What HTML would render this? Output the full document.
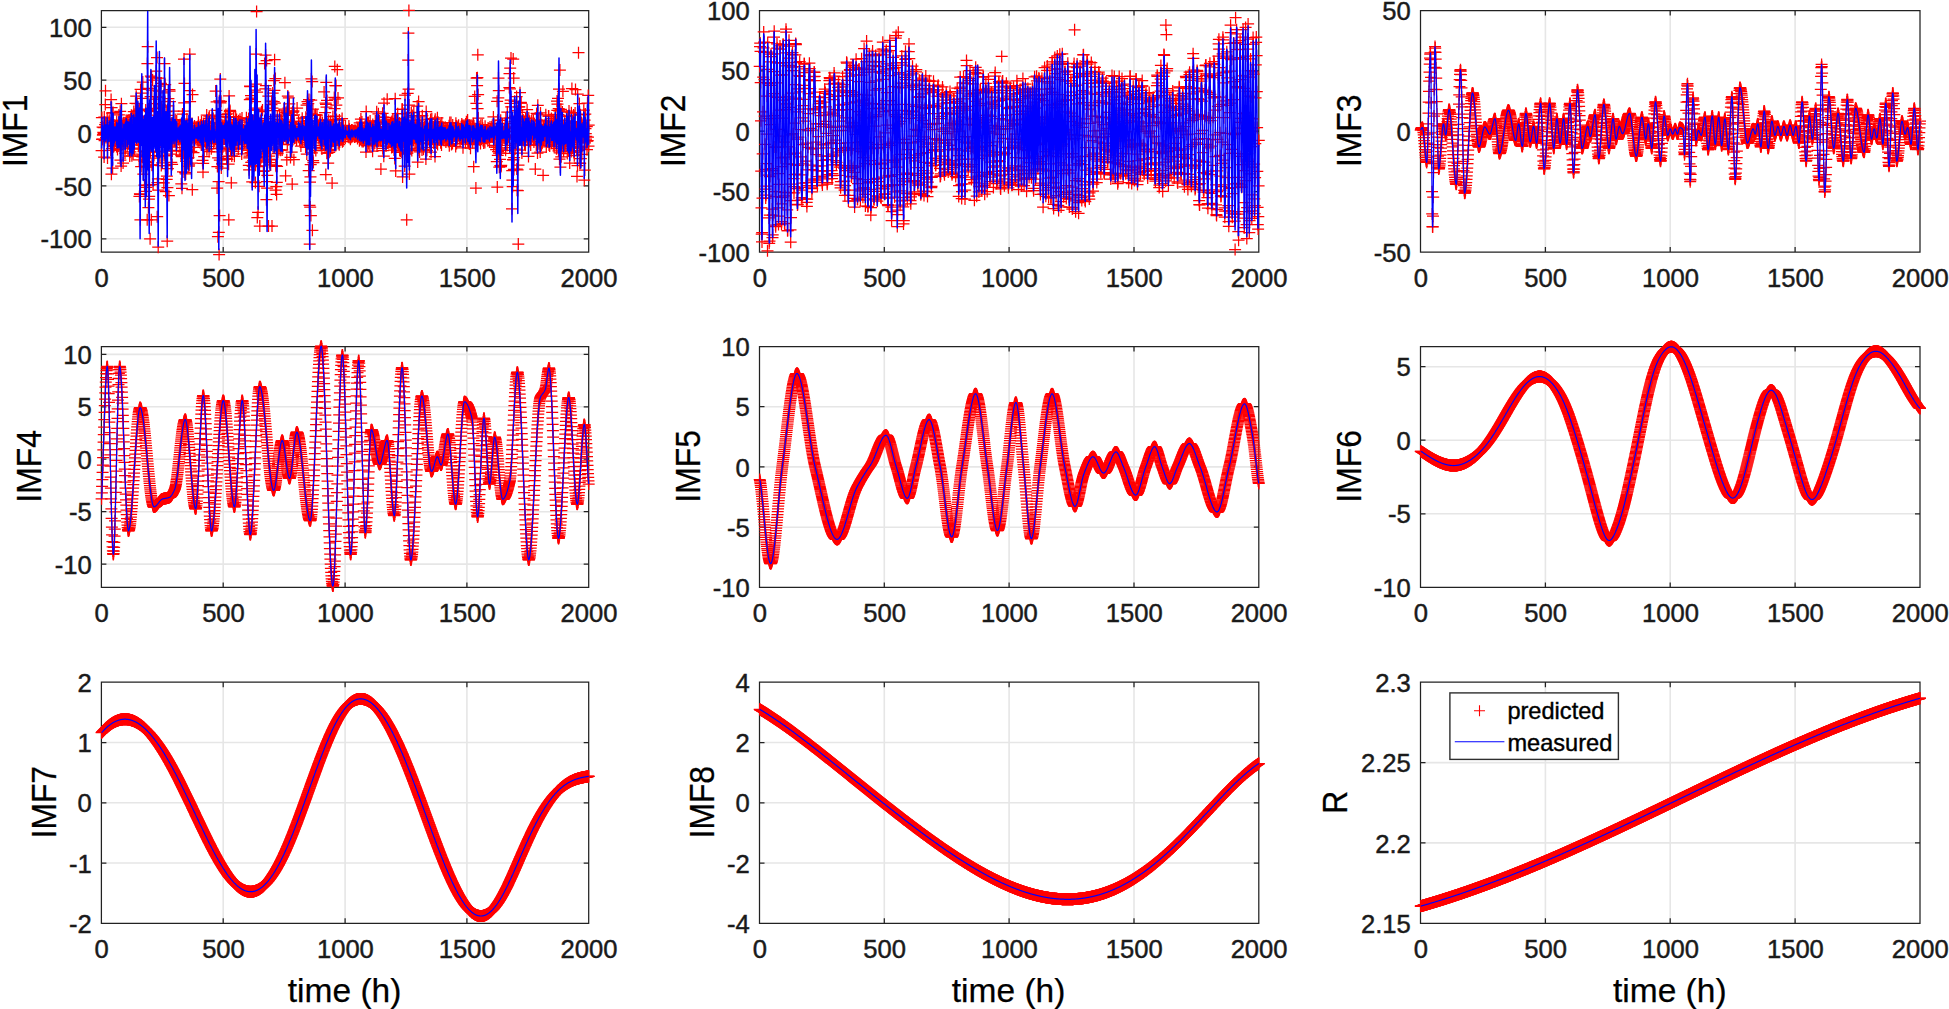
<!DOCTYPE html>
<html lang="en"><head><meta charset="utf-8"><title>IMF predicted vs measured</title>
<style>html,body{margin:0;padding:0;background:#fff}svg{display:block}text{font-family:"Liberation Sans",Arial,Helvetica,sans-serif;fill:#1a1a1a;stroke:#1a1a1a;stroke-width:.45px}.t{font-size:25.6px}.l{font-size:33.5px;fill:#000;stroke:#000;stroke-width:.25px}.g{font-size:23.6px;fill:#000;stroke:#000;stroke-width:.4px}.r{stroke:none;fill:none;marker-start:url(#m);marker-mid:url(#m);marker-end:url(#m)}.b{stroke:#00f;stroke-width:1.2;fill:none;stroke-linejoin:round}</style></head><body>
<svg width="1949" height="1009" viewBox="0 0 1949 1009">
<defs><marker id="m" markerUnits="userSpaceOnUse" markerWidth="12" markerHeight="12" refX="6" refY="6" overflow="visible"><path d="M0 6H12M6 0V12" stroke="#f00" stroke-width="1.25" fill="none"/></marker></defs>
<rect width="1949" height="1009" fill="#fff"/>
<g>
<path d="M223.2 10.5V252.0M345.1 10.5V252.0M466.9 10.5V252.0M101.4 238.8H588.7M101.4 185.9H588.7M101.4 133.0H588.7M101.4 80.2H588.7M101.4 27.3H588.7" stroke="#e6e6e6" stroke-width="1.6" fill="none"/>
<path d="M101.4 10.5H588.7V252.0H101.4ZM223.2 252.0v-5 M223.2 10.5v5M345.1 252.0v-5 M345.1 10.5v5M466.9 252.0v-5 M466.9 10.5v5M101.4 238.8h5 M588.7 238.8h-5M101.4 185.9h5 M588.7 185.9h-5M101.4 133.0h5 M588.7 133.0h-5M101.4 80.2h5 M588.7 80.2h-5M101.4 27.3h5 M588.7 27.3h-5" stroke="#222222" stroke-width="1.25" fill="none"/>
<text class="t" x="101.7" y="286.7" text-anchor="middle">0</text>
<text class="t" x="223.5" y="286.7" text-anchor="middle">500</text>
<text class="t" x="345.4" y="286.7" text-anchor="middle">1000</text>
<text class="t" x="467.2" y="286.7" text-anchor="middle">1500</text>
<text class="t" x="589.0" y="286.7" text-anchor="middle">2000</text>
<text class="t" x="91.7" y="248.3" text-anchor="end">-100</text>
<text class="t" x="91.7" y="195.5" text-anchor="end">-50</text>
<text class="t" x="91.7" y="142.6" text-anchor="end">0</text>
<text class="t" x="91.7" y="89.7" text-anchor="end">50</text>
<text class="t" x="91.7" y="36.9" text-anchor="end">100</text>
<text class="l" transform="translate(26.6 130.8) rotate(-90) scale(.95 1.04)" text-anchor="middle">IMF1</text>
<polyline class="r" points="101.6,150.7 101.9,117.6 102.1,139.3 102.4,139.2 102.6,127.1 102.9,135.2 103.1,134.3 103.3,132.4 103.6,127.5 103.8,133.6 104.1,157.1 104.3,117.1 104.6,140.6 104.8,132.6 105.1,124.6 105.3,104.5 105.5,90.8 105.8,122.7 106,137.6 106.3,126.2 106.5,131 106.8,134.1 107,136 107.2,118 107.5,157.9 107.7,125.3 108,135.7 108.2,141.5 108.5,135.6 108.7,133.4 109,140.1 109.2,120.2 109.4,124.2 109.7,128.9 109.9,128.2 110.2,133.3 110.4,124.8 110.7,150.4 110.9,134.3 111.1,99.6 111.4,174.2 111.6,107.6 111.9,148.7 112.1,113.2 112.4,136.4 112.6,168.1 112.9,125.5 113.1,112.6 113.3,132.9 113.6,146.7 113.8,125.1 114.1,129.9 114.3,145.6 114.6,133.6 114.8,129.5 115,128.6 115.3,136.3 115.5,125.7 115.8,140.8 116,135.1 116.3,132 116.5,146.4 116.7,121.5 117,130.1 117.2,146.5 117.5,149.5 117.7,126.9 118,125.5 118.2,137.5 118.5,136.2 118.7,146.1 118.9,114.9 119.2,134.5 119.4,136.7 119.7,143.9 119.9,145.8 120.2,111.3 120.4,160 120.6,120.3 120.9,122.3 121.1,166 121.4,103.7 121.6,145.3 121.9,123.6 122.1,141.7 122.4,136.1 122.6,130.9 122.8,132.6 123.1,163 123.3,124.3 123.6,135.1 123.8,122.7 124.1,122.9 124.3,141.2 124.5,135 124.8,137.3 125,153 125.3,148.2 125.5,123.5 125.8,122.8 126,138.8 126.3,121.5 126.5,124.6 126.7,140.6 127,128.6 127.2,146.1 127.5,126.8 127.7,121.1 128,143.8 128.2,125.9 128.4,125.9 128.7,135.4 128.9,120.2 129.2,129.9 129.4,125.6 129.7,156.1 129.9,134.7 130.2,120.2 130.4,151.8 130.6,120.7 130.9,119.5 131.1,142 131.4,115.2 131.6,142.5 131.9,155.8 132.1,117.1 132.3,148.2 132.6,138.7 132.8,126 133.1,154.2 133.3,135.4 133.6,131.1 133.8,111.6 134,134.3 134.3,149 134.5,125.6 134.8,130 135,116.4 135.3,121.8 135.5,103.3 135.8,137 136,113 136.2,96.2 136.5,117.1 136.7,140.1 137,124.7 137.2,103.5 137.5,133.4 137.7,119.6 137.9,116.5 138.2,110.4 138.4,145 138.7,118 138.9,144.1 139.2,159.9 139.4,196.4 139.7,109.1 139.9,193.9 140.1,194.4 140.4,219.8 140.6,89.4 140.9,156.3 141.1,166.5 141.4,136.1 141.6,98.4 141.8,93.2 142.1,116 142.3,156.9 142.6,145 142.8,82.1 143.1,155 143.3,174 143.6,151.5 143.8,151.6 144,145.1 144.3,161.1 144.5,185.1 144.8,121.6 145,151 145.3,185.3 145.5,161.5 145.7,109.9 146,191.4 146.2,167 146.5,187.3 146.7,166.2 147,117.7 147.2,219.8 147.4,63.5 147.7,46.7 147.9,88.3 148.2,162.7 148.4,207.5 148.7,109.8 148.9,199.2 149.2,196.3 149.4,185.1 149.6,111.7 149.9,110.4 150.1,238.8 150.4,151.8 150.6,96.6 150.9,76.2 151.1,108.3 151.3,219.8 151.6,77 151.8,90.2 152.1,165.2 152.3,164.9 152.6,80.1 152.8,158 153.1,184.6 153.3,152.1 153.5,103.6 153.8,121.1 154,155.6 154.3,108.6 154.5,99.2 154.8,118.7 155,138 155.2,115.1 155.5,119.9 155.7,144.2 156,77.8 156.2,71 156.5,96.9 156.7,151.5 157,57.6 157.2,216.7 157.4,182.7 157.7,122.1 157.9,178.9 158.2,247.2 158.4,190.2 158.7,91.2 158.9,156 159.1,86 159.4,78 159.6,97.2 159.9,155.8 160.1,123.7 160.4,104.8 160.6,112.5 160.9,83.3 161.1,113.2 161.3,165.5 161.6,107.2 161.8,147.3 162.1,162.9 162.3,114.9 162.6,121.2 162.8,114.8 163,113.9 163.3,125.5 163.5,120.8 163.8,182.9 164,155.6 164.3,92.8 164.5,63.6 164.7,101.3 165,155.6 165.2,84.6 165.5,165.6 165.7,191.7 166,146.8 166.2,111.6 166.5,145 166.7,179.3 166.9,176.2 167.2,241.2 167.4,187.6 167.7,115.4 167.9,168.7 168.2,105.8 168.4,98.7 168.6,119.7 168.9,195.6 169.1,124.5 169.4,89.6 169.6,91 169.9,101.7 170.1,146.1 170.4,140.1 170.6,140.1 170.8,123.8 171.1,154 171.3,162.4 171.6,147.1 171.8,122.9 172.1,164.4 172.3,151.1 172.5,141.6 172.8,138.7 173,134.6 173.3,123.3 173.5,111.2 173.8,128.8 174,139.9 174.3,137.9 174.5,138.4 174.7,140.4 175,131.4 175.2,119.5 175.5,128.3 175.7,140.4 176,127.4 176.2,129.2 176.4,150.3 176.7,121 176.9,142.4 177.2,133.9 177.4,129.2 177.7,134.5 177.9,133.6 178.1,130.9 178.4,137.2 178.6,139.4 178.9,127.5 179.1,127 179.4,137.8 179.6,128.1 179.9,144.1 180.1,124.7 180.3,134.1 180.6,137.8 180.8,130.3 181.1,155.2 181.3,183.8 181.6,133.1 181.8,156.5 182,188.3 182.3,147.6 182.5,114 182.8,155.1 183,171.9 183.3,120.6 183.5,151.6 183.8,111.1 184,59.1 184.2,102.8 184.5,83.4 184.7,153.1 185,172.6 185.2,154.3 185.5,142.8 185.7,173.9 185.9,151.5 186.2,161.4 186.4,158.5 186.7,143.3 186.9,119.1 187.2,163.2 187.4,149.9 187.7,158 187.9,124.9 188.1,146.4 188.4,157.6 188.6,150.1 188.9,166.2 189.1,164.9 189.4,147.8 189.6,90.7 189.8,54.2 190.1,101.5 190.3,151.5 190.6,151.8 190.8,142.3 191.1,125.8 191.3,151.4 191.6,163.1 191.8,139.2 192,123.4 192.3,189.7 192.5,94.5 192.8,131.5 193,130.4 193.3,132.4 193.5,152.7 193.7,135.4 194,139.6 194.2,147.3 194.5,125.9 194.7,136.3 195,129.6 195.2,131.6 195.4,130.8 195.7,138.3 195.9,135.8 196.2,128.6 196.4,132.8 196.7,136.7 196.9,127.8 197.2,138.2 197.4,138.4 197.6,128.9 197.9,126.6 198.1,141.3 198.4,122.2 198.6,130 198.9,137.3 199.1,138.4 199.3,130.4 199.6,137.6 199.8,127.7 200.1,142.5 200.3,125.2 200.6,133.6 200.8,133.8 201.1,127.6 201.3,144.9 201.5,122.1 201.8,137.7 202,127.9 202.3,139.1 202.5,160.4 202.8,125.7 203,172.2 203.2,163.3 203.5,145.4 203.7,123.8 204,139.6 204.2,156.7 204.5,134.9 204.7,126.9 205,137 205.2,125.7 205.4,142.1 205.7,128.2 205.9,121 206.2,138.9 206.4,142.3 206.7,115.1 206.9,149.8 207.1,121.5 207.4,141.1 207.6,146.3 207.9,130.3 208.1,131.8 208.4,125.7 208.6,137.7 208.8,118.3 209.1,151.5 209.3,116.2 209.6,141.8 209.8,131.7 210.1,131.7 210.3,133.6 210.6,131.3 210.8,134.5 211,133.6 211.3,148.7 211.5,129.2 211.8,123.6 212,126.6 212.3,115.2 212.5,117.8 212.7,138.4 213,131.6 213.2,118.5 213.5,137 213.7,143.5 214,122.6 214.2,141.2 214.5,129.7 214.7,136.2 214.9,137.2 215.2,133.4 215.4,132.8 215.7,91 215.9,124.9 216.2,142.3 216.4,110.3 216.6,101.9 216.9,116.6 217.1,188.1 217.4,166.5 217.6,151.8 217.9,236.7 218.1,157.9 218.4,116 218.6,181.5 218.8,232.3 219.1,254.6 219.3,100.8 219.6,215.6 219.8,160.1 220.1,101.9 220.3,79 220.5,102.9 220.8,144.3 221,101.3 221.3,168.1 221.5,148.4 221.8,124.8 222,163.9 222.3,149 222.5,147 222.7,126.6 223,125.4 223.2,136.9 223.5,138.1 223.7,128.3 224,138.4 224.2,125.8 224.4,133.7 224.7,138.2 224.9,122.7 225.2,129.2 225.4,116.8 225.7,130.7 225.9,114.4 226.1,148.5 226.4,127.5 226.6,158.5 226.9,150.8 227.1,127.2 227.4,159.4 227.6,156.6 227.9,156.1 228.1,113.8 228.3,117 228.6,164.2 228.8,219.8 229.1,95.9 229.3,116.9 229.6,142.9 229.8,111.7 230,110.4 230.3,116.9 230.5,149.4 230.8,124 231,129.6 231.3,182.8 231.5,129 231.8,155.9 232,126.2 232.2,130.6 232.5,133.6 232.7,148.1 233,126 233.2,134.2 233.5,151.3 233.7,116.9 233.9,130.2 234.2,123.6 234.4,156.3 234.7,140.1 234.9,122.3 235.2,142.3 235.4,126.4 235.7,116.7 235.9,130.2 236.1,144.7 236.4,131.6 236.6,119.6 236.9,138.9 237.1,137.2 237.4,129.7 237.6,140.5 237.8,131.9 238.1,125.9 238.3,148.9 238.6,120.7 238.8,131.1 239.1,132.2 239.3,133.3 239.5,129.5 239.8,144 240,119.2 240.3,133.1 240.5,129.9 240.8,133.3 241,134.7 241.3,133.8 241.5,126.3 241.7,153.9 242,118.1 242.2,134 242.5,148.1 242.7,128.9 243,131.8 243.2,132.8 243.4,130 243.7,134.3 243.9,140.3 244.2,131.4 244.4,136.5 244.7,142.8 244.9,125.6 245.2,130.4 245.4,135.7 245.6,133 245.9,131.4 246.1,141.5 246.4,117.8 246.6,141.1 246.9,135.2 247.1,132.1 247.3,150 247.6,122 247.8,129.6 248.1,146.5 248.3,150.1 248.6,118.5 248.8,165.3 249.1,169.8 249.3,157.8 249.5,156.2 249.8,99.5 250,86.2 250.3,86.6 250.5,152.6 250.8,99 251,95.6 251.2,162.3 251.5,146.6 251.7,98.1 252,162.4 252.2,181.8 252.5,155.7 252.7,166.1 253,142.4 253.2,160.6 253.4,120.6 253.7,153.1 253.9,165.9 254.2,160.8 254.4,146.9 254.7,109.9 254.9,90.2 255.1,101.6 255.4,182.6 255.6,165.3 255.9,84.2 256.1,54.1 256.4,110.2 256.6,11.5 256.8,108.1 257.1,92.1 257.3,217.6 257.6,149.7 257.8,166.6 258.1,212.3 258.3,156.5 258.6,121.8 258.8,146.1 259,186.3 259.3,165.8 259.5,162.1 259.8,226.1 260,148.2 260.3,160.2 260.5,126.6 260.7,120.4 261,157.7 261.2,125.9 261.5,111.7 261.7,143.9 262,131 262.2,134.8 262.5,110.1 262.7,126.6 262.9,153.9 263.2,153.1 263.4,171.4 263.7,144.9 263.9,151.4 264.2,170.8 264.4,156.5 264.6,63.6 264.9,143.8 265.1,147.1 265.4,88.8 265.6,55.1 265.9,85.6 266.1,161 266.4,199.7 266.6,60.5 266.8,181.7 267.1,188 267.3,175.4 267.6,118.5 267.8,149.9 268.1,122.5 268.3,96.2 268.5,226.1 268.8,148.1 269,156.1 269.3,162.6 269.5,126.9 269.8,138.2 270,159.4 270.2,142 270.5,121.7 270.7,164.9 271,159.8 271.2,135.1 271.5,104.7 271.7,101.2 272,226.1 272.2,137.4 272.4,108 272.7,93.1 272.9,116.6 273.2,142.1 273.4,110.5 273.7,101.7 273.9,80.5 274.1,143.3 274.4,90.4 274.6,59.7 274.9,103.1 275.1,140.3 275.4,78.5 275.6,190 275.9,165.5 276.1,166.3 276.3,186.5 276.6,194.4 276.8,182.3 277.1,166.3 277.3,116.4 277.6,153.7 277.8,151.9 278,124.7 278.3,136.5 278.5,128.2 278.8,133.5 279,149.7 279.3,131.8 279.5,115.1 279.8,135.8 280,131.8 280.2,141.1 280.5,129.2 280.7,150.3 281,119.4 281.2,120.8 281.5,144.1 281.7,127.1 281.9,123.2 282.2,149.9 282.4,123.6 282.7,130.8 282.9,134 283.2,125.1 283.4,138.8 283.7,128.3 283.9,133.9 284.1,109.2 284.4,110.9 284.6,125 284.9,82.7 285.1,136.5 285.4,135.3 285.6,175.8 285.8,135.4 286.1,112.5 286.3,138 286.6,138 286.8,159.8 287.1,111.2 287.3,144.6 287.5,113.4 287.8,96.1 288,113.9 288.3,139.5 288.5,108.2 288.8,97.8 289,134.2 289.3,103.9 289.5,135.5 289.7,129.9 290,132.8 290.2,124.9 290.5,157.4 290.7,122 291,138.8 291.2,131.6 291.4,122.7 291.7,152.1 291.9,115.4 292.2,184.1 292.4,126.9 292.7,112 292.9,139.4 293.2,111.9 293.4,110.9 293.6,121.3 293.9,159.7 294.1,114.9 294.4,124.3 294.6,138.3 294.9,134.8 295.1,126.9 295.3,130.5 295.6,133.2 295.8,137.7 296.1,128.9 296.3,134.8 296.6,140 296.8,132.4 297.1,108 297.3,135.2 297.5,134.6 297.8,133.2 298,130.4 298.3,137.3 298.5,121.3 298.8,135.9 299,130.5 299.2,132.2 299.5,131.7 299.7,140.1 300,123.3 300.2,137.6 300.5,131.3 300.7,128 300.9,146 301.2,126.9 301.4,129.3 301.7,139.2 301.9,137.6 302.2,118.2 302.4,140.5 302.7,135 302.9,133.7 303.1,123.8 303.4,134.6 303.6,131.5 303.9,132.3 304.1,132.1 304.4,140.1 304.6,135.3 304.8,126.2 305.1,132 305.3,140.4 305.6,147.3 305.8,117.2 306.1,139.6 306.3,126.1 306.6,105 306.8,154 307,142.3 307.3,116.7 307.5,101.5 307.8,120.5 308,144 308.3,103.6 308.5,123.1 308.7,170.5 309,99.6 309.2,118.2 309.5,205.3 309.7,244 310,182.2 310.2,207.1 310.5,176.8 310.7,164.7 310.9,215.5 311.2,100.2 311.4,78.9 311.7,113.9 311.9,152.8 312.2,81.5 312.4,230.3 312.6,137.9 312.9,109 313.1,160.5 313.4,162.5 313.6,130.9 313.9,138.3 314.1,130.9 314.4,147.7 314.6,121.4 314.8,115.3 315.1,145.7 315.3,133.3 315.6,114.6 315.8,150.6 316.1,130.3 316.3,136.3 316.5,132.6 316.8,133.9 317,115 317.3,134.8 317.5,134.8 317.8,131 318,135.6 318.2,131.8 318.5,130.3 318.7,125.5 319,138 319.2,137.3 319.5,123.7 319.7,124.5 320,122.1 320.2,142.8 320.4,131 320.7,120 320.9,145.3 321.2,131.6 321.4,137 321.7,134 321.9,148.9 322.1,130.6 322.4,122.6 322.6,140 322.9,125.4 323.1,135.4 323.4,129.5 323.6,139.9 323.9,130.9 324.1,91.9 324.3,145.2 324.6,124.7 324.8,141.1 325.1,112.6 325.3,119.8 325.6,103 325.8,174.6 326,104.3 326.3,82.4 326.5,107.1 326.8,153.2 327,100.4 327.3,142 327.5,153.2 327.8,129.2 328,150.3 328.2,163 328.5,146.5 328.7,120.3 329,149.4 329.2,152.3 329.5,134.4 329.7,133.5 329.9,127.7 330.2,129.4 330.4,150.8 330.7,121.5 330.9,125.5 331.2,143.2 331.4,132.7 331.6,145.4 331.9,126.4 332.1,183.1 332.4,140.6 332.6,126.2 332.9,116.6 333.1,136 333.4,124.3 333.6,141.1 333.8,128.7 334.1,133.4 334.3,97.4 334.6,108.5 334.8,66.4 335.1,99.1 335.3,85.7 335.5,116.1 335.8,145 336,85.6 336.3,105.2 336.5,119.5 336.8,139.2 337,135 337.3,69.7 337.5,130.9 337.7,135.2 338,97.9 338.2,143.5 338.5,127.8 338.7,131.5 339,130.8 339.2,144.7 339.4,120 339.7,142 339.9,135.4 340.2,127.8 340.4,138.4 340.7,133 340.9,133.3 341.2,130.8 341.4,128.1 341.6,138.8 341.9,136.1 342.1,118.5 342.4,141.7 342.6,129.5 342.9,135.8 343.1,141.1 343.3,125.3 343.6,137.8 343.8,132.8 344.1,132.2 344.3,131.5 344.6,133.5 344.8,130.7 345.1,134.5 345.3,138 345.5,126 345.8,132.2 346,131.7 346.3,132.5 346.5,133.3 346.8,133.5 347,131 347.2,131.2 347.5,134.1 347.7,132 348,136.6 348.2,131.6 348.5,134.4 348.7,136.8 348.9,125.9 349.2,137.5 349.4,129.2 349.7,130.7 349.9,133.1 350.2,131.3 350.4,139.3 350.7,131 350.9,137.6 351.1,134 351.4,136.8 351.6,130.1 351.9,133.1 352.1,129.9 352.4,133.9 352.6,136.4 352.8,136 353.1,131.4 353.3,130.8 353.6,131.3 353.8,132.9 354.1,134.4 354.3,131.7 354.6,137.1 354.8,130.5 355,131.6 355.3,130.5 355.5,136.5 355.8,131.2 356,132.4 356.3,135.4 356.5,132.2 356.7,134.5 357,131.6 357.2,128.9 357.5,138.5 357.7,128.8 358,129.9 358.2,128.5 358.5,135.1 358.7,136.7 358.9,132.2 359.2,134.2 359.4,140.8 359.7,122.9 359.9,133.8 360.2,134.5 360.4,128 360.6,139.3 360.9,119.1 361.1,139.7 361.4,132 361.6,137.8 361.9,122 362.1,141.5 362.3,138.4 362.6,129.5 362.8,129.1 363.1,137.6 363.3,141.6 363.6,132.7 363.8,135 364.1,139.5 364.3,131.6 364.5,130.6 364.8,128.6 365,139.9 365.3,133.4 365.5,132.7 365.8,125.9 366,152 366.2,111.5 366.5,136.6 366.7,138.4 367,123.6 367.2,145.6 367.5,122.8 367.7,137.5 368,140.9 368.2,131.1 368.4,122.6 368.7,143.8 368.9,127.9 369.2,129.7 369.4,131.1 369.7,125.9 369.9,145.7 370.1,121 370.4,130.4 370.6,135.6 370.9,130.2 371.1,134.2 371.4,131.2 371.6,132 371.9,128.9 372.1,143.2 372.3,135.9 372.6,151.2 372.8,124.5 373.1,126.3 373.3,137.5 373.6,126.2 373.8,144.7 374,134.8 374.3,131.5 374.5,135.4 374.8,143.1 375,130.6 375.3,121 375.5,138.1 375.7,140.1 376,137.6 376.2,126.7 376.5,127.8 376.7,111.8 377,145.9 377.2,124 377.5,138 377.7,127.2 377.9,140 378.2,140.4 378.4,113.8 378.7,140.9 378.9,136.1 379.2,122.2 379.4,137.3 379.6,121 379.9,129.4 380.1,129.9 380.4,140.6 380.6,136.7 380.9,169 381.1,134 381.4,132.7 381.6,134.1 381.8,141.1 382.1,136.5 382.3,135.8 382.6,113.3 382.8,148.4 383.1,117.2 383.3,150.5 383.5,137.6 383.8,156.2 384,103.2 384.3,132.3 384.5,137.9 384.8,117.4 385,138.1 385.3,131.4 385.5,122.9 385.7,139.3 386,146.1 386.2,119.8 386.5,130.8 386.7,136.1 387,122.8 387.2,99.2 387.4,131.2 387.7,137.9 387.9,131.3 388.2,137.5 388.4,134.4 388.7,141.6 388.9,124.3 389.2,139.4 389.4,128.9 389.6,132.3 389.9,129.2 390.1,142.5 390.4,122.9 390.6,136.5 390.9,135.4 391.1,141.2 391.3,122.7 391.6,147.4 391.8,121.6 392.1,133.4 392.3,138.6 392.6,147.1 392.8,120 393,146.2 393.3,136.1 393.5,135.5 393.8,123.9 394,150.1 394.3,120.4 394.5,136.6 394.8,158.4 395,137.6 395.2,98.7 395.5,135.1 395.7,170.9 396,118.4 396.2,137 396.5,119.2 396.7,140.2 396.9,135 397.2,143.5 397.4,138.4 397.7,113.7 397.9,143.1 398.2,130.1 398.4,123.9 398.7,145.3 398.9,132 399.1,132.8 399.4,122.9 399.6,150.4 399.9,131.4 400.1,138.2 400.4,127.2 400.6,151 400.8,130.5 401.1,143.3 401.3,126 401.6,132.3 401.8,152.3 402.1,109.3 402.3,109.3 402.6,176.9 402.8,118.6 403,132.6 403.3,142.1 403.5,132.1 403.8,133.5 404,113.5 404.3,141.3 404.5,130.4 404.7,166 405,95.2 405.2,135.5 405.5,127.7 405.7,150.6 406,154.2 406.2,120.1 406.4,153.4 406.7,219.8 406.9,151.9 407.2,117.1 407.4,153.2 407.7,93.4 407.9,149.2 408.2,60.1 408.4,33 408.6,89.2 408.9,10.4 409.1,105 409.4,174 409.6,148.8 409.9,136.3 410.1,138.8 410.3,139.6 410.6,137.3 410.8,131.6 411.1,142.4 411.3,112.7 411.6,120.7 411.8,150.6 412.1,139.9 412.3,115.5 412.5,127.7 412.8,132.4 413,135.4 413.3,130.1 413.5,140.5 413.8,112.3 414,138 414.2,131.8 414.5,127.5 414.7,129.6 415,143.3 415.2,123.4 415.5,135.1 415.7,137.8 416,142.5 416.2,125.3 416.4,139.1 416.7,127.7 416.9,142.4 417.2,106.1 417.4,135.1 417.7,162 417.9,120.2 418.1,126.7 418.4,148.1 418.6,101.5 418.9,149.9 419.1,140 419.4,116.9 419.6,151.9 419.9,122.9 420.1,131.9 420.3,139.2 420.6,127.7 420.8,130.6 421.1,142.8 421.3,135.4 421.6,126.2 421.8,136.7 422,150.1 422.3,115.7 422.5,129.2 422.8,138.3 423,135.1 423.3,132.2 423.5,149.3 423.7,132.5 424,127.2 424.2,132.8 424.5,134.1 424.7,127 425,125.1 425.2,127.9 425.5,140.4 425.7,124.9 425.9,159 426.2,111.6 426.4,129 426.7,143.7 426.9,150.5 427.2,119 427.4,130.5 427.6,129.3 427.9,140.1 428.1,138.5 428.4,133.6 428.6,134.6 428.9,133.4 429.1,127.9 429.4,135.9 429.6,123.6 429.8,147.3 430.1,125.8 430.3,133.8 430.6,119.6 430.8,140.2 431.1,152.1 431.3,125.2 431.5,144.4 431.8,118.7 432,136.4 432.3,130.7 432.5,137.3 432.8,137 433,130.7 433.3,129.4 433.5,128.6 433.7,143.1 434,136.4 434.2,130.2 434.5,126.2 434.7,121.5 435,156.6 435.2,119.2 435.4,130.8 435.7,135.1 435.9,134.8 436.2,134 436.4,126.8 436.7,143 436.9,135.8 437.1,122 437.4,117.8 437.6,144.6 437.9,122 438.1,134.6 438.4,131.3 438.6,133.6 438.9,139.5 439.1,137.9 439.3,129 439.6,130.5 439.8,139.9 440.1,129.7 440.3,126.1 440.6,142.8 440.8,128.7 441,138.4 441.3,133.9 441.5,144.9 441.8,123.1 442,135.6 442.3,139 442.5,132.6 442.8,135.6 443,129.4 443.2,140 443.5,127.7 443.7,137.7 444,128.4 444.2,132.8 444.5,133.3 444.7,131.1 444.9,138.2 445.2,127.2 445.4,132.3 445.7,133.7 445.9,142 446.2,129.4 446.4,131.7 446.7,139.6 446.9,130.9 447.1,128.6 447.4,136 447.6,129.4 447.9,136.8 448.1,134.4 448.4,141.4 448.6,132.6 448.8,131.9 449.1,125.7 449.3,145.7 449.6,129.9 449.8,122.5 450.1,140 450.3,130.7 450.6,135.6 450.8,138.8 451,122.5 451.3,129 451.5,144.4 451.8,135.9 452,135.9 452.3,128.4 452.5,143.6 452.7,125.1 453,138.4 453.2,127.9 453.5,132.7 453.7,135.6 454,136 454.2,136 454.4,132.4 454.7,130.7 454.9,132.6 455.2,130.2 455.4,130.4 455.7,146.4 455.9,123.3 456.2,125.9 456.4,130.2 456.6,143.6 456.9,138.2 457.1,126.6 457.4,138.3 457.6,128 457.9,134.2 458.1,135.7 458.3,130.7 458.6,125.2 458.8,135 459.1,129.6 459.3,138.6 459.6,136.1 459.8,131.2 460.1,140.6 460.3,133.5 460.5,135.1 460.8,131.2 461,129.9 461.3,138.9 461.5,126.1 461.8,124.1 462,139 462.2,134.8 462.5,126.2 462.7,135.2 463,147.8 463.2,126.4 463.5,128.1 463.7,129.3 464,134.3 464.2,136.2 464.4,126.8 464.7,132 464.9,127.6 465.2,137.2 465.4,142.6 465.7,124.1 465.9,137.5 466.1,135.9 466.4,121.8 466.6,132.5 466.9,139 467.1,132.4 467.4,135.5 467.6,120.1 467.8,141 468.1,130.1 468.3,134.1 468.6,141.7 468.8,132.3 469.1,125.1 469.3,144 469.6,135.3 469.8,130.6 470,126.1 470.3,127.7 470.5,148.2 470.8,130.7 471,132.9 471.3,136.7 471.5,132.5 471.7,134.6 472,133.1 472.2,126.5 472.5,127.2 472.7,142.7 473,127.4 473.2,138.1 473.5,123.8 473.7,166.7 473.9,125.9 474.2,130.1 474.4,136.9 474.7,96.4 474.9,128.4 475.2,136.5 475.4,141.9 475.6,143.7 475.9,188 476.1,144.7 476.4,103.3 476.6,78.1 476.9,136.5 477.1,85.7 477.4,77.7 477.6,108.7 477.8,54.8 478.1,94.6 478.3,118.1 478.6,135.5 478.8,135.1 479.1,126.7 479.3,139.8 479.5,133.7 479.8,129.1 480,131.3 480.3,135.3 480.5,143.4 480.8,125.3 481,134.2 481.3,135.8 481.5,130.5 481.7,132.5 482,135.4 482.2,124.7 482.5,136.8 482.7,128.2 483,140.4 483.2,129.9 483.4,130.3 483.7,142.9 483.9,141 484.2,132.4 484.4,131 484.7,134.1 484.9,142.4 485.1,126.2 485.4,133 485.6,130.8 485.9,137.8 486.1,134.6 486.4,131.2 486.6,131.7 486.9,138.4 487.1,130.3 487.3,133.9 487.6,130.3 487.8,140.8 488.1,128 488.3,135.4 488.6,130.8 488.8,131.2 489,134.3 489.3,131.4 489.5,141.9 489.8,132.6 490,127 490.3,135.9 490.5,129.6 490.8,131.8 491,134.9 491.2,136.7 491.5,133.4 491.7,126.9 492,129.9 492.2,133.9 492.5,137 492.7,131.4 492.9,127.6 493.2,133.7 493.4,116.9 493.7,145.4 493.9,123.5 494.2,138.7 494.4,137 494.7,134.1 494.9,127 495.1,133.4 495.4,134.7 495.6,133.2 495.9,147.2 496.1,149.5 496.4,131.1 496.6,147 496.8,161.5 497.1,101.3 497.3,187 497.6,120.2 497.8,155.3 498.1,151.7 498.3,97.9 498.5,78.1 498.8,90.6 499,153.2 499.3,167.2 499.5,147.9 499.8,126.9 500,159.3 500.3,165.6 500.5,153.2 500.7,120.3 501,166.6 501.2,165.4 501.5,149.2 501.7,137 502,132.1 502.2,139.9 502.4,123.9 502.7,135 502.9,135 503.2,137.7 503.4,131.6 503.7,134.2 503.9,133.8 504.2,138.2 504.4,131.2 504.6,130.1 504.9,137.8 505.1,123.3 505.4,135.9 505.6,150.3 505.9,118 506.1,135.9 506.3,127.5 506.6,136.2 506.8,137.7 507.1,145.4 507.3,112.1 507.6,139.1 507.8,134.9 508.1,137.4 508.3,136.8 508.5,128.6 508.8,135.7 509,131.5 509.3,87.6 509.5,73.5 509.8,147.7 510,88.8 510.2,68.1 510.5,103.3 510.7,100.1 511,58 511.2,106.9 511.5,117.7 511.7,153.4 512,208.8 512.2,170.6 512.4,180.1 512.7,186.5 512.9,159.6 513.2,59 513.4,159.9 513.7,78.1 513.9,169.4 514.1,157.6 514.4,121.4 514.6,101.3 514.9,116.1 515.1,149.1 515.4,117.8 515.6,116.9 515.8,126.9 516.1,143.5 516.3,118.9 516.6,96.5 516.8,169.1 517.1,190.3 517.3,110.7 517.6,169.8 517.8,190.6 518,150 518.3,244.1 518.5,165.1 518.8,106.8 519,117.1 519.3,106.9 519.5,136.7 519.7,112.3 520,92.7 520.2,119.2 520.5,102.8 520.7,102.4 521,103.1 521.2,134.7 521.5,129.6 521.7,131.4 521.9,153.1 522.2,116.1 522.4,136.9 522.7,138.9 522.9,138.6 523.2,120 523.4,135.4 523.6,139.3 523.9,121.6 524.1,140.7 524.4,123.1 524.6,144.8 524.9,122 525.1,133 525.4,145.2 525.6,118.4 525.8,132.5 526.1,136.8 526.3,133.4 526.6,133.9 526.8,135.5 527.1,109.7 527.3,139.1 527.5,139.6 527.8,120 528,136.3 528.3,129.2 528.5,156.4 528.8,118.1 529,135.2 529.2,141.5 529.5,128.5 529.7,121.2 530,136.7 530.2,139.7 530.5,125.9 530.7,145 531,125.7 531.2,138.4 531.4,134.4 531.7,120.7 531.9,136.3 532.2,135 532.4,129.6 532.7,132 532.9,128.7 533.1,136.8 533.4,120.4 533.6,138.6 533.9,141.9 534.1,130.8 534.4,124 534.6,137.4 534.9,125.3 535.1,128.4 535.3,169 535.6,131.2 535.8,130.1 536.1,133 536.3,145 536.6,113.4 536.8,144.2 537,136 537.3,114.2 537.5,153 537.8,105.3 538,137.5 538.3,137 538.5,120.2 538.8,131.6 539,143.8 539.2,141.6 539.5,131.2 539.7,125 540,120.8 540.2,152 540.5,112.9 540.7,138.9 540.9,124.6 541.2,141.4 541.4,145.3 541.7,130.4 541.9,125.2 542.2,143.2 542.4,130.8 542.7,139.4 542.9,131.4 543.1,175.3 543.4,126.5 543.6,139.9 543.9,130.5 544.1,128.9 544.4,132 544.6,136.8 544.8,125.8 545.1,124.5 545.3,133.8 545.6,135.1 545.8,114.8 546.1,129.4 546.3,146.9 546.5,125.1 546.8,137.1 547,127.6 547.3,141.7 547.5,126.1 547.8,136.8 548,134.8 548.3,127.7 548.5,116 548.7,116 549,144.9 549.2,130 549.5,132.3 549.7,145.9 550,128.2 550.2,125.9 550.4,137.7 550.7,136.5 550.9,122.5 551.2,136.6 551.4,118.6 551.7,141.9 551.9,132.9 552.2,131.3 552.4,128.8 552.6,141.1 552.9,121.1 553.1,134.7 553.4,132.7 553.6,121.4 553.9,144.3 554.1,146.4 554.3,122 554.6,132.8 554.8,128.6 555.1,133.8 555.3,114.4 555.6,138.3 555.8,141.5 556.1,121.4 556.3,136.6 556.5,148.7 556.8,120.8 557,101 557.3,110.4 557.5,104 557.8,124.4 558,98.4 558.2,114.6 558.5,150.9 558.7,108.7 559,89 559.2,110.8 559.5,159.2 559.7,152.8 559.9,70.1 560.2,146.9 560.4,167.2 560.7,148.5 560.9,109.3 561.2,156.8 561.4,139.9 561.7,143.5 561.9,125.5 562.1,144.7 562.4,112 562.6,142.3 562.9,91.3 563.1,130.3 563.4,131.6 563.6,151.3 563.8,125.2 564.1,129.4 564.3,130.6 564.6,145 564.8,120.5 565.1,131.8 565.3,134.9 565.6,133.9 565.8,146.5 566,137.3 566.3,123.6 566.5,131.5 566.8,116.1 567,125 567.3,153.5 567.5,134.5 567.7,133.9 568,116.1 568.2,142.6 568.5,128 568.7,151.1 569,111 569.2,143.2 569.5,122.7 569.7,163.1 569.9,129.6 570.2,132.1 570.4,132.8 570.7,136.7 570.9,144.9 571.2,151.5 571.4,112.7 571.6,128.7 571.9,88.6 572.1,130.6 572.4,144.5 572.6,121.6 572.9,132.7 573.1,147.4 573.4,122.5 573.6,115.1 573.8,152.4 574.1,122.8 574.3,155.7 574.6,128.7 574.8,132.8 575.1,113 575.3,132.5 575.5,89.5 575.8,137.4 576,129.3 576.3,137.7 576.5,129.2 576.8,148 577,176.4 577.2,131 577.5,165.7 577.7,94.1 578,150.6 578.2,130.9 578.5,52.7 578.7,129.2 579,130.3 579.2,140.6 579.4,103.5 579.7,146.6 579.9,163.2 580.2,163.3 580.4,114.7 580.7,148.1 580.9,158.5 581.1,142.6 581.4,122.5 581.6,147.5 581.9,154.3 582.1,136.6 582.4,129 582.6,132.4 582.9,126.9 583.1,123.5 583.3,126.6 583.6,137.2 583.8,110.2 584.1,114.6 584.3,180.2 584.6,120 584.8,170.1 585,142.8 585.3,114.1 585.5,128.6 585.8,133.6 586,139 586.3,136.3 586.5,140.7 586.8,126.6 587,149.7 587.2,141.1 587.5,103.1 587.7,140.5 588,137.1 588.2,95.4 588.5,146.1 588.7,125"/>
<polyline class="b" style="stroke-width:1.5" points="101.6,148.4 101.9,117.5 102.1,138 102.4,139.5 102.6,125.6 102.9,134.8 103.1,132.4 103.3,132 103.6,126.9 103.8,134.3 104.1,158.8 104.3,116.8 104.6,139.4 104.8,135.1 105.1,125 105.3,134.4 105.5,141.1 105.8,124.7 106,139 106.3,127.1 106.5,132 106.8,132.9 107,135.1 107.2,117.8 107.5,157.9 107.7,125.3 108,136.1 108.2,141.5 108.5,135 108.7,131.1 109,141.2 109.2,120.9 109.4,123 109.7,129.5 109.9,128.7 110.2,133.4 110.4,122.2 110.7,148.7 110.9,133.5 111.1,101.8 111.4,173 111.6,107.1 111.9,147.1 112.1,112.5 112.4,136.9 112.6,165.2 112.9,121.5 113.1,113.4 113.3,132.9 113.6,145.8 113.8,126.4 114.1,131.2 114.3,142.7 114.6,133.3 114.8,131 115,127.6 115.3,135.8 115.5,126.9 115.8,140.4 116,133.4 116.3,131 116.5,144.5 116.7,122.2 117,127.6 117.2,147.9 117.5,147.2 117.7,126.9 118,123.5 118.2,137 118.5,137.6 118.7,147.7 118.9,116.7 119.2,134.3 119.4,136.8 119.7,144.2 119.9,146.6 120.2,110.8 120.4,161.5 120.6,120.7 120.9,123.9 121.1,166.6 121.4,104.6 121.6,144.2 121.9,123 122.1,139.9 122.4,135.7 122.6,130.6 122.8,133.7 123.1,161.2 123.3,128.8 123.6,134.9 123.8,124.4 124.1,124.3 124.3,137.7 124.5,134.6 124.8,139.3 125,149.6 125.3,149.3 125.5,122.2 125.8,122.1 126,139.1 126.3,118.8 126.5,124.8 126.7,139.6 127,127.5 127.2,147 127.5,131.7 127.7,121.5 128,144.5 128.2,125.8 128.4,124.9 128.7,135.7 128.9,122.3 129.2,130.1 129.4,126.8 129.7,155.8 129.9,138.2 130.2,117.9 130.4,152.6 130.6,121.4 130.9,119.8 131.1,140.4 131.4,113.5 131.6,142.1 131.9,155.9 132.1,115.4 132.3,146.6 132.6,139.4 132.8,127.4 133.1,153.4 133.3,134.4 133.6,130.1 133.8,114.8 134,134.9 134.3,148.9 134.5,126.8 134.8,132.8 135,117.7 135.3,129.2 135.5,141.5 135.8,141.8 136,114.9 136.2,92.9 136.5,116.7 136.7,143.2 137,136.4 137.2,134.8 137.5,141.3 137.7,113.9 137.9,101.3 138.2,111.1 138.4,142.2 138.7,117.9 138.9,140.4 139.2,132.4 139.4,133.8 139.7,107.9 139.9,193.6 140.1,238.8 140.4,177.6 140.6,94 140.9,128.5 141.1,136.7 141.4,145.2 141.6,97.7 141.8,73.8 142.1,105.3 142.3,156.8 142.6,115.7 142.8,122.3 143.1,162 143.3,180.6 143.6,151.1 143.8,119.2 144,140.4 144.3,128 144.5,138.4 144.8,115.2 145,164.8 145.3,207.1 145.5,164.9 145.7,108.2 146,119.7 146.2,163.7 146.5,196.5 146.7,171.4 147,110.8 147.2,166.2 147.4,61.9 147.7,11.5 147.9,86 148.2,170 148.4,122.3 148.7,107.7 148.9,193.3 149.2,233.5 149.4,181.9 149.6,100.3 149.9,111.9 150.1,142.4 150.4,148.7 150.6,94.6 150.9,69.6 151.1,107.6 151.3,151.3 151.6,123.7 151.8,144.8 152.1,132.4 152.3,145.1 152.6,117.4 152.8,158.2 153.1,185.9 153.3,156.4 153.5,116.3 153.8,138.7 154,146.7 154.3,103.6 154.5,85.5 154.8,113.4 155,148.6 155.2,136.6 155.5,122.7 155.7,151.2 156,70.1 156.2,41.1 156.5,81.6 156.7,156.4 157,122.7 157.2,142.8 157.4,120.8 157.7,111.7 157.9,185.6 158.2,246.2 158.4,188.8 158.7,97.8 158.9,157.7 159.1,79.1 159.4,51.6 159.6,90.2 159.9,157.7 160.1,138.8 160.4,143.6 160.6,106.7 160.9,80.2 161.1,111 161.3,145.2 161.6,123.5 161.8,156.3 162.1,167.9 162.3,152.2 162.6,120.6 162.8,106.6 163,90.8 163.3,115.7 163.5,147.2 163.8,132.1 164,152.5 164.3,94.8 164.5,58 164.7,101.1 165,158.7 165.2,119.5 165.5,169.7 165.7,191.2 166,156.2 166.2,111.7 166.5,125.4 166.7,112 166.9,193.2 167.2,237.7 167.4,178.8 167.7,104.1 167.9,146.9 168.2,107.2 168.4,85.5 168.6,109 168.9,150.5 169.1,150.7 169.4,88.3 169.6,67.5 169.9,97.4 170.1,148.7 170.4,128.2 170.6,135.3 170.8,121.7 171.1,151.4 171.3,175.3 171.6,159.2 171.8,122.5 172.1,144 172.3,118.1 172.5,141.3 172.8,137.6 173,140 173.3,118.9 173.5,101.3 173.8,115.4 174,143.7 174.3,134.8 174.5,137 174.7,140.6 175,131.5 175.2,119.6 175.5,128.6 175.7,141.1 176,128.2 176.2,130.8 176.4,150.3 176.7,121.8 176.9,140.9 177.2,133.8 177.4,128.1 177.7,135.7 177.9,135.6 178.1,131.3 178.4,136.1 178.6,139.3 178.9,127.5 179.1,127.1 179.4,138.7 179.6,128.9 179.9,141.8 180.1,125.8 180.3,133.6 180.6,137.3 180.8,131.5 181.1,139 181.3,130 181.6,118 181.8,167.8 182,190.1 182.3,158 182.5,113.9 182.8,134.8 183,130.4 183.3,138.5 183.5,149.7 183.8,101.7 184,58 184.2,101.4 184.5,154.5 184.7,159.6 185,180.6 185.2,160.6 185.5,121.3 185.7,132.9 185.9,121.2 186.2,157 186.4,173.2 186.7,157.3 186.9,120.6 187.2,136.7 187.4,125.3 187.7,143.9 187.9,123.4 188.1,151.6 188.4,170.1 188.6,148.6 188.9,115.6 189.1,133.2 189.4,156.5 189.6,91.8 189.8,54.8 190.1,95.1 190.3,154.3 190.6,164.8 190.8,151.7 191.1,119.8 191.3,155.6 191.6,178.5 191.8,156.2 192,118.5 192.3,124.8 192.5,140.4 192.8,132.2 193,131.7 193.3,132 193.5,129.4 193.7,135.6 194,139 194.2,145.9 194.5,125.3 194.7,135.1 195,129.4 195.2,131.5 195.4,130.7 195.7,138.1 195.9,136.2 196.2,127.8 196.4,133.5 196.7,135.3 196.9,127.9 197.2,138.5 197.4,137.8 197.6,127.6 197.9,127 198.1,140.7 198.4,122.8 198.6,130.6 198.9,137.2 199.1,138.4 199.3,131.2 199.6,137.9 199.8,126.9 200.1,142.6 200.3,125.6 200.6,133.8 200.8,134 201.1,127.5 201.3,144.8 201.5,121.4 201.8,136.6 202,128.8 202.3,150.5 202.5,139.8 202.8,124.6 203,153.7 203.2,169 203.5,148.1 203.7,120.5 204,132.4 204.2,127.2 204.5,135.8 204.7,125.3 205,137.1 205.2,126.3 205.4,141.2 205.7,128.7 205.9,120.5 206.2,138.1 206.4,142 206.7,114.7 206.9,148.7 207.1,123.2 207.4,140.7 207.6,145.7 207.9,130.9 208.1,131.7 208.4,126.7 208.6,137.4 208.8,118.6 209.1,151.6 209.3,116.3 209.6,141.6 209.8,131.6 210.1,133 210.3,133 210.6,130.9 210.8,134.2 211,134.1 211.3,149 211.5,130 211.8,122.5 212,120.8 212.3,108.7 212.5,120.1 212.7,139.8 213,130 213.2,118.7 213.5,137.1 213.7,142.3 214,122.5 214.2,142.5 214.5,129.3 214.7,136.7 214.9,137 215.2,132.7 215.4,132 215.7,132.5 215.9,138.7 216.2,142.5 216.4,105.8 216.6,85.5 216.9,107.5 217.1,147.6 217.4,154.7 217.6,164.8 217.9,149.9 218.1,123.9 218.4,108.4 218.6,184.6 218.8,249.4 219.1,195.5 219.3,97.1 219.6,128.1 219.8,148.8 220.1,95.3 220.3,74.9 220.5,98.8 220.8,148.2 221,151.3 221.3,170.1 221.5,154.1 221.8,123 222,131.4 222.3,130.6 222.5,149.2 222.7,127.4 223,125.7 223.2,138.1 223.5,137.2 223.7,129.2 224,137.9 224.2,125.2 224.4,134.6 224.7,138.4 224.9,123.8 225.2,127.9 225.4,144.5 225.7,130.2 225.9,114.2 226.1,146.8 226.4,128.3 226.6,127.9 226.9,144.5 227.1,120.7 227.4,154.8 227.6,176.4 227.9,150.1 228.1,122.4 228.3,131.5 228.6,140.9 228.8,113.6 229.1,96 229.3,114.1 229.6,146 229.8,119 230,147.7 230.3,116.5 230.5,149.5 230.8,124 231,129 231.3,133.4 231.5,129.8 231.8,155.4 232,125.1 232.2,131.1 232.5,134.5 232.7,147.8 233,126.2 233.2,133.4 233.5,151.1 233.7,117.9 233.9,131 234.2,123.7 234.4,156 234.7,138.6 234.9,122.6 235.2,142.8 235.4,127.4 235.7,118.6 235.9,130.5 236.1,145.6 236.4,130.6 236.6,120.7 236.9,139.7 237.1,138.4 237.4,130.4 237.6,140.9 237.8,133.3 238.1,125.2 238.3,149.5 238.6,121.7 238.8,130.3 239.1,131.1 239.3,133.7 239.5,129.6 239.8,144.6 240,119.8 240.3,132.4 240.5,130.3 240.8,134.3 241,134.4 241.3,133.5 241.5,125.2 241.7,154.7 242,120 242.2,132.6 242.5,148.9 242.7,129.8 243,131.2 243.2,132.5 243.4,129 243.7,133.5 243.9,140.5 244.2,132 244.4,136.7 244.7,143.6 244.9,125.8 245.2,129.3 245.4,137.1 245.6,134.2 245.9,130.8 246.1,143.3 246.4,118.3 246.6,141.3 246.9,137.1 247.1,129.7 247.3,148.4 247.6,122.7 247.8,129.4 248.1,133.9 248.3,132.5 248.6,118.9 248.8,159.3 249.1,178.5 249.3,156.9 249.5,151.6 249.8,86.6 250,46.3 250.3,81.7 250.5,164.8 250.8,99.7 251,80.2 251.2,110.2 251.5,151.8 251.7,119.1 252,166.7 252.2,190.1 252.5,157.4 252.7,114.8 253,129.6 253.2,141.1 253.4,120.8 253.7,156.4 253.9,180.6 254.2,153.5 254.4,152.1 254.7,102.9 254.9,69.6 255.1,93.9 255.4,151.4 255.6,164.2 255.9,82.7 256.1,29.4 256.4,83.6 256.6,163.4 256.8,93.8 257.1,74.9 257.3,109.4 257.6,149.6 257.8,169.3 258.1,209.2 258.3,165.2 258.6,109.3 258.8,149.7 259,153.4 259.3,175.3 259.5,162.1 259.8,117.9 260,134.6 260.3,137 260.5,127.4 260.7,120.4 261,158 261.2,123.6 261.5,113.4 261.7,142.2 262,130.2 262.2,135.5 262.5,148.4 262.7,126.3 262.9,151.8 263.2,126.1 263.4,123.3 263.7,145.6 263.9,160.6 264.2,185.9 264.4,157 264.6,117.2 264.9,114.7 265.1,155.9 265.4,90.3 265.6,43.2 265.9,78.2 266.1,165.7 266.4,130.7 266.6,113.8 266.8,199.6 267.1,231.4 267.3,176.4 267.6,105.5 267.8,146.2 268.1,111.4 268.3,85.5 268.5,104.2 268.8,146.4 269,135.5 269.3,137.6 269.5,122.6 269.8,152.2 270,170.1 270.2,148.5 270.5,121.1 270.7,114.2 271,141 271.2,133.8 271.5,124.9 271.7,150.4 272,137.6 272.2,145.7 272.4,107.7 272.7,90.8 272.9,115.6 273.2,143.5 273.4,142.1 273.7,122.4 273.9,145 274.1,152.7 274.4,92.3 274.6,67.5 274.9,103.2 275.1,150.4 275.4,137.6 275.6,145.4 275.9,131.1 276.1,129.8 276.3,122.7 276.6,164.9 276.8,183.8 277.1,161.7 277.3,114.2 277.6,133.3 277.8,130 278,123.5 278.3,137.3 278.5,127.5 278.8,133.9 279,148.8 279.3,133.6 279.5,114.1 279.8,136 280,134.3 280.2,141.4 280.5,128.4 280.7,150.9 281,120.3 281.2,121.7 281.5,142.3 281.7,127.4 281.9,121.3 282.2,151.7 282.4,123.8 282.7,130.5 282.9,134.7 283.2,125.6 283.4,137.8 283.7,129.8 283.9,140.9 284.1,115.1 284.4,102.4 284.6,119.2 284.9,141 285.1,137.1 285.4,134.5 285.6,125.9 285.8,137.2 286.1,113.3 286.3,139.5 286.6,137.3 286.8,127.1 287.1,132.5 287.3,143.2 287.5,108.7 287.8,91.8 288,108.4 288.3,142.9 288.5,129.3 288.8,131.7 289,134.1 289.3,136.8 289.5,136 289.7,130.4 290,132.8 290.2,125.2 290.5,157 290.7,122.8 291,138.4 291.2,133.1 291.4,122.7 291.7,152.4 291.9,114.8 292.2,146.8 292.4,128.5 292.7,142.9 292.9,142.6 293.2,110.9 293.4,98.2 293.6,118 293.9,142 294.1,136.4 294.4,131.9 294.6,136.5 294.9,134.7 295.1,125.3 295.3,129.4 295.6,134.2 295.8,138.3 296.1,128.4 296.3,134.3 296.6,140 296.8,130.8 297.1,128.4 297.3,134.9 297.5,136.3 297.8,132.3 298,131.4 298.3,136.7 298.5,122.3 298.8,135.1 299,131.2 299.2,131.8 299.5,131 299.7,140 300,123.8 300.2,138.1 300.5,132.8 300.7,128.8 300.9,143.7 301.2,126.6 301.4,127.5 301.7,138.9 301.9,138.3 302.2,117 302.4,139.4 302.7,135.2 302.9,133.4 303.1,125.3 303.4,135 303.6,132 303.9,133.9 304.1,131.7 304.4,140.2 304.6,134.4 304.8,126.5 305.1,133 305.3,141.7 305.6,147.3 305.8,116.6 306.1,138.9 306.3,124.9 306.6,126.5 306.8,155.3 307,141.3 307.3,114.3 307.5,90.8 307.8,114.5 308,148.8 308.3,135.1 308.5,135.5 308.7,135.2 309,142.1 309.2,101.1 309.5,210 309.7,249.4 310,182.1 310.2,105.7 310.5,196.5 310.7,170.9 310.9,112.9 311.2,89.9 311.4,60.1 311.7,104.7 311.9,158.6 312.2,155.8 312.4,170.1 312.6,147.1 312.9,119.9 313.1,135.4 313.4,127.2 313.6,131.3 313.9,138.7 314.1,131.5 314.4,148.8 314.6,122.1 314.8,115.6 315.1,145.6 315.3,131.9 315.6,114.9 315.8,150.4 316.1,130 316.3,138.6 316.5,131 316.8,134 317,116.2 317.3,135.7 317.5,136 317.8,129.9 318,134.8 318.2,132.5 318.5,130.1 318.7,127.1 319,138.3 319.2,137.6 319.5,124.2 319.7,124.3 320,122.3 320.2,142.2 320.4,131.1 320.7,119.6 320.9,145.6 321.2,130.4 321.4,135.8 321.7,134.5 321.9,149.1 322.1,129.8 322.4,122.5 322.6,139.1 322.9,127.2 323.1,134.1 323.4,131 323.6,139.3 323.9,131.3 324.1,120.5 324.3,145 324.6,125.5 324.8,141.8 325.1,112.5 325.3,144.5 325.6,130.3 325.8,150.4 326,99.9 326.3,74.9 326.5,102.5 326.8,148.5 327,118 327.3,143.1 327.5,133 327.8,125.9 328,153 328.2,169 328.5,147.3 328.7,120.9 329,121.9 329.2,138.2 329.5,133.8 329.7,134.4 329.9,128.2 330.2,129.3 330.4,152 330.7,121.8 330.9,124.2 331.2,143.6 331.4,132.8 331.6,146.8 331.9,126.4 332.1,129.1 332.4,141 332.6,126.4 332.9,135.9 333.1,136.2 333.4,124.1 333.6,142.2 333.8,130.5 334.1,132.6 334.3,127 334.6,131.5 334.8,150.5 335.1,102.7 335.3,78.1 335.5,110.2 335.8,149.7 336,118.9 336.3,139.5 336.5,120.3 336.8,140.1 337,134.1 337.3,138.4 337.5,131.1 337.7,136 338,124.1 338.2,143.7 338.5,128.3 338.7,131.8 339,130.5 339.2,146 339.4,120.1 339.7,141.4 339.9,135.2 340.2,126.9 340.4,138.5 340.7,133.8 340.9,132.6 341.2,131.5 341.4,129.5 341.6,139.1 341.9,135.5 342.1,118 342.4,141.6 342.6,128.8 342.9,135.1 343.1,141 343.3,125.2 343.6,138.2 343.8,132.2 344.1,133.3 344.3,132.2 344.6,134.1 344.8,130.3 345.1,135.5 345.3,137.8 345.5,127 345.8,132.8 346,131.3 346.3,132.3 346.5,134.3 346.8,134.1 347,131 347.2,131.4 347.5,134.3 347.7,131.7 348,136.5 348.2,131.3 348.5,134.3 348.7,137.1 348.9,125.4 349.2,137.9 349.4,129.3 349.7,131.1 349.9,133.6 350.2,132.1 350.4,139.7 350.7,131.4 350.9,137.6 351.1,134.4 351.4,136.3 351.6,130 351.9,133.6 352.1,129.9 352.4,134.2 352.6,135.8 352.8,136.9 353.1,131.1 353.3,131.1 353.6,131.3 353.8,133.5 354.1,134.2 354.3,131.2 354.6,136.1 354.8,130.3 355,131 355.3,130.9 355.5,137.4 355.8,129.9 356,131.7 356.3,135.6 356.5,133 356.7,134.7 357,131.9 357.2,129.2 357.5,138.9 357.7,129.8 358,130.4 358.2,127.8 358.5,134.9 358.7,136.9 358.9,131.8 359.2,134.1 359.4,140.5 359.7,122.5 359.9,134.3 360.2,134.3 360.4,127.3 360.6,138.9 360.9,119.2 361.1,141.2 361.4,132.2 361.6,138.9 361.9,122.4 362.1,140 362.3,138.7 362.6,128.9 362.8,128.2 363.1,136.9 363.3,143.1 363.6,131.5 363.8,134.6 364.1,140.5 364.3,132.2 364.5,129.3 364.8,128.6 365,139.5 365.3,133.3 365.5,133.4 365.8,125.5 366,151.8 366.2,112.9 366.5,135.1 366.7,138.1 367,124.1 367.2,144.5 367.5,122.3 367.7,136.3 368,141.1 368.2,130.6 368.4,123.5 368.7,144.9 368.9,128.1 369.2,129.4 369.4,131.5 369.7,126.1 369.9,144.5 370.1,122.2 370.4,130.7 370.6,136.6 370.9,128.8 371.1,135.3 371.4,133.6 371.6,132.8 371.9,127.4 372.1,143.3 372.3,136 372.6,151.5 372.8,124.3 373.1,127 373.3,137.1 373.6,126.5 373.8,144 374,135 374.3,132.8 374.5,134.9 374.8,144 375,129.6 375.3,120.6 375.5,137.9 375.7,141.7 376,136.8 376.2,128.3 376.5,126.1 376.7,111.7 377,147.1 377.2,124.9 377.5,136.8 377.7,125.8 377.9,141.3 378.2,138.9 378.4,114.7 378.7,140.3 378.9,136.2 379.2,125.4 379.4,139.5 379.6,122.3 379.9,127.7 380.1,130.5 380.4,140.8 380.6,136.7 380.9,129.2 381.1,131.7 381.4,133.2 381.6,134.4 381.8,140.2 382.1,139.1 382.3,134.2 382.6,113.5 382.8,148.7 383.1,114.2 383.3,148.6 383.5,136.4 383.8,157.4 384,104.7 384.3,133.2 384.5,138.3 384.8,114.4 385,138.5 385.3,130.7 385.5,124.7 385.7,141.4 386,149.5 386.2,121 386.5,132.1 386.7,134.7 387,123.1 387.2,144.7 387.4,132.6 387.7,136.3 387.9,131.1 388.2,136.4 388.4,133.9 388.7,142.3 388.9,123.6 389.2,139.9 389.4,127.6 389.6,134.5 389.9,128.4 390.1,144.1 390.4,126.1 390.6,133 390.9,134.1 391.1,141.1 391.3,124.6 391.6,146.8 391.8,122.2 392.1,132.4 392.3,139.6 392.6,145.4 392.8,121.4 393,141.9 393.3,133.5 393.5,138.3 393.8,124.3 394,148.8 394.3,123.8 394.5,138.3 394.8,160.2 395,137.1 395.2,99.7 395.5,136 395.7,168.5 396,119.4 396.2,136.9 396.5,121.2 396.7,142.3 396.9,134.2 397.2,142.7 397.4,138.8 397.7,114.8 397.9,142.6 398.2,130.1 398.4,124.9 398.7,146 398.9,133.9 399.1,133.2 399.4,121.6 399.6,147.8 399.9,132.7 400.1,137.8 400.4,126.8 400.6,150.7 400.8,128.2 401.1,142.8 401.3,122.1 401.6,131.8 401.8,151 402.1,112.2 402.3,110.1 402.6,176.7 402.8,118.9 403,133.8 403.3,141 403.5,131.9 403.8,133 404,117.4 404.3,141.6 404.5,127.4 404.7,167.4 405,99.3 405.2,134.1 405.5,133.2 405.7,125.6 406,151.6 406.2,119.3 406.4,160.4 406.7,188 406.9,156.8 407.2,113.9 407.4,155 407.7,90.8 407.9,162.2 408.2,68.8 408.4,31.5 408.6,72 408.9,166.2 409.1,150.2 409.4,170.1 409.6,155.2 409.9,123.4 410.1,134.1 410.3,121.5 410.6,137.6 410.8,133.7 411.1,144.6 411.3,113.3 411.6,122.2 411.8,150.8 412.1,141.6 412.3,115.8 412.5,128.3 412.8,132 413,135.5 413.3,132.9 413.5,138.9 413.8,112.3 414,137.3 414.2,133.2 414.5,130 414.7,129.3 415,139.6 415.2,124.3 415.5,136 415.7,135.6 416,142.2 416.2,125.3 416.4,136.1 416.7,128.7 416.9,143.1 417.2,106.5 417.4,133.8 417.7,161.1 417.9,119.5 418.1,127.4 418.4,146.9 418.6,103.5 418.9,150.4 419.1,137.3 419.4,119.1 419.6,152.2 419.9,122.2 420.1,132.1 420.3,137 420.6,128 420.8,127.6 421.1,141.6 421.3,137.2 421.6,127.8 421.8,136.3 422,149 422.3,116.9 422.5,129.2 422.8,138.7 423,135.9 423.3,131 423.5,150.3 423.7,130.1 424,129 424.2,131.1 424.5,133.5 424.7,126.2 425,126 425.2,128.8 425.5,140.9 425.7,125.6 425.9,159.6 426.2,111.6 426.4,126.8 426.7,141.1 426.9,147.9 427.2,119 427.4,130.2 427.6,129.2 427.9,140.4 428.1,138.3 428.4,132.5 428.6,133 428.9,131.4 429.1,129.3 429.4,137 429.6,122.1 429.8,147.1 430.1,126.4 430.3,135.6 430.6,119 430.8,140.5 431.1,153.4 431.3,123.4 431.5,143.7 431.8,118.7 432,135.7 432.3,133 432.5,138.3 432.8,137.3 433,129.7 433.3,130.4 433.5,129.3 433.7,142.6 434,136 434.2,128.7 434.5,126.2 434.7,122.5 435,157.6 435.2,119.9 435.4,131.7 435.7,134.6 435.9,134.3 436.2,135.3 436.4,127.2 436.7,142.2 436.9,136.4 437.1,122.9 437.4,118.5 437.6,144.7 437.9,121.5 438.1,135 438.4,133 438.6,133.7 438.9,138.8 439.1,138.3 439.3,127.8 439.6,130.7 439.8,139.7 440.1,130.7 440.3,126.3 440.6,143.9 440.8,130.9 441,138.2 441.3,133.1 441.5,145.3 441.8,123 442,135.8 442.3,138.4 442.5,133.2 442.8,135.7 443,127.4 443.2,139.8 443.5,128 443.7,138.8 444,127.9 444.2,132.1 444.5,134.4 444.7,130.6 444.9,138.3 445.2,127.7 445.4,133 445.7,133.7 445.9,141.1 446.2,130.3 446.4,131.3 446.7,139.2 446.9,132.7 447.1,129.4 447.4,135.1 447.6,129 447.9,136.6 448.1,133.8 448.4,139.7 448.6,133.4 448.8,132.6 449.1,125.9 449.3,145.4 449.6,130.1 449.8,123.1 450.1,139.1 450.3,130.4 450.6,135.2 450.8,139.4 451,122.7 451.3,127.9 451.5,143.9 451.8,137.4 452,135.1 452.3,128.5 452.5,143 452.7,126.2 453,138.3 453.2,127.5 453.5,131.7 453.7,135.4 454,136.7 454.2,136.6 454.4,131.4 454.7,132 454.9,132.4 455.2,129.4 455.4,130.5 455.7,145.9 455.9,122.8 456.2,125.4 456.4,130.1 456.6,143.2 456.9,136.8 457.1,127 457.4,137.9 457.6,129 457.9,134.7 458.1,136.2 458.3,130.9 458.6,126.2 458.8,134.7 459.1,128.8 459.3,138.8 459.6,134 459.8,131 460.1,140.8 460.3,133.2 460.5,136.1 460.8,131.7 461,130 461.3,138.6 461.5,127 461.8,123.6 462,138.7 462.2,135.4 462.5,126.6 462.7,136.8 463,147.7 463.2,125 463.5,128.6 463.7,130.3 464,134.2 464.2,137.4 464.4,128.1 464.7,131.5 464.9,127.3 465.2,136.2 465.4,143 465.7,124.7 465.9,138 466.1,135 466.4,121.2 466.6,131.5 466.9,137.8 467.1,131.5 467.4,134.4 467.6,120 467.8,141.3 468.1,130.6 468.3,134.1 468.6,141.2 468.8,132.3 469.1,125.5 469.3,143.8 469.6,135.4 469.8,130.4 470,125.8 470.3,127.8 470.5,147.4 470.8,131.4 471,131.8 471.3,137.1 471.5,131.5 471.7,135.7 472,133.7 472.2,125.9 472.5,126.9 472.7,141.8 473,127.4 473.2,138.4 473.5,125.7 473.7,139.1 473.9,126.8 474.2,129.6 474.4,137.1 474.7,138.4 474.9,128.8 475.2,136.8 475.4,141.8 475.6,150.1 475.9,162.7 476.1,147.6 476.4,123.6 476.6,140.9 476.9,146.8 477.1,94.5 477.4,74.9 477.6,101.8 477.8,151.7 478.1,136.8 478.3,123.9 478.6,135.5 478.8,134.3 479.1,127 479.3,140.7 479.5,134.2 479.8,129.7 480,131.2 480.3,133.8 480.5,141.9 480.8,125.2 481,134.6 481.3,136.7 481.5,130.3 481.7,132.5 482,135.6 482.2,125.5 482.5,136.8 482.7,127.3 483,141.3 483.2,130.3 483.4,130.6 483.7,142 483.9,141 484.2,131.1 484.4,129.5 484.7,133.9 484.9,142.1 485.1,126.6 485.4,134.1 485.6,130.8 485.9,139.1 486.1,134.2 486.4,131.8 486.6,130.8 486.9,138.5 487.1,130 487.3,133.7 487.6,130.8 487.8,139.3 488.1,128.1 488.3,134.7 488.6,130.9 488.8,131.5 489,134 489.3,131.1 489.5,141 489.8,133 490,126.5 490.3,136.2 490.5,128.5 490.8,132.8 491,134.1 491.2,137.6 491.5,133.1 491.7,127.3 492,129.8 492.2,134.4 492.5,137 492.7,132.4 492.9,128.1 493.2,134.3 493.4,118.2 493.7,144.8 493.9,124.5 494.2,138.8 494.4,135.9 494.7,134.4 494.9,126.9 495.1,134.8 495.4,134.3 495.6,133.3 495.9,135 496.1,130.9 496.4,123.4 496.6,150.6 496.8,173.2 497.1,154.5 497.3,122.1 497.6,128.5 497.8,142.3 498.1,152.4 498.3,93 498.5,61.1 498.8,95 499,153.9 499.3,135.2 499.5,144.9 499.8,120.2 500,154.8 500.3,178.5 500.5,154.8 500.7,117.7 501,137.1 501.2,128.6 501.5,133.8 501.7,138 502,132.5 502.2,138.8 502.4,123.6 502.7,135.6 502.9,134.5 503.2,137.7 503.4,131.6 503.7,134.6 503.9,133.7 504.2,138.1 504.4,130.5 504.6,130.4 504.9,137 505.1,124.7 505.4,135.9 505.6,150.1 505.9,118.7 506.1,135.8 506.3,127.6 506.6,136.2 506.8,137.1 507.1,144.6 507.3,111.5 507.6,140.1 507.8,134.4 508.1,137 508.3,136.5 508.5,129.2 508.8,137.3 509,130.8 509.3,129.2 509.5,129 509.8,151.9 510,84 510.2,60.1 510.5,103.7 510.7,104.5 511,90.8 511.2,109 511.5,106.9 511.7,176.6 512,221.9 512.2,184.5 512.4,112.6 512.7,120 512.9,162 513.2,185.9 513.4,163.5 513.7,116.8 513.9,134.1 514.1,141.3 514.4,118 514.6,97.1 514.9,115.2 515.1,148.4 515.4,117.2 515.6,142.7 515.8,128.1 516.1,141.5 516.3,116.2 516.6,96 516.8,113.3 517.1,146.5 517.3,113.4 517.6,171.5 517.8,213.4 518,167 518.3,108 518.5,114.8 518.8,101.3 519,117.8 519.3,144.9 519.5,145.3 519.7,110.8 520,89.7 520.2,107.9 520.5,145 520.7,138.6 521,127.3 521.2,133.2 521.5,130.1 521.7,128.9 521.9,154.8 522.2,115.7 522.4,137.5 522.7,140.6 522.9,137.2 523.2,119 523.4,137.5 523.6,139 523.9,121.4 524.1,140.9 524.4,124 524.6,146 524.9,122.1 525.1,132.7 525.4,145.2 525.6,118.7 525.8,133.8 526.1,136.9 526.3,135.2 526.6,133 526.8,136 527.1,111.3 527.3,140.3 527.5,139.9 527.8,119.1 528,135.6 528.3,129 528.5,156.7 528.8,117.9 529,133.7 529.2,140.8 529.5,129.1 529.7,122 530,135.3 530.2,139.3 530.5,124.2 530.7,144.4 531,129.3 531.2,138.5 531.4,134 531.7,120 531.9,135 532.2,133 532.4,129.5 532.7,131.7 532.9,130.3 533.1,135.1 533.4,120.9 533.6,140.1 533.9,139.8 534.1,131.5 534.4,122.3 534.6,138 534.9,126.9 535.1,128.4 535.3,136.9 535.6,130.5 535.8,130.5 536.1,134.3 536.3,144.8 536.6,113.3 536.8,144.7 537,136.9 537.3,112.4 537.5,153 537.8,104.6 538,138.1 538.3,138.2 538.5,120.5 538.8,133 539,142.7 539.2,141.1 539.5,130 539.7,125.1 540,120.9 540.2,151.8 540.5,111.4 540.7,138.8 540.9,124.1 541.2,142.2 541.4,145 541.7,131.7 541.9,125.5 542.2,141 542.4,130.6 542.7,137.7 542.9,132.6 543.1,136.4 543.4,126.5 543.6,140.4 543.9,128.7 544.1,126.2 544.4,131.3 544.6,136.4 544.8,123.9 545.1,124.6 545.3,134.2 545.6,135.9 545.8,116.7 546.1,130.4 546.3,146.4 546.5,125.3 546.8,137.8 547,126.3 547.3,143.4 547.5,127.3 547.8,136.5 548,134 548.3,132.5 548.5,117 548.7,117.2 549,147.2 549.2,131.3 549.5,132.5 549.7,146.8 550,127.1 550.2,126.8 550.4,135.7 550.7,137.1 550.9,123.2 551.2,134.6 551.4,121.1 551.7,140.4 551.9,134.2 552.2,130.6 552.4,129.2 552.6,140.2 552.9,124.4 553.1,136.1 553.4,135.1 553.6,122.4 553.9,145.3 554.1,146.6 554.3,121.7 554.6,133.7 554.8,128.9 555.1,133.6 555.3,112.6 555.6,138 555.8,142.3 556.1,120.8 556.3,137 556.5,148.6 556.8,119.4 557,129.8 557.3,134.8 557.5,143.3 557.8,109.2 558,96 558.2,115.6 558.5,153.1 558.7,86.5 559,58 559.2,101.3 559.5,159.8 559.7,130.6 559.9,150.2 560.2,154.7 560.4,175.3 560.7,149.9 560.9,108.5 561.2,150.8 561.4,124.7 561.7,145.7 561.9,127.7 562.1,143.9 562.4,112.4 562.6,142.1 562.9,129 563.1,129.9 563.4,133 563.6,151.2 563.8,124.9 564.1,129.4 564.3,130.9 564.6,144.2 564.8,118.6 565.1,134.3 565.3,134.4 565.6,131.3 565.8,143.3 566,133.3 566.3,122.8 566.5,133.5 566.8,113.8 567,124.5 567.3,150.8 567.5,136.1 567.7,134.5 568,116.7 568.2,144.7 568.5,130.5 568.7,152.7 569,110.2 569.2,141.2 569.5,121.1 569.7,160.5 569.9,132.4 570.2,131.9 570.4,133.1 570.7,137.1 570.9,148.1 571.2,150.7 571.4,114.6 571.6,129.3 571.9,145.2 572.1,127.6 572.4,146 572.6,120.5 572.9,132 573.1,147.9 573.4,122.7 573.6,116.9 573.8,151.3 574.1,123.1 574.3,156.2 574.6,128.8 574.8,133.9 575.1,114.1 575.3,134.5 575.5,136.6 575.8,135.1 576,129.3 576.3,139.7 576.5,128.4 576.8,133.1 577,138.6 577.2,131.3 577.5,165.5 577.7,94.6 578,147.8 578.2,133.5 578.5,129.3 578.7,127.8 579,132.7 579.2,141.4 579.4,106.1 579.7,144.7 579.9,139.9 580.2,163.5 580.4,111.2 580.7,149.5 580.9,167.9 581.1,148 581.4,124.1 581.6,137.1 581.9,151.2 582.1,136.3 582.4,128.6 582.6,134.9 582.9,127.1 583.1,122.5 583.3,125 583.6,137.2 583.8,112.1 584.1,113.7 584.3,178.5 584.6,121.6 584.8,133.5 585,142.9 585.3,117.8 585.5,126.6 585.8,134 586,136 586.3,135.9 586.5,141.8 586.8,128.6 587,147.7 587.2,142.6 587.5,104.5 587.7,140.3 588,141.4 588.2,95.5 588.5,144.7 588.7,125.8"/>
</g>
<g>
<path d="M884.3 10.5V252.0M1009.1 10.5V252.0M1134.0 10.5V252.0M759.5 191.6H1258.8M759.5 131.2H1258.8M759.5 70.9H1258.8" stroke="#e6e6e6" stroke-width="1.6" fill="none"/>
<path d="M759.5 10.5H1258.8V252.0H759.5ZM884.3 252.0v-5 M884.3 10.5v5M1009.1 252.0v-5 M1009.1 10.5v5M1134.0 252.0v-5 M1134.0 10.5v5M759.5 191.6h5 M1258.8 191.6h-5M759.5 131.2h5 M1258.8 131.2h-5M759.5 70.9h5 M1258.8 70.9h-5" stroke="#222222" stroke-width="1.25" fill="none"/>
<text class="t" x="759.8" y="286.7" text-anchor="middle">0</text>
<text class="t" x="884.6" y="286.7" text-anchor="middle">500</text>
<text class="t" x="1009.4" y="286.7" text-anchor="middle">1000</text>
<text class="t" x="1134.3" y="286.7" text-anchor="middle">1500</text>
<text class="t" x="1259.1" y="286.7" text-anchor="middle">2000</text>
<text class="t" x="749.8" y="261.6" text-anchor="end">-100</text>
<text class="t" x="749.8" y="201.2" text-anchor="end">-50</text>
<text class="t" x="749.8" y="140.8" text-anchor="end">0</text>
<text class="t" x="749.8" y="80.4" text-anchor="end">50</text>
<text class="t" x="749.8" y="20.1" text-anchor="end">100</text>
<text class="l" transform="translate(684.6 130.8) rotate(-90) scale(.95 1.04)" text-anchor="middle">IMF2</text>
<polyline class="r" points="759.7,66.4 760,46.5 760.2,43 760.5,51.4 760.7,82.5 761,120.8 761.2,171 761.5,207.9 761.7,234.2 762,241.9 762.2,232.6 762.5,198.2 762.7,153.8 763,111.8 763.2,77 763.5,47.8 763.7,31.9 764,42 764.2,52.3 764.5,79.7 764.7,116.2 765,144.3 765.2,169.4 765.5,189.1 765.7,198 766,195.2 766.2,186.1 766.5,163.6 766.7,134.1 767,96.2 767.2,69.4 767.5,250.8 767.7,42.5 768,52.1 768.2,83.5 768.5,118.5 768.7,175.2 769,217.9 769.2,243.3 769.5,241 769.7,215.1 770,176.5 770.2,124.6 770.5,85.4 770.7,61.9 771,54.2 771.2,56.5 771.5,82.7 771.7,118.3 772,168.7 772.2,209 772.5,237.5 772.7,234.9 773,215.2 773.2,170.7 773.5,115.7 773.7,71.5 774,37.1 774.2,31.2 774.5,53.9 774.7,93.5 775,147.1 775.2,191.7 775.5,225 775.7,226.7 776,196.5 776.2,147.1 776.5,97.4 776.7,62.8 777,43.9 777.2,48.2 777.5,82.9 777.7,129.4 778,173.7 778.2,207.8 778.5,224.5 778.7,216 779,184.4 779.2,136 779.5,97.2 779.7,62.8 780,45.9 780.2,49.1 780.5,75 780.7,110.1 781,157.9 781.2,197.3 781.5,223.9 781.7,221.5 782,203.8 782.2,166.5 782.5,118.1 782.7,74.8 783,44.4 783.2,44.6 783.5,62.6 783.7,100.1 784,142.2 784.2,192.4 784.5,223.4 784.7,223.7 785,195.9 785.2,157 785.5,103.8 785.7,52.9 786,29.2 786.2,32 786.5,65.8 786.7,109.6 787,163.9 787.2,209.8 787.5,230.5 787.7,230.6 788,192.6 788.2,146.8 788.5,96.9 788.7,58 789,40.3 789.2,46.1 789.5,65.3 789.7,107.4 790,154.1 790.2,200.6 790.5,229.9 790.7,242.2 791,217.7 791.2,184.2 791.5,134.8 791.7,93.2 792,67.2 792.2,54.6 792.5,52.6 792.7,70.6 793,99.2 793.2,133.7 793.5,164.4 793.7,178.5 794,192.9 794.2,186.7 794.5,174.5 794.7,153 795,123.2 795.2,84.6 795.4,54.9 795.7,43.6 795.9,44.6 796.2,62.7 796.4,98 796.7,139.1 796.9,174 797.2,200.4 797.4,204.9 797.7,204.4 797.9,188.7 798.2,165.4 798.4,137.1 798.7,111.9 798.9,88.8 799.2,75.7 799.4,66.7 799.7,61.6 799.9,76.3 800.2,91.9 800.4,109.2 800.7,129.5 800.9,156.9 801.2,174.9 801.4,187.3 801.7,197.5 801.9,199.2 802.2,190 802.4,183.1 802.7,163.8 802.9,144.5 803.2,117.9 803.4,105.7 803.7,85.3 803.9,72.7 804.2,63.5 804.4,64 804.7,68.8 804.9,88.3 805.2,99.3 805.4,121.1 805.7,143.1 805.9,161.2 806.2,182.7 806.4,198.9 806.7,202.4 806.9,206.4 807.2,199.1 807.4,185.6 807.7,169.8 807.9,147.3 808.2,130.6 808.4,113.7 808.7,93.7 808.9,79.6 809.2,70.8 809.4,63.2 809.7,68.5 809.9,80.6 810.2,88.5 810.4,108.8 810.7,128.3 810.9,148.6 811.2,165.2 811.4,180.8 811.7,187 811.9,191.9 812.2,188.6 812.4,179.2 812.7,169.5 812.9,148.8 813.2,130 813.4,109.8 813.7,96.8 813.9,76.6 814.2,72.1 814.4,72.4 814.7,76.3 814.9,80.5 815.2,92.1 815.4,108.8 815.7,123.9 815.9,142.2 816.2,154.5 816.4,170.6 816.7,178.9 816.9,182.4 817.2,180 817.4,185.5 817.7,176.7 817.9,166.2 818.2,148 818.4,136.7 818.7,123.5 818.9,112.5 819.2,106.5 819.4,100.8 819.7,96.9 819.9,101.5 820.2,103.7 820.4,107.9 820.7,115.5 820.9,126.6 821.2,144 821.4,156 821.7,165.9 821.9,176 822.2,182.7 822.4,185 822.7,177 822.9,171.2 823.2,160.3 823.4,144.8 823.7,124.4 823.9,115 824.2,102 824.4,97.7 824.7,89.2 824.9,91.7 825.2,93.3 825.4,93.3 825.7,106.8 825.9,121.4 826.2,133.4 826.4,147.9 826.7,159.6 826.9,174.5 827.2,184.2 827.4,182.6 827.7,178.8 827.9,170.7 828.2,156 828.4,143.7 828.7,126.2 828.9,114.1 829.2,94.7 829.4,80.7 829.7,77.7 829.9,78.5 830.2,84.1 830.4,90.8 830.7,112.1 830.9,127.4 831.1,142.4 831.4,156.3 831.6,170.5 831.9,175.6 832.1,178.5 832.4,173.5 832.6,164.9 832.9,154 833.1,135.6 833.4,113.9 833.6,99.7 833.9,83.4 834.1,72.9 834.4,76.1 834.6,79.7 834.9,96.3 835.1,109.7 835.4,127.1 835.6,140.1 835.9,155.9 836.1,160.6 836.4,164.6 836.6,162.3 836.9,152.1 837.1,148.7 837.4,130.7 837.6,115.8 837.9,96 838.1,87.4 838.4,84 838.6,83.1 838.9,90 839.1,105.2 839.4,121.1 839.6,143.4 839.9,167.2 840.1,175.4 840.4,185 840.6,187.8 840.9,181.5 841.1,165.7 841.4,150.6 841.6,130.3 841.9,110.2 842.1,91.1 842.4,86.8 842.6,76.7 842.9,84.5 843.1,95.5 843.4,104.3 843.6,126 843.9,150.1 844.1,168.2 844.4,181.1 844.6,190.2 844.9,195.4 845.1,185.5 845.4,167.9 845.6,147.4 845.9,117.9 846.1,92.7 846.4,73.2 846.6,62.2 846.9,63.2 847.1,80.3 847.4,109.7 847.6,142.8 847.9,170.7 848.1,195.3 848.4,201 848.6,190.1 848.9,165.8 849.1,126.5 849.4,102.9 849.6,76.1 849.9,69.5 850.1,70.4 850.4,90.5 850.6,127.5 850.9,150.2 851.1,165.5 851.4,176.3 851.6,176.9 851.9,168.6 852.1,148.6 852.4,122.8 852.6,92 852.9,65.7 853.1,65.1 853.4,67.1 853.6,96 853.9,126.2 854.1,167.3 854.4,198.3 854.6,207.1 854.9,200.9 855.1,172.4 855.4,134.3 855.6,94.6 855.9,67.9 856.1,59.2 856.4,74.9 856.6,101.8 856.9,142.4 857.1,178.5 857.4,199 857.6,199.4 857.9,183.5 858.1,148.7 858.4,111.5 858.6,81.7 858.9,69.4 859.1,68.9 859.4,94.4 859.6,125.7 859.9,166 860.1,190.9 860.4,200 860.6,189.2 860.9,151.7 861.1,114.9 861.4,75.2 861.6,58.7 861.9,69.6 862.1,100.2 862.4,141.6 862.6,179.6 862.9,197.2 863.1,187.9 863.4,157.7 863.6,105.4 863.9,68 864.1,48.6 864.4,72.3 864.6,117.9 864.9,163.5 865.1,194.4 865.4,206.1 865.6,187.9 865.9,148.6 866.1,103 866.4,61.6 866.6,41 866.8,61.6 867.1,95.1 867.3,146.8 867.6,181.9 867.8,206.6 868.1,206.3 868.3,182.8 868.6,142.4 868.8,103.9 869.1,69.4 869.3,54.8 869.6,55.6 869.8,82.4 870.1,117.8 870.3,160.7 870.6,189.4 870.8,215.2 871.1,207.6 871.3,181.8 871.6,148.5 871.8,108.5 872.1,72.2 872.3,54.7 872.6,51.1 872.8,65.5 873.1,103.6 873.3,148 873.6,179.4 873.8,198.9 874.1,199.8 874.3,191.3 874.6,164.3 874.8,126.2 875.1,90 875.3,65.9 875.6,55.6 875.8,61.9 876.1,80.9 876.3,116.5 876.6,144.4 876.8,178.4 877.1,196.8 877.3,201.1 877.6,195.8 877.8,181.7 878.1,148.2 878.3,114.9 878.6,88.6 878.8,66.5 879.1,54.2 879.3,61.7 879.6,71.5 879.8,108 880.1,136.8 880.3,163 880.6,185.3 880.8,197.1 881.1,197.9 881.3,188 881.6,163.8 881.8,144.5 882.1,104.3 882.3,73.2 882.6,49.2 882.8,42.2 883.1,54.9 883.3,79.3 883.6,111.6 883.8,147.3 884.1,177.2 884.3,188.9 884.6,193.9 884.8,194.3 885.1,168.3 885.3,132.9 885.6,100.5 885.8,69.9 886.1,51.9 886.3,50.3 886.6,63.9 886.8,92.7 887.1,125.1 887.3,160 887.6,186.5 887.8,204.7 888.1,205.6 888.3,198.1 888.6,175.4 888.8,143.6 889.1,110.4 889.3,75.5 889.6,50.7 889.8,40.4 890.1,46.4 890.3,68.7 890.6,100.6 890.8,145.3 891.1,176.4 891.3,207.2 891.6,220.5 891.8,211.5 892.1,184.7 892.3,142 892.6,104.5 892.8,68.6 893.1,57.3 893.3,65.6 893.6,86.7 893.8,128.3 894.1,160.4 894.3,185.3 894.6,197 894.8,191.8 895.1,162.2 895.3,114.6 895.6,67.5 895.8,38 896.1,35.5 896.3,62.8 896.6,116.7 896.8,174.6 897.1,214.6 897.3,226.5 897.6,210.2 897.8,167.1 898.1,117.9 898.3,32.2 898.6,72.5 898.8,74 899.1,87.2 899.3,123.9 899.6,159.2 899.8,190.8 900.1,205.2 900.3,200.8 900.6,184.7 900.8,154.4 901.1,121.3 901.3,87.9 901.6,62.7 901.8,55.9 902.1,65.2 902.3,83.1 902.5,110.3 902.8,142.9 903,181 903.3,206.8 903.5,223.9 903.8,220.5 904,197.5 904.3,178.7 904.5,139.3 904.8,104.4 905,77.4 905.3,59.4 905.5,51.3 905.8,58.9 906,79.7 906.3,114.2 906.5,142.9 906.8,173.1 907,193.1 907.3,200 907.5,193.7 907.8,174.4 908,149.7 908.3,111 908.5,75.1 908.8,51.5 909,43.9 909.3,58.6 909.5,85.3 909.8,118.3 910,157.9 910.3,181.9 910.5,200.7 910.8,203.8 911,196.9 911.3,173.4 911.5,142.9 911.8,111 912,85.5 912.3,71.4 912.5,66.2 912.8,73.8 913,87.1 913.3,111.8 913.5,136 913.8,157.5 914,180.6 914.3,194.2 914.5,191.8 914.8,181.7 915,160.8 915.3,129.3 915.5,106.3 915.8,89.5 916,71.9 916.3,69.5 916.5,84 916.8,104.9 917,130.3 917.3,155.1 917.5,175.4 917.8,185.2 918,183 918.3,167.5 918.5,141.5 918.8,115.2 919,97.3 919.3,80.7 919.5,80.3 919.8,96.5 920,117.8 920.3,153.5 920.5,184.9 920.8,194.7 921,193.4 921.3,173.7 921.5,139.6 921.8,107.7 922,85.3 922.3,79.9 922.5,78.2 922.8,93.8 923,120.4 923.3,146.9 923.5,170.7 923.8,191 924,195.6 924.3,177.5 924.5,162.3 924.8,136.8 925,108.6 925.3,88.6 925.5,80.2 925.8,75.9 926,88.5 926.3,107.3 926.5,127 926.8,152.5 927,179.1 927.3,191.6 927.5,196.5 927.8,182 928,173.2 928.3,144.1 928.5,123.6 928.8,105.2 929,89.2 929.3,81.4 929.5,80.8 929.8,90.9 930,107 930.3,124.5 930.5,142.9 930.8,163.3 931,176.9 931.3,187.6 931.5,186.3 931.8,177.3 932,165.9 932.3,150.6 932.5,129.6 932.8,113.6 933,92.6 933.3,89.5 933.5,81.2 933.8,85.5 934,91.1 934.3,105.6 934.5,123.9 934.8,138.5 935,149.4 935.3,158.2 935.5,165.2 935.8,165.3 936,158.6 936.3,160.4 936.5,146.9 936.8,139.4 937,123.4 937.3,106.4 937.5,96.4 937.8,86.7 938,89.9 938.2,85.2 938.5,96 938.7,103.9 939,118.6 939.2,140.3 939.5,151.1 939.7,162 940,168.4 940.2,176.4 940.5,175.9 940.7,173.9 941,156.1 941.2,140.7 941.5,129 941.7,116.3 942,108.2 942.2,94.4 942.5,86.9 942.7,93.9 943,100 943.2,113.4 943.5,131.4 943.7,142.9 944,164.4 944.2,172.4 944.5,174.8 944.7,169.2 945,159.3 945.2,143.2 945.5,127.9 945.7,112.8 946,97.1 946.2,92.6 946.5,94.8 946.7,102.5 947,113.9 947.2,133.6 947.5,149.5 947.7,164.6 948,169.6 948.2,171.9 948.5,163.8 948.7,162 949,145.3 949.2,125.2 949.5,113.8 949.7,102.8 950,91.5 950.2,95.8 950.5,102.9 950.7,113.5 951,123.1 951.2,139.7 951.5,160.6 951.7,172.2 952,174.7 952.2,173.3 952.5,167.6 952.7,149.9 953,131.9 953.2,123.3 953.5,108.1 953.7,99 954,99.6 954.2,107.8 954.5,113.1 954.7,124.1 955,139.6 955.2,165.6 955.5,165 955.7,176.5 956,164.5 956.2,148.6 956.5,129.1 956.7,113.8 957,101.4 957.2,88.2 957.5,93.1 957.7,110.9 958,121 958.2,155.7 958.5,177.7 958.7,196.4 959,185.7 959.2,163.9 959.5,131.1 959.7,106.6 960,88.5 960.2,77 960.5,87 960.7,103.4 961,124.7 961.2,159.3 961.5,184.4 961.7,198.5 962,191.6 962.2,175.6 962.5,150 962.7,117.1 963,98.8 963.2,82.8 963.5,76.5 963.7,90.9 964,108.2 964.2,136.5 964.5,164.2 964.7,183.8 965,199.1 965.2,190.2 965.5,171.9 965.7,142.2 966,110.1 966.2,77.1 966.5,60.4 966.7,65.5 967,83.7 967.2,106.3 967.5,136.6 967.7,151 968,164.7 968.2,170.1 968.5,166.5 968.7,159.1 969,143 969.2,124.4 969.5,96.1 969.7,80.6 970,70.7 970.2,78.6 970.5,93.8 970.7,118.9 971,148.5 971.2,166.9 971.5,179.5 971.7,177 972,164.7 972.2,147.1 972.5,124.5 972.7,93.9 973,83.9 973.2,74 973.5,93.1 973.7,125.2 973.9,148.3 974.2,182.4 974.4,200.3 974.7,182.8 974.9,147 975.2,101.3 975.4,72.7 975.7,67.3 975.9,93.2 976.2,140.8 976.4,178.8 976.7,196.2 976.9,172.3 977.2,138 977.4,90.5 977.7,70.2 977.9,73.6 978.2,99.2 978.4,146.6 978.7,176 978.9,191.9 979.2,186.3 979.4,158.3 979.7,126.8 979.9,105.7 980.2,90.1 980.4,89.7 980.7,103.4 980.9,122.9 981.2,147.4 981.4,176.7 981.7,190.4 981.9,186.8 982.2,175.2 982.4,149.1 982.7,117.5 982.9,92.2 983.2,76.5 983.4,77 983.7,92.7 983.9,122.4 984.2,155 984.4,185.5 984.7,194.2 984.9,183.8 985.2,146.1 985.4,115.4 985.7,89.1 985.9,83.4 986.2,91.9 986.4,119.9 986.7,150.9 986.9,173.9 987.2,191.5 987.4,172.3 987.7,142.6 987.9,115 988.2,90.9 988.4,79.3 988.7,88.9 988.9,103.9 989.2,131.6 989.4,156.1 989.7,174.6 989.9,181.5 990.2,177 990.4,162 990.7,145.5 990.9,116.4 991.2,102.2 991.4,92.7 991.7,92.5 991.9,97.2 992.2,108.1 992.4,125.4 992.7,152.9 992.9,167 993.2,173.9 993.4,187.4 993.7,171.3 993.9,154.8 994.2,133.1 994.4,104.4 994.7,90.7 994.9,76.1 995.2,72.5 995.4,86.9 995.7,106.1 995.9,128.2 996.2,152.1 996.4,165.8 996.7,183.5 996.9,181.7 997.2,180.2 997.4,160.5 997.7,141.9 997.9,126.4 998.2,101 998.4,90.1 998.7,83 998.9,81.7 999.2,100.4 999.4,118.6 999.7,134.6 999.9,161.6 1000.2,175.9 1000.4,187.7 1000.7,188.9 1000.9,175 1001.2,152 1001.4,129 1001.7,56.4 1001.9,92.8 1002.2,82.6 1002.4,81.4 1002.7,81.1 1002.9,99 1003.2,119.8 1003.4,138.3 1003.7,154.9 1003.9,170.7 1004.2,182.2 1004.4,185.8 1004.7,178.8 1004.9,171.1 1005.2,153.4 1005.4,128.9 1005.7,115 1005.9,98.2 1006.2,86 1006.4,83.2 1006.7,87.1 1006.9,90.7 1007.2,108.5 1007.4,128.5 1007.7,147.3 1007.9,167.8 1008.2,184.8 1008.4,187.8 1008.7,183.9 1008.9,174.4 1009.1,148.9 1009.4,126 1009.6,107.4 1009.9,96.2 1010.1,86.5 1010.4,88.5 1010.6,99.7 1010.9,120.9 1011.1,139.2 1011.4,167.8 1011.6,182.4 1011.9,185.2 1012.1,185.1 1012.4,169 1012.6,142.1 1012.9,123.4 1013.1,106.4 1013.4,93.5 1013.6,87.2 1013.9,99.3 1014.1,107.5 1014.4,124.8 1014.6,145.9 1014.9,165.9 1015.1,179.6 1015.4,180.8 1015.6,176.8 1015.9,157.7 1016.1,134.2 1016.4,114.3 1016.6,94 1016.9,80.8 1017.1,85.7 1017.4,100.6 1017.6,119.8 1017.9,148.2 1018.1,170.5 1018.4,184.2 1018.6,189.6 1018.9,174.9 1019.1,147.4 1019.4,124.6 1019.6,102.7 1019.9,92.7 1020.1,90.1 1020.4,98.9 1020.6,111.2 1020.9,142.9 1021.1,169.9 1021.4,186 1021.6,185.2 1021.9,166.7 1022.1,139.4 1022.4,105.9 1022.6,89 1022.9,78.6 1023.1,91.1 1023.4,113.9 1023.6,149.7 1023.9,173.7 1024.1,185.7 1024.4,178.4 1024.6,158.3 1024.9,119.2 1025.1,96.5 1025.4,84.1 1025.6,89.4 1025.9,111.4 1026.1,141.9 1026.4,177.6 1026.6,191.2 1026.9,179.3 1027.1,150.5 1027.4,118.4 1027.6,95.6 1027.9,88.6 1028.1,98.1 1028.4,120.8 1028.6,157.6 1028.9,173.4 1029.1,177.5 1029.4,162.5 1029.6,128.3 1029.9,106.7 1030.1,92.4 1030.4,95.1 1030.6,114.2 1030.9,144.2 1031.1,170.6 1031.4,177.8 1031.6,170.2 1031.9,134.6 1032.1,108.4 1032.4,88.3 1032.6,91.2 1032.9,117.2 1033.1,156.1 1033.4,188.3 1033.6,190.7 1033.9,162.9 1034.1,120.1 1034.4,89.1 1034.6,76.8 1034.9,94.8 1035.1,129.6 1035.4,170.1 1035.6,179.2 1035.9,173.7 1036.1,143.1 1036.4,102.1 1036.6,76.2 1036.9,80.9 1037.1,108.2 1037.4,144.7 1037.6,163.9 1037.9,168.8 1038.1,158.7 1038.4,130 1038.6,99.4 1038.9,77.9 1039.1,78.9 1039.4,95.6 1039.6,123.7 1039.9,164 1040.1,185.3 1040.4,194.4 1040.6,183.1 1040.9,161.7 1041.1,123.3 1041.4,94.6 1041.6,81.5 1041.9,78.2 1042.1,98.7 1042.4,117.7 1042.6,156.7 1042.9,185.4 1043.1,207.2 1043.4,194.1 1043.6,169 1043.9,127.6 1044.1,100.5 1044.4,78.7 1044.6,67.6 1044.8,89.1 1045.1,116.8 1045.3,151.5 1045.6,185.4 1045.8,196.3 1046.1,190 1046.3,170.9 1046.6,136.1 1046.8,94.3 1047.1,70.4 1047.3,66.1 1047.6,81.7 1047.8,119.5 1048.1,155.4 1048.3,187.5 1048.6,197.5 1048.8,178 1049.1,149 1049.3,104.9 1049.6,83.1 1049.8,77 1050.1,88.7 1050.3,118.6 1050.6,163.8 1050.8,197.8 1051.1,197.4 1051.3,170.7 1051.6,133.4 1051.8,92 1052.1,61.9 1052.3,64.2 1052.6,92.5 1052.8,131.3 1053.1,177.4 1053.3,204.4 1053.6,208.5 1053.8,182.8 1054.1,141.9 1054.3,104.8 1054.6,68.9 1054.8,57.6 1055.1,73.6 1055.3,107.5 1055.6,153.1 1055.8,187.1 1056.1,195.7 1056.3,188 1056.6,156.5 1056.8,103.3 1057.1,69.2 1057.3,55.9 1057.6,77.6 1057.8,120.3 1058.1,170.7 1058.3,205.4 1058.6,210.4 1058.8,191.5 1059.1,137.2 1059.3,94.7 1059.6,63.1 1059.8,54.3 1060.1,79.7 1060.3,125.7 1060.6,162.9 1060.8,201.7 1061.1,206.9 1061.3,188 1061.6,146 1061.8,104.6 1062.1,64.3 1062.3,53.8 1062.6,61.7 1062.8,101.4 1063.1,144.2 1063.3,173.7 1063.6,196.8 1063.8,194.3 1064.1,165.1 1064.3,132.5 1064.6,100 1064.8,72 1065.1,71.4 1065.3,81.2 1065.6,111.9 1065.8,153.8 1066.1,185.7 1066.3,198.6 1066.6,192.6 1066.8,169.6 1067.1,129.8 1067.3,100.2 1067.6,71 1067.8,63.3 1068.1,74.4 1068.3,99.9 1068.6,138.8 1068.8,170 1069.1,197.1 1069.3,207 1069.6,199.1 1069.8,173.2 1070.1,134.6 1070.3,113.1 1070.6,92.2 1070.8,80.7 1071.1,83.3 1071.3,95.7 1071.6,121.7 1071.8,157.2 1072.1,187 1072.3,209.1 1072.6,207.7 1072.8,191 1073.1,153.7 1073.3,116.3 1073.6,86 1073.8,66.9 1074.1,63.6 1074.3,77.6 1074.6,29.8 1074.8,138.7 1075.1,180.5 1075.3,200.8 1075.6,211.7 1075.8,194.4 1076.1,165.1 1076.3,125.3 1076.6,85.2 1076.8,67.5 1077.1,64.1 1077.3,76.1 1077.6,103.8 1077.8,135.1 1078.1,178.6 1078.3,202.6 1078.6,213.3 1078.8,195.4 1079.1,163.6 1079.3,122.8 1079.6,98.2 1079.8,73.3 1080.1,66.1 1080.3,76.5 1080.5,94.4 1080.8,123.5 1081,160.9 1081.3,181.4 1081.5,197.4 1081.8,200.6 1082,188.7 1082.3,156.3 1082.5,127.4 1082.8,90.6 1083,63.1 1083.3,54.9 1083.5,54.7 1083.8,74.8 1084,102.5 1084.3,135.3 1084.5,164.5 1084.8,184.8 1085,199.9 1085.3,201.5 1085.5,191.3 1085.8,170.1 1086,147.6 1086.3,118.9 1086.5,92 1086.8,73.5 1087,61.3 1087.3,61.5 1087.5,64.2 1087.8,83.4 1088,109.2 1088.3,136.9 1088.5,156.6 1088.8,181.9 1089,196.2 1089.3,199.1 1089.5,192.8 1089.8,174.4 1090,154.9 1090.3,123.3 1090.5,105.1 1090.8,80.4 1091,71.8 1091.3,62.6 1091.5,76.4 1091.8,93.8 1092,116.1 1092.3,140.7 1092.5,168.2 1092.8,182 1093,191.1 1093.3,184 1093.5,172 1093.8,153.1 1094,130.8 1094.3,105.6 1094.5,86.8 1094.8,71.9 1095,67.3 1095.3,83.1 1095.5,94.4 1095.8,116.3 1096,136.5 1096.3,159 1096.5,171.9 1096.8,182.5 1097,179.2 1097.3,173.9 1097.5,161.2 1097.8,142.2 1098,122.2 1098.3,102.6 1098.5,80.1 1098.8,72 1099,74.1 1099.3,82.3 1099.5,100.9 1099.8,130.4 1100,147.9 1100.3,156.6 1100.5,165.7 1100.8,172.5 1101,167.7 1101.3,154.1 1101.5,137.6 1101.8,117.7 1102,92.4 1102.3,81.7 1102.5,78.2 1102.8,81 1103,102.4 1103.3,124.6 1103.5,143.7 1103.8,159.6 1104,172.6 1104.3,173.8 1104.5,169.3 1104.8,149.4 1105,133.9 1105.3,117.1 1105.5,96.2 1105.8,83.3 1106,81.9 1106.3,86.2 1106.5,103 1106.8,128.3 1107,143 1107.3,157.9 1107.5,161.5 1107.8,162.7 1108,150.8 1108.3,145.8 1108.5,136.5 1108.8,112.3 1109,93.9 1109.3,89.4 1109.5,91.5 1109.8,104.2 1110,124.2 1110.3,151.2 1110.5,174.2 1110.8,179.1 1111,174.8 1111.3,152 1111.5,122.5 1111.8,91.7 1112,75.5 1112.3,91.8 1112.5,118.9 1112.8,150.4 1113,174.5 1113.3,173.3 1113.5,155.1 1113.8,114.5 1114,82.9 1114.3,76.4 1114.5,99.9 1114.8,134.1 1115,162.4 1115.3,177.8 1115.5,175.5 1115.8,148.3 1116,121.7 1116.2,97 1116.5,86.6 1116.7,92.3 1117,117.2 1117.2,138.5 1117.5,163.7 1117.7,183.7 1118,181.8 1118.2,160.1 1118.5,135.6 1118.7,110 1119,81 1119.2,76.6 1119.5,89.3 1119.7,108.1 1120,141.1 1120.2,164.5 1120.5,173.5 1120.7,173.3 1121,156.5 1121.2,129.4 1121.5,103.7 1121.7,85.4 1122,78.6 1122.2,96.1 1122.5,123.7 1122.7,153.4 1123,174 1123.2,176.2 1123.5,166.7 1123.7,136.1 1124,112.8 1124.2,88.5 1124.5,84.1 1124.7,92.5 1125,115.1 1125.2,140.2 1125.5,165.9 1125.7,173.7 1126,169.9 1126.2,153.8 1126.5,131.8 1126.7,109.9 1127,102.1 1127.2,95.7 1127.5,104.5 1127.7,122.6 1128,146.5 1128.2,170.5 1128.5,175.6 1128.7,182.5 1129,161.3 1129.2,140.2 1129.5,115.3 1129.7,94.1 1130,76.4 1130.2,76.3 1130.5,97.8 1130.7,120.8 1131,144.8 1131.2,169.5 1131.5,178.2 1131.7,183.6 1132,166.8 1132.2,147.2 1132.5,113.6 1132.7,99.7 1133,91.3 1133.2,86.2 1133.5,98.1 1133.7,113.7 1134,144.6 1134.2,167.6 1134.5,180.4 1134.7,178.9 1135,169.9 1135.2,143.8 1135.5,117.1 1135.7,94.2 1136,78.9 1136.2,79.2 1136.5,96.8 1136.7,117.8 1137,154.2 1137.2,172.8 1137.5,184.6 1137.7,181 1138,160.6 1138.2,129 1138.5,103.5 1138.7,87.6 1139,87 1139.2,97.2 1139.5,121.9 1139.7,143.4 1140,167.2 1140.2,172.5 1140.5,174.3 1140.7,166.2 1141,145.8 1141.2,126.7 1141.5,113.4 1141.7,90.4 1142,85.9 1142.2,80.6 1142.5,86.2 1142.7,108.8 1143,126 1143.2,144.9 1143.5,158.8 1143.7,168.6 1144,171.3 1144.2,174.3 1144.5,159.1 1144.7,151.1 1145,131.4 1145.2,112.6 1145.5,99.8 1145.7,95.2 1146,93 1146.2,98.2 1146.5,109.4 1146.7,123 1147,149.4 1147.2,163.9 1147.5,175.4 1147.7,178 1148,170.5 1148.2,151.8 1148.5,133.1 1148.7,115.2 1149,102.8 1149.2,92.6 1149.5,101.4 1149.7,100.5 1150,116.3 1150.2,131.1 1150.5,149.1 1150.7,164.6 1151,168.9 1151.2,171 1151.5,163.2 1151.7,157.6 1151.9,136.9 1152.2,125.5 1152.4,114.6 1152.7,106.5 1152.9,99.3 1153.2,97.3 1153.4,98.3 1153.7,104.8 1153.9,117.6 1154.2,136.3 1154.4,151.3 1154.7,168.7 1154.9,177.9 1155.2,179.4 1155.4,181.1 1155.7,174.7 1155.9,162.9 1156.2,142.8 1156.4,122.4 1156.7,97.2 1156.9,85.7 1157.2,75.2 1157.4,76.4 1157.7,82.9 1157.9,95.5 1158.2,121.8 1158.4,143.6 1158.7,164.8 1158.9,175.7 1159.2,187.5 1159.4,185.2 1159.7,173.6 1159.9,153.5 1160.2,123.7 1160.4,91.1 1160.7,79 1160.9,65.4 1161.2,72.8 1161.4,95.7 1161.7,123 1161.9,152.5 1162.2,177.3 1162.4,183.7 1162.7,191.4 1162.9,170.3 1163.2,144.8 1163.4,112.4 1163.7,76.4 1163.9,54.6 1164.2,55.3 1164.4,72.9 1164.7,105 1164.9,146.1 1165.2,162.2 1165.4,175.7 1165.7,180.9 1165.9,25 1166.2,151.2 1166.4,34.7 1166.7,88.6 1166.9,70.8 1167.2,68.5 1167.4,92.5 1167.7,123.2 1167.9,159.1 1168.2,178 1168.4,185.4 1168.7,177.1 1168.9,151.7 1169.2,117.7 1169.4,107.1 1169.7,98.4 1169.9,100.8 1170.2,107.9 1170.4,122.5 1170.7,148.5 1170.9,168.4 1171.2,174.6 1171.4,166.1 1171.7,156.5 1171.9,130.1 1172.2,110.3 1172.4,98.5 1172.7,90.9 1172.9,94.9 1173.2,106.3 1173.4,131.3 1173.7,147.7 1173.9,168.6 1174.2,177.9 1174.4,173.2 1174.7,161.2 1174.9,143.4 1175.2,128.3 1175.4,115.9 1175.7,103.4 1175.9,100.7 1176.2,108 1176.4,115.3 1176.7,130.7 1176.9,150.1 1177.2,167.5 1177.4,181.8 1177.7,183.1 1177.9,172.3 1178.2,157 1178.4,137.5 1178.7,114.4 1178.9,99.8 1179.2,86.8 1179.4,87.8 1179.7,95.6 1179.9,109.1 1180.2,128.9 1180.4,150.2 1180.7,166.4 1180.9,173.4 1181.2,174.3 1181.4,164 1181.7,154.6 1181.9,130.8 1182.2,113.1 1182.4,98.1 1182.7,93.3 1182.9,96.1 1183.2,104.2 1183.4,122.8 1183.7,148.8 1183.9,164.8 1184.2,180.2 1184.4,186.8 1184.7,173.6 1184.9,157.1 1185.2,126.5 1185.4,106.3 1185.7,88.4 1185.9,76.4 1186.2,77.5 1186.4,86.7 1186.7,108.6 1186.9,134.5 1187.2,158.6 1187.4,183.9 1187.6,184.6 1187.9,189.4 1188.1,174.4 1188.4,154.6 1188.6,134.2 1188.9,110.9 1189.1,88.6 1189.4,74.6 1189.6,72.2 1189.9,80.3 1190.1,99.2 1190.4,118.8 1190.6,146.5 1190.9,165.2 1191.1,182.3 1191.4,186.3 1191.6,181.6 1191.9,166 1192.1,144.7 1192.4,120.7 1192.6,93.8 1192.9,71.8 1193.1,53.7 1193.4,58.3 1193.6,70.2 1193.9,87.9 1194.1,117.1 1194.4,144.4 1194.6,168 1194.9,177 1195.1,189.5 1195.4,187.9 1195.6,179.5 1195.9,165.1 1196.1,142.9 1196.4,114.4 1196.6,91.9 1196.9,76.7 1197.1,70.4 1197.4,71.7 1197.6,78.7 1197.9,98.7 1198.1,115.1 1198.4,139.4 1198.6,160.1 1198.9,184.6 1199.1,200.5 1199.4,204.6 1199.6,204.9 1199.9,183.5 1200.1,161.4 1200.4,133.7 1200.6,115.4 1200.9,99.7 1201.1,88.7 1201.4,81.1 1201.6,78.9 1201.9,91 1202.1,101.2 1202.4,119.2 1202.6,130.3 1202.9,152.7 1203.1,172.5 1203.4,190.1 1203.6,192.2 1203.9,190.4 1204.1,178.8 1204.4,162 1204.6,138.5 1204.9,116.3 1205.1,90.1 1205.4,73.8 1205.6,65.5 1205.9,65.1 1206.1,75.7 1206.4,91 1206.6,117.8 1206.9,144.4 1207.1,173.6 1207.4,197.6 1207.6,203.5 1207.9,208.2 1208.1,192.3 1208.4,171.2 1208.6,147.8 1208.9,118 1209.1,92.6 1209.4,75.2 1209.6,66.9 1209.9,63.3 1210.1,76.7 1210.4,94.3 1210.6,120.6 1210.9,146.1 1211.1,174.7 1211.4,193.4 1211.6,204.4 1211.9,208.6 1212.1,203.3 1212.4,189.9 1212.6,165.4 1212.9,139.6 1213.1,117.3 1213.4,97.9 1213.6,77.7 1213.9,61.6 1214.1,63.6 1214.4,64.6 1214.6,73.9 1214.9,96.6 1215.1,110.1 1215.4,134.9 1215.6,156.7 1215.9,184.9 1216.1,204.8 1216.4,214.6 1216.6,215.6 1216.9,209.7 1217.1,191.7 1217.4,170.8 1217.6,139.3 1217.9,106.4 1218.1,75.3 1218.4,56 1218.6,43.8 1218.9,39.3 1219.1,49 1219.4,67.5 1219.6,97.2 1219.9,132.7 1220.1,155.4 1220.4,176 1220.6,190.1 1220.9,196.5 1221.1,195.7 1221.4,186.6 1221.6,163.3 1221.9,142.2 1222.1,104.3 1222.4,72.9 1222.6,53.9 1222.9,37.2 1223.1,39.8 1223.3,58.4 1223.6,82.8 1223.8,117.7 1224.1,160 1224.3,184.9 1224.6,207.9 1224.8,217.2 1225.1,211.1 1225.3,196.8 1225.6,167.6 1225.8,133.3 1226.1,100.9 1226.3,72.1 1226.6,57.9 1226.8,51.8 1227.1,56.1 1227.3,77.8 1227.6,105.4 1227.8,144.6 1228.1,177.5 1228.3,205.6 1228.6,221.6 1228.8,226.3 1229.1,210.9 1229.3,188.3 1229.6,153.3 1229.8,112.7 1230.1,71 1230.3,43.4 1230.6,25.2 1230.8,32.6 1231.1,59.7 1231.3,103 1231.6,149.3 1231.8,187.6 1232.1,213 1232.3,217.2 1232.6,193.7 1232.8,153.3 1233.1,99.5 1233.3,58.9 1233.6,43 1233.8,43.4 1234.1,81.7 1234.3,134.7 1234.6,183.8 1234.8,221.1 1235.1,249.6 1235.3,214 1235.6,17.7 1235.8,133.1 1236.1,86.6 1236.3,42.7 1236.6,29.7 1236.8,33.8 1237.1,49.7 1237.3,87.8 1237.6,133.5 1237.8,183.4 1238.1,214 1238.3,231.5 1238.6,240.2 1238.8,211.6 1239.1,177.3 1239.3,122.4 1239.6,86.9 1239.8,57.5 1240.1,40.5 1240.3,49.3 1240.6,79.7 1240.8,118.4 1241.1,156.4 1241.3,184.9 1241.6,187.3 1241.8,186.8 1242.1,164.5 1242.3,128.2 1242.6,75.8 1242.8,37.2 1243.1,29.5 1243.3,59.2 1243.6,113.5 1243.8,170.7 1244.1,218.1 1244.3,227.7 1244.6,202.6 1244.8,153.9 1245.1,88.4 1245.3,44.4 1245.6,27.4 1245.8,56 1246.1,112.8 1246.3,180.6 1246.6,224.5 1246.8,238.6 1247.1,207.5 1247.3,153.5 1247.6,91.4 1247.8,39.1 1248.1,23.9 1248.3,49 1248.6,96.1 1248.8,161.3 1249.1,211.6 1249.3,232.6 1249.6,220.5 1249.8,173.8 1250.1,118.1 1250.3,77 1250.6,58.9 1250.8,70.7 1251.1,96.9 1251.3,146.6 1251.6,194.9 1251.8,218.3 1252.1,210.8 1252.3,167.2 1252.6,118.8 1252.8,71.8 1253.1,37.6 1253.3,44 1253.6,74.1 1253.8,127.8 1254.1,164.2 1254.3,198.8 1254.6,213.5 1254.8,205.7 1255.1,177.5 1255.3,143.6 1255.6,97.8 1255.8,64.8 1256.1,42.4 1256.3,37 1256.6,55.6 1256.8,91.7 1257.1,127.6 1257.3,171.4 1257.6,207.4 1257.8,224.6 1258.1,229.1 1258.3,216.7 1258.6,185.9 1258.8,140.4"/>
<polyline class="b" style="stroke-width:1.45" points="759.7,67.3 760,44.1 760.2,39 760.5,52.8 760.7,82.4 761,121.5 761.2,166.9 761.5,207 761.7,232.8 762,239.8 762.2,227.1 762.5,197.4 762.7,156 763,112.8 763.2,75.6 763.5,47.8 763.7,33.7 764,35.3 764.2,52 764.5,81.1 764.7,117.8 765,148.4 765.2,172.2 765.5,189.9 765.7,198.7 766,197.1 766.2,184.8 766.5,163.5 766.7,136.3 767,100.9 767.2,69 767.5,48.1 767.7,42.9 768,55.3 768.2,83.4 768.5,122.1 768.7,172.8 769,217.5 769.2,242.8 769.5,242.9 769.7,217.6 770,172.8 770.2,122.4 770.5,86.2 770.7,60.3 771,50.5 771.2,59 771.5,83.9 771.7,119.5 772,167.5 772.2,211.5 772.5,236.9 772.7,237.6 773,213 773.2,168.7 773.5,116.2 773.7,69.8 774,38.8 774.2,31.8 774.5,51.7 774.7,93.7 775,146.3 775.2,193.9 775.5,223.4 775.7,225.7 776,199.5 776.2,152.5 776.5,102.2 776.7,63 777,44.4 777.2,51.9 777.5,82.6 777.7,127 778,174 778.2,208.9 778.5,222.5 778.7,212 779,180.9 779.2,137.6 779.5,95.4 779.7,62.5 780,46.4 780.2,50.6 780.5,74.1 780.7,111.3 781,155.7 781.2,196.5 781.5,221.4 781.7,224.2 782,203.7 782.2,164.7 782.5,117.3 782.7,74.2 783,46.1 783.2,40.8 783.5,60.1 783.7,99.2 784,148.4 784.2,194.7 784.5,223.1 784.7,225.5 785,200.9 785.2,156.4 785.5,102.9 785.7,55.8 786,30.4 786.2,33.7 786.5,64.6 786.7,114.2 787,168 787.2,211.1 787.5,232.1 787.7,225.7 788,194.1 788.2,146.4 788.5,98 788.7,59.6 789,39.5 789.2,42.1 789.5,66.2 789.7,105.6 790,153.4 790.2,199.1 790.5,229.1 790.7,236.7 791,220.6 791.2,184.8 791.5,137.5 791.7,98 792,67.2 792.2,50.2 792.5,50.5 792.7,67.6 793,97.9 793.2,133.9 793.5,159.5 793.7,179.3 794,189.3 794.2,187.5 794.5,174.2 794.7,152.3 795,123 795.2,83.3 795.4,53.4 795.7,39.5 795.9,44.5 796.2,67.2 796.4,102.7 796.7,142.3 796.9,175.7 797.2,198.7 797.4,208.4 797.7,204.3 797.9,188.5 798.2,164.7 798.4,137.3 798.7,110.8 798.9,88.6 799.2,73.1 799.4,65.8 799.7,67.1 799.9,76.1 800.2,91.3 800.4,110.5 800.7,131.2 800.9,154.2 801.2,174.4 801.4,189.5 801.7,198.1 801.9,199.5 802.2,193.8 802.4,181.5 802.7,164 802.9,143.3 803.2,121.5 803.4,101 803.7,83.7 803.9,71.4 804.2,65.1 804.4,65.5 804.7,72.2 804.9,84.5 805.2,101.1 805.4,120.4 805.7,141.4 805.9,162.5 806.2,180.5 806.4,193.9 806.7,201.5 806.9,202.7 807.2,197.6 807.4,186.5 807.7,170.5 807.9,151.1 808.2,130.1 808.4,110 808.7,91.9 808.9,77.4 809.2,67.9 809.4,64.2 809.7,67 809.9,75.9 810.2,90.2 810.4,108.5 810.7,129.1 810.9,148.9 811.2,166.7 811.4,180.9 811.7,189.9 811.9,192.9 812.2,189.5 812.4,180.2 812.7,166 812.9,148.4 813.2,129.3 813.4,110.3 813.7,93.5 813.9,80.5 814.2,72.3 814.4,69.5 814.7,72.2 814.9,79.9 815.2,91.9 815.4,107 815.7,124.1 815.9,140.7 816.2,155.8 816.4,168.9 816.7,178.8 816.9,184.8 817.2,186.2 817.4,183.1 817.7,175.5 817.9,164.2 818.2,149.9 818.4,133.9 818.7,122.3 818.9,112.4 819.2,104.2 819.4,98.5 819.7,95.8 819.9,96.4 820.2,100.2 820.4,107 820.7,115.9 820.9,126.2 821.2,139.7 821.4,154.9 821.7,167.8 821.9,177.3 822.2,182.5 822.4,182.9 822.7,178.5 822.9,169.8 823.2,157.5 823.4,142.8 823.7,127.9 823.9,115.6 824.2,104.8 824.4,96.5 824.7,91.5 824.9,90.3 825.2,93 825.4,99.3 825.7,108.7 825.9,120.2 826.2,133.2 826.4,148.7 826.7,162.5 826.9,173.3 827.2,180 827.4,181.9 827.7,178.8 827.9,171 828.2,159.1 828.4,144.4 828.7,128.2 828.9,111.5 829.2,96.8 829.4,85.8 829.7,79.6 829.9,79.1 830.2,84.5 830.4,95.1 830.7,109.9 830.9,127.2 831.1,143.5 831.4,158.1 831.6,169.5 831.9,176.4 832.1,177.9 832.4,173.8 832.6,164.6 832.9,151.3 833.1,135.5 833.4,116 833.6,97.3 833.9,82.8 834.1,74.5 834.4,73.5 834.6,80.2 834.9,93.7 835.1,112.4 835.4,132.7 835.6,145 835.9,155.4 836.1,162.3 836.4,164.9 836.6,162.6 836.9,155.8 837.1,145.5 837.4,133.2 837.6,115.6 837.9,99.4 838.1,87.8 838.4,82.4 838.6,83.8 838.9,91.8 839.1,105.3 839.4,122.3 839.6,142.1 839.9,162 840.1,177.6 840.4,186.7 840.6,188.2 840.9,181.7 841.1,168.2 841.4,149.5 841.6,128.6 841.9,109.8 842.1,94 842.4,83.5 842.6,79.6 842.9,82.9 843.1,92.8 843.4,107.3 843.6,125.8 843.9,147 844.1,167.3 844.4,183.4 844.6,193.1 844.9,194.4 845.1,186.4 845.4,169.6 845.6,145.9 845.9,118.7 846.1,92.6 846.4,71.9 846.6,61 846.9,63.3 847.1,80.4 847.4,108.4 847.6,141.8 847.9,173.4 848.1,195.8 848.4,203.2 848.6,193 848.9,167.2 849.1,131.9 849.4,100.9 849.6,78 849.9,68.8 850.1,74.9 850.4,94.6 850.6,122.7 850.9,147.8 851.1,167.1 851.4,178.2 851.6,178.7 851.9,168.5 852.1,149.7 852.4,124.3 852.6,91.8 852.9,68.2 853.1,59.6 853.4,68.6 853.6,93.6 853.9,128.5 854.1,166.8 854.4,196.1 854.6,208 854.9,198.7 855.1,170.2 855.4,130.5 855.6,94.6 855.9,69.1 856.1,61.6 856.4,74.6 856.6,104.3 856.9,142.5 857.1,178.3 857.4,200.3 857.6,202 857.9,182.7 858.1,148.1 858.4,111.1 858.6,81.9 858.9,67.2 859.1,71.4 859.4,93.4 859.6,126.9 859.9,164 860.1,191.7 860.4,201 860.6,188.2 860.9,156.6 861.1,115.8 861.4,79.5 861.6,61 861.9,68 862.1,99.3 862.4,142.7 862.6,179.8 862.9,197.3 863.1,187.2 863.4,153.3 863.6,104.9 863.9,62.7 864.1,49.5 864.4,70.5 864.6,116.2 864.9,163 865.1,195.1 865.4,202.6 865.6,183.7 865.9,146 866.1,98.1 866.4,59.2 866.6,44.9 866.8,59.1 867.1,96.6 867.3,143.5 867.6,182.7 867.8,205.8 868.1,206.2 868.3,184.2 868.6,146.6 868.8,104.3 869.1,69.7 869.3,52.4 869.6,57 869.8,81.8 870.1,119.8 870.3,160.6 870.6,193.6 870.8,210.4 871.1,206.8 871.3,183.9 871.6,147.6 871.8,106.6 872.1,71.5 872.3,51.4 872.6,51.4 872.8,71.4 873.1,106.4 873.3,145.3 873.6,177.3 873.8,197.9 874.1,202.2 874.3,189.4 874.6,162.6 874.8,128.4 875.1,92.1 875.3,65 875.6,52.9 875.8,58.2 876.1,79.2 876.3,111.1 876.6,146.2 876.8,176.9 877.1,198 877.3,205.6 877.6,198.7 877.8,178.9 878.1,150.3 878.3,117.7 878.6,86.8 878.8,64.2 879.1,54 879.3,57.9 879.6,75 879.8,102.2 880.1,134.1 880.3,162.3 880.6,184.7 880.8,197.5 881.1,198.5 881.3,187.5 881.6,166.6 881.8,139.4 882.1,104.3 882.3,71.5 882.6,49.5 882.8,42.7 883.1,52.7 883.3,77.8 883.6,113.5 883.8,148.2 884.1,175.5 884.3,193.8 884.6,199.5 884.8,190.7 885.1,169 885.3,139 885.6,102.4 885.8,70.5 886.1,51.4 886.3,49 886.6,63.4 886.8,91.4 887.1,126.9 887.3,159.1 887.6,185.4 887.8,201.8 888.1,205.5 888.3,196 888.6,175 888.8,146.1 889.1,111.2 889.3,76.7 889.6,51.6 889.8,40.6 890.1,46.1 890.3,67.9 890.6,102.4 890.8,142.6 891.1,179.7 891.3,207.2 891.6,218.7 891.8,210.3 892.1,183.1 892.3,142.4 892.6,102.8 892.8,71.3 893.1,55.4 893.3,60.1 893.6,84.9 893.8,123.5 894.1,160.3 894.3,187.9 894.6,198.6 894.8,188.6 895.1,160.4 895.3,118.9 895.6,68.2 895.8,38 896.1,38.1 896.3,68.7 896.6,119.8 896.8,175 897.1,215.5 897.3,228 897.6,208.7 897.8,164.6 898.1,118 898.3,88.4 898.6,72.3 898.8,74.3 899.1,92.8 899.3,121.8 899.6,158.9 899.8,190.4 900.1,206.2 900.3,203.3 900.6,183.6 900.8,152.4 901.1,117.3 901.3,85.7 901.6,64 901.8,56 902.1,62.7 902.3,82.2 902.5,110.4 902.8,144.1 903,179.6 903.3,206.2 903.5,219.5 903.8,217.7 904,201.4 904.3,173.4 904.5,138.5 904.8,104.9 905,76.5 905.3,57.5 905.5,51.1 905.8,58.9 906,79.5 906.3,109.7 906.5,142.6 906.8,171 907,191.8 907.3,200.5 907.5,195.2 907.8,176.6 908,148.5 908.3,113.2 908.5,77.9 908.8,54.3 909,47.3 909.3,58.3 909.5,84.9 909.8,120.3 910,154.6 910.3,182.4 910.5,199.4 910.8,202.9 911,192.6 911.3,171.2 911.5,142.9 911.8,113.2 912,87.9 912.3,71.2 912.5,65.7 912.8,71.8 913,88.1 913.3,111.2 913.5,137.5 913.8,161.7 914,180.5 914.3,190.5 914.5,189.8 914.8,178.2 915,157.9 915.3,132.5 915.5,106.8 915.8,85.8 916,73.5 916.3,72.5 916.5,83.1 916.8,103.3 917,129.5 917.3,155.8 917.5,177 917.8,188.1 918,185.9 918.3,170.3 918.5,144.8 918.8,116.8 919,93.6 919.3,80.4 919.5,81 919.8,95.5 920,120 920.3,152.6 920.5,182.6 920.8,198.2 921,195 921.3,174.2 921.5,141.9 921.8,110.3 922,86.1 922.3,73.9 922.5,76.5 922.8,92.7 923,118.1 923.3,147.4 923.5,173.6 923.8,189.9 924,192.9 924.3,182.4 924.5,161.2 924.8,133.8 925,109.2 925.3,89.6 925.5,78.5 925.8,77.8 926,87.3 926.3,105 926.5,127.5 926.8,154.3 927,177.6 927.3,192.4 927.5,196.3 927.8,188.8 928,171.5 928.3,147.5 928.5,123.4 928.8,104.9 929,90.9 929.3,83.5 929.5,83.9 929.8,91.7 930,105.5 930.3,123.2 930.5,144.1 930.8,164.7 931,180.3 931.3,188.6 931.5,188.8 931.8,181 932,166.3 932.3,147 932.5,126.7 932.8,110.1 933,96.5 933.3,87.5 933.5,84.2 933.8,86.9 934,95.3 934.3,108 934.5,123.7 934.8,138.1 935,149.6 935.3,158.6 935.5,163.9 935.8,165.2 936,162.5 936.3,156.3 936.5,147.5 936.8,137.2 937,123.8 937.3,108.4 937.5,96.2 937.8,88.6 938,86 938.2,87.8 938.5,94.6 938.7,105.4 939,119 939.2,134.1 939.5,149.3 939.7,162.5 940,172.2 940.2,177.1 940.5,176.5 940.7,170.5 941,159.6 941.2,145.1 941.5,129.1 941.7,115.7 942,104.3 942.2,96.5 942.5,93.4 942.7,95.7 943,103.1 943.2,114.7 943.5,129 943.7,146.1 944,161.5 944.2,171.9 944.5,175.4 944.7,171.3 945,160.3 945.2,144.1 945.5,126 945.7,109.7 946,97.2 946.2,90.8 946.5,91.6 946.7,99.4 947,112.7 947.2,129.1 947.5,146.2 947.7,160.7 948,170 948.2,172.8 948.5,168.7 948.7,158.4 949,143.7 949.2,127.4 949.5,113.2 949.7,102.1 950,95.6 950.2,95 950.5,100.2 950.7,110.4 951,123.9 951.2,140.4 951.5,157.3 951.7,169.8 952,176 952.2,174.7 952.5,166 952.7,151.4 953,133.3 953.2,119 953.5,107.3 953.7,100 954,98.2 954.2,102.6 954.5,112.4 954.7,125.9 955,143.4 955.2,160.3 955.5,171.3 955.7,173.8 956,166.8 956.2,151.6 956.5,131.4 956.7,114.2 957,98.6 957.2,89.7 957.5,91.3 957.7,104.8 958,127.9 958.2,157.4 958.5,182.1 958.7,194.2 959,189.2 959.2,167.8 959.5,134.8 959.7,106.6 960,85.6 960.2,76.6 960.5,81.7 960.7,99.3 961,124.9 961.2,156.9 961.5,184 961.7,198.2 962,196.2 962.2,178.7 962.5,149.9 962.7,120 963,97 963.2,82 963.5,78.7 963.7,87.9 964,107.5 964.2,133.3 964.5,164.5 964.7,187.7 965,197.3 965.2,190.7 965.5,169.7 965.7,139.4 966,107.1 966.2,80.6 966.5,66.1 966.7,66.7 967,81.9 967.2,108 967.5,135.8 967.7,152.9 968,165.4 968.2,170.8 968.5,168 968.7,157.7 969,142 969.2,120.3 969.5,95.1 969.7,77.2 970,70.4 970.2,76.3 970.5,94 970.7,120 971,145 971.2,164.9 971.5,177.2 971.7,178.8 972,168.8 972.2,149.1 972.5,123.6 972.7,97.5 973,80.3 973.2,77.7 973.5,91.5 973.7,118.5 973.9,154.7 974.2,186.2 974.4,197.9 974.7,183.2 974.9,146.4 975.2,101.6 975.4,69.1 975.7,65.7 975.9,94.4 976.2,141.3 976.4,181.7 976.7,196.4 976.9,178 977.2,136.2 977.4,91.2 977.7,65.6 977.9,70.6 978.2,102.4 978.4,144.3 978.7,177.3 978.9,191.8 979.2,183.8 979.4,157.5 979.7,125.6 979.9,104.5 980.2,92 980.4,91.2 980.7,102 980.9,120.7 981.2,148.1 981.4,176.5 981.7,192.9 981.9,193.2 982.2,177.2 982.4,149.1 982.7,117.1 982.9,90.1 983.2,74.3 983.4,74.6 983.7,91.7 983.9,121.4 984.2,156.8 984.4,184.5 984.7,193.7 984.9,180.8 985.2,150.1 985.4,116.7 985.7,93.4 985.9,85.3 986.2,95.5 986.4,119.3 986.7,152.6 986.9,180.4 987.2,188.6 987.4,175.2 987.7,146.7 987.9,116 988.2,92.8 988.4,82.4 988.7,87.3 988.9,104.9 989.2,129.4 989.4,154.5 989.7,173.1 989.9,181.2 990.2,177.3 990.4,163.1 990.7,142 990.9,121.3 991.2,105.1 991.4,94.5 991.7,91.6 991.9,97 992.2,109.4 992.4,126.5 992.7,148.7 992.9,168.9 993.2,181.1 993.4,182.8 993.7,173.7 993.9,155.8 994.2,132.8 994.4,107.8 994.7,87.7 994.9,76.5 995.2,76.1 995.4,86.4 995.7,105 995.9,128.4 996.2,151 996.4,169.6 996.7,181.3 996.9,183.9 997.2,177.1 997.4,162.2 997.7,141.7 997.9,120 998.2,101 998.4,87.4 998.7,81.9 998.9,85.5 999.2,97.6 999.4,115.9 999.7,138.2 999.9,161.9 1000.2,179.8 1000.4,188.6 1000.7,186.7 1000.9,174.8 1001.2,155.1 1001.4,131.3 1001.7,110.2 1001.9,92.9 1002.2,82.3 1002.4,79.9 1002.7,85.9 1002.9,99 1003.2,117 1003.4,137.2 1003.7,156.7 1003.9,172.3 1004.2,181.9 1004.4,184.1 1004.7,178.9 1004.9,167 1005.2,150.2 1005.4,130.9 1005.7,113.8 1005.9,99.2 1006.2,89 1006.4,84.8 1006.7,87.2 1006.9,96 1007.2,110.1 1007.4,127.6 1007.7,149.1 1007.9,168.8 1008.2,182.7 1008.4,188 1008.7,183.5 1008.9,169.6 1009.1,148.5 1009.4,125.3 1009.6,106.3 1009.9,92.1 1010.1,85.7 1010.4,88.4 1010.6,100 1010.9,118.1 1011.1,140.8 1011.4,164.8 1011.6,181.9 1011.9,188.5 1012.1,183.4 1012.4,167.7 1012.6,144.7 1012.9,122.4 1013.1,105.7 1013.4,94 1013.6,89.8 1013.9,93.9 1014.1,105.4 1014.4,122.3 1014.6,143.2 1014.9,163.8 1015.1,177.6 1015.4,181.6 1015.6,174.6 1015.9,158 1016.1,135.2 1016.4,112.5 1016.6,94.4 1016.9,84.8 1017.1,86.5 1017.4,99.1 1017.6,119.7 1017.9,145.9 1018.1,171.2 1018.4,186.4 1018.6,187.6 1018.9,174.4 1019.1,150.1 1019.4,123.4 1019.6,103.1 1019.9,90.2 1020.1,88.1 1020.4,97.6 1020.6,116.5 1020.9,141.9 1021.1,168.6 1021.4,184.7 1021.6,184.8 1021.9,168.3 1022.1,139.8 1022.4,110.9 1022.6,89.5 1022.9,82.1 1023.1,91.8 1023.4,115.4 1023.6,146.2 1023.9,173.4 1024.1,185.5 1024.4,177.8 1024.6,153.1 1024.9,121.3 1025.1,95.6 1025.4,83.1 1025.6,88.8 1025.9,110.9 1026.1,142.9 1026.4,174.5 1026.6,189 1026.9,180 1027.1,150.9 1027.4,117.5 1027.6,94.2 1027.9,86.6 1028.1,98 1028.4,123.6 1028.6,155 1028.9,177.1 1029.1,179.5 1029.4,161.4 1029.6,130.1 1029.9,103.2 1030.1,88.2 1030.4,91.9 1030.6,113.2 1030.9,143.4 1031.1,169.3 1031.4,178 1031.6,165 1031.9,135.8 1032.1,105 1032.4,86.7 1032.6,90.2 1032.9,114.4 1033.1,152.8 1033.4,185.9 1033.6,190.7 1033.9,164.4 1034.1,121.5 1034.4,86.7 1034.6,74.9 1034.9,92.6 1035.1,130.7 1035.4,165.2 1035.6,182.2 1035.9,172.6 1036.1,141.2 1036.4,103 1036.6,78.7 1036.9,81.7 1037.1,110.7 1037.4,145 1037.6,166.9 1037.9,171.8 1038.1,158.4 1038.4,133.5 1038.6,99.8 1038.9,78.1 1039.1,76.7 1039.4,94.9 1039.6,125.6 1039.9,160.8 1040.1,186.9 1040.4,195.2 1040.6,183.8 1040.9,156.4 1041.1,123 1041.4,96.2 1041.6,79.6 1041.9,78.4 1042.1,93 1042.4,119.3 1042.6,155.1 1042.9,187.5 1043.1,202.7 1043.4,195.8 1043.6,168.4 1043.9,129.6 1044.1,98.2 1044.4,77.2 1044.6,73 1044.8,87.1 1045.1,115.1 1045.3,150.8 1045.6,182.9 1045.8,199.1 1046.1,194.2 1046.3,169.2 1046.6,131.9 1046.8,97.1 1047.1,73.1 1047.3,68.1 1047.6,84.5 1047.8,117.5 1048.1,155 1048.3,184.1 1048.6,194.1 1048.8,180.4 1049.1,147.4 1049.3,110.4 1049.6,83.3 1049.8,75.4 1050.1,90.7 1050.3,123 1050.6,165 1050.8,194.9 1051.1,198.3 1051.3,174 1051.6,132.2 1051.8,90.1 1052.1,64.4 1052.3,64.5 1052.6,89.9 1052.8,130.4 1053.1,175.6 1053.3,205.1 1053.6,208.7 1053.8,185.6 1054.1,143.6 1054.3,101 1054.6,69.9 1054.8,59.8 1055.1,74.7 1055.3,110 1055.6,151.8 1055.8,184.8 1056.1,197.9 1056.3,185.4 1056.6,151.3 1056.8,105.8 1057.1,67.5 1057.3,55.1 1057.6,74.2 1057.8,117.1 1058.1,167.9 1058.3,204.6 1058.6,211.3 1058.8,185.9 1059.1,139 1059.3,91.9 1059.6,60.5 1059.8,56 1060.1,79.5 1060.3,122 1060.6,167.4 1060.8,199.6 1061.1,207.5 1061.3,188.5 1061.6,149.4 1061.8,103.5 1062.1,66.7 1062.3,52 1062.6,64.4 1062.8,99.6 1063.1,143.3 1063.3,178.3 1063.6,197.5 1063.8,194.6 1064.1,170.5 1064.3,133.3 1064.6,98 1064.8,73.8 1065.1,68.5 1065.3,83.9 1065.6,114.8 1065.8,152.4 1066.1,184.2 1066.3,199.1 1066.6,192.6 1066.8,167.2 1067.1,131.2 1067.3,95.2 1067.6,70 1067.8,62.3 1068.1,73.7 1068.3,100.7 1068.6,135.8 1068.8,171.4 1069.1,196.7 1069.3,205.4 1069.6,195.8 1069.8,170.4 1070.1,135.5 1070.3,110.7 1070.6,92.3 1070.8,83.3 1071.1,85.8 1071.3,99.5 1071.6,121 1071.8,154.6 1072.1,189.5 1072.3,209.8 1072.6,210.4 1072.8,191.1 1073.1,156.6 1073.3,118.4 1073.6,87.7 1073.8,68.1 1074.1,64.6 1074.3,78.2 1074.6,105.5 1074.8,141.1 1075.1,179.3 1075.3,205 1075.6,211.4 1075.8,196.8 1076.1,164.8 1076.3,124.7 1076.6,90.1 1076.8,66.8 1077.1,61 1077.3,74.4 1077.6,103.1 1077.8,140.3 1078.1,179.1 1078.3,204.8 1078.6,210.9 1078.8,196.2 1079.1,165.3 1079.3,127.1 1079.6,96.5 1079.8,74.8 1080.1,66.8 1080.3,74 1080.5,94.4 1080.8,122.9 1081,155.2 1081.3,182.8 1081.5,198.7 1081.8,199.5 1082,185.5 1082.3,159.9 1082.5,128 1082.8,93 1083,66.5 1083.3,53.7 1083.5,56.6 1083.8,74.2 1084,102.3 1084.3,135.1 1084.5,164.5 1084.8,187.5 1085,200.2 1085.3,201.2 1085.5,190.6 1085.8,170.9 1086,145.4 1086.3,117.7 1086.5,91.8 1086.8,72.1 1087,61 1087.3,60.1 1087.5,69 1087.8,86.6 1088,110.3 1088.3,136.7 1088.5,161.9 1088.8,182.7 1089,196 1089.3,199.9 1089.5,193.5 1089.8,177.8 1090,154.9 1090.3,128.4 1090.5,102.9 1090.8,82.1 1091,69.4 1091.3,67 1091.5,75.6 1091.8,93.7 1092,118.3 1092.3,143.7 1092.5,165.5 1092.8,181.1 1093,187.7 1093.3,184.4 1093.5,171.7 1093.8,152.2 1094,129.2 1094.3,104.7 1094.5,85 1094.8,73.2 1095,71 1095.3,78.4 1095.5,94.1 1095.8,115.3 1096,137.7 1096.3,156.7 1096.5,171.5 1096.8,180 1097,180.9 1097.3,174.2 1097.5,160.9 1097.8,143 1098,121.6 1098.3,98.9 1098.5,81.6 1098.8,72.7 1099,73.7 1099.3,84.7 1099.5,103.8 1099.8,127.8 1100,146 1100.3,160.4 1100.5,169.2 1100.8,170.8 1101,164.8 1101.3,152.6 1101.5,136.4 1101.8,113.9 1102,92.4 1102.3,78.6 1102.5,75.3 1102.8,83.2 1103,100.7 1103.3,124.4 1103.5,145.2 1103.8,161.6 1104,171.8 1104.3,173.9 1104.5,167.4 1104.8,153.6 1105,135.5 1105.3,114.4 1105.5,96.2 1105.8,85 1106,83 1106.3,90.6 1106.5,106.3 1106.8,127 1107,142.8 1107.3,154.8 1107.5,162.1 1107.8,163.1 1108,157.4 1108.3,146.1 1108.5,131.4 1108.8,110.6 1109,94.2 1109.3,86.3 1109.5,89.4 1109.8,103.3 1110,125 1110.3,150.8 1110.5,172.1 1110.8,181 1111,173.5 1111.3,150.8 1111.5,119.2 1111.8,89.8 1112,77 1112.3,87.9 1112.5,118.8 1112.8,152.1 1113,173.5 1113.3,173.9 1113.5,152.4 1113.8,117.7 1114,85.6 1114.3,76.9 1114.5,95.6 1114.8,131.5 1115,164.7 1115.3,181.9 1115.5,176.2 1115.8,151.4 1116,120.2 1116.2,96.6 1116.5,86.6 1116.7,93.3 1117,113.5 1117.2,140.8 1117.5,166.9 1117.7,180.9 1118,178.5 1118.2,161 1118.5,134 1118.7,104.3 1119,83 1119.2,77 1119.5,88.2 1119.7,113.2 1120,141.4 1120.2,162.7 1120.5,173.8 1120.7,170.8 1121,154.6 1121.2,130.3 1121.5,102.4 1121.7,84.3 1122,82.6 1122.2,98.2 1122.5,125.7 1122.7,154.7 1123,175.2 1123.2,179.7 1123.5,166.6 1123.7,140.6 1124,110.6 1124.2,87.8 1124.5,80.8 1124.7,91.6 1125,116.3 1125.2,143.7 1125.5,164.3 1125.7,173.7 1126,169 1126.2,152.1 1126.5,129 1126.7,110.1 1127,97.9 1127.2,95.9 1127.5,104.6 1127.7,121.1 1128,144 1128.2,167.2 1128.5,180.1 1128.7,179.2 1129,165.1 1129.2,141.6 1129.5,114.4 1129.7,91.3 1130,78.9 1130.2,80.5 1130.5,95.6 1130.7,120.1 1131,147.3 1131.2,170.3 1131.5,183.1 1131.7,182.3 1132,168.1 1132.2,144.2 1132.5,118.6 1132.7,98 1133,86 1133.2,85.9 1133.5,97.7 1133.7,118.4 1134,143.8 1134.2,167.6 1134.5,181.9 1134.7,182.7 1135,169.7 1135.2,146.3 1135.5,118.4 1135.7,93.5 1136,79.1 1136.2,79.3 1136.5,94.6 1136.7,120.7 1137,150.9 1137.2,175.6 1137.5,186.9 1137.7,180.7 1138,158.7 1138.2,128.5 1138.5,104.6 1138.7,89.4 1139,87.7 1139.2,99.6 1139.5,120.6 1139.7,144 1140,163.4 1140.2,174.3 1140.5,174.7 1140.7,165.2 1141,148.6 1141.2,128.4 1141.5,106.6 1141.7,90.5 1142,82.3 1142.2,83.2 1142.5,92.2 1142.7,107.5 1143,126.1 1143.2,144.3 1143.5,159.7 1143.7,170.2 1144,174.4 1144.2,171.9 1144.5,162.9 1144.7,148.9 1145,132.1 1145.2,115.4 1145.5,101.5 1145.7,92.9 1146,91.3 1146.2,97.1 1146.5,109.3 1146.7,125.8 1147,146.3 1147.2,165 1147.5,176.9 1147.7,179.3 1148,171.6 1148.2,155.5 1148.5,134.3 1148.7,117.3 1149,104.2 1149.2,96.9 1149.5,96.8 1149.7,103.6 1150,115.6 1150.2,130.4 1150.5,146.8 1150.7,160.1 1151,168 1151.2,169.4 1151.5,164.3 1151.7,154 1151.9,140.3 1152.2,126.1 1152.4,114 1152.7,104.7 1152.9,97.4 1153.2,94.6 1153.4,97 1153.7,104.8 1153.9,117.2 1154.2,132.9 1154.4,150.7 1154.7,166.5 1154.9,178.2 1155.2,183.9 1155.4,182.6 1155.7,174 1155.9,159 1156.2,139.4 1156.4,118.4 1156.7,99 1156.9,83.8 1157.2,75.3 1157.4,74.9 1157.7,83.1 1157.9,98.9 1158.2,120.2 1158.4,142.7 1158.7,162.8 1158.9,177.8 1159.2,185 1159.4,182.5 1159.7,170.2 1159.9,150.1 1160.2,124.8 1160.4,97.3 1160.7,76.6 1160.9,67.7 1161.2,73.4 1161.4,93.1 1161.7,122.4 1161.9,152 1162.2,175.7 1162.4,188.4 1162.7,186.8 1162.9,171.2 1163.2,145.6 1163.4,111 1163.7,76.8 1163.9,56.7 1164.2,55.7 1164.4,73.9 1164.7,106.6 1164.9,141.2 1165.2,165.8 1165.4,181.2 1165.7,183.3 1165.9,171.1 1166.2,147.8 1166.4,117 1166.7,86.6 1166.9,69.4 1167.2,70.8 1167.4,90.6 1167.7,122.9 1167.9,154.4 1168.2,177.6 1168.4,185.6 1168.7,175.4 1168.9,150 1169.2,122.3 1169.4,104.2 1169.7,95.9 1169.9,98.8 1170.2,110.8 1170.4,127.5 1170.7,149.4 1170.9,166.7 1171.2,173.6 1171.4,168.7 1171.7,154.3 1171.9,133.6 1172.2,113.7 1172.4,98.7 1172.7,92.5 1172.9,96.7 1173.2,110 1173.4,128.8 1173.7,150.6 1173.9,167.7 1174.2,176 1174.4,173.4 1174.7,160.7 1174.9,141 1175.2,124.4 1175.4,113.6 1175.7,106.9 1175.9,105.5 1176.2,109.6 1176.4,118.2 1176.7,129.5 1176.9,149.9 1177.2,168.2 1177.4,179.2 1177.7,180.7 1177.9,172.6 1178.2,156.3 1178.4,135 1178.7,115.3 1178.9,99.2 1179.2,89.3 1179.4,87.8 1179.7,94.9 1179.9,109.4 1180.2,128.5 1180.4,148.6 1180.7,165.4 1180.9,175.2 1181.2,175.9 1181.4,167.1 1181.7,150.5 1181.9,129.8 1182.2,112.1 1182.4,98.5 1182.7,92.3 1182.9,94.9 1183.2,106 1183.4,123.2 1183.7,146 1183.9,168.1 1184.2,182.6 1184.4,185.4 1184.7,175.6 1184.9,155.3 1185.2,129.2 1185.4,105.8 1185.7,86.5 1185.9,75.5 1186.2,75.6 1186.4,87.2 1186.7,109 1186.9,134.6 1187.2,157.3 1187.4,175.1 1187.6,184.8 1187.9,184.8 1188.1,175 1188.4,157.3 1188.6,134.9 1188.9,109.9 1189.1,88.2 1189.4,74.3 1189.6,70.9 1189.9,78.9 1190.1,97 1190.4,121.6 1190.6,146.5 1190.9,167.5 1191.1,181.7 1191.4,186.5 1191.6,181.2 1191.9,167.1 1192.1,146.7 1192.4,121.2 1192.6,92.2 1192.9,69.9 1193.1,57.7 1193.4,57.6 1193.6,69.5 1193.9,91.5 1194.1,119.7 1194.4,145.7 1194.6,167 1194.9,182.7 1195.1,190.5 1195.4,189.2 1195.6,179.1 1195.9,161.7 1196.1,139.7 1196.4,115.4 1196.6,92.9 1196.9,76.2 1197.1,67.6 1197.4,68.3 1197.6,78 1197.9,95.1 1198.1,117.3 1198.4,142.2 1198.6,166.9 1198.9,186.7 1199.1,199.1 1199.4,202.5 1199.6,196.6 1199.9,182.1 1200.1,161 1200.4,136 1200.6,116.9 1200.9,101.1 1201.1,89.2 1201.4,82.7 1201.6,82.4 1201.9,88.5 1202.1,100.1 1202.4,115.8 1202.6,134.2 1202.9,155.8 1203.1,174.3 1203.4,187.2 1203.6,192.6 1203.9,189.8 1204.1,179 1204.4,161.6 1204.6,139.8 1204.9,115.3 1205.1,92.1 1205.4,74.4 1205.6,64.8 1205.9,64.8 1206.1,74.6 1206.4,92.9 1206.6,117.2 1206.9,145.1 1207.1,172.7 1207.4,194 1207.6,205.7 1207.9,205.7 1208.1,193.9 1208.4,172.2 1208.6,143.8 1208.9,115.7 1209.1,91.4 1209.4,73.2 1209.6,64 1209.9,65 1210.1,76.1 1210.4,95.2 1210.6,119.6 1210.9,146.8 1211.1,172.9 1211.4,193.4 1211.6,205.8 1211.9,208.7 1212.1,202.2 1212.4,187.2 1212.6,165.8 1212.9,140.4 1213.1,116.7 1213.4,96 1213.6,79 1213.9,67.6 1214.1,62.9 1214.4,65.4 1214.6,74.9 1214.9,90.4 1215.1,110.4 1215.4,133.2 1215.6,160.1 1215.9,184.2 1216.1,203 1216.4,214 1216.6,216 1216.9,208.3 1217.1,191.6 1217.4,167.5 1217.6,138.7 1217.9,108.2 1218.1,80 1218.4,57.7 1218.6,44.4 1218.9,42.1 1219.1,51.4 1219.4,71.5 1219.6,99.8 1219.9,132.4 1220.1,156 1220.4,176.5 1220.6,190.9 1220.9,197 1221.1,193.8 1221.4,181.5 1221.6,161.7 1221.9,137.3 1222.1,104.4 1222.4,72.9 1222.6,49.9 1222.9,38.9 1223.1,41.9 1223.3,58.6 1223.6,86.8 1223.8,122.2 1224.1,157.1 1224.3,187.4 1224.6,209 1224.8,218.2 1225.1,213.3 1225.3,195 1225.6,166.1 1225.8,131.3 1226.1,99 1226.3,71.9 1226.6,54.4 1226.8,49.3 1227.1,57.5 1227.3,77.6 1227.6,106.3 1227.8,140 1228.1,175.6 1228.3,204.3 1228.6,221.7 1228.8,224.9 1229.1,213.2 1229.3,188.1 1229.6,153.3 1229.8,112.7 1230.1,72.7 1230.3,42.3 1230.6,27.9 1230.8,33.7 1231.1,60.1 1231.3,103.1 1231.6,150.5 1231.8,190 1232.1,215.3 1232.3,218.1 1232.6,195.8 1232.8,153.6 1233.1,102.5 1233.3,58.9 1233.6,38 1233.8,46.6 1234.1,82 1234.3,131.9 1234.6,183.3 1234.8,218.9 1235.1,230 1235.3,215.2 1235.6,180.1 1235.8,134.4 1236.1,85.6 1236.3,47.3 1236.6,27.2 1236.8,28.4 1237.1,49.9 1237.3,87 1237.6,132.5 1237.8,178.2 1238.1,215 1238.3,235.5 1238.6,235.6 1238.8,214.5 1239.1,175.9 1239.3,128 1239.6,87.9 1239.8,57.1 1240.1,43.2 1240.3,50.5 1240.6,78.2 1240.8,120.1 1241.1,155.1 1241.3,180.6 1241.6,192.2 1241.8,185.9 1242.1,163 1242.3,129.1 1242.6,72.1 1242.8,34 1243.1,28.3 1243.3,58 1243.6,113.7 1243.8,173.4 1244.1,217 1244.3,228.9 1244.6,204 1244.8,151.3 1245.1,88.9 1245.3,42.1 1245.6,29.9 1245.8,57.1 1246.1,112.8 1246.3,177.4 1246.6,224.8 1246.8,236.7 1247.1,209.2 1247.3,153.2 1247.6,89.5 1247.8,41.3 1248.1,25.7 1248.3,47.6 1248.6,98.9 1248.8,160.6 1249.1,210.9 1249.3,232.9 1249.6,218.6 1249.8,172.7 1250.1,117.7 1250.3,80.7 1250.6,62.5 1250.8,70.1 1251.1,100.7 1251.3,146.5 1251.6,195.8 1251.8,220.5 1252.1,211.5 1252.3,173 1252.6,119.3 1252.8,68.9 1253.1,40.7 1253.3,43 1253.6,73.3 1253.8,120.6 1254.1,166.6 1254.3,200.7 1254.6,215.4 1254.8,208 1255.1,181.6 1255.3,143.5 1255.6,100 1255.8,63 1256.1,41.5 1256.3,39.5 1256.6,56.6 1256.8,88.5 1257.1,128.5 1257.3,170.9 1257.6,205.5 1257.8,225.7 1258.1,228.2 1258.3,212.9 1258.6,183.2 1258.8,144.7"/>
</g>
<g>
<path d="M1545.4 10.5V252.0M1670.2 10.5V252.0M1795.1 10.5V252.0M1420.5 131.2H1920.0" stroke="#e6e6e6" stroke-width="1.6" fill="none"/>
<path d="M1420.5 10.5H1920.0V252.0H1420.5ZM1545.4 252.0v-5 M1545.4 10.5v5M1670.2 252.0v-5 M1670.2 10.5v5M1795.1 252.0v-5 M1795.1 10.5v5M1420.5 131.2h5 M1920.0 131.2h-5" stroke="#222222" stroke-width="1.25" fill="none"/>
<text class="t" x="1420.8" y="286.7" text-anchor="middle">0</text>
<text class="t" x="1545.7" y="286.7" text-anchor="middle">500</text>
<text class="t" x="1670.5" y="286.7" text-anchor="middle">1000</text>
<text class="t" x="1795.4" y="286.7" text-anchor="middle">1500</text>
<text class="t" x="1920.3" y="286.7" text-anchor="middle">2000</text>
<text class="t" x="1410.8" y="261.6" text-anchor="end">-50</text>
<text class="t" x="1410.8" y="140.8" text-anchor="end">0</text>
<text class="t" x="1410.8" y="20.1" text-anchor="end">50</text>
<text class="l" transform="translate(1360.6 130.8) rotate(-90) scale(.95 1.04)" text-anchor="middle">IMF3</text>
<defs><polyline id="dIMF3" points="1420.7,130.1 1421,129.3 1421.2,128.6 1421.5,128.2 1421.7,127.9 1422,127.7 1422.2,127.6 1422.5,127.6 1422.7,128 1423,129 1423.2,130.5 1423.5,132.5 1423.7,134.9 1424,137.6 1424.2,140.5 1424.5,143.5 1424.7,146.5 1425,149.6 1425.2,152.5 1425.5,155.1 1425.7,157.5 1426,159.5 1426.2,161.1 1426.5,162.1 1426.7,162.4 1427,161 1427.2,157.1 1427.5,151 1427.7,143.2 1428,134 1428.2,123.8 1428.5,113.1 1428.7,102.1 1429,91.4 1429.2,81.2 1429.5,72 1429.7,64.2 1430,58.1 1430.2,54.2 1430.5,52.8 1430.7,59.5 1431,77.3 1431.2,102.9 1431.5,132.8 1431.7,163.5 1432,191.7 1432.2,213.9 1432.5,226.6 1432.7,226.9 1433,216.2 1433.2,197.2 1433.5,172.5 1433.7,144.6 1434,116.1 1434.2,89.4 1434.5,67.3 1434.7,52.1 1435,46.5 1435.2,48 1435.5,52.4 1435.7,59.2 1436,68 1436.2,78.2 1436.5,89.6 1436.7,101.6 1437,113.8 1437.2,125.8 1437.5,137.2 1437.7,147.4 1438,156.2 1438.2,163 1438.5,167.4 1438.7,168.9 1439,168.6 1439.2,167.5 1439.5,165.9 1439.7,163.8 1440,161.2 1440.2,158.3 1440.5,155.1 1440.7,151.6 1441,148.1 1441.2,144.6 1441.5,141 1441.7,137.6 1442,134.4 1442.2,131.5 1442.5,128.9 1442.7,126.8 1443,125.2 1443.2,124.1 1443.5,123.8 1443.7,124.1 1444,125.2 1444.2,126.6 1444.5,128.4 1444.7,130.2 1445,132 1445.2,133.5 1445.5,134.5 1445.7,134.9 1446,134.5 1446.2,133.4 1446.5,131.7 1446.7,129.5 1447,127 1447.2,124.3 1447.5,121.5 1447.7,118.7 1448,116.1 1448.2,113.7 1448.5,111.8 1448.7,110.4 1449,109.6 1449.2,109.6 1449.5,110.1 1449.7,111.1 1450,112.5 1450.2,114.4 1450.5,116.6 1450.7,119.1 1451,121.9 1451.2,125 1451.5,128.4 1451.7,131.9 1452,135.5 1452.2,139.3 1452.5,143.1 1452.7,146.9 1453,150.8 1453.2,154.6 1453.5,158.4 1453.7,162 1454,165.5 1454.2,168.9 1454.5,171.9 1454.7,174.8 1455,177.3 1455.2,179.5 1455.5,181.4 1455.7,182.8 1456,183.8 1456.2,184.3 1456.5,184.1 1456.7,181.7 1457,177.3 1457.2,171.1 1457.5,163.4 1457.7,154.6 1458,145 1458.2,134.8 1458.5,124.4 1458.7,114.1 1459,104.1 1459.2,94.9 1459.5,86.6 1459.7,79.7 1460,74.3 1460.2,70.9 1460.5,69.7 1460.7,71 1461,74.7 1461.2,80.4 1461.5,87.9 1461.7,96.8 1462,106.8 1462.2,117.5 1462.5,128.7 1462.7,139.9 1463,150.9 1463.2,161.3 1463.5,170.7 1463.7,179 1464,185.7 1464.2,190.4 1464.5,193 1464.7,193.2 1465,192.7 1465.2,191.6 1465.5,190 1465.7,187.9 1466,185.4 1466.2,182.6 1466.5,179.3 1466.7,175.8 1467,172 1467.2,168 1467.5,163.7 1467.7,159.3 1468,154.8 1468.2,150.1 1468.5,145.4 1468.7,140.7 1469,136 1469.2,131.4 1469.5,126.9 1469.7,122.5 1470,118.2 1470.2,114.2 1470.5,110.4 1470.7,106.8 1470.9,103.6 1471.2,100.7 1471.4,98.3 1471.7,96.2 1471.9,94.6 1472.2,93.5 1472.4,92.9 1472.7,92.9 1472.9,93.4 1473.2,94.3 1473.4,95.6 1473.7,97.3 1473.9,99.3 1474.2,101.6 1474.4,104.1 1474.7,106.9 1474.9,109.8 1475.2,112.8 1475.4,115.9 1475.7,119.1 1475.9,122.3 1476.2,125.4 1476.4,128.5 1476.7,131.5 1476.9,134.3 1477.2,137 1477.4,139.4 1477.7,141.5 1477.9,143.4 1478.2,144.9 1478.4,146 1478.7,146.7 1478.9,146.9 1479.2,146.8 1479.4,146.5 1479.7,146 1479.9,145.3 1480.2,144.5 1480.4,143.6 1480.7,142.5 1480.9,141.4 1481.2,140.1 1481.4,138.9 1481.7,137.6 1481.9,136.3 1482.2,135 1482.4,133.7 1482.7,132.5 1482.9,131.3 1483.2,130.3 1483.4,129.3 1483.7,128.5 1483.9,127.8 1484.2,127.3 1484.4,127 1484.7,126.9 1484.9,127 1485.2,127.1 1485.4,127.3 1485.7,127.6 1485.9,128 1486.2,128.4 1486.4,128.9 1486.7,129.4 1486.9,129.9 1487.2,130.4 1487.4,130.9 1487.7,131.4 1487.9,131.9 1488.2,132.4 1488.4,132.9 1488.7,133.3 1488.9,133.6 1489.2,133.9 1489.4,134 1489.7,134.1 1489.9,134.1 1490.2,133.9 1490.4,133.5 1490.7,133 1490.9,132.2 1491.2,131.4 1491.4,130.5 1491.7,129.5 1491.9,128.4 1492.2,127.3 1492.4,126.1 1492.7,125 1492.9,123.9 1493.2,122.9 1493.4,121.9 1493.7,121 1493.9,120.2 1494.2,119.6 1494.4,119.1 1494.7,118.8 1494.9,118.7 1495.2,119 1495.4,119.9 1495.7,121.3 1495.9,123.1 1496.2,125.3 1496.4,127.7 1496.7,130.4 1496.9,133.2 1497.2,136.1 1497.4,139 1497.7,141.8 1497.9,144.5 1498.2,146.9 1498.4,149.1 1498.7,150.9 1498.9,152.3 1499.2,153.2 1499.4,153.5 1499.7,153.4 1499.9,153.1 1500.2,152.6 1500.4,152 1500.7,151.2 1500.9,150.3 1501.2,149.2 1501.4,148 1501.7,146.7 1501.9,145.3 1502.2,143.8 1502.4,142.3 1502.7,140.6 1502.9,138.9 1503.2,137.2 1503.4,135.4 1503.7,133.7 1503.9,131.9 1504.2,130.1 1504.4,128.3 1504.7,126.5 1504.9,124.8 1505.2,123.1 1505.4,121.4 1505.7,119.9 1505.9,118.4 1506.2,117 1506.4,115.7 1506.7,114.5 1506.9,113.4 1507.2,112.5 1507.4,111.7 1507.7,111.1 1507.9,110.6 1508.2,110.3 1508.4,110.2 1508.7,110.3 1508.9,110.7 1509.2,111.1 1509.4,111.8 1509.7,112.6 1509.9,113.6 1510.2,114.7 1510.4,115.9 1510.7,117.2 1510.9,118.5 1511.2,120 1511.4,121.5 1511.7,123 1511.9,124.6 1512.2,126.1 1512.4,127.7 1512.7,129.2 1512.9,130.7 1513.2,132.1 1513.4,133.5 1513.7,134.8 1513.9,136 1514.2,137.1 1514.4,138 1514.7,138.9 1514.9,139.5 1515.2,140 1515.4,140.3 1515.7,140.4 1515.9,140.1 1516.2,139.2 1516.4,137.8 1516.7,136.1 1516.9,134.2 1517.2,132.1 1517.4,130 1517.7,128.1 1517.9,126.4 1518.2,125 1518.4,124.1 1518.7,123.8 1518.9,124.1 1519.2,124.9 1519.4,126.3 1519.7,128 1519.9,130 1520.2,132.2 1520.4,134.5 1520.6,136.9 1520.9,139.1 1521.1,141.3 1521.4,143.1 1521.6,144.7 1521.9,145.8 1522.1,146.4 1522.4,146.3 1522.6,145.5 1522.9,143.9 1523.1,141.6 1523.4,138.9 1523.6,135.8 1523.9,132.5 1524.1,129.1 1524.4,125.7 1524.6,122.5 1524.9,119.5 1525.1,117 1525.4,115.1 1525.6,113.8 1525.9,113.4 1526.1,113.6 1526.4,114.4 1526.6,115.6 1526.9,117.2 1527.1,119 1527.4,121.1 1527.6,123.4 1527.9,125.8 1528.1,128.2 1528.4,130.7 1528.6,133 1528.9,135.2 1529.1,137.2 1529.4,138.9 1529.6,140.3 1529.9,141.3 1530.1,141.8 1530.4,141.8 1530.6,141.3 1530.9,140.5 1531.1,139.3 1531.4,137.9 1531.6,136.3 1531.9,134.6 1532.1,132.9 1532.4,131.2 1532.6,129.7 1532.9,128.4 1533.1,127.3 1533.4,126.7 1533.6,126.4 1533.9,126.7 1534.1,127.7 1534.4,129 1534.6,130.7 1534.9,132.7 1535.1,134.8 1535.4,136.8 1535.6,138.8 1535.9,140.5 1536.1,141.8 1536.4,142.8 1536.6,143.1 1536.9,142.6 1537.1,141.4 1537.4,139.4 1537.6,136.9 1537.9,133.8 1538.1,130.5 1538.4,126.9 1538.6,123.2 1538.9,119.4 1539.1,115.8 1539.4,112.5 1539.6,109.5 1539.9,106.9 1540.1,104.9 1540.4,103.7 1540.6,103.2 1540.9,104.2 1541.1,106.9 1541.4,111 1541.6,116.3 1541.9,122.4 1542.1,129.1 1542.4,136.1 1542.6,143.1 1542.9,149.8 1543.1,155.9 1543.4,161.2 1543.6,165.3 1543.9,168 1544.1,168.9 1544.4,168.5 1544.6,167.4 1544.9,165.6 1545.1,163.2 1545.4,160.3 1545.6,156.9 1545.9,153.2 1546.1,149.2 1546.4,144.9 1546.6,140.5 1546.9,136.1 1547.1,131.6 1547.4,127.2 1547.6,123 1547.9,119 1548.1,115.2 1548.4,111.9 1548.6,109 1548.9,106.6 1549.1,104.8 1549.4,103.6 1549.6,103.2 1549.9,103.7 1550.1,105.1 1550.4,107.2 1550.6,109.9 1550.9,113.2 1551.1,116.8 1551.4,120.7 1551.6,124.8 1551.9,128.9 1552.1,132.9 1552.4,136.7 1552.6,140.2 1552.9,143.2 1553.1,145.6 1553.4,147.3 1553.6,148.3 1553.9,148.3 1554.1,147.2 1554.4,145.3 1554.6,142.7 1554.9,139.6 1555.1,136.2 1555.4,132.7 1555.6,129.1 1555.9,125.9 1556.1,123 1556.4,120.7 1556.6,119.2 1556.9,118.7 1557.1,119.1 1557.4,120.2 1557.6,122 1557.9,124.2 1558.1,126.7 1558.4,129.5 1558.6,132.3 1558.9,135 1559.1,137.6 1559.4,139.8 1559.6,141.5 1559.9,142.7 1560.1,143.1 1560.4,142.7 1560.6,141.7 1560.9,140.2 1561.1,138.2 1561.4,136 1561.6,133.5 1561.9,130.9 1562.1,128.3 1562.4,125.8 1562.6,123.5 1562.9,121.6 1563.1,120 1563.4,119 1563.6,118.7 1563.9,119.2 1564.1,120.6 1564.4,122.7 1564.6,125.3 1564.9,128.3 1565.1,131.5 1565.4,134.7 1565.6,137.7 1565.9,140.3 1566.1,142.4 1566.4,143.8 1566.6,144.3 1566.9,143.6 1567.1,141.9 1567.4,139.1 1567.6,135.6 1567.9,131.6 1568.1,127.2 1568.4,122.6 1568.6,118.1 1568.9,113.9 1569.1,110.1 1569.4,106.9 1569.6,104.6 1569.9,103.4 1570.1,103.5 1570.3,105.3 1570.6,108.7 1570.8,113.4 1571.1,119.2 1571.3,125.7 1571.6,132.6 1571.8,139.8 1572.1,146.9 1572.3,153.7 1572.6,159.8 1572.8,165.1 1573.1,169.2 1573.3,171.8 1573.6,172.8 1573.8,171.8 1574.1,169 1574.3,164.7 1574.6,159 1574.8,152.4 1575.1,145.1 1575.3,137.3 1575.6,129.2 1575.8,121.3 1576.1,113.7 1576.3,106.7 1576.6,100.5 1576.8,95.5 1577.1,91.9 1577.3,90 1577.6,89.8 1577.8,90.8 1578.1,92.6 1578.3,95.2 1578.6,98.4 1578.8,102.2 1579.1,106.4 1579.3,110.8 1579.6,115.5 1579.8,120.2 1580.1,125 1580.3,129.5 1580.6,133.9 1580.8,137.9 1581.1,141.4 1581.3,144.3 1581.6,146.5 1581.8,147.9 1582.1,148.4 1582.3,148.3 1582.6,147.9 1582.8,147.4 1583.1,146.6 1583.3,145.7 1583.6,144.7 1583.8,143.5 1584.1,142.3 1584.3,140.9 1584.6,139.5 1584.8,138.1 1585.1,136.7 1585.3,135.3 1585.6,133.9 1585.8,132.5 1586.1,131.3 1586.3,130.1 1586.6,129.1 1586.8,128.2 1587.1,127.4 1587.3,126.9 1587.6,126.5 1587.8,126.4 1588.1,126.7 1588.3,127.5 1588.6,128.6 1588.8,130 1589.1,131.5 1589.3,133 1589.6,134.4 1589.8,135.5 1590.1,136.3 1590.3,136.6 1590.6,136.4 1590.8,135.9 1591.1,135.1 1591.3,134.1 1591.6,132.8 1591.8,131.4 1592.1,129.9 1592.3,128.2 1592.6,126.6 1592.8,124.8 1593.1,123.1 1593.3,121.5 1593.6,120 1593.8,118.6 1594.1,117.3 1594.3,116.3 1594.6,115.5 1594.8,115 1595.1,114.8 1595.3,115.4 1595.6,117 1595.8,119.4 1596.1,122.5 1596.3,126.2 1596.6,130.2 1596.8,134.5 1597.1,138.9 1597.3,143.2 1597.6,147.2 1597.8,150.9 1598.1,154 1598.3,156.4 1598.6,158 1598.8,158.5 1599.1,158.1 1599.3,157 1599.6,155.3 1599.8,152.9 1600.1,150.1 1600.3,146.9 1600.6,143.3 1600.8,139.5 1601.1,135.5 1601.3,131.5 1601.6,127.4 1601.8,123.5 1602.1,119.7 1602.3,116.1 1602.6,112.9 1602.8,110.1 1603.1,107.7 1603.3,106 1603.6,104.8 1603.8,104.4 1604.1,104.7 1604.3,105.6 1604.6,107 1604.8,108.8 1605.1,111 1605.3,113.5 1605.6,116.3 1605.8,119.3 1606.1,122.4 1606.3,125.6 1606.6,128.8 1606.8,132 1607.1,135.1 1607.3,137.9 1607.6,140.6 1607.8,143 1608.1,145 1608.3,146.6 1608.6,147.7 1608.8,148.3 1609.1,148.3 1609.3,147.7 1609.6,146.6 1609.8,145 1610.1,143 1610.3,140.7 1610.6,138.2 1610.8,135.6 1611.1,132.9 1611.3,130.2 1611.6,127.6 1611.8,125.2 1612.1,123.1 1612.3,121.3 1612.6,119.9 1612.8,119 1613.1,118.7 1613.3,119.1 1613.6,120.2 1613.8,121.9 1614.1,124 1614.3,126.4 1614.6,129 1614.8,131.5 1615.1,133.9 1615.3,136 1615.6,137.7 1615.8,138.8 1616.1,139.2 1616.3,139 1616.6,138.4 1616.8,137.5 1617.1,136.3 1617.3,135 1617.6,133.6 1617.8,132.1 1618.1,130.6 1618.3,129.3 1618.6,128.2 1618.8,127.2 1619.1,126.6 1619.3,126.4 1619.6,126.5 1619.8,126.9 1620.1,127.4 1620.3,128.1 1620.5,128.8 1620.8,129.6 1621,130.5 1621.3,131.3 1621.5,132 1621.8,132.7 1622,133.2 1622.3,133.5 1622.5,133.7 1622.8,133.6 1623,133.4 1623.3,133 1623.5,132.5 1623.8,132 1624,131.3 1624.3,130.5 1624.5,129.6 1624.8,128.7 1625,127.8 1625.3,126.7 1625.5,125.7 1625.8,124.6 1626,123.5 1626.3,122.4 1626.5,121.4 1626.8,120.3 1627,119.3 1627.3,118.3 1627.5,117.4 1627.8,116.5 1628,115.8 1628.3,115.1 1628.5,114.5 1628.8,114 1629,113.7 1629.3,113.5 1629.5,113.4 1629.8,113.6 1630,114 1630.3,114.8 1630.5,115.9 1630.8,117.2 1631,118.8 1631.3,120.5 1631.5,122.4 1631.8,124.5 1632,126.6 1632.3,128.9 1632.5,131.2 1632.8,133.6 1633,135.9 1633.3,138.3 1633.5,140.6 1633.8,142.9 1634,145 1634.3,147.1 1634.5,149 1634.8,150.7 1635,152.3 1635.3,153.6 1635.5,154.7 1635.8,155.5 1636,156 1636.3,156.1 1636.5,155.9 1636.8,155.3 1637,154.2 1637.3,152.9 1637.5,151.2 1637.8,149.3 1638,147.2 1638.3,144.9 1638.5,142.4 1638.8,139.9 1639,137.3 1639.3,134.7 1639.5,132.2 1639.8,129.7 1640,127.3 1640.3,125.1 1640.5,123.1 1640.8,121.3 1641,119.8 1641.3,118.6 1641.5,117.7 1641.8,117.3 1642,117.3 1642.3,117.8 1642.5,118.8 1642.8,120.1 1643,121.7 1643.3,123.6 1643.5,125.6 1643.8,127.7 1644,129.8 1644.3,131.9 1644.5,133.8 1644.8,135.6 1645,137.1 1645.3,138.2 1645.5,139 1645.8,139.2 1646,138.8 1646.3,137.6 1646.5,135.9 1646.8,133.8 1647,131.5 1647.3,129.2 1647.5,127.1 1647.8,125.4 1648,124.2 1648.3,123.8 1648.5,124.1 1648.8,125.1 1649,126.7 1649.3,128.6 1649.5,130.9 1649.8,133.5 1650,136.1 1650.3,138.7 1650.5,141.2 1650.8,143.5 1651,145.5 1651.3,147 1651.5,148 1651.8,148.4 1652,147.8 1652.3,146.1 1652.5,143.5 1652.8,140.2 1653,136.3 1653.3,132 1653.5,127.4 1653.8,122.8 1654,118.2 1654.3,113.9 1654.5,110 1654.8,106.6 1655,104.1 1655.3,102.4 1655.5,101.8 1655.8,102.2 1656,103.5 1656.3,105.4 1656.5,108 1656.8,111.1 1657,114.6 1657.3,118.5 1657.5,122.7 1657.8,127.1 1658,131.5 1658.3,135.9 1658.5,140.3 1658.8,144.5 1659,148.4 1659.3,151.9 1659.5,155 1659.8,157.6 1660,159.5 1660.3,160.8 1660.5,161.2 1660.8,160.5 1661,158.7 1661.3,155.9 1661.5,152.2 1661.8,148 1662,143.4 1662.3,138.6 1662.5,133.8 1662.8,129.2 1663,125 1663.3,121.4 1663.5,118.5 1663.8,116.7 1664,116 1664.3,116.3 1664.5,117 1664.8,118 1665,119.4 1665.3,121 1665.5,122.8 1665.8,124.7 1666,126.7 1666.3,128.6 1666.5,130.3 1666.8,132 1667,133.3 1667.3,134.4 1667.5,135.1 1667.8,135.4 1668,135.2 1668.3,134.7 1668.5,133.9 1668.8,133.1 1669,132.1 1669.3,131.1 1669.5,130.2 1669.8,129.5 1670,129 1670.2,128.8 1670.5,129 1670.7,129.4 1671,130 1671.2,130.7 1671.5,131.5 1671.7,132.3 1672,133 1672.2,133.6 1672.5,134 1672.7,134.1 1673,134 1673.2,133.6 1673.5,133 1673.7,132.3 1674,131.5 1674.2,130.7 1674.5,130 1674.7,129.4 1675,129 1675.2,128.8 1675.5,129 1675.7,129.5 1676,130.2 1676.2,131.1 1676.5,131.9 1676.7,132.8 1677,133.5 1677.2,134 1677.5,134.1 1677.7,133.9 1678,133.3 1678.2,132.5 1678.5,131.4 1678.7,130.3 1679,129.3 1679.2,128.5 1679.5,127.9 1679.7,127.6 1680,127.6 1680.2,127.7 1680.5,127.7 1680.7,127.8 1681,127.9 1681.2,128 1681.5,128.2 1681.7,128.3 1682,128.5 1682.2,128.8 1682.5,129 1682.7,129.3 1683,129.7 1683.2,130 1683.5,132.9 1683.7,139 1684,146.2 1684.2,152.2 1684.5,154.7 1684.7,153.3 1685,149.4 1685.2,143.6 1685.5,136.3 1685.7,128 1686,119.2 1686.2,110.4 1686.5,102.1 1686.7,94.8 1687,88.9 1687.2,85.1 1687.5,83.7 1687.7,86 1688,92.2 1688.2,101.6 1688.5,113.1 1688.7,126 1689,139.4 1689.2,152.3 1689.5,163.8 1689.7,173.2 1690,179.4 1690.2,181.7 1690.5,179.8 1690.7,174.4 1691,166.4 1691.2,156.5 1691.5,145.5 1691.7,134.1 1692,123.1 1692.2,113.2 1692.5,105.2 1692.7,99.9 1693,97.9 1693.2,98.8 1693.5,101.1 1693.7,104.6 1694,108.9 1694.2,113.9 1694.5,119.2 1694.7,124.4 1695,129.4 1695.2,133.8 1695.5,137.3 1695.7,139.6 1696,140.4 1696.2,140.1 1696.5,139.4 1696.7,138.2 1697,136.9 1697.2,135.4 1697.5,133.9 1697.7,132.5 1698,131.3 1698.2,130.6 1698.5,130.3 1698.7,130.4 1699,130.7 1699.2,131.2 1699.5,131.8 1699.7,132.5 1700,133.2 1700.2,133.8 1700.5,134.4 1700.7,134.9 1701,135.2 1701.2,135.4 1701.5,135.1 1701.7,134.5 1702,133.5 1702.2,132.2 1702.5,130.7 1702.7,129 1703,127.2 1703.2,125.4 1703.5,123.6 1703.7,121.9 1704,120.4 1704.2,119.1 1704.5,118.1 1704.7,117.5 1705,117.2 1705.2,117.8 1705.5,119.5 1705.7,121.9 1706,125.1 1706.2,128.6 1706.5,132.5 1706.7,136.3 1707,140 1707.2,143.4 1707.5,146.2 1707.7,148.3 1708,149.5 1708.2,149.5 1708.5,148.8 1708.7,147.5 1709,145.7 1709.2,143.5 1709.5,140.9 1709.7,138.1 1710,135.1 1710.2,132.1 1710.5,129 1710.7,126.1 1711,123.4 1711.2,121 1711.5,119 1711.7,117.4 1712,116.4 1712.2,116 1712.5,116.6 1712.7,118.1 1713,120.5 1713.2,123.4 1713.5,126.7 1713.7,130.2 1714,133.7 1714.2,137 1714.5,139.9 1714.7,142.2 1715,143.7 1715.2,144.3 1715.5,143.9 1715.7,142.8 1716,141.1 1716.2,138.9 1716.5,136.4 1716.7,133.6 1717,130.8 1717.2,127.9 1717.5,125.1 1717.7,122.6 1718,120.4 1718.2,118.7 1718.5,117.6 1718.7,117.2 1719,117.8 1719.2,119.4 1719.5,121.7 1719.7,124.6 1720,128 1720.2,131.5 1720.4,135 1720.7,138.4 1720.9,141.3 1721.2,143.6 1721.4,145.2 1721.7,145.7 1721.9,145.2 1722.2,143.9 1722.4,141.8 1722.7,139.2 1722.9,136.2 1723.2,133 1723.4,129.8 1723.7,126.7 1723.9,123.9 1724.2,121.5 1724.4,119.8 1724.7,118.8 1724.9,118.8 1725.2,119.6 1725.4,121.1 1725.7,123.2 1725.9,125.8 1726.2,128.7 1726.4,131.8 1726.7,134.9 1726.9,138.1 1727.2,141.1 1727.4,143.8 1727.7,146.2 1727.9,148 1728.2,149.2 1728.4,149.6 1728.7,148.8 1728.9,146.7 1729.2,143.4 1729.4,139.1 1729.7,134.2 1729.9,128.8 1730.2,123.2 1730.4,117.5 1730.7,112.1 1730.9,107.2 1731.2,103 1731.4,99.6 1731.7,97.5 1731.9,96.7 1732.2,98.1 1732.4,102 1732.7,107.9 1732.9,115.4 1733.2,124 1733.4,133.3 1733.7,142.8 1733.9,152.1 1734.2,160.7 1734.4,168.1 1734.7,174 1734.9,177.9 1735.2,179.3 1735.4,178.6 1735.7,176.5 1735.9,173.2 1736.2,168.8 1736.4,163.6 1736.7,157.6 1736.9,151.1 1737.2,144.2 1737.4,137 1737.7,129.8 1737.9,122.6 1738.2,115.7 1738.4,109.2 1738.7,103.3 1738.9,98 1739.2,93.7 1739.4,90.4 1739.7,88.3 1739.9,87.5 1740.2,87.7 1740.4,88.2 1740.7,89.1 1740.9,90.2 1741.2,91.7 1741.4,93.3 1741.7,95.2 1741.9,97.3 1742.2,99.5 1742.4,101.9 1742.7,104.5 1742.9,107.1 1743.2,109.8 1743.4,112.5 1743.7,115.3 1743.9,118.1 1744.2,120.8 1744.4,123.5 1744.7,126.2 1744.9,128.7 1745.2,131.1 1745.4,133.3 1745.7,135.4 1745.9,137.3 1746.2,139 1746.4,140.4 1746.7,141.5 1746.9,142.4 1747.2,142.9 1747.4,143.1 1747.7,143 1747.9,142.8 1748.2,142.4 1748.4,141.9 1748.7,141.4 1748.9,140.7 1749.2,139.9 1749.4,139.1 1749.7,138.2 1749.9,137.3 1750.2,136.4 1750.4,135.5 1750.7,134.6 1750.9,133.7 1751.2,132.8 1751.4,132 1751.7,131.2 1751.9,130.6 1752.2,130 1752.4,129.5 1752.7,129.1 1752.9,128.9 1753.2,128.8 1753.4,129.1 1753.7,129.7 1753.9,130.5 1754.2,131.5 1754.4,132.5 1754.7,133.3 1754.9,133.9 1755.2,134.1 1755.4,133.9 1755.7,133.2 1755.9,132.1 1756.2,130.8 1756.4,129.3 1756.7,127.9 1756.9,126.5 1757.2,125.2 1757.4,124.3 1757.7,123.8 1757.9,123.9 1758.2,124.7 1758.4,126.2 1758.7,128.2 1758.9,130.6 1759.2,133.3 1759.4,136.1 1759.7,138.8 1759.9,141.3 1760.2,143.6 1760.4,145.4 1760.7,146.5 1760.9,146.9 1761.2,146.3 1761.4,144.7 1761.7,142.1 1761.9,138.8 1762.2,135.1 1762.4,131 1762.7,126.9 1762.9,122.8 1763.2,119.1 1763.4,115.8 1763.7,113.3 1763.9,111.6 1764.2,111 1764.4,111.4 1764.7,112.6 1764.9,114.4 1765.2,116.8 1765.4,119.6 1765.7,122.8 1765.9,126.2 1766.2,129.7 1766.4,133.2 1766.7,136.6 1766.9,139.7 1767.2,142.5 1767.4,144.9 1767.7,146.8 1767.9,148 1768.2,148.4 1768.4,148 1768.7,147.1 1768.9,145.6 1769.2,143.6 1769.4,141.3 1769.7,138.8 1769.9,136.1 1770.2,133.4 1770.4,130.7 1770.6,128.2 1770.9,125.9 1771.1,123.9 1771.4,122.4 1771.6,121.5 1771.9,121.1 1772.1,121.4 1772.4,122.2 1772.6,123.3 1772.9,124.8 1773.1,126.5 1773.4,128.2 1773.6,130 1773.9,131.7 1774.1,133.1 1774.4,134.3 1774.6,135.1 1774.9,135.4 1775.1,135.2 1775.4,134.7 1775.6,134 1775.9,133 1776.1,132 1776.4,130.9 1776.6,129.8 1776.9,128.7 1777.1,127.8 1777.4,127.1 1777.6,126.6 1777.9,126.4 1778.1,126.6 1778.4,127.1 1778.6,127.8 1778.9,128.7 1779.1,129.8 1779.4,130.9 1779.6,132 1779.9,133 1780.1,134 1780.4,134.7 1780.6,135.2 1780.9,135.4 1781.1,135.2 1781.4,134.7 1781.6,134 1781.9,133 1782.1,132 1782.4,130.9 1782.6,129.8 1782.9,128.7 1783.1,127.8 1783.4,127.1 1783.6,126.6 1783.9,126.4 1784.1,126.6 1784.4,127 1784.6,127.6 1784.9,128.4 1785.1,129.4 1785.4,130.4 1785.6,131.4 1785.9,132.4 1786.1,133.3 1786.4,134.1 1786.6,134.8 1786.9,135.2 1787.1,135.4 1787.4,135.2 1787.6,134.6 1787.9,133.8 1788.1,132.7 1788.4,131.5 1788.6,130.3 1788.9,129 1789.1,127.8 1789.4,126.8 1789.6,126 1789.9,125.4 1790.1,125.2 1790.4,125.4 1790.6,126 1790.9,126.8 1791.1,127.8 1791.4,129 1791.6,130.3 1791.9,131.5 1792.1,132.7 1792.4,133.8 1792.6,134.6 1792.9,135.2 1793.1,135.4 1793.4,135.1 1793.6,134.6 1793.9,133.7 1794.1,132.7 1794.4,131.5 1794.6,130.3 1794.9,129.1 1795.1,128.1 1795.4,127.2 1795.6,126.6 1795.9,126.4 1796.1,126.7 1796.4,127.6 1796.6,128.8 1796.9,130.4 1797.1,132.3 1797.4,134.3 1797.6,136.2 1797.9,138.2 1798.1,139.9 1798.4,141.4 1798.6,142.4 1798.9,143 1799.1,142.9 1799.4,141.4 1799.6,138.8 1799.9,135.2 1800.1,130.9 1800.4,126.1 1800.6,121.2 1800.9,116.3 1801.1,111.8 1801.4,107.8 1801.6,104.6 1801.9,102.5 1802.1,101.8 1802.4,102.5 1802.6,104.3 1802.9,107.3 1803.1,111.1 1803.4,115.6 1803.6,120.6 1803.9,126 1804.1,131.5 1804.4,137 1804.6,142.4 1804.9,147.4 1805.1,151.9 1805.4,155.7 1805.6,158.6 1805.9,160.5 1806.1,161.2 1806.4,160.4 1806.6,158.3 1806.9,155.1 1807.1,151 1807.4,146.3 1807.6,141.2 1807.9,136 1808.1,130.9 1808.4,126.2 1808.6,122.1 1808.9,118.9 1809.1,116.8 1809.4,116 1809.6,116.5 1809.9,117.8 1810.1,119.7 1810.4,122 1810.6,124.8 1810.9,127.6 1811.1,130.5 1811.4,133.2 1811.6,135.6 1811.9,137.5 1812.1,138.8 1812.4,139.2 1812.6,138.7 1812.9,137.4 1813.1,135.3 1813.4,132.7 1813.6,129.6 1813.9,126.3 1814.1,122.9 1814.4,119.5 1814.6,116.3 1814.9,113.5 1815.1,111.1 1815.4,109.4 1815.6,108.4 1815.9,108.6 1816.1,110.8 1816.4,114.8 1816.6,120.4 1816.9,127 1817.1,134.5 1817.4,142.4 1817.6,150.4 1817.9,158.1 1818.1,165.3 1818.4,171.4 1818.6,176.2 1818.9,179.4 1819.1,180.5 1819.4,177.3 1819.6,168.4 1819.9,155.4 1820.1,139.6 1820.3,122.4 1820.6,105.2 1820.8,89.4 1821.1,76.4 1821.3,67.6 1821.6,64.4 1821.8,66.7 1822.1,73.1 1822.3,82.9 1822.6,95.2 1822.8,109.3 1823.1,124.4 1823.3,139.7 1823.6,154.4 1823.8,167.7 1824.1,178.8 1824.3,187 1824.6,191.5 1824.8,191.9 1825.1,189.9 1825.3,186.2 1825.6,181.1 1825.8,174.7 1826.1,167.4 1826.3,159.4 1826.6,150.9 1826.8,142.2 1827.1,133.7 1827.3,125.4 1827.6,117.7 1827.8,110.8 1828.1,105 1828.3,100.6 1828.6,97.7 1828.8,96.7 1829.1,97.1 1829.3,98.2 1829.6,100 1829.8,102.3 1830.1,105.1 1830.3,108.3 1830.6,111.8 1830.8,115.5 1831.1,119.4 1831.3,123.3 1831.6,127.3 1831.8,131.1 1832.1,134.8 1832.3,138.2 1832.6,141.2 1832.8,143.8 1833.1,145.9 1833.3,147.4 1833.6,148.3 1833.8,148.3 1834.1,147.8 1834.3,146.6 1834.6,144.9 1834.8,142.8 1835.1,140.4 1835.3,137.7 1835.6,134.8 1835.8,131.8 1836.1,128.8 1836.3,125.8 1836.6,123 1836.8,120.4 1837.1,118.1 1837.3,116.1 1837.6,114.7 1837.8,113.7 1838.1,113.4 1838.3,113.7 1838.6,114.6 1838.8,116 1839.1,117.9 1839.3,120.2 1839.6,122.9 1839.8,125.8 1840.1,128.9 1840.3,132.2 1840.6,135.6 1840.8,139 1841.1,142.4 1841.3,145.7 1841.6,148.8 1841.8,151.7 1842.1,154.4 1842.3,156.7 1842.6,158.5 1842.8,160 1843.1,160.9 1843.3,161.2 1843.6,160.5 1843.8,158.5 1844.1,155.5 1844.3,151.5 1844.6,146.9 1844.8,141.6 1845.1,136 1845.3,130.3 1845.6,124.5 1845.8,118.9 1846.1,113.7 1846.3,109 1846.6,105.1 1846.8,102 1847.1,100.1 1847.3,99.4 1847.6,100.1 1847.8,102.2 1848.1,105.5 1848.3,109.8 1848.6,114.7 1848.8,120.2 1849.1,126 1849.3,131.9 1849.6,137.7 1849.8,143.2 1850.1,148.2 1850.3,152.4 1850.6,155.7 1850.8,157.8 1851.1,158.5 1851.3,158.1 1851.6,156.8 1851.8,154.8 1852.1,152.2 1852.3,149.1 1852.6,145.5 1852.8,141.7 1853.1,137.6 1853.3,133.4 1853.6,129.3 1853.8,125.2 1854.1,121.3 1854.3,117.8 1854.6,114.6 1854.8,112 1855.1,110 1855.3,108.8 1855.6,108.3 1855.8,108.4 1856.1,108.7 1856.3,109.3 1856.6,110 1856.8,110.9 1857.1,111.9 1857.3,113.1 1857.6,114.5 1857.8,115.9 1858.1,117.5 1858.3,119.1 1858.6,120.9 1858.8,122.7 1859.1,124.5 1859.3,126.4 1859.6,128.3 1859.8,130.3 1860.1,132.2 1860.3,134.1 1860.6,136 1860.8,137.9 1861.1,139.7 1861.3,141.4 1861.6,143.1 1861.8,144.7 1862.1,146.1 1862.3,147.4 1862.6,148.6 1862.8,149.7 1863.1,150.6 1863.3,151.3 1863.6,151.8 1863.8,152.1 1864.1,152.3 1864.3,151.8 1864.6,150.7 1864.8,148.8 1865.1,146.4 1865.3,143.6 1865.6,140.4 1865.8,137 1866.1,133.5 1866.3,130.1 1866.6,126.7 1866.8,123.5 1867.1,120.7 1867.3,118.3 1867.6,116.4 1867.8,115.2 1868.1,114.8 1868.3,115.2 1868.6,116.2 1868.8,117.7 1869.1,119.7 1869.3,121.9 1869.6,124.4 1869.8,127 1870,129.6 1870.3,132.1 1870.5,134.4 1870.8,136.3 1871,137.9 1871.3,138.9 1871.5,139.2 1871.8,139 1872,138.2 1872.3,137.2 1872.5,135.8 1872.8,134.4 1873,132.9 1873.3,131.5 1873.5,130.3 1873.8,129.4 1874,128.9 1874.3,128.9 1874.5,129.3 1874.8,130.1 1875,131.2 1875.3,132.4 1875.5,133.8 1875.8,135 1876,136.2 1876.3,137.1 1876.5,137.8 1876.8,138 1877,137.7 1877.3,136.8 1877.5,135.4 1877.8,133.7 1878,131.6 1878.3,129.5 1878.5,127.2 1878.8,125.1 1879,123.1 1879.3,121.3 1879.5,119.9 1879.8,119 1880,118.7 1880.3,119.2 1880.5,120.7 1880.8,123 1881,125.8 1881.3,129 1881.5,132.3 1881.8,135.6 1882,138.6 1882.3,141.2 1882.5,143.1 1882.8,144.2 1883,144.1 1883.3,142.4 1883.5,139.3 1883.8,135.2 1884,130.4 1884.3,125.1 1884.5,119.8 1884.8,114.7 1885,110.2 1885.3,106.5 1885.5,104.1 1885.8,103.2 1886,104.3 1886.3,107.3 1886.5,111.8 1886.8,117.5 1887,124 1887.3,131.1 1887.5,138.4 1887.8,145.5 1888,152 1888.3,157.7 1888.5,162.3 1888.8,165.2 1889,166.3 1889.3,165.3 1889.5,162.7 1889.8,158.6 1890,153.4 1890.3,147.2 1890.5,140.4 1890.8,133.2 1891,125.9 1891.3,118.7 1891.5,111.9 1891.8,105.7 1892,100.5 1892.3,96.4 1892.5,93.8 1892.8,92.9 1893,93.6 1893.3,95.8 1893.5,99.2 1893.8,103.5 1894,108.7 1894.3,114.5 1894.5,120.6 1894.8,127 1895,133.4 1895.3,139.6 1895.5,145.3 1895.8,150.5 1896,154.9 1896.3,158.3 1896.5,160.4 1896.8,161.2 1897,160.9 1897.3,160.2 1897.5,159 1897.8,157.4 1898,155.5 1898.3,153.2 1898.5,150.8 1898.8,148.2 1899,145.4 1899.3,142.6 1899.5,139.7 1899.8,136.9 1900,134.1 1900.3,131.5 1900.5,129.1 1900.8,126.8 1901,124.9 1901.3,123.3 1901.5,122.1 1901.8,121.4 1902,121.1 1902.3,121.4 1902.5,122.1 1902.8,123.1 1903,124.5 1903.3,126 1903.5,127.6 1903.8,129.2 1904,130.8 1904.3,132.1 1904.5,133.2 1904.8,133.9 1905,134.1 1905.3,134 1905.5,133.5 1905.8,132.7 1906,131.9 1906.3,130.9 1906.5,129.9 1906.8,129 1907,128.3 1907.3,127.8 1907.5,127.6 1907.8,127.9 1908,128.6 1908.3,129.6 1908.5,130.9 1908.8,132.5 1909,134.2 1909.3,136 1909.5,137.7 1909.8,139.4 1910,141 1910.3,142.3 1910.5,143.4 1910.8,144 1911,144.3 1911.3,143.7 1911.5,142 1911.8,139.4 1912,136.2 1912.3,132.4 1912.5,128.4 1912.8,124.2 1913,120.2 1913.3,116.4 1913.5,113.2 1913.8,110.6 1914,108.9 1914.3,108.3 1914.5,108.8 1914.8,110.3 1915,112.6 1915.3,115.6 1915.5,119 1915.8,122.8 1916,126.9 1916.3,131 1916.5,135.1 1916.8,138.9 1917,142.4 1917.3,145.3 1917.5,147.6 1917.8,149.1 1918,149.6 1918.3,148.6 1918.5,145.9 1918.8,142.1 1919,137.5 1919.3,132.6 1919.5,127.9 1919.8,123.9 1920,121.1"/></defs>
<use href="#dIMF3" class="r"/><use href="#dIMF3" class="b"/>
</g>
<g>
<path d="M223.2 346.5V587.4M345.1 346.5V587.4M466.9 346.5V587.4M101.4 564.1H588.7M101.4 511.7H588.7M101.4 459.2H588.7M101.4 406.8H588.7M101.4 354.4H588.7" stroke="#e6e6e6" stroke-width="1.6" fill="none"/>
<path d="M101.4 346.5H588.7V587.4H101.4ZM223.2 587.4v-5 M223.2 346.5v5M345.1 587.4v-5 M345.1 346.5v5M466.9 587.4v-5 M466.9 346.5v5M101.4 564.1h5 M588.7 564.1h-5M101.4 511.7h5 M588.7 511.7h-5M101.4 459.2h5 M588.7 459.2h-5M101.4 406.8h5 M588.7 406.8h-5M101.4 354.4h5 M588.7 354.4h-5" stroke="#222222" stroke-width="1.25" fill="none"/>
<text class="t" x="101.7" y="622.1" text-anchor="middle">0</text>
<text class="t" x="223.5" y="622.1" text-anchor="middle">500</text>
<text class="t" x="345.4" y="622.1" text-anchor="middle">1000</text>
<text class="t" x="467.2" y="622.1" text-anchor="middle">1500</text>
<text class="t" x="589.0" y="622.1" text-anchor="middle">2000</text>
<text class="t" x="91.7" y="573.7" text-anchor="end">-10</text>
<text class="t" x="91.7" y="521.2" text-anchor="end">-5</text>
<text class="t" x="91.7" y="468.8" text-anchor="end">0</text>
<text class="t" x="91.7" y="416.4" text-anchor="end">5</text>
<text class="t" x="91.7" y="363.9" text-anchor="end">10</text>
<text class="l" transform="translate(41.3 466.4) rotate(-90) scale(.95 1.04)" text-anchor="middle">IMF4</text>
<defs><polyline id="dIMF4" points="101.6,498.8 101.9,492.8 102.1,486.4 102.4,479.5 102.6,472.4 102.9,465.1 103.1,457.5 103.3,449.9 103.6,442.2 103.8,434.6 104.1,427 104.3,419.6 104.6,412.4 104.8,405.5 105.1,399 105.3,392.8 105.5,387.2 105.8,382.1 106,377.6 106.3,373.7 106.5,370.6 106.8,368.3 107,366.9 107.2,366.4 107.5,367.3 107.7,369.8 108,373.9 108.2,379.3 108.5,386 108.7,393.7 109,402.4 109.2,411.8 109.4,422 109.7,432.6 109.9,443.6 110.2,454.8 110.4,466 110.7,477.2 110.9,488.2 111.1,498.8 111.4,508.9 111.6,518.4 111.9,527.1 112.1,534.8 112.4,541.5 112.6,546.9 112.9,550.9 113.1,553.5 113.3,554.4 113.6,553.6 113.8,551.2 114.1,547.4 114.3,542.4 114.6,536.2 114.8,529 115,520.8 115.3,511.9 115.5,502.4 115.8,492.3 116,481.9 116.3,471.2 116.5,460.4 116.7,449.6 117,438.9 117.2,428.4 117.5,418.4 117.7,408.9 118,400 118.2,391.8 118.5,384.6 118.7,378.4 118.9,373.4 119.2,369.6 119.4,367.2 119.7,366.4 119.9,366.8 120.2,367.9 120.4,369.7 120.6,372.1 120.9,375.1 121.1,378.6 121.4,382.7 121.6,387.2 121.9,392.1 122.1,397.4 122.4,403.1 122.6,409.1 122.8,415.3 123.1,421.7 123.3,428.3 123.6,435 123.8,441.8 124.1,448.6 124.3,455.5 124.5,462.3 124.8,469 125,475.6 125.3,482 125.5,488.2 125.8,494.2 126,499.9 126.3,505.2 126.5,510.1 126.7,514.6 127,518.7 127.2,522.2 127.5,525.2 127.7,527.6 128,529.4 128.2,530.5 128.4,530.9 128.7,530.7 128.9,530.2 129.2,529.5 129.4,528.4 129.7,527.1 129.9,525.6 130.2,523.8 130.4,521.7 130.6,519.5 130.9,517.1 131.1,514.4 131.4,511.6 131.6,508.7 131.9,505.5 132.1,502.3 132.3,498.9 132.6,495.4 132.8,491.9 133.1,488.2 133.3,484.5 133.6,480.7 133.8,476.9 134,473.1 134.3,469.3 134.5,465.4 134.8,461.6 135,457.8 135.3,454 135.5,450.3 135.8,446.6 136,443.1 136.2,439.6 136.5,436.2 136.7,433 137,429.9 137.2,426.9 137.5,424.1 137.7,421.5 137.9,419 138.2,416.8 138.4,414.7 138.7,412.9 138.9,411.4 139.2,410.1 139.4,409 139.7,408.3 139.9,407.8 140.1,407.6 140.4,407.7 140.6,408 140.9,408.4 141.1,409 141.4,409.8 141.6,410.7 141.8,411.8 142.1,413 142.3,414.3 142.6,415.7 142.8,417.3 143.1,419 143.3,420.8 143.6,422.7 143.8,424.6 144,426.7 144.3,428.9 144.5,431.1 144.8,433.4 145,435.7 145.3,438.1 145.5,440.6 145.7,443.1 146,445.6 146.2,448.2 146.5,450.7 146.7,453.3 147,455.9 147.2,458.6 147.4,461.2 147.7,463.8 147.9,466.3 148.2,468.9 148.4,471.4 148.7,473.9 148.9,476.4 149.2,478.8 149.4,481.1 149.6,483.4 149.9,485.6 150.1,487.8 150.4,489.9 150.6,491.8 150.9,493.7 151.1,495.5 151.3,497.2 151.6,498.8 151.8,500.2 152.1,501.5 152.3,502.7 152.6,503.8 152.8,504.7 153.1,505.5 153.3,506.1 153.5,506.5 153.8,506.8 154,506.9 154.3,506.8 154.5,506.8 154.8,506.7 155,506.6 155.2,506.4 155.5,506.3 155.7,506.1 156,505.9 156.2,505.6 156.5,505.4 156.7,505.1 157,504.8 157.2,504.5 157.4,504.2 157.7,503.9 157.9,503.6 158.2,503.3 158.4,503 158.7,502.6 158.9,502.3 159.1,502 159.4,501.7 159.6,501.4 159.9,501.1 160.1,500.8 160.4,500.5 160.6,500.3 160.9,500 161.1,499.8 161.3,499.6 161.6,499.5 161.8,499.3 162.1,499.2 162.3,499.1 162.6,499 162.8,498.9 163,498.9 163.3,498.8 163.5,498.7 163.8,498.7 164,498.6 164.3,498.6 164.5,498.5 164.7,498.5 165,498.4 165.2,498.4 165.5,498.3 165.7,498.3 166,498.2 166.2,498.2 166.5,498.2 166.7,498.1 166.9,498.1 167.2,498 167.4,498 167.7,497.9 167.9,497.8 168.2,497.8 168.4,497.7 168.6,497.6 168.9,497.5 169.1,497.4 169.4,497.3 169.6,497.2 169.9,497.1 170.1,496.9 170.4,496.7 170.6,496.5 170.8,496.2 171.1,496 171.3,495.7 171.6,495.3 171.8,495 172.1,494.6 172.3,494.2 172.5,493.8 172.8,493.3 173,492.9 173.3,492.4 173.5,491.9 173.8,491.3 174,490.8 174.3,490.3 174.5,489.7 174.7,489.1 175,488.5 175.2,487.6 175.5,486.7 175.7,485.5 176,484.3 176.2,482.9 176.4,481.3 176.7,479.7 176.9,478 177.2,476.2 177.4,474.3 177.7,472.3 177.9,470.2 178.1,468.1 178.4,465.9 178.6,463.7 178.9,461.5 179.1,459.2 179.4,456.9 179.6,454.6 179.9,452.3 180.1,450.1 180.3,447.8 180.6,445.5 180.8,443.3 181.1,441.2 181.3,439.1 181.6,437 181.8,435 182,433.1 182.3,431.3 182.5,429.6 182.8,428 183,426.5 183.3,425.1 183.5,423.9 183.8,422.8 184,421.8 184.2,421 184.5,420.4 184.7,419.9 185,419.6 185.2,419.5 185.5,419.6 185.7,420.1 185.9,420.7 186.2,421.7 186.4,422.8 186.7,424.2 186.9,425.8 187.2,427.6 187.4,429.6 187.7,431.7 187.9,434 188.1,436.5 188.4,439.1 188.6,441.7 188.9,444.5 189.1,447.4 189.4,450.3 189.6,453.4 189.8,456.4 190.1,459.5 190.3,462.6 190.6,465.7 190.8,468.8 191.1,471.9 191.3,475 191.6,478 191.8,480.9 192,483.8 192.3,486.6 192.5,489.3 192.8,491.9 193,494.3 193.3,496.6 193.5,498.7 193.7,500.7 194,502.5 194.2,504.1 194.5,505.5 194.7,506.7 195,507.6 195.2,508.3 195.4,508.7 195.7,508.8 195.9,508.5 196.2,507.5 196.4,505.9 196.7,503.7 196.9,501 197.2,497.8 197.4,494.1 197.6,490.1 197.9,485.7 198.1,481.1 198.4,476.2 198.6,471 198.9,465.8 199.1,460.4 199.3,454.9 199.6,449.4 199.8,444 200.1,438.6 200.3,433.3 200.6,428.2 200.8,423.3 201.1,418.6 201.3,414.2 201.5,410.2 201.8,406.6 202,403.4 202.3,400.7 202.5,398.5 202.8,396.8 203,395.8 203.2,395.5 203.5,395.8 203.7,396.8 204,398.5 204.2,400.7 204.5,403.4 204.7,406.6 205,410.3 205.2,414.4 205.4,418.9 205.7,423.7 205.9,428.8 206.2,434.2 206.4,439.7 206.7,445.4 206.9,451.3 207.1,457.2 207.4,463.2 207.6,469.1 207.9,475.1 208.1,480.9 208.4,486.6 208.6,492.2 208.8,497.5 209.1,502.6 209.3,507.4 209.6,511.9 209.8,516 210.1,519.7 210.3,522.9 210.6,525.7 210.8,527.9 211,529.5 211.3,530.5 211.5,530.9 211.8,530.7 212,530.2 212.3,529.4 212.5,528.3 212.7,526.9 213,525.3 213.2,523.4 213.5,521.2 213.7,518.8 214,516.3 214.2,513.5 214.5,510.5 214.7,507.4 214.9,504.1 215.2,500.6 215.4,497.1 215.7,493.4 215.9,489.6 216.2,485.8 216.4,481.8 216.6,477.8 216.9,473.8 217.1,469.8 217.4,465.7 217.6,461.6 217.9,457.6 218.1,453.5 218.4,449.5 218.6,445.6 218.8,441.8 219.1,438 219.3,434.3 219.6,430.7 219.8,427.3 220.1,424 220.3,420.9 220.5,417.9 220.8,415.1 221,412.5 221.3,410.2 221.5,408 221.8,406.1 222,404.5 222.3,403.1 222.5,402 222.7,401.2 223,400.7 223.2,400.5 223.5,400.7 223.7,401.1 224,401.8 224.2,402.8 224.4,404 224.7,405.5 224.9,407.1 225.2,409 225.4,411.1 225.7,413.4 225.9,415.8 226.1,418.4 226.4,421.2 226.6,424.1 226.9,427.1 227.1,430.2 227.4,433.3 227.6,436.6 227.9,440 228.1,443.3 228.3,446.8 228.6,450.2 228.8,453.7 229.1,457.1 229.3,460.6 229.6,464 229.8,467.4 230,470.7 230.3,474 230.5,477.2 230.8,480.3 231,483.3 231.3,486.2 231.5,488.9 231.8,491.5 232,494 232.2,496.2 232.5,498.3 232.7,500.2 233,501.9 233.2,503.4 233.5,504.6 233.7,505.6 233.9,506.3 234.2,506.7 234.4,506.9 234.7,506.6 234.9,505.7 235.2,504.2 235.4,502.3 235.7,499.9 235.9,497 236.1,493.8 236.4,490.2 236.6,486.4 236.9,482.2 237.1,477.8 237.4,473.2 237.6,468.5 237.8,463.6 238.1,458.7 238.3,453.7 238.6,448.7 238.8,443.8 239.1,438.9 239.3,434.2 239.5,429.6 239.8,425.2 240,421 240.3,417.1 240.5,413.6 240.8,410.3 241,407.5 241.3,405.1 241.5,403.1 241.7,401.7 242,400.8 242.2,400.5 242.5,400.9 242.7,401.9 243,403.6 243.2,405.9 243.4,408.8 243.7,412.2 243.9,416.1 244.2,420.3 244.4,425 244.7,430 244.9,435.3 245.2,440.8 245.4,446.6 245.6,452.5 245.9,458.5 246.1,464.5 246.4,470.6 246.6,476.7 246.9,482.7 247.1,488.6 247.3,494.3 247.6,499.9 247.8,505.2 248.1,510.2 248.3,514.8 248.6,519.1 248.8,523 249.1,526.3 249.3,529.2 249.5,531.5 249.8,533.2 250,534.3 250.3,534.6 250.5,534.4 250.8,533.5 251,532.2 251.2,530.3 251.5,528 251.7,525.2 252,522.1 252.2,518.5 252.5,514.6 252.7,510.4 253,506 253.2,501.2 253.4,496.3 253.7,491.1 253.9,485.8 254.2,480.4 254.4,474.8 254.7,469.2 254.9,463.5 255.1,457.8 255.4,452.1 255.6,446.5 255.9,441 256.1,435.5 256.4,430.2 256.6,425 256.8,420.1 257.1,415.3 257.3,410.9 257.6,406.7 257.8,402.8 258.1,399.3 258.3,396.1 258.6,393.3 258.8,391 259,389.2 259.3,387.8 259.5,387 259.8,386.7 260,386.8 260.3,387 260.5,387.5 260.7,388.1 261,388.9 261.2,389.9 261.5,391 261.7,392.2 262,393.6 262.2,395.1 262.5,396.8 262.7,398.5 262.9,400.4 263.2,402.4 263.4,404.4 263.7,406.6 263.9,408.8 264.2,411.2 264.4,413.6 264.6,416 264.9,418.5 265.1,421.1 265.4,423.7 265.6,426.3 265.9,429 266.1,431.7 266.4,434.4 266.6,437.2 266.8,439.9 267.1,442.6 267.3,445.3 267.6,448 267.8,450.7 268.1,453.4 268.3,456 268.5,458.5 268.8,461 269,463.5 269.3,465.9 269.5,468.2 269.8,470.5 270,472.6 270.2,474.7 270.5,476.7 270.7,478.5 271,480.3 271.2,481.9 271.5,483.4 271.7,484.8 272,486.1 272.2,487.2 272.4,488.1 272.7,488.9 272.9,489.6 273.2,490 273.4,490.3 273.7,490.4 273.9,490.3 274.1,489.9 274.4,489.4 274.6,488.6 274.9,487.6 275.1,486.5 275.4,485.2 275.6,483.8 275.9,482.2 276.1,480.5 276.3,478.7 276.6,476.8 276.8,474.8 277.1,472.8 277.3,470.7 277.6,468.6 277.8,466.5 278,464.4 278.3,462.2 278.5,460.1 278.8,458 279,456 279.3,454 279.5,452.2 279.8,450.4 280,448.7 280.2,447.1 280.5,445.7 280.7,444.4 281,443.2 281.2,442.3 281.5,441.5 281.7,440.9 281.9,440.6 282.2,440.5 282.4,440.6 282.7,441 282.9,441.5 283.2,442.3 283.4,443.3 283.7,444.4 283.9,445.7 284.1,447.1 284.4,448.7 284.6,450.3 284.9,452 285.1,453.8 285.4,455.7 285.6,457.6 285.8,459.5 286.1,461.3 286.3,463.2 286.6,465.1 286.8,466.9 287.1,468.6 287.3,470.2 287.5,471.8 287.8,473.2 288,474.5 288.3,475.6 288.5,476.6 288.8,477.4 289,478 289.3,478.3 289.5,478.4 289.7,478.3 290,477.8 290.2,477.1 290.5,476.2 290.7,475 291,473.6 291.2,472.1 291.4,470.3 291.7,468.4 291.9,466.4 292.2,464.3 292.4,462.2 292.7,459.9 292.9,457.6 293.2,455.3 293.4,453 293.6,450.7 293.9,448.5 294.1,446.3 294.4,444.2 294.6,442.2 294.9,440.3 295.1,438.6 295.3,437 295.6,435.6 295.8,434.4 296.1,433.5 296.3,432.8 296.6,432.3 296.8,432.2 297.1,432.3 297.3,432.5 297.5,432.9 297.8,433.5 298,434.2 298.3,435.1 298.5,436.1 298.8,437.3 299,438.5 299.2,439.9 299.5,441.4 299.7,443 300,444.7 300.2,446.5 300.5,448.3 300.7,450.3 300.9,452.3 301.2,454.4 301.4,456.6 301.7,458.8 301.9,461 302.2,463.3 302.4,465.7 302.7,468 302.9,470.4 303.1,472.8 303.4,475.2 303.6,477.6 303.9,480.1 304.1,482.5 304.4,484.8 304.6,487.2 304.8,489.5 305.1,491.8 305.3,494.1 305.6,496.3 305.8,498.5 306.1,500.6 306.3,502.6 306.6,504.5 306.8,506.4 307,508.2 307.3,509.9 307.5,511.5 307.8,513 308,514.4 308.3,515.6 308.5,516.8 308.7,517.8 309,518.6 309.2,519.4 309.5,519.9 309.7,520.4 310,520.6 310.2,520.7 310.5,520.4 310.7,519.7 310.9,518.5 311.2,516.8 311.4,514.7 311.7,512.2 311.9,509.3 312.2,506.1 312.4,502.5 312.6,498.7 312.9,494.5 313.1,490.1 313.4,485.4 313.6,480.5 313.9,475.5 314.1,470.2 314.4,464.8 314.6,459.3 314.8,453.6 315.1,447.9 315.3,442.2 315.6,436.4 315.8,430.5 316.1,424.7 316.3,419 316.5,413.2 316.8,407.6 317,402.1 317.3,396.7 317.5,391.4 317.8,386.3 318,381.5 318.2,376.8 318.5,372.4 318.7,368.2 319,364.3 319.2,360.8 319.5,357.5 319.7,354.7 320,352.2 320.2,350.1 320.4,348.4 320.7,347.2 320.9,346.4 321.2,346.2 321.4,346.5 321.7,347.4 321.9,348.9 322.1,350.9 322.4,353.5 322.6,356.5 322.9,360 323.1,364 323.4,368.3 323.6,373.1 323.9,378.2 324.1,383.7 324.3,389.5 324.6,395.5 324.8,401.8 325.1,408.4 325.3,415.2 325.6,422.1 325.8,429.2 326,436.4 326.3,443.8 326.5,451.2 326.8,458.7 327,466.2 327.3,473.7 327.5,481.1 327.8,488.5 328,495.9 328.2,503.1 328.5,510.2 328.7,517.2 329,523.9 329.2,530.5 329.5,536.8 329.7,542.9 329.9,548.6 330.2,554.1 330.4,559.2 330.7,564 330.9,568.4 331.2,572.3 331.4,575.8 331.6,578.9 331.9,581.4 332.1,583.4 332.4,584.9 332.6,585.8 332.9,586.1 333.1,585.7 333.4,584.4 333.6,582.2 333.8,579.3 334.1,575.7 334.3,571.4 334.6,566.5 334.8,561 335.1,554.9 335.3,548.3 335.5,541.3 335.8,534 336,526.2 336.3,518.2 336.5,509.9 336.8,501.3 337,492.7 337.3,483.9 337.5,475 337.7,466.1 338,457.3 338.2,448.5 338.5,439.8 338.7,431.3 339,423 339.2,414.9 339.4,407.2 339.7,399.8 339.9,392.8 340.2,386.2 340.4,380.2 340.7,374.7 340.9,369.7 341.2,365.4 341.4,361.8 341.6,358.9 341.9,356.8 342.1,355.4 342.4,355 342.6,355.5 342.9,357 343.1,359.4 343.3,362.6 343.6,366.7 343.8,371.4 344.1,376.9 344.3,382.9 344.6,389.5 344.8,396.6 345.1,404.1 345.3,412 345.5,420.1 345.8,428.6 346,437.2 346.3,445.9 346.5,454.7 346.8,463.5 347,472.2 347.2,480.8 347.5,489.2 347.7,497.4 348,505.3 348.2,512.8 348.5,519.9 348.7,526.4 348.9,532.5 349.2,537.9 349.4,542.7 349.7,546.7 349.9,550 350.2,552.4 350.4,553.9 350.7,554.4 350.9,553.8 351.1,552.3 351.4,549.9 351.6,546.5 351.9,542.4 352.1,537.5 352.4,531.9 352.6,525.7 352.8,519 353.1,511.8 353.3,504.1 353.6,496.1 353.8,487.8 354.1,479.3 354.3,470.6 354.6,461.9 354.8,453.1 355,444.3 355.3,435.6 355.5,427.1 355.8,418.8 356,410.8 356.3,403.2 356.5,395.9 356.7,389.2 357,383 357.2,377.4 357.5,372.6 357.7,368.4 358,365.1 358.2,362.6 358.5,361.1 358.7,360.6 358.9,361.2 359.2,363.2 359.4,366.5 359.7,370.8 359.9,376.1 360.2,382.3 360.4,389.3 360.6,396.9 360.9,405.2 361.1,413.9 361.4,423 361.6,432.3 361.9,441.8 362.1,451.4 362.3,460.9 362.6,470.2 362.8,479.3 363.1,488 363.3,496.3 363.6,503.9 363.8,510.9 364.1,517.1 364.3,522.4 364.5,526.8 364.8,530 365,532 365.3,532.7 365.5,532.2 365.8,530.8 366,528.6 366.2,525.6 366.5,521.9 366.7,517.7 367,513 367.2,507.8 367.5,502.2 367.7,496.4 368,490.4 368.2,484.2 368.4,478.1 368.7,471.9 368.9,465.9 369.2,460.1 369.4,454.6 369.7,449.4 369.9,444.6 370.1,440.4 370.4,436.7 370.6,433.8 370.9,431.5 371.1,430.1 371.4,429.7 371.6,429.8 371.9,430 372.1,430.4 372.3,431 372.6,431.7 372.8,432.5 373.1,433.5 373.3,434.5 373.6,435.7 373.8,436.9 374,438.2 374.3,439.6 374.5,441 374.8,442.4 375,443.9 375.3,445.4 375.5,447 375.7,448.5 376,450 376.2,451.5 376.5,453 376.7,454.4 377,455.8 377.2,457.1 377.5,458.3 377.7,459.4 377.9,460.5 378.2,461.4 378.4,462.3 378.7,463 378.9,463.5 379.2,463.9 379.4,464.2 379.6,464.3 379.9,464.2 380.1,464 380.4,463.6 380.6,463.2 380.9,462.6 381.1,461.9 381.4,461.2 381.6,460.3 381.8,459.4 382.1,458.4 382.3,457.4 382.6,456.3 382.8,455.2 383.1,454.1 383.3,452.9 383.5,451.8 383.8,450.6 384,449.5 384.3,448.4 384.5,447.3 384.8,446.3 385,445.3 385.3,444.4 385.5,443.6 385.7,442.8 386,442.1 386.2,441.6 386.5,441.1 386.7,440.8 387,440.5 387.2,440.5 387.4,440.7 387.7,441.5 387.9,442.7 388.2,444.4 388.4,446.4 388.7,448.8 388.9,451.5 389.2,454.5 389.4,457.7 389.6,461.1 389.9,464.7 390.1,468.4 390.4,472.3 390.6,476.1 390.9,480 391.1,483.9 391.3,487.7 391.6,491.4 391.8,495 392.1,498.4 392.3,501.7 392.6,504.6 392.8,507.3 393,509.7 393.3,511.8 393.5,513.4 393.8,514.6 394,515.4 394.3,515.7 394.5,515.2 394.8,514 395,512 395.2,509.3 395.5,506 395.7,502 396,497.5 396.2,492.5 396.5,487.1 396.7,481.3 396.9,475.2 397.2,468.8 397.4,462.2 397.7,455.5 397.9,448.6 398.2,441.7 398.4,434.7 398.7,427.9 398.9,421.1 399.1,414.5 399.4,408.1 399.6,402 399.9,396.2 400.1,390.8 400.4,385.8 400.6,381.3 400.8,377.4 401.1,374 401.3,371.3 401.6,369.3 401.8,368.1 402.1,367.7 402.3,368.1 402.6,369.4 402.8,371.5 403,374.3 403.3,377.8 403.5,381.9 403.8,386.7 404,391.9 404.3,397.7 404.5,403.9 404.7,410.6 405,417.5 405.2,424.8 405.5,432.3 405.7,440 406,447.8 406.2,455.8 406.4,463.8 406.7,471.8 406.9,479.8 407.2,487.6 407.4,495.3 407.7,502.8 407.9,510.1 408.2,517 408.4,523.7 408.6,529.9 408.9,535.7 409.1,540.9 409.4,545.7 409.6,549.8 409.9,553.3 410.1,556.1 410.3,558.2 410.6,559.5 410.8,559.9 411.1,559.7 411.3,559 411.6,557.8 411.8,556.3 412.1,554.3 412.3,552 412.5,549.3 412.8,546.2 413,542.9 413.3,539.2 413.5,535.3 413.8,531.2 414,526.8 414.2,522.2 414.5,517.4 414.7,512.5 415,507.4 415.2,502.2 415.5,496.9 415.7,491.6 416,486.1 416.2,480.7 416.4,475.2 416.7,469.8 416.9,464.4 417.2,459 417.4,453.7 417.7,448.5 417.9,443.4 418.1,438.5 418.4,433.7 418.6,429.1 418.9,424.8 419.1,420.6 419.4,416.7 419.6,413 419.9,409.7 420.1,406.7 420.3,404 420.6,401.6 420.8,399.7 421.1,398.1 421.3,396.9 421.6,396.2 421.8,396 422,396.1 422.3,396.5 422.5,397.2 422.8,398.1 423,399.2 423.3,400.6 423.5,402.1 423.7,403.8 424,405.7 424.2,407.8 424.5,410 424.7,412.3 425,414.7 425.2,417.2 425.5,419.9 425.7,422.5 425.9,425.3 426.2,428.1 426.4,430.9 426.7,433.7 426.9,436.5 427.2,439.3 427.4,442.1 427.6,444.9 427.9,447.5 428.1,450.2 428.4,452.7 428.6,455.1 428.9,457.4 429.1,459.6 429.4,461.7 429.6,463.6 429.8,465.3 430.1,466.8 430.3,468.2 430.6,469.3 430.8,470.2 431.1,470.9 431.3,471.3 431.5,471.4 431.8,471.3 432,471.1 432.3,470.8 432.5,470.3 432.8,469.8 433,469.1 433.3,468.4 433.5,467.6 433.7,466.8 434,465.9 434.2,465 434.5,464.1 434.7,463.2 435,462.2 435.2,461.4 435.4,460.5 435.7,459.7 435.9,459 436.2,458.4 436.4,457.8 436.7,457.4 436.9,457 437.1,456.8 437.4,456.7 437.6,456.8 437.9,457.1 438.1,457.6 438.4,458.2 438.6,458.9 438.9,459.6 439.1,460.5 439.3,461.3 439.6,462.1 439.8,462.9 440.1,463.6 440.3,464.1 440.6,464.6 440.8,464.9 441,465 441.3,464.9 441.5,464.6 441.8,464 442,463.3 442.3,462.4 442.5,461.3 442.8,460.2 443,458.9 443.2,457.4 443.5,456 443.7,454.4 444,452.8 444.2,451.1 444.5,449.5 444.7,447.8 444.9,446.2 445.2,444.6 445.4,443 445.7,441.5 445.9,440.1 446.2,438.8 446.4,437.6 446.7,436.6 446.9,435.7 447.1,435 447.4,434.4 447.6,434.1 447.9,434 448.1,434.2 448.4,434.8 448.6,435.7 448.8,437 449.1,438.6 449.3,440.5 449.6,442.6 449.8,444.9 450.1,447.5 450.3,450.3 450.6,453.2 450.8,456.2 451,459.3 451.3,462.5 451.5,465.8 451.8,469.1 452,472.4 452.3,475.7 452.5,478.9 452.7,482 453,485 453.2,487.9 453.5,490.7 453.7,493.3 454,495.6 454.2,497.7 454.4,499.6 454.7,501.2 454.9,502.5 455.2,503.4 455.4,504 455.7,504.2 455.9,504 456.2,503.3 456.4,502.2 456.6,500.7 456.9,498.9 457.1,496.6 457.4,494.1 457.6,491.3 457.9,488.2 458.1,484.9 458.3,481.4 458.6,477.7 458.8,473.8 459.1,469.8 459.3,465.7 459.6,461.5 459.8,457.3 460.1,453 460.3,448.7 460.5,444.5 460.8,440.3 461,436.2 461.3,432.2 461.5,428.3 461.8,424.6 462,421.1 462.2,417.8 462.5,414.7 462.7,411.9 463,409.4 463.2,407.2 463.5,405.3 463.7,403.8 464,402.7 464.2,402 464.4,401.8 464.7,401.8 464.9,401.8 465.2,401.9 465.4,402.1 465.7,402.3 465.9,402.5 466.1,402.7 466.4,403 466.6,403.3 466.9,403.7 467.1,404.1 467.4,404.5 467.6,404.9 467.8,405.4 468.1,406 468.3,406.5 468.6,407.1 468.8,407.7 469.1,408.4 469.3,409 469.6,409.7 469.8,410.5 470,411.2 470.3,412 470.5,412.9 470.8,413.7 471,414.6 471.3,415.5 471.5,416.4 471.7,417.4 472,418.3 472.2,419.8 472.5,422.1 472.7,425.2 473,428.9 473.2,433.3 473.5,438.2 473.7,443.5 473.9,449.2 474.2,455.1 474.4,461.2 474.7,467.4 474.9,473.6 475.2,479.7 475.4,485.6 475.6,491.2 475.9,496.6 476.1,501.4 476.4,505.8 476.6,509.6 476.9,512.7 477.1,515 477.4,516.4 477.6,516.9 477.8,516.5 478.1,515.3 478.3,513.3 478.6,510.6 478.8,507.4 479.1,503.6 479.3,499.3 479.5,494.6 479.8,489.6 480,484.4 480.3,478.9 480.5,473.3 480.8,467.6 481,461.9 481.3,456.3 481.5,450.8 481.7,445.5 482,440.5 482.2,435.8 482.5,431.6 482.7,427.8 483,424.5 483.2,421.9 483.4,419.9 483.7,418.7 483.9,418.2 484.2,418.6 484.4,419.6 484.7,421.3 484.9,423.5 485.1,426.2 485.4,429.3 485.6,432.8 485.9,436.6 486.1,440.6 486.4,444.7 486.6,449 486.9,453.3 487.1,457.5 487.3,461.7 487.6,465.7 487.8,469.4 488.1,472.9 488.3,476 488.6,478.7 488.8,480.9 489,482.6 489.3,483.6 489.5,484 489.8,483.7 490,482.8 490.3,481.4 490.5,479.5 490.8,477.3 491,474.7 491.2,471.9 491.5,468.8 491.7,465.6 492,462.3 492.2,458.9 492.5,455.6 492.7,452.4 492.9,449.3 493.2,446.5 493.4,443.9 493.7,441.7 493.9,439.8 494.2,438.4 494.4,437.5 494.7,437.2 494.9,437.4 495.1,437.9 495.4,438.7 495.6,439.7 495.9,441.1 496.1,442.6 496.4,444.4 496.6,446.4 496.8,448.5 497.1,450.8 497.3,453.3 497.6,455.8 497.8,458.5 498.1,461.2 498.3,464 498.5,466.8 498.8,469.6 499,472.4 499.3,475.2 499.5,477.9 499.8,480.6 500,483.1 500.3,485.6 500.5,487.9 500.7,490 501,492 501.2,493.8 501.5,495.4 501.7,496.7 502,497.8 502.2,498.5 502.4,499 502.7,499.2 502.9,499.2 503.2,499.1 503.4,499 503.7,498.8 503.9,498.5 504.2,498.2 504.4,497.9 504.6,497.5 504.9,497.1 505.1,496.6 505.4,496.1 505.6,495.6 505.9,495 506.1,494.3 506.3,493.7 506.6,493 506.8,492.2 507.1,491.5 507.3,490.7 507.6,489.8 507.8,489 508.1,488.1 508.3,487.2 508.5,486.3 508.8,485.3 509,484.3 509.3,483.3 509.5,482.3 509.8,481.3 510,480 510.2,478.1 510.5,475.8 510.7,473.1 511,470 511.2,466.5 511.5,462.7 511.7,458.6 512,454.3 512.2,449.7 512.4,445 512.7,440.2 512.9,435.2 513.2,430.2 513.4,425.2 513.7,420.2 513.9,415.2 514.1,410.3 514.4,405.6 514.6,401 514.9,396.6 515.1,392.5 515.4,388.6 515.6,385.1 515.8,381.9 516.1,379.1 516.3,376.7 516.6,374.8 516.8,373.4 517.1,372.5 517.3,372.2 517.6,372.4 517.8,373.2 518,374.4 518.3,376 518.5,378.1 518.8,380.6 519,383.4 519.3,386.7 519.5,390.2 519.7,394.1 520,398.2 520.2,402.7 520.5,407.3 520.7,412.2 521,417.4 521.2,422.6 521.5,428.1 521.7,433.7 521.9,439.4 522.2,445.2 522.4,451.1 522.7,457.1 522.9,463.1 523.2,469.1 523.4,475 523.6,481 523.9,486.9 524.1,492.7 524.4,498.4 524.6,504 524.9,509.5 525.1,514.8 525.4,519.9 525.6,524.8 525.8,529.5 526.1,533.9 526.3,538 526.6,541.9 526.8,545.5 527.1,548.7 527.3,551.5 527.5,554 527.8,556.1 528,557.7 528.3,558.9 528.5,559.7 528.8,559.9 529,559.7 529.2,559.1 529.5,558.1 529.7,556.8 530,555.1 530.2,553.1 530.5,550.8 530.7,548.2 531,545.3 531.2,542.2 531.4,538.8 531.7,535.2 531.9,531.4 532.2,527.4 532.4,523.2 532.7,518.8 532.9,514.4 533.1,509.8 533.4,505 533.6,500.2 533.9,495.4 534.1,490.4 534.4,485.5 534.6,480.5 534.9,475.5 535.1,470.5 535.3,465.5 535.6,460.6 535.8,455.7 536.1,450.9 536.3,446.2 536.6,441.7 536.8,437.2 537,432.9 537.3,428.8 537.5,424.8 537.8,421.1 538,417.5 538.3,414.2 538.5,411.1 538.8,408.3 539,405.8 539.2,403.6 539.5,401.7 539.7,400.1 540,398.9 540.2,398 540.5,397.3 540.7,396.8 540.9,396.3 541.2,395.8 541.4,395.4 541.7,395 541.9,394.6 542.2,394.3 542.4,394 542.7,393.7 542.9,393.4 543.1,393.1 543.4,392.8 543.6,392.5 543.9,392.1 544.1,391.8 544.4,391.3 544.6,390.9 544.8,390.4 545.1,389.8 545.3,389.2 545.6,388.3 545.8,387.2 546.1,385.7 546.3,384.1 546.5,382.2 546.8,380.3 547,378.4 547.3,376.4 547.5,374.6 547.8,372.8 548,371.3 548.3,370 548.5,369 548.7,368.3 549,368.1 549.2,368.4 549.5,369.4 549.7,371 550,373.1 550.2,375.8 550.4,379 550.7,382.6 550.9,386.7 551.2,391.1 551.4,396 551.7,401.1 551.9,406.6 552.2,412.3 552.4,418.2 552.6,424.3 552.9,430.6 553.1,437 553.4,443.5 553.6,450 553.9,456.5 554.1,463.1 554.3,469.6 554.6,475.9 554.8,482.2 555.1,488.3 555.3,494.3 555.6,500 555.8,505.4 556.1,510.6 556.3,515.4 556.5,519.9 556.8,523.9 557,527.6 557.3,530.7 557.5,533.4 557.8,535.6 558,537.1 558.2,538.1 558.5,538.4 558.7,538.2 559,537.5 559.2,536.4 559.5,534.8 559.7,532.9 559.9,530.6 560.2,528 560.4,525 560.7,521.8 560.9,518.3 561.2,514.5 561.4,510.5 561.7,506.3 561.9,501.9 562.1,497.3 562.4,492.6 562.6,487.8 562.9,482.9 563.1,478 563.4,473 563.6,467.9 563.8,462.9 564.1,457.9 564.3,452.9 564.6,448.1 564.8,443.3 565.1,438.6 565.3,434 565.6,429.6 565.8,425.4 566,421.4 566.3,417.6 566.5,414.1 566.8,410.9 567,407.9 567.3,405.3 567.5,403 567.7,401.1 568,399.5 568.2,398.4 568.5,397.7 568.7,397.5 569,397.7 569.2,398.5 569.5,399.7 569.7,401.3 569.9,403.4 570.2,405.8 570.4,408.6 570.7,411.7 570.9,415 571.2,418.6 571.4,422.5 571.6,426.5 571.9,430.7 572.1,435.1 572.4,439.5 572.6,444 572.9,448.6 573.1,453.1 573.4,457.7 573.6,462.2 573.8,466.7 574.1,471 574.3,475.2 574.6,479.2 574.8,483.1 575.1,486.7 575.3,490 575.5,493.1 575.8,495.9 576,498.3 576.3,500.4 576.5,502 576.8,503.2 577,504 577.2,504.2 577.5,504 577.7,503.1 578,501.9 578.2,500.1 578.5,497.9 578.7,495.4 579,492.5 579.2,489.4 579.4,486 579.7,482.3 579.9,478.5 580.2,474.6 580.4,470.5 580.7,466.4 580.9,462.3 581.1,458.2 581.4,454.2 581.6,450.2 581.9,446.4 582.1,442.8 582.4,439.4 582.6,436.2 582.9,433.4 583.1,430.8 583.3,428.7 583.6,426.9 583.8,425.6 584.1,424.8 584.3,424.5 584.6,424.9 584.8,426 585,427.7 585.3,430.1 585.5,432.9 585.8,436.1 586,439.7 586.3,443.7 586.5,447.8 586.8,452.1 587,456.5 587.2,460.9 587.5,465.3 587.7,469.6 588,473.6 588.2,477.4 588.5,480.9 588.7,484"/></defs>
<use href="#dIMF4" class="r"/><use href="#dIMF4" class="b"/>
</g>
<g>
<path d="M884.3 346.5V587.4M1009.1 346.5V587.4M1134.0 346.5V587.4M759.5 527.2H1258.8M759.5 466.9H1258.8M759.5 406.7H1258.8" stroke="#e6e6e6" stroke-width="1.6" fill="none"/>
<path d="M759.5 346.5H1258.8V587.4H759.5ZM884.3 587.4v-5 M884.3 346.5v5M1009.1 587.4v-5 M1009.1 346.5v5M1134.0 587.4v-5 M1134.0 346.5v5M759.5 527.2h5 M1258.8 527.2h-5M759.5 466.9h5 M1258.8 466.9h-5M759.5 406.7h5 M1258.8 406.7h-5" stroke="#222222" stroke-width="1.25" fill="none"/>
<text class="t" x="759.8" y="622.1" text-anchor="middle">0</text>
<text class="t" x="884.6" y="622.1" text-anchor="middle">500</text>
<text class="t" x="1009.4" y="622.1" text-anchor="middle">1000</text>
<text class="t" x="1134.3" y="622.1" text-anchor="middle">1500</text>
<text class="t" x="1259.1" y="622.1" text-anchor="middle">2000</text>
<text class="t" x="749.8" y="597.0" text-anchor="end">-10</text>
<text class="t" x="749.8" y="536.7" text-anchor="end">-5</text>
<text class="t" x="749.8" y="476.5" text-anchor="end">0</text>
<text class="t" x="749.8" y="416.3" text-anchor="end">5</text>
<text class="t" x="749.8" y="356.1" text-anchor="end">10</text>
<text class="l" transform="translate(699.6 466.4) rotate(-90) scale(.95 1.04)" text-anchor="middle">IMF5</text>
<defs><polyline id="dIMF5" points="759.7,479.6 760,480.6 760.2,482 760.5,483.6 760.7,485.5 761,487.4 761.2,489.6 761.5,491.8 761.7,494.1 762,496.4 762.2,498.9 762.5,501.3 762.7,503.9 763,506.4 763.2,509 763.5,511.6 763.7,514.3 764,516.9 764.2,519.5 764.5,522.2 764.7,524.8 765,527.4 765.2,529.9 765.5,532.5 765.7,535 766,537.4 766.2,539.7 766.5,542 766.7,544.3 767,546.4 767.2,548.5 767.5,550.4 767.7,552.3 768,554 768.2,555.6 768.5,557.1 768.7,558.5 769,559.7 769.2,560.7 769.5,561.6 769.7,562.4 770,562.9 770.2,563.3 770.5,563.5 770.7,563.6 771,563.4 771.2,563.1 771.5,562.6 771.7,561.9 772,561 772.2,560 772.5,558.9 772.7,557.6 773,556.2 773.2,554.6 773.5,552.9 773.7,551.1 774,549.2 774.2,547.2 774.5,545.1 774.7,542.9 775,540.6 775.2,538.2 775.5,535.8 775.7,533.3 776,530.7 776.2,528.1 776.5,525.4 776.7,522.7 777,520 777.2,517.3 777.5,514.5 777.7,511.7 778,508.9 778.2,506.2 778.5,503.4 778.7,500.6 779,497.9 779.2,495.2 779.5,492.5 779.7,489.9 780,487.3 780.2,484.8 780.5,482.3 780.7,479.9 781,477.6 781.2,475.3 781.5,473.2 781.7,471.1 782,469 782.2,467.1 782.5,465.1 782.7,463.2 783,461.3 783.2,459.3 783.5,457.4 783.7,455.4 784,453.4 784.2,451.3 784.5,449.3 784.7,447.2 785,445.1 785.2,443 785.5,440.9 785.7,438.8 786,436.7 786.2,434.6 786.5,432.4 786.7,430.3 787,428.2 787.2,426.1 787.5,424 787.7,421.9 788,419.8 788.2,417.8 788.5,415.7 788.7,413.7 789,411.7 789.2,409.7 789.5,407.8 789.7,405.8 790,403.9 790.2,402.1 790.5,400.3 790.7,398.5 791,396.8 791.2,395.1 791.5,393.4 791.7,391.8 792,390.3 792.2,388.8 792.5,387.3 792.7,385.9 793,384.6 793.2,383.4 793.5,382.2 793.7,381 794,380 794.2,379 794.5,378.1 794.7,377.2 795,376.5 795.2,375.8 795.4,375.2 795.7,374.7 795.9,374.3 796.2,374 796.4,373.7 796.7,373.6 796.9,373.5 797.2,373.5 797.4,373.6 797.7,373.8 797.9,374.1 798.2,374.4 798.4,374.8 798.7,375.3 798.9,375.8 799.2,376.4 799.4,377 799.7,377.7 799.9,378.5 800.2,379.3 800.4,380.2 800.7,381.2 800.9,382.2 801.2,383.2 801.4,384.3 801.7,385.4 801.9,386.6 802.2,387.8 802.4,389.1 802.7,390.4 802.9,391.7 803.2,393.1 803.4,394.5 803.7,396 803.9,397.4 804.2,398.9 804.4,400.5 804.7,402 804.9,403.6 805.2,405.2 805.4,406.8 805.7,408.4 805.9,410.1 806.2,411.8 806.4,413.4 806.7,415.1 806.9,416.8 807.2,418.5 807.4,420.2 807.7,422 807.9,423.7 808.2,425.4 808.4,427.1 808.7,428.8 808.9,430.6 809.2,432.3 809.4,434 809.7,435.7 809.9,437.3 810.2,439 810.4,440.7 810.7,442.3 810.9,443.9 811.2,445.5 811.4,447.1 811.7,448.6 811.9,450.1 812.2,451.6 812.4,453.1 812.7,454.5 812.9,455.9 813.2,457.3 813.4,458.6 813.7,459.9 813.9,461.2 814.2,462.4 814.4,463.6 814.7,464.7 814.9,465.8 815.2,466.9 815.4,467.9 815.7,469 815.9,470 816.2,471.1 816.4,472.1 816.7,473.2 816.9,474.3 817.2,475.3 817.4,476.4 817.7,477.5 817.9,478.6 818.2,479.7 818.4,480.8 818.7,481.9 818.9,483 819.2,484.1 819.4,485.2 819.7,486.3 819.9,487.4 820.2,488.6 820.4,489.7 820.7,490.8 820.9,491.9 821.2,493 821.4,494.1 821.7,495.2 821.9,496.3 822.2,497.4 822.4,498.5 822.7,499.6 822.9,500.7 823.2,501.8 823.4,502.9 823.7,504 823.9,505 824.2,506.1 824.4,507.2 824.7,508.2 824.9,509.2 825.2,510.3 825.4,511.3 825.7,512.3 825.9,513.3 826.2,514.3 826.4,515.3 826.7,516.2 826.9,517.2 827.2,518.1 827.4,519 827.7,520 827.9,520.8 828.2,521.7 828.4,522.6 828.7,523.4 828.9,524.3 829.2,525.1 829.4,525.9 829.7,526.7 829.9,527.4 830.2,528.2 830.4,528.9 830.7,529.6 830.9,530.3 831.1,531 831.4,531.6 831.6,532.2 831.9,532.8 832.1,533.4 832.4,534 832.6,534.5 832.9,535 833.1,535.5 833.4,535.9 833.6,536.3 833.9,536.8 834.1,537.1 834.4,537.5 834.6,537.8 834.9,538.1 835.1,538.3 835.4,538.6 835.6,538.8 835.9,539 836.1,539.1 836.4,539.2 836.6,539.3 836.9,539.3 837.1,539.4 837.4,539.3 837.6,539.3 837.9,539.2 838.1,539 838.4,538.9 838.6,538.7 838.9,538.5 839.1,538.2 839.4,537.9 839.6,537.6 839.9,537.2 840.1,536.8 840.4,536.4 840.6,535.9 840.9,535.5 841.1,535 841.4,534.5 841.6,533.9 841.9,533.3 842.1,532.7 842.4,532.1 842.6,531.5 842.9,530.8 843.1,530.1 843.4,529.4 843.6,528.7 843.9,528 844.1,527.3 844.4,526.5 844.6,525.7 844.9,524.9 845.1,524.1 845.4,523.3 845.6,522.5 845.9,521.6 846.1,520.8 846.4,519.9 846.6,519.1 846.9,518.2 847.1,517.3 847.4,516.4 847.6,515.6 847.9,514.7 848.1,513.8 848.4,512.9 848.6,512 848.9,511.1 849.1,510.2 849.4,509.3 849.6,508.4 849.9,507.5 850.1,506.7 850.4,505.8 850.6,504.9 850.9,504.1 851.1,503.2 851.4,502.3 851.6,501.5 851.9,500.7 852.1,499.9 852.4,499.1 852.6,498.3 852.9,497.5 853.1,496.7 853.4,496 853.6,495.2 853.9,494.5 854.1,493.8 854.4,493.1 854.6,492.5 854.9,491.8 855.1,491.2 855.4,490.6 855.6,490 855.9,489.5 856.1,488.9 856.4,488.4 856.6,487.9 856.9,487.4 857.1,486.9 857.4,486.4 857.6,485.9 857.9,485.4 858.1,484.9 858.4,484.5 858.6,484 858.9,483.5 859.1,483.1 859.4,482.6 859.6,482.2 859.9,481.7 860.1,481.3 860.4,480.8 860.6,480.4 860.9,480 861.1,479.5 861.4,479.1 861.6,478.7 861.9,478.3 862.1,477.9 862.4,477.4 862.6,477 862.9,476.6 863.1,476.2 863.4,475.8 863.6,475.4 863.9,475 864.1,474.6 864.4,474.2 864.6,473.8 864.9,473.4 865.1,473 865.4,472.6 865.6,472.2 865.9,471.8 866.1,471.4 866.4,471.1 866.6,470.7 866.8,470.3 867.1,470 867.3,469.6 867.6,469.3 867.8,468.9 868.1,468.5 868.3,468.2 868.6,467.8 868.8,467.5 869.1,467.1 869.3,466.8 869.6,466.4 869.8,466 870.1,465.6 870.3,465.3 870.6,464.9 870.8,464.5 871.1,464.1 871.3,463.7 871.6,463.2 871.8,462.8 872.1,462.3 872.3,461.8 872.6,461.3 872.8,460.8 873.1,460.3 873.3,459.8 873.6,459.2 873.8,458.6 874.1,458.1 874.3,457.5 874.6,456.9 874.8,456.3 875.1,455.6 875.3,455 875.6,454.4 875.8,453.7 876.1,453.1 876.3,452.5 876.6,451.8 876.8,451.2 877.1,450.5 877.3,449.9 877.6,449.2 877.8,448.6 878.1,448 878.3,447.3 878.6,446.7 878.8,446.1 879.1,445.5 879.3,444.9 879.6,444.3 879.8,443.7 880.1,443.1 880.3,442.6 880.6,442 880.8,441.5 881.1,441 881.3,440.5 881.6,440 881.8,439.5 882.1,439.1 882.3,438.6 882.6,438.2 882.8,437.8 883.1,437.5 883.3,437.1 883.6,436.8 883.8,436.5 884.1,436.3 884.3,436 884.6,435.8 884.8,435.7 885.1,435.5 885.3,435.4 885.6,435.3 885.8,435.3 886.1,435.3 886.3,435.4 886.6,435.5 886.8,435.7 887.1,435.9 887.3,436.3 887.6,436.6 887.8,437.1 888.1,437.5 888.3,438.1 888.6,438.7 888.8,439.3 889.1,440 889.3,440.7 889.6,441.5 889.8,442.3 890.1,443.2 890.3,444 890.6,444.9 890.8,445.9 891.1,446.8 891.3,447.8 891.6,448.8 891.8,449.8 892.1,450.8 892.3,451.8 892.6,452.8 892.8,453.8 893.1,454.9 893.3,455.9 893.6,456.9 893.8,457.9 894.1,458.9 894.3,459.9 894.6,460.8 894.8,461.8 895.1,462.7 895.3,463.6 895.6,464.5 895.8,465.3 896.1,466.1 896.3,466.9 896.6,467.7 896.8,468.6 897.1,469.4 897.3,470.2 897.6,471.1 897.8,471.9 898.1,472.8 898.3,473.7 898.6,474.7 898.8,475.6 899.1,476.5 899.3,477.5 899.6,478.4 899.8,479.4 900.1,480.3 900.3,481.3 900.6,482.2 900.8,483.1 901.1,484.1 901.3,485 901.6,485.9 901.8,486.8 902.1,487.7 902.3,488.5 902.5,489.3 902.8,490.1 903,490.9 903.3,491.7 903.5,492.4 903.8,493.1 904,493.8 904.3,494.4 904.5,495 904.8,495.5 905,496 905.3,496.5 905.5,496.9 905.8,497.3 906,497.6 906.3,497.8 906.5,498 906.8,498.2 907,498.3 907.3,498.3 907.5,498.2 907.8,498 908,497.7 908.3,497.4 908.5,497 908.8,496.4 909,495.8 909.3,495.2 909.5,494.4 909.8,493.6 910,492.7 910.3,491.8 910.5,490.8 910.8,489.8 911,488.7 911.3,487.6 911.5,486.5 911.8,485.3 912,484.2 912.3,483 912.5,481.7 912.8,480.5 913,479.3 913.3,478.1 913.5,476.9 913.8,475.7 914,474.5 914.3,473.3 914.5,472.2 914.8,471.1 915,470 915.3,469 915.5,468 915.8,467 916,466 916.3,465 916.5,464 916.8,463 917,462 917.3,460.9 917.5,459.9 917.8,458.8 918,457.7 918.3,456.5 918.5,455.4 918.8,454.3 919,453.1 919.3,451.9 919.5,450.8 919.8,449.6 920,448.4 920.3,447.3 920.5,446.1 920.8,444.9 921,443.7 921.3,442.6 921.5,441.4 921.8,440.3 922,439.1 922.3,438 922.5,436.9 922.8,435.8 923,434.8 923.3,433.7 923.5,432.7 923.8,431.7 924,430.7 924.3,429.8 924.5,428.9 924.8,428 925,427.2 925.3,426.4 925.5,425.6 925.8,424.8 926,424.2 926.3,423.5 926.5,422.9 926.8,422.3 927,421.8 927.3,421.4 927.5,421 927.8,420.6 928,420.3 928.3,420.1 928.5,419.9 928.8,419.8 929,419.7 929.3,419.7 929.5,419.8 929.8,420 930,420.3 930.3,420.6 930.5,421 930.8,421.4 931,422 931.3,422.6 931.5,423.2 931.8,424 932,424.8 932.3,425.6 932.5,426.5 932.8,427.5 933,428.5 933.3,429.5 933.5,430.6 933.8,431.8 934,432.9 934.3,434.1 934.5,435.4 934.8,436.6 935,437.9 935.3,439.3 935.5,440.6 935.8,442 936,443.4 936.3,444.7 936.5,446.2 936.8,447.6 937,449 937.3,450.4 937.5,451.8 937.8,453.3 938,454.7 938.2,456.1 938.5,457.5 938.7,458.9 939,460.3 939.2,461.6 939.5,463 939.7,464.3 940,465.7 940.2,467 940.5,468.4 940.7,469.8 941,471.3 941.2,472.9 941.5,474.5 941.7,476.1 942,477.8 942.2,479.6 942.5,481.4 942.7,483.3 943,485.2 943.2,487.2 943.5,489.1 943.7,491.1 944,493.1 944.2,495.2 944.5,497.2 944.7,499.2 945,501.3 945.2,503.3 945.5,505.3 945.7,507.3 946,509.3 946.2,511.3 946.5,513.2 946.7,515.1 947,516.9 947.2,518.7 947.5,520.4 947.7,522.1 948,523.7 948.2,525.3 948.5,526.8 948.7,528.2 949,529.5 949.2,530.7 949.5,531.8 949.7,532.9 950,533.8 950.2,534.6 950.5,535.3 950.7,535.9 951,536.4 951.2,536.7 951.5,536.9 951.7,536.9 952,536.8 952.2,536.6 952.5,536.2 952.7,535.6 953,534.9 953.2,534 953.5,533 953.7,531.9 954,530.7 954.2,529.3 954.5,527.9 954.7,526.3 955,524.6 955.2,522.9 955.5,521.1 955.7,519.1 956,517.2 956.2,515.1 956.5,513 956.7,510.9 957,508.7 957.2,506.5 957.5,504.3 957.7,502 958,499.7 958.2,497.5 958.5,495.2 958.7,492.9 959,490.7 959.2,488.4 959.5,486.2 959.7,484.1 960,481.9 960.2,479.9 960.5,477.8 960.7,475.9 961,474 961.2,472.2 961.5,470.4 961.7,468.7 962,467 962.2,465.4 962.5,463.8 962.7,462.2 963,460.6 963.2,458.9 963.5,457.2 963.7,455.6 964,453.8 964.2,452.1 964.5,450.4 964.7,448.6 965,446.9 965.2,445.1 965.5,443.3 965.7,441.5 966,439.7 966.2,438 966.5,436.2 966.7,434.4 967,432.7 967.2,430.9 967.5,429.2 967.7,427.4 968,425.7 968.2,424 968.5,422.4 968.7,420.7 969,419.1 969.2,417.5 969.5,415.9 969.7,414.4 970,412.9 970.2,411.5 970.5,410.1 970.7,408.7 971,407.4 971.2,406.1 971.5,404.9 971.7,403.7 972,402.6 972.2,401.5 972.5,400.5 972.7,399.5 973,398.7 973.2,397.8 973.5,397.1 973.7,396.4 973.9,395.8 974.2,395.3 974.4,394.8 974.7,394.4 974.9,394.1 975.2,393.9 975.4,393.8 975.7,393.8 975.9,393.9 976.2,394.1 976.4,394.4 976.7,394.8 976.9,395.4 977.2,396 977.4,396.8 977.7,397.7 977.9,398.6 978.2,399.7 978.4,400.8 978.7,402 978.9,403.4 979.2,404.7 979.4,406.2 979.7,407.7 979.9,409.3 980.2,411 980.4,412.7 980.7,414.5 980.9,416.3 981.2,418.2 981.4,420.1 981.7,422 981.9,424 982.2,426 982.4,428 982.7,430 982.9,432.1 983.2,434.1 983.4,436.2 983.7,438.3 983.9,440.3 984.2,442.4 984.4,444.4 984.7,446.5 984.9,448.5 985.2,450.5 985.4,452.5 985.7,454.4 985.9,456.3 986.2,458.2 986.4,460 986.7,461.8 986.9,463.5 987.2,465.3 987.4,467 987.7,468.7 987.9,470.4 988.2,472.2 988.4,474 988.7,475.9 988.9,477.8 989.2,479.8 989.4,481.8 989.7,483.9 989.9,485.9 990.2,488 990.4,490.1 990.7,492.2 990.9,494.4 991.2,496.5 991.4,498.6 991.7,500.7 991.9,502.7 992.2,504.8 992.4,506.8 992.7,508.7 992.9,510.7 993.2,512.5 993.4,514.4 993.7,516.1 993.9,517.8 994.2,519.4 994.4,520.9 994.7,522.3 994.9,523.7 995.2,524.9 995.4,526 995.7,527.1 995.9,528 996.2,528.7 996.4,529.4 996.7,529.9 996.9,530.2 997.2,530.5 997.4,530.5 997.7,530.4 997.9,530.2 998.2,529.8 998.4,529.2 998.7,528.6 998.9,527.7 999.2,526.7 999.4,525.7 999.7,524.4 999.9,523.1 1000.2,521.7 1000.4,520.1 1000.7,518.5 1000.9,516.8 1001.2,515 1001.4,513.1 1001.7,511.2 1001.9,509.2 1002.2,507.1 1002.4,505 1002.7,502.9 1002.9,500.8 1003.2,498.6 1003.4,496.4 1003.7,494.1 1003.9,491.9 1004.2,489.7 1004.4,487.5 1004.7,485.3 1004.9,483.1 1005.2,480.9 1005.4,478.8 1005.7,476.7 1005.9,474.7 1006.2,472.7 1006.4,470.7 1006.7,468.8 1006.9,466.9 1007.2,465 1007.4,463 1007.7,461 1007.9,459 1008.2,456.9 1008.4,454.7 1008.7,452.4 1008.9,450.2 1009.1,447.8 1009.4,445.5 1009.6,443.1 1009.9,440.7 1010.1,438.3 1010.4,436 1010.6,433.6 1010.9,431.2 1011.1,428.9 1011.4,426.7 1011.6,424.4 1011.9,422.3 1012.1,420.2 1012.4,418.1 1012.6,416.2 1012.9,414.3 1013.1,412.6 1013.4,410.9 1013.6,409.4 1013.9,408 1014.1,406.8 1014.4,405.6 1014.6,404.7 1014.9,403.9 1015.1,403.2 1015.4,402.8 1015.6,402.5 1015.9,402.5 1016.1,402.6 1016.4,403 1016.6,403.6 1016.9,404.4 1017.1,405.5 1017.4,406.7 1017.6,408.1 1017.9,409.7 1018.1,411.4 1018.4,413.4 1018.6,415.4 1018.9,417.6 1019.1,419.9 1019.4,422.3 1019.6,424.7 1019.9,427.3 1020.1,429.9 1020.4,432.6 1020.6,435.3 1020.9,438.1 1021.1,440.8 1021.4,443.6 1021.6,446.4 1021.9,449.1 1022.1,451.8 1022.4,454.4 1022.6,457 1022.9,459.6 1023.1,462.1 1023.4,464.6 1023.6,467 1023.9,469.5 1024.1,472 1024.4,474.6 1024.6,477.3 1024.9,480.1 1025.1,482.9 1025.4,485.8 1025.6,488.8 1025.9,491.9 1026.1,494.9 1026.4,498 1026.6,501.1 1026.9,504.1 1027.1,507.1 1027.4,510.1 1027.6,513 1027.9,515.8 1028.1,518.6 1028.4,521.2 1028.6,523.7 1028.9,526 1029.1,528.2 1029.4,530.3 1029.6,532.1 1029.9,533.8 1030.1,535.2 1030.4,536.4 1030.6,537.3 1030.9,538 1031.1,538.5 1031.4,538.6 1031.6,538.6 1031.9,538.2 1032.1,537.7 1032.4,536.9 1032.6,535.9 1032.9,534.7 1033.1,533.4 1033.4,531.8 1033.6,530.1 1033.9,528.3 1034.1,526.3 1034.4,524.2 1034.6,521.9 1034.9,519.6 1035.1,517.2 1035.4,514.7 1035.6,512.1 1035.9,509.5 1036.1,506.8 1036.4,504.1 1036.6,501.4 1036.9,498.6 1037.1,495.9 1037.4,493.2 1037.6,490.5 1037.9,487.8 1038.1,485.2 1038.4,482.7 1038.6,480.2 1038.9,477.8 1039.1,475.5 1039.4,473.2 1039.6,471.1 1039.9,469.1 1040.1,467.1 1040.4,465.2 1040.6,463.3 1040.9,461.4 1041.1,459.5 1041.4,457.5 1041.6,455.6 1041.9,453.6 1042.1,451.6 1042.4,449.6 1042.6,447.6 1042.9,445.5 1043.1,443.5 1043.4,441.4 1043.6,439.4 1043.9,437.3 1044.1,435.3 1044.4,433.3 1044.6,431.3 1044.8,429.3 1045.1,427.3 1045.3,425.4 1045.6,423.4 1045.8,421.5 1046.1,419.7 1046.3,417.9 1046.6,416.1 1046.8,414.3 1047.1,412.6 1047.3,411 1047.6,409.4 1047.8,407.9 1048.1,406.4 1048.3,405 1048.6,403.7 1048.8,402.4 1049.1,401.2 1049.3,400.1 1049.6,399 1049.8,398.1 1050.1,397.2 1050.3,396.5 1050.6,395.8 1050.8,395.2 1051.1,394.7 1051.3,394.3 1051.6,394.1 1051.8,393.9 1052.1,393.8 1052.3,393.9 1052.6,394.1 1052.8,394.4 1053.1,394.8 1053.3,395.3 1053.6,395.9 1053.8,396.6 1054.1,397.4 1054.3,398.3 1054.6,399.3 1054.8,400.4 1055.1,401.5 1055.3,402.8 1055.6,404.1 1055.8,405.4 1056.1,406.9 1056.3,408.4 1056.6,409.9 1056.8,411.5 1057.1,413.2 1057.3,414.9 1057.6,416.6 1057.8,418.4 1058.1,420.2 1058.3,422 1058.6,423.9 1058.8,425.8 1059.1,427.7 1059.3,429.6 1059.6,431.5 1059.8,433.4 1060.1,435.4 1060.3,437.3 1060.6,439.2 1060.8,441.1 1061.1,443 1061.3,444.8 1061.6,446.7 1061.8,448.5 1062.1,450.3 1062.3,452 1062.6,453.7 1062.8,455.4 1063.1,457 1063.3,458.6 1063.6,460.1 1063.8,461.6 1064.1,463 1064.3,464.3 1064.6,465.6 1064.8,466.9 1065.1,468.1 1065.3,469.3 1065.6,470.6 1065.8,471.8 1066.1,473 1066.3,474.3 1066.6,475.6 1066.8,476.9 1067.1,478.2 1067.3,479.4 1067.6,480.7 1067.8,482 1068.1,483.3 1068.3,484.6 1068.6,485.9 1068.8,487.1 1069.1,488.4 1069.3,489.6 1069.6,490.8 1069.8,492 1070.1,493.1 1070.3,494.3 1070.6,495.4 1070.8,496.4 1071.1,497.4 1071.3,498.4 1071.6,499.3 1071.8,500.2 1072.1,501.1 1072.3,501.9 1072.6,502.6 1072.8,503.3 1073.1,503.9 1073.3,504.4 1073.6,504.9 1073.8,505.3 1074.1,505.7 1074.3,506 1074.6,506.2 1074.8,506.3 1075.1,506.3 1075.3,506.2 1075.6,506 1075.8,505.7 1076.1,505.4 1076.3,504.9 1076.6,504.3 1076.8,503.7 1077.1,502.9 1077.3,502.1 1077.6,501.2 1077.8,500.3 1078.1,499.3 1078.3,498.3 1078.6,497.2 1078.8,496 1079.1,494.9 1079.3,493.7 1079.6,492.5 1079.8,491.2 1080.1,490 1080.3,488.8 1080.5,487.5 1080.8,486.3 1081,485.1 1081.3,483.9 1081.5,482.7 1081.8,481.6 1082,480.5 1082.3,479.5 1082.5,478.5 1082.8,477.5 1083,476.6 1083.3,475.8 1083.5,475 1083.8,474.3 1084,473.6 1084.3,472.9 1084.5,472.3 1084.8,471.6 1085,470.9 1085.3,470.3 1085.5,469.6 1085.8,469 1086,468.3 1086.3,467.7 1086.5,467 1086.8,466.4 1087,465.8 1087.3,465.2 1087.5,464.5 1087.8,464 1088,463.4 1088.3,462.8 1088.5,462.3 1088.8,461.7 1089,461.2 1089.3,460.7 1089.5,460.2 1089.8,459.8 1090,459.4 1090.3,459 1090.5,458.6 1090.8,458.3 1091,457.9 1091.3,457.7 1091.5,457.4 1091.8,457.2 1092,457 1092.3,456.9 1092.5,456.8 1092.8,456.7 1093,456.7 1093.3,456.8 1093.5,456.9 1093.8,457 1094,457.2 1094.3,457.4 1094.5,457.6 1094.8,457.9 1095,458.3 1095.3,458.7 1095.5,459.1 1095.8,459.5 1096,460 1096.3,460.5 1096.5,461 1096.8,461.5 1097,462 1097.3,462.6 1097.5,463.2 1097.8,463.7 1098,464.3 1098.3,464.9 1098.5,465.5 1098.8,466.1 1099,466.6 1099.3,467.2 1099.5,467.8 1099.8,468.3 1100,468.8 1100.3,469.4 1100.5,469.8 1100.8,470.3 1101,470.7 1101.3,471.1 1101.5,471.5 1101.8,471.9 1102,472.2 1102.3,472.4 1102.5,472.6 1102.8,472.8 1103,472.9 1103.3,473 1103.5,473.1 1103.8,473 1104,473 1104.3,472.8 1104.5,472.7 1104.8,472.5 1105,472.2 1105.3,472 1105.5,471.6 1105.8,471.3 1106,470.9 1106.3,470.5 1106.5,470 1106.8,469.5 1107,469 1107.3,468.5 1107.5,468 1107.8,467.4 1108,466.8 1108.3,466.2 1108.5,465.6 1108.8,465 1109,464.4 1109.3,463.8 1109.5,463.1 1109.8,462.5 1110,461.9 1110.3,461.2 1110.5,460.6 1110.8,460 1111,459.4 1111.3,458.7 1111.5,458.2 1111.8,457.6 1112,457 1112.3,456.5 1112.5,455.9 1112.8,455.4 1113,455 1113.3,454.5 1113.5,454.1 1113.8,453.7 1114,453.4 1114.3,453 1114.5,452.7 1114.8,452.5 1115,452.3 1115.3,452.1 1115.5,452 1115.8,452 1116,451.9 1116.2,452 1116.5,452.1 1116.7,452.2 1117,452.4 1117.2,452.7 1117.5,453 1117.7,453.3 1118,453.7 1118.2,454.2 1118.5,454.6 1118.7,455.1 1119,455.7 1119.2,456.2 1119.5,456.8 1119.7,457.4 1120,458 1120.2,458.7 1120.5,459.3 1120.7,460 1121,460.6 1121.2,461.3 1121.5,462 1121.7,462.6 1122,463.3 1122.2,463.9 1122.5,464.6 1122.7,465.2 1123,465.8 1123.2,466.4 1123.5,466.9 1123.7,467.5 1124,468.1 1124.2,468.7 1124.5,469.4 1124.7,470 1125,470.7 1125.2,471.3 1125.5,472 1125.7,472.7 1126,473.4 1126.2,474.2 1126.5,474.9 1126.7,475.7 1127,476.4 1127.2,477.2 1127.5,477.9 1127.7,478.7 1128,479.5 1128.2,480.2 1128.5,481 1128.7,481.8 1129,482.5 1129.2,483.3 1129.5,484 1129.7,484.7 1130,485.4 1130.2,486.1 1130.5,486.8 1130.7,487.5 1131,488.1 1131.2,488.8 1131.5,489.4 1131.7,490 1132,490.6 1132.2,491.1 1132.5,491.6 1132.7,492.1 1133,492.5 1133.2,493 1133.5,493.4 1133.7,493.7 1134,494 1134.2,494.3 1134.5,494.5 1134.7,494.7 1135,494.9 1135.2,495 1135.5,495.1 1135.7,495.1 1136,495 1136.2,494.9 1136.5,494.7 1136.7,494.5 1137,494.2 1137.2,493.8 1137.5,493.4 1137.7,493 1138,492.4 1138.2,491.9 1138.5,491.3 1138.7,490.6 1139,489.9 1139.2,489.2 1139.5,488.4 1139.7,487.6 1140,486.8 1140.2,486 1140.5,485.1 1140.7,484.2 1141,483.3 1141.2,482.4 1141.5,481.5 1141.7,480.5 1142,479.6 1142.2,478.7 1142.5,477.7 1142.7,476.8 1143,475.9 1143.2,475 1143.5,474.1 1143.7,473.2 1144,472.3 1144.2,471.5 1144.5,470.7 1144.7,469.9 1145,469.1 1145.2,468.4 1145.5,467.7 1145.7,467 1146,466.3 1146.2,465.6 1146.5,464.9 1146.7,464.2 1147,463.5 1147.2,462.8 1147.5,462 1147.7,461.3 1148,460.6 1148.2,459.8 1148.5,459 1148.7,458.3 1149,457.5 1149.2,456.8 1149.5,456.1 1149.7,455.3 1150,454.6 1150.2,453.9 1150.5,453.3 1150.7,452.6 1151,452 1151.2,451.3 1151.5,450.8 1151.7,450.2 1151.9,449.7 1152.2,449.2 1152.4,448.7 1152.7,448.3 1152.9,447.9 1153.2,447.6 1153.4,447.3 1153.7,447.1 1153.9,446.9 1154.2,446.8 1154.4,446.7 1154.7,446.7 1154.9,446.8 1155.2,446.9 1155.4,447.1 1155.7,447.4 1155.9,447.8 1156.2,448.2 1156.4,448.7 1156.7,449.3 1156.9,449.9 1157.2,450.6 1157.4,451.3 1157.7,452 1157.9,452.8 1158.2,453.6 1158.4,454.5 1158.7,455.3 1158.9,456.2 1159.2,457.1 1159.4,458 1159.7,458.9 1159.9,459.8 1160.2,460.7 1160.4,461.5 1160.7,462.4 1160.9,463.2 1161.2,464 1161.4,464.8 1161.7,465.5 1161.9,466.2 1162.2,466.9 1162.4,467.6 1162.7,468.3 1162.9,469 1163.2,469.7 1163.4,470.4 1163.7,471.1 1163.9,471.8 1164.2,472.6 1164.4,473.3 1164.7,474.1 1164.9,474.8 1165.2,475.5 1165.4,476.2 1165.7,476.9 1165.9,477.6 1166.2,478.3 1166.4,478.9 1166.7,479.6 1166.9,480.1 1167.2,480.7 1167.4,481.2 1167.7,481.7 1167.9,482.1 1168.2,482.5 1168.4,482.8 1168.7,483.1 1168.9,483.3 1169.2,483.5 1169.4,483.6 1169.7,483.6 1169.9,483.6 1170.2,483.5 1170.4,483.3 1170.7,483.1 1170.9,482.8 1171.2,482.5 1171.4,482.1 1171.7,481.7 1171.9,481.2 1172.2,480.7 1172.4,480.2 1172.7,479.6 1172.9,479 1173.2,478.3 1173.4,477.7 1173.7,477 1173.9,476.3 1174.2,475.6 1174.4,474.9 1174.7,474.2 1174.9,473.5 1175.2,472.8 1175.4,472 1175.7,471.4 1175.9,470.7 1176.2,470 1176.4,469.4 1176.7,468.7 1176.9,468.1 1177.2,467.5 1177.4,467 1177.7,466.4 1177.9,465.9 1178.2,465.3 1178.4,464.7 1178.7,464.1 1178.9,463.5 1179.2,462.9 1179.4,462.3 1179.7,461.7 1179.9,461.1 1180.2,460.4 1180.4,459.8 1180.7,459.1 1180.9,458.5 1181.2,457.8 1181.4,457.2 1181.7,456.5 1181.9,455.9 1182.2,455.3 1182.4,454.6 1182.7,454 1182.9,453.4 1183.2,452.7 1183.4,452.1 1183.7,451.5 1183.9,451 1184.2,450.4 1184.4,449.8 1184.7,449.3 1184.9,448.8 1185.2,448.3 1185.4,447.8 1185.7,447.3 1185.9,446.9 1186.2,446.4 1186.4,446 1186.7,445.7 1186.9,445.3 1187.2,445 1187.4,444.7 1187.6,444.5 1187.9,444.2 1188.1,444 1188.4,443.9 1188.6,443.7 1188.9,443.7 1189.1,443.6 1189.4,443.6 1189.6,443.6 1189.9,443.7 1190.1,443.8 1190.4,444 1190.6,444.2 1190.9,444.4 1191.1,444.7 1191.4,445 1191.6,445.3 1191.9,445.7 1192.1,446.1 1192.4,446.6 1192.6,447.1 1192.9,447.6 1193.1,448.1 1193.4,448.6 1193.6,449.2 1193.9,449.8 1194.1,450.4 1194.4,451.1 1194.6,451.7 1194.9,452.4 1195.1,453.1 1195.4,453.8 1195.6,454.5 1195.9,455.2 1196.1,455.9 1196.4,456.6 1196.6,457.3 1196.9,458 1197.1,458.8 1197.4,459.5 1197.6,460.2 1197.9,460.9 1198.1,461.6 1198.4,462.3 1198.6,463 1198.9,463.7 1199.1,464.4 1199.4,465 1199.6,465.7 1199.9,466.3 1200.1,467 1200.4,467.6 1200.6,468.2 1200.9,468.9 1201.1,469.6 1201.4,470.3 1201.6,471 1201.9,471.7 1202.1,472.4 1202.4,473.2 1202.6,474 1202.9,474.8 1203.1,475.6 1203.4,476.4 1203.6,477.2 1203.9,478 1204.1,478.9 1204.4,479.7 1204.6,480.6 1204.9,481.4 1205.1,482.3 1205.4,483.2 1205.6,484.1 1205.9,485 1206.1,485.8 1206.4,486.7 1206.6,487.6 1206.9,488.5 1207.1,489.4 1207.4,490.3 1207.6,491.1 1207.9,492 1208.1,492.9 1208.4,493.7 1208.6,494.6 1208.9,495.4 1209.1,496.2 1209.4,497.1 1209.6,497.9 1209.9,498.7 1210.1,499.4 1210.4,500.2 1210.6,501 1210.9,501.7 1211.1,502.4 1211.4,503.1 1211.6,503.8 1211.9,504.5 1212.1,505.1 1212.4,505.7 1212.6,506.3 1212.9,506.9 1213.1,507.4 1213.4,507.9 1213.6,508.4 1213.9,508.9 1214.1,509.3 1214.4,509.7 1214.6,510.1 1214.9,510.5 1215.1,510.8 1215.4,511.1 1215.6,511.3 1215.9,511.5 1216.1,511.7 1216.4,511.8 1216.6,511.9 1216.9,511.9 1217.1,511.9 1217.4,511.9 1217.6,511.8 1217.9,511.6 1218.1,511.3 1218.4,511 1218.6,510.6 1218.9,510.2 1219.1,509.7 1219.4,509.1 1219.6,508.5 1219.9,507.8 1220.1,507.1 1220.4,506.3 1220.6,505.5 1220.9,504.7 1221.1,503.8 1221.4,502.8 1221.6,501.8 1221.9,500.8 1222.1,499.8 1222.4,498.7 1222.6,497.6 1222.9,496.5 1223.1,495.3 1223.3,494.2 1223.6,493 1223.8,491.8 1224.1,490.6 1224.3,489.3 1224.6,488.1 1224.8,486.9 1225.1,485.6 1225.3,484.4 1225.6,483.1 1225.8,481.9 1226.1,480.6 1226.3,479.4 1226.6,478.2 1226.8,477 1227.1,475.8 1227.3,474.6 1227.6,473.5 1227.8,472.3 1228.1,471.2 1228.3,470.1 1228.6,469 1228.8,468 1229.1,466.9 1229.3,465.9 1229.6,464.8 1229.8,463.8 1230.1,462.7 1230.3,461.6 1230.6,460.4 1230.8,459.2 1231.1,458.1 1231.3,456.8 1231.6,455.6 1231.8,454.3 1232.1,453.1 1232.3,451.8 1232.6,450.5 1232.8,449.2 1233.1,447.8 1233.3,446.5 1233.6,445.1 1233.8,443.8 1234.1,442.4 1234.3,441.1 1234.6,439.7 1234.8,438.4 1235.1,437 1235.3,435.7 1235.6,434.3 1235.8,433 1236.1,431.7 1236.3,430.3 1236.6,429 1236.8,427.7 1237.1,426.5 1237.3,425.2 1237.6,424 1237.8,422.8 1238.1,421.6 1238.3,420.4 1238.6,419.2 1238.8,418.1 1239.1,417 1239.3,416 1239.6,415 1239.8,414 1240.1,413 1240.3,412.1 1240.6,411.2 1240.8,410.4 1241.1,409.6 1241.3,408.8 1241.6,408.1 1241.8,407.5 1242.1,406.8 1242.3,406.3 1242.6,405.8 1242.8,405.3 1243.1,404.9 1243.3,404.6 1243.6,404.3 1243.8,404.1 1244.1,403.9 1244.3,403.9 1244.6,403.8 1244.8,403.9 1245.1,404.1 1245.3,404.3 1245.6,404.7 1245.8,405.1 1246.1,405.6 1246.3,406.1 1246.6,406.8 1246.8,407.5 1247.1,408.3 1247.3,409.2 1247.6,410.1 1247.8,411.1 1248.1,412.1 1248.3,413.2 1248.6,414.4 1248.8,415.5 1249.1,416.7 1249.3,418 1249.6,419.3 1249.8,420.6 1250.1,421.9 1250.3,423.2 1250.6,424.6 1250.8,426 1251.1,427.3 1251.3,428.7 1251.6,430.1 1251.8,431.5 1252.1,432.9 1252.3,434.3 1252.6,435.8 1252.8,437.3 1253.1,438.9 1253.3,440.5 1253.6,442.2 1253.8,444 1254.1,445.9 1254.3,447.9 1254.6,449.9 1254.8,451.9 1255.1,454.1 1255.3,456.2 1255.6,458.4 1255.8,460.6 1256.1,462.8 1256.3,465 1256.6,467.2 1256.8,469.3 1257.1,471.5 1257.3,473.6 1257.6,475.6 1257.8,477.5 1258.1,479.3 1258.3,480.9 1258.6,482.3 1258.8,483.4"/></defs>
<use href="#dIMF5" class="r"/><use href="#dIMF5" class="b"/>
</g>
<g>
<path d="M1545.4 346.5V587.4M1670.2 346.5V587.4M1795.1 346.5V587.4M1420.5 513.8H1920.0M1420.5 440.2H1920.0M1420.5 366.7H1920.0" stroke="#e6e6e6" stroke-width="1.6" fill="none"/>
<path d="M1420.5 346.5H1920.0V587.4H1420.5ZM1545.4 587.4v-5 M1545.4 346.5v5M1670.2 587.4v-5 M1670.2 346.5v5M1795.1 587.4v-5 M1795.1 346.5v5M1420.5 513.8h5 M1920.0 513.8h-5M1420.5 440.2h5 M1920.0 440.2h-5M1420.5 366.7h5 M1920.0 366.7h-5" stroke="#222222" stroke-width="1.25" fill="none"/>
<text class="t" x="1420.8" y="622.1" text-anchor="middle">0</text>
<text class="t" x="1545.7" y="622.1" text-anchor="middle">500</text>
<text class="t" x="1670.5" y="622.1" text-anchor="middle">1000</text>
<text class="t" x="1795.4" y="622.1" text-anchor="middle">1500</text>
<text class="t" x="1920.3" y="622.1" text-anchor="middle">2000</text>
<text class="t" x="1410.8" y="597.0" text-anchor="end">-10</text>
<text class="t" x="1410.8" y="523.4" text-anchor="end">-5</text>
<text class="t" x="1410.8" y="449.8" text-anchor="end">0</text>
<text class="t" x="1410.8" y="376.2" text-anchor="end">5</text>
<text class="l" transform="translate(1360.6 466.4) rotate(-90) scale(.95 1.04)" text-anchor="middle">IMF6</text>
<defs><polyline id="dIMF6" points="1420.7,451.4 1421,451.4 1421.2,451.6 1421.5,451.7 1421.7,451.8 1422,451.9 1422.2,452.1 1422.5,452.3 1422.7,452.4 1423,452.6 1423.2,452.7 1423.5,452.9 1423.7,453.1 1424,453.2 1424.2,453.4 1424.5,453.6 1424.7,453.7 1425,453.9 1425.2,454.1 1425.5,454.2 1425.7,454.4 1426,454.6 1426.2,454.7 1426.5,454.9 1426.7,455.1 1427,455.2 1427.2,455.4 1427.5,455.6 1427.7,455.7 1428,455.9 1428.2,456 1428.5,456.2 1428.7,456.3 1429,456.5 1429.2,456.7 1429.5,456.8 1429.7,457 1430,457.1 1430.2,457.3 1430.5,457.4 1430.7,457.6 1431,457.7 1431.2,457.9 1431.5,458 1431.7,458.2 1432,458.3 1432.2,458.5 1432.5,458.6 1432.7,458.8 1433,458.9 1433.2,459 1433.5,459.2 1433.7,459.3 1434,459.5 1434.2,459.6 1434.5,459.7 1434.7,459.9 1435,460 1435.2,460.1 1435.5,460.3 1435.7,460.4 1436,460.5 1436.2,460.6 1436.5,460.8 1436.7,460.9 1437,461 1437.2,461.1 1437.5,461.3 1437.7,461.4 1438,461.5 1438.2,461.6 1438.5,461.7 1438.7,461.9 1439,462 1439.2,462.1 1439.5,462.2 1439.7,462.3 1440,462.4 1440.2,462.5 1440.5,462.6 1440.7,462.7 1441,462.8 1441.2,462.9 1441.5,463 1441.7,463.1 1442,463.2 1442.2,463.3 1442.5,463.4 1442.7,463.5 1443,463.6 1443.2,463.7 1443.5,463.8 1443.7,463.8 1444,463.9 1444.2,464 1444.5,464.1 1444.7,464.2 1445,464.2 1445.2,464.3 1445.5,464.4 1445.7,464.4 1446,464.5 1446.2,464.6 1446.5,464.6 1446.7,464.7 1447,464.8 1447.2,464.8 1447.5,464.9 1447.7,464.9 1448,465 1448.2,465 1448.5,465.1 1448.7,465.1 1449,465.2 1449.2,465.2 1449.5,465.2 1449.7,465.3 1450,465.3 1450.2,465.4 1450.5,465.4 1450.7,465.4 1451,465.4 1451.2,465.5 1451.5,465.5 1451.7,465.5 1452,465.5 1452.2,465.5 1452.5,465.5 1452.7,465.5 1453,465.6 1453.2,465.6 1453.5,465.6 1453.7,465.6 1454,465.6 1454.2,465.6 1454.5,465.5 1454.7,465.5 1455,465.5 1455.2,465.5 1455.5,465.5 1455.7,465.5 1456,465.4 1456.2,465.4 1456.5,465.4 1456.7,465.4 1457,465.3 1457.2,465.3 1457.5,465.2 1457.7,465.2 1458,465.2 1458.2,465.1 1458.5,465.1 1458.7,465 1459,465 1459.2,464.9 1459.5,464.9 1459.7,464.8 1460,464.7 1460.2,464.7 1460.5,464.6 1460.7,464.5 1461,464.4 1461.2,464.4 1461.5,464.3 1461.7,464.2 1462,464.1 1462.2,464 1462.5,464 1462.7,463.9 1463,463.8 1463.2,463.7 1463.5,463.6 1463.7,463.5 1464,463.4 1464.2,463.3 1464.5,463.2 1464.7,463.1 1465,462.9 1465.2,462.8 1465.5,462.7 1465.7,462.6 1466,462.5 1466.2,462.4 1466.5,462.2 1466.7,462.1 1467,462 1467.2,461.8 1467.5,461.7 1467.7,461.6 1468,461.4 1468.2,461.3 1468.5,461.1 1468.7,461 1469,460.8 1469.2,460.7 1469.5,460.5 1469.7,460.4 1470,460.2 1470.2,460.1 1470.5,459.9 1470.7,459.7 1470.9,459.6 1471.2,459.4 1471.4,459.2 1471.7,459 1471.9,458.9 1472.2,458.7 1472.4,458.5 1472.7,458.3 1472.9,458.1 1473.2,458 1473.4,457.8 1473.7,457.6 1473.9,457.4 1474.2,457.2 1474.4,457 1474.7,456.8 1474.9,456.6 1475.2,456.4 1475.4,456.2 1475.7,456 1475.9,455.7 1476.2,455.5 1476.4,455.3 1476.7,455.1 1476.9,454.9 1477.2,454.7 1477.4,454.4 1477.7,454.2 1477.9,454 1478.2,453.7 1478.4,453.5 1478.7,453.3 1478.9,453 1479.2,452.8 1479.4,452.5 1479.7,452.3 1479.9,452 1480.2,451.8 1480.4,451.5 1480.7,451.3 1480.9,451 1481.2,450.7 1481.4,450.5 1481.7,450.2 1481.9,449.9 1482.2,449.7 1482.4,449.4 1482.7,449.1 1482.9,448.8 1483.2,448.5 1483.4,448.3 1483.7,448 1483.9,447.7 1484.2,447.4 1484.4,447.1 1484.7,446.8 1484.9,446.5 1485.2,446.2 1485.4,445.9 1485.7,445.6 1485.9,445.3 1486.2,445 1486.4,444.6 1486.7,444.3 1486.9,444 1487.2,443.7 1487.4,443.4 1487.7,443 1487.9,442.7 1488.2,442.4 1488.4,442 1488.7,441.7 1488.9,441.3 1489.2,441 1489.4,440.6 1489.7,440.3 1489.9,439.9 1490.2,439.6 1490.4,439.2 1490.7,438.9 1490.9,438.5 1491.2,438.1 1491.4,437.8 1491.7,437.4 1491.9,437 1492.2,436.7 1492.4,436.3 1492.7,435.9 1492.9,435.5 1493.2,435.2 1493.4,434.8 1493.7,434.4 1493.9,434 1494.2,433.6 1494.4,433.2 1494.7,432.8 1494.9,432.4 1495.2,432 1495.4,431.6 1495.7,431.2 1495.9,430.8 1496.2,430.4 1496.4,430 1496.7,429.6 1496.9,429.2 1497.2,428.8 1497.4,428.4 1497.7,428 1497.9,427.6 1498.2,427.1 1498.4,426.7 1498.7,426.3 1498.9,425.9 1499.2,425.5 1499.4,425 1499.7,424.6 1499.9,424.2 1500.2,423.8 1500.4,423.3 1500.7,422.9 1500.9,422.5 1501.2,422 1501.4,421.6 1501.7,421.2 1501.9,420.8 1502.2,420.3 1502.4,419.9 1502.7,419.5 1502.9,419 1503.2,418.6 1503.4,418.2 1503.7,417.7 1503.9,417.3 1504.2,416.8 1504.4,416.4 1504.7,416 1504.9,415.5 1505.2,415.1 1505.4,414.7 1505.7,414.2 1505.9,413.8 1506.2,413.4 1506.4,412.9 1506.7,412.5 1506.9,412 1507.2,411.6 1507.4,411.2 1507.7,410.7 1507.9,410.3 1508.2,409.9 1508.4,409.4 1508.7,409 1508.9,408.6 1509.2,408.2 1509.4,407.7 1509.7,407.3 1509.9,406.9 1510.2,406.4 1510.4,406 1510.7,405.6 1510.9,405.2 1511.2,404.8 1511.4,404.3 1511.7,403.9 1511.9,403.5 1512.2,403.1 1512.4,402.7 1512.7,402.3 1512.9,401.9 1513.2,401.4 1513.4,401 1513.7,400.6 1513.9,400.2 1514.2,399.8 1514.4,399.4 1514.7,399 1514.9,398.6 1515.2,398.2 1515.4,397.9 1515.7,397.5 1515.9,397.1 1516.2,396.7 1516.4,396.3 1516.7,395.9 1516.9,395.6 1517.2,395.2 1517.4,394.8 1517.7,394.4 1517.9,394.1 1518.2,393.7 1518.4,393.3 1518.7,393 1518.9,392.6 1519.2,392.3 1519.4,391.9 1519.7,391.6 1519.9,391.2 1520.2,390.9 1520.4,390.6 1520.6,390.2 1520.9,389.9 1521.1,389.6 1521.4,389.2 1521.6,388.9 1521.9,388.6 1522.1,388.3 1522.4,388 1522.6,387.7 1522.9,387.3 1523.1,387 1523.4,386.7 1523.6,386.4 1523.9,386.2 1524.1,385.9 1524.4,385.6 1524.6,385.3 1524.9,385 1525.1,384.8 1525.4,384.5 1525.6,384.2 1525.9,384 1526.1,383.7 1526.4,383.5 1526.6,383.2 1526.9,383 1527.1,382.7 1527.4,382.5 1527.6,382.3 1527.9,382 1528.1,381.8 1528.4,381.6 1528.6,381.4 1528.9,381.2 1529.1,381 1529.4,380.7 1529.6,380.6 1529.9,380.4 1530.1,380.2 1530.4,380 1530.6,379.8 1530.9,379.6 1531.1,379.5 1531.4,379.3 1531.6,379.1 1531.9,379 1532.1,378.8 1532.4,378.7 1532.6,378.5 1532.9,378.4 1533.1,378.3 1533.4,378.1 1533.6,378 1533.9,377.9 1534.1,377.8 1534.4,377.7 1534.6,377.6 1534.9,377.5 1535.1,377.4 1535.4,377.3 1535.6,377.2 1535.9,377.1 1536.1,377 1536.4,377 1536.6,376.9 1536.9,376.9 1537.1,376.8 1537.4,376.7 1537.6,376.7 1537.9,376.7 1538.1,376.6 1538.4,376.6 1538.6,376.6 1538.9,376.6 1539.1,376.6 1539.4,376.5 1539.6,376.5 1539.9,376.5 1540.1,376.6 1540.4,376.6 1540.6,376.6 1540.9,376.6 1541.1,376.6 1541.4,376.7 1541.6,376.7 1541.9,376.8 1542.1,376.8 1542.4,376.9 1542.6,376.9 1542.9,377 1543.1,377.1 1543.4,377.2 1543.6,377.3 1543.9,377.3 1544.1,377.4 1544.4,377.5 1544.6,377.6 1544.9,377.8 1545.1,377.9 1545.4,378 1545.6,378.1 1545.9,378.3 1546.1,378.4 1546.4,378.5 1546.6,378.7 1546.9,378.9 1547.1,379 1547.4,379.2 1547.6,379.4 1547.9,379.5 1548.1,379.7 1548.4,379.9 1548.6,380.1 1548.9,380.3 1549.1,380.5 1549.4,380.7 1549.6,380.9 1549.9,381.1 1550.1,381.4 1550.4,381.6 1550.6,381.8 1550.9,382.1 1551.1,382.3 1551.4,382.6 1551.6,382.8 1551.9,383.1 1552.1,383.4 1552.4,383.6 1552.6,383.9 1552.9,384.2 1553.1,384.5 1553.4,384.8 1553.6,385.1 1553.9,385.4 1554.1,385.7 1554.4,386 1554.6,386.4 1554.9,386.7 1555.1,387 1555.4,387.4 1555.6,387.7 1555.9,388.1 1556.1,388.4 1556.4,388.8 1556.6,389.1 1556.9,389.5 1557.1,389.9 1557.4,390.3 1557.6,390.7 1557.9,391.1 1558.1,391.5 1558.4,391.9 1558.6,392.3 1558.9,392.7 1559.1,393.2 1559.4,393.6 1559.6,394 1559.9,394.5 1560.1,394.9 1560.4,395.4 1560.6,395.9 1560.9,396.3 1561.1,396.8 1561.4,397.3 1561.6,397.8 1561.9,398.3 1562.1,398.8 1562.4,399.3 1562.6,399.8 1562.9,400.4 1563.1,400.9 1563.4,401.4 1563.6,402 1563.9,402.6 1564.1,403.1 1564.4,403.7 1564.6,404.3 1564.9,404.8 1565.1,405.4 1565.4,406 1565.6,406.6 1565.9,407.3 1566.1,407.9 1566.4,408.5 1566.6,409.1 1566.9,409.8 1567.1,410.4 1567.4,411.1 1567.6,411.7 1567.9,412.4 1568.1,413 1568.4,413.7 1568.6,414.4 1568.9,415.1 1569.1,415.8 1569.4,416.5 1569.6,417.2 1569.9,417.9 1570.1,418.6 1570.3,419.3 1570.6,420 1570.8,420.8 1571.1,421.5 1571.3,422.2 1571.6,423 1571.8,423.7 1572.1,424.5 1572.3,425.2 1572.6,426 1572.8,426.8 1573.1,427.5 1573.3,428.3 1573.6,429.1 1573.8,429.8 1574.1,430.6 1574.3,431.4 1574.6,432.2 1574.8,433 1575.1,433.8 1575.3,434.6 1575.6,435.4 1575.8,436.2 1576.1,437 1576.3,437.8 1576.6,438.6 1576.8,439.5 1577.1,440.3 1577.3,441.1 1577.6,441.9 1577.8,442.7 1578.1,443.6 1578.3,444.4 1578.6,445.2 1578.8,446.1 1579.1,446.9 1579.3,447.8 1579.6,448.6 1579.8,449.5 1580.1,450.3 1580.3,451.2 1580.6,452 1580.8,452.9 1581.1,453.7 1581.3,454.6 1581.6,455.4 1581.8,456.3 1582.1,457.2 1582.3,458 1582.6,458.9 1582.8,459.8 1583.1,460.7 1583.3,461.6 1583.6,462.4 1583.8,463.3 1584.1,464.2 1584.3,465.1 1584.6,466 1584.8,466.9 1585.1,467.8 1585.3,468.7 1585.6,469.6 1585.8,470.5 1586.1,471.4 1586.3,472.3 1586.6,473.2 1586.8,474.1 1587.1,475 1587.3,475.9 1587.6,476.9 1587.8,477.8 1588.1,478.7 1588.3,479.6 1588.6,480.6 1588.8,481.5 1589.1,482.4 1589.3,483.4 1589.6,484.3 1589.8,485.2 1590.1,486.2 1590.3,487.1 1590.6,488.1 1590.8,489 1591.1,490 1591.3,490.9 1591.6,491.9 1591.8,492.8 1592.1,493.8 1592.3,494.7 1592.6,495.7 1592.8,496.6 1593.1,497.6 1593.3,498.5 1593.6,499.4 1593.8,500.4 1594.1,501.3 1594.3,502.3 1594.6,503.2 1594.8,504.2 1595.1,505.1 1595.3,506 1595.6,506.9 1595.8,507.9 1596.1,508.8 1596.3,509.7 1596.6,510.6 1596.8,511.5 1597.1,512.4 1597.3,513.3 1597.6,514.2 1597.8,515.1 1598.1,516 1598.3,516.8 1598.6,517.7 1598.8,518.6 1599.1,519.4 1599.3,520.3 1599.6,521.1 1599.8,521.9 1600.1,522.8 1600.3,523.6 1600.6,524.4 1600.8,525.2 1601.1,525.9 1601.3,526.7 1601.6,527.5 1601.8,528.2 1602.1,528.9 1602.3,529.6 1602.6,530.3 1602.8,531 1603.1,531.7 1603.3,532.3 1603.6,533 1603.8,533.6 1604.1,534.2 1604.3,534.7 1604.6,535.3 1604.8,535.8 1605.1,536.3 1605.3,536.8 1605.6,537.2 1605.8,537.7 1606.1,538 1606.3,538.4 1606.6,538.8 1606.8,539.1 1607.1,539.4 1607.3,539.6 1607.6,539.8 1607.8,540 1608.1,540.2 1608.3,540.3 1608.6,540.4 1608.8,540.5 1609.1,540.5 1609.3,540.5 1609.6,540.5 1609.8,540.4 1610.1,540.3 1610.3,540.2 1610.6,540 1610.8,539.8 1611.1,539.6 1611.3,539.3 1611.6,539.1 1611.8,538.8 1612.1,538.4 1612.3,538.1 1612.6,537.7 1612.8,537.3 1613.1,536.9 1613.3,536.5 1613.6,536 1613.8,535.5 1614.1,535 1614.3,534.5 1614.6,534 1614.8,533.5 1615.1,532.9 1615.3,532.4 1615.6,531.8 1615.8,531.2 1616.1,530.6 1616.3,530 1616.6,529.4 1616.8,528.7 1617.1,528.1 1617.3,527.4 1617.6,526.8 1617.8,526.1 1618.1,525.4 1618.3,524.7 1618.6,524 1618.8,523.3 1619.1,522.5 1619.3,521.8 1619.6,521.1 1619.8,520.3 1620.1,519.5 1620.3,518.7 1620.5,517.9 1620.8,517.1 1621,516.3 1621.3,515.5 1621.5,514.6 1621.8,513.8 1622,512.9 1622.3,512 1622.5,511.1 1622.8,510.2 1623,509.3 1623.3,508.4 1623.5,507.5 1623.8,506.5 1624,505.5 1624.3,504.6 1624.5,503.6 1624.8,502.6 1625,501.6 1625.3,500.6 1625.5,499.5 1625.8,498.5 1626,497.5 1626.3,496.4 1626.5,495.3 1626.8,494.3 1627,493.2 1627.3,492.1 1627.5,491 1627.8,489.9 1628,488.8 1628.3,487.7 1628.5,486.6 1628.8,485.4 1629,484.3 1629.3,483.2 1629.5,482 1629.8,480.9 1630,479.7 1630.3,478.6 1630.5,477.4 1630.8,476.2 1631,475.1 1631.3,473.9 1631.5,472.7 1631.8,471.6 1632,470.4 1632.3,469.2 1632.5,468 1632.8,466.9 1633,465.7 1633.3,464.5 1633.5,463.3 1633.8,462.1 1634,460.9 1634.3,459.7 1634.5,458.5 1634.8,457.3 1635,456.1 1635.3,454.9 1635.5,453.7 1635.8,452.5 1636,451.3 1636.3,450.1 1636.5,448.8 1636.8,447.6 1637,446.4 1637.3,445.2 1637.5,443.9 1637.8,442.7 1638,441.4 1638.3,440.2 1638.5,439 1638.8,437.7 1639,436.5 1639.3,435.2 1639.5,434 1639.8,432.7 1640,431.5 1640.3,430.2 1640.5,429 1640.8,427.7 1641,426.5 1641.3,425.2 1641.5,424 1641.8,422.7 1642,421.5 1642.3,420.2 1642.5,419 1642.8,417.8 1643,416.5 1643.3,415.3 1643.5,414.1 1643.8,412.9 1644,411.7 1644.3,410.4 1644.5,409.2 1644.8,408 1645,406.9 1645.3,405.7 1645.5,404.5 1645.8,403.3 1646,402.2 1646.3,401 1646.5,399.9 1646.8,398.8 1647,397.6 1647.3,396.5 1647.5,395.4 1647.8,394.3 1648,393.2 1648.3,392.2 1648.5,391.1 1648.8,390.1 1649,389 1649.3,388 1649.5,387 1649.8,386 1650,385 1650.3,384 1650.5,383.1 1650.8,382.1 1651,381.2 1651.3,380.2 1651.5,379.3 1651.8,378.4 1652,377.5 1652.3,376.7 1652.5,375.8 1652.8,375 1653,374.1 1653.3,373.3 1653.5,372.5 1653.8,371.8 1654,371 1654.3,370.2 1654.5,369.5 1654.8,368.8 1655,368.1 1655.3,367.4 1655.5,366.7 1655.8,366.1 1656,365.4 1656.3,364.8 1656.5,364.2 1656.8,363.6 1657,363 1657.3,362.4 1657.5,361.8 1657.8,361.3 1658,360.7 1658.3,360.2 1658.5,359.7 1658.8,359.2 1659,358.7 1659.3,358.2 1659.5,357.8 1659.8,357.3 1660,356.9 1660.3,356.5 1660.5,356 1660.8,355.6 1661,355.2 1661.3,354.8 1661.5,354.5 1661.8,354.1 1662,353.7 1662.3,353.4 1662.5,353 1662.8,352.7 1663,352.4 1663.3,352 1663.5,351.7 1663.8,351.4 1664,351.1 1664.3,350.9 1664.5,350.6 1664.8,350.3 1665,350.1 1665.3,349.8 1665.5,349.6 1665.8,349.4 1666,349.1 1666.3,348.9 1666.5,348.7 1666.8,348.5 1667,348.3 1667.3,348.2 1667.5,348 1667.8,347.8 1668,347.7 1668.3,347.6 1668.5,347.4 1668.8,347.3 1669,347.2 1669.3,347.1 1669.5,347 1669.8,347 1670,346.9 1670.2,346.9 1670.5,346.8 1670.7,346.8 1671,346.8 1671.2,346.8 1671.5,346.8 1671.7,346.8 1672,346.8 1672.2,346.8 1672.5,346.9 1672.7,347 1673,347 1673.2,347.1 1673.5,347.2 1673.7,347.3 1674,347.4 1674.2,347.6 1674.5,347.7 1674.7,347.9 1675,348 1675.2,348.2 1675.5,348.4 1675.7,348.6 1676,348.8 1676.2,349 1676.5,349.2 1676.7,349.5 1677,349.7 1677.2,350 1677.5,350.3 1677.7,350.5 1678,350.8 1678.2,351.1 1678.5,351.5 1678.7,351.8 1679,352.1 1679.2,352.5 1679.5,352.8 1679.7,353.2 1680,353.5 1680.2,353.9 1680.5,354.3 1680.7,354.7 1681,355.1 1681.2,355.6 1681.5,356 1681.7,356.4 1682,356.9 1682.2,357.3 1682.5,357.8 1682.7,358.3 1683,358.8 1683.2,359.3 1683.5,359.8 1683.7,360.3 1684,360.8 1684.2,361.4 1684.5,361.9 1684.7,362.4 1685,363 1685.2,363.6 1685.5,364.1 1685.7,364.7 1686,365.3 1686.2,365.9 1686.5,366.5 1686.7,367.1 1687,367.8 1687.2,368.4 1687.5,369 1687.7,369.7 1688,370.3 1688.2,371 1688.5,371.7 1688.7,372.3 1689,373 1689.2,373.7 1689.5,374.4 1689.7,375.1 1690,375.8 1690.2,376.5 1690.5,377.2 1690.7,378 1691,378.7 1691.2,379.4 1691.5,380.2 1691.7,380.9 1692,381.7 1692.2,382.5 1692.5,383.2 1692.7,384 1693,384.8 1693.2,385.6 1693.5,386.3 1693.7,387.1 1694,387.9 1694.2,388.7 1694.5,389.6 1694.7,390.4 1695,391.2 1695.2,392 1695.5,392.8 1695.7,393.7 1696,394.5 1696.2,395.3 1696.5,396.2 1696.7,397 1697,397.8 1697.2,398.7 1697.5,399.5 1697.7,400.4 1698,401.2 1698.2,402.1 1698.5,403 1698.7,403.8 1699,404.7 1699.2,405.6 1699.5,406.4 1699.7,407.3 1700,408.2 1700.2,409 1700.5,409.9 1700.7,410.8 1701,411.6 1701.2,412.5 1701.5,413.4 1701.7,414.3 1702,415.1 1702.2,416 1702.5,416.9 1702.7,417.7 1703,418.6 1703.2,419.5 1703.5,420.4 1703.7,421.2 1704,422.1 1704.2,423 1704.5,423.8 1704.7,424.7 1705,425.6 1705.2,426.4 1705.5,427.3 1705.7,428.2 1706,429 1706.2,429.9 1706.5,430.8 1706.7,431.6 1707,432.5 1707.2,433.3 1707.5,434.2 1707.7,435.1 1708,435.9 1708.2,436.8 1708.5,437.7 1708.7,438.5 1709,439.4 1709.2,440.2 1709.5,441.1 1709.7,442 1710,442.8 1710.2,443.7 1710.5,444.5 1710.7,445.4 1711,446.3 1711.2,447.1 1711.5,448 1711.7,448.8 1712,449.7 1712.2,450.5 1712.5,451.4 1712.7,452.2 1713,453.1 1713.2,453.9 1713.5,454.7 1713.7,455.6 1714,456.4 1714.2,457.2 1714.5,458.1 1714.7,458.9 1715,459.7 1715.2,460.5 1715.5,461.4 1715.7,462.2 1716,463 1716.2,463.8 1716.5,464.6 1716.7,465.4 1717,466.1 1717.2,466.9 1717.5,467.7 1717.7,468.5 1718,469.2 1718.2,470 1718.5,470.8 1718.7,471.5 1719,472.3 1719.2,473 1719.5,473.7 1719.7,474.5 1720,475.2 1720.2,475.9 1720.4,476.6 1720.7,477.3 1720.9,478 1721.2,478.7 1721.4,479.4 1721.7,480 1721.9,480.7 1722.2,481.4 1722.4,482 1722.7,482.6 1722.9,483.3 1723.2,483.9 1723.4,484.5 1723.7,485.1 1723.9,485.7 1724.2,486.3 1724.4,486.9 1724.7,487.5 1724.9,488.1 1725.2,488.6 1725.4,489.2 1725.7,489.7 1725.9,490.2 1726.2,490.7 1726.4,491.2 1726.7,491.7 1726.9,492.2 1727.2,492.6 1727.4,493.1 1727.7,493.5 1727.9,493.9 1728.2,494.3 1728.4,494.7 1728.7,495 1728.9,495.4 1729.2,495.7 1729.4,496 1729.7,496.3 1729.9,496.6 1730.2,496.8 1730.4,497 1730.7,497.2 1730.9,497.4 1731.2,497.6 1731.4,497.7 1731.7,497.8 1731.9,497.9 1732.2,498 1732.4,498 1732.7,498.1 1732.9,498.1 1733.2,498 1733.4,498 1733.7,497.9 1733.9,497.8 1734.2,497.7 1734.4,497.5 1734.7,497.4 1734.9,497.2 1735.2,497 1735.4,496.7 1735.7,496.5 1735.9,496.2 1736.2,495.9 1736.4,495.5 1736.7,495.2 1736.9,494.8 1737.2,494.4 1737.4,494 1737.7,493.5 1737.9,493.1 1738.2,492.6 1738.4,492.1 1738.7,491.6 1738.9,491 1739.2,490.5 1739.4,489.9 1739.7,489.3 1739.9,488.7 1740.2,488 1740.4,487.4 1740.7,486.7 1740.9,486 1741.2,485.3 1741.4,484.6 1741.7,483.8 1741.9,483.1 1742.2,482.3 1742.4,481.5 1742.7,480.7 1742.9,479.9 1743.2,479 1743.4,478.2 1743.7,477.3 1743.9,476.4 1744.2,475.6 1744.4,474.7 1744.7,473.8 1744.9,472.8 1745.2,471.9 1745.4,471 1745.7,470 1745.9,469.1 1746.2,468.1 1746.4,467.1 1746.7,466.1 1746.9,465.1 1747.2,464.1 1747.4,463.1 1747.7,462.1 1747.9,461.1 1748.2,460.1 1748.4,459.1 1748.7,458 1748.9,457 1749.2,456 1749.4,454.9 1749.7,453.9 1749.9,452.8 1750.2,451.8 1750.4,450.7 1750.7,449.7 1750.9,448.6 1751.2,447.6 1751.4,446.5 1751.7,445.5 1751.9,444.4 1752.2,443.4 1752.4,442.4 1752.7,441.3 1752.9,440.3 1753.2,439.3 1753.4,438.2 1753.7,437.2 1753.9,436.2 1754.2,435.2 1754.4,434.2 1754.7,433.2 1754.9,432.2 1755.2,431.2 1755.4,430.2 1755.7,429.2 1755.9,428.3 1756.2,427.3 1756.4,426.3 1756.7,425.4 1756.9,424.4 1757.2,423.5 1757.4,422.5 1757.7,421.6 1757.9,420.7 1758.2,419.8 1758.4,418.9 1758.7,418 1758.9,417.1 1759.2,416.2 1759.4,415.3 1759.7,414.4 1759.9,413.5 1760.2,412.7 1760.4,411.8 1760.7,411 1760.9,410.1 1761.2,409.3 1761.4,408.5 1761.7,407.7 1761.9,406.9 1762.2,406.1 1762.4,405.4 1762.7,404.6 1762.9,403.8 1763.2,403.1 1763.4,402.4 1763.7,401.7 1763.9,401 1764.2,400.3 1764.4,399.7 1764.7,399.1 1764.9,398.4 1765.2,397.8 1765.4,397.3 1765.7,396.7 1765.9,396.2 1766.2,395.6 1766.4,395.1 1766.7,394.7 1766.9,394.2 1767.2,393.8 1767.4,393.4 1767.7,393 1767.9,392.6 1768.2,392.3 1768.4,392 1768.7,391.7 1768.9,391.4 1769.2,391.2 1769.4,391 1769.7,390.8 1769.9,390.6 1770.2,390.5 1770.4,390.4 1770.6,390.3 1770.9,390.2 1771.1,390.2 1771.4,390.2 1771.6,390.3 1771.9,390.3 1772.1,390.4 1772.4,390.5 1772.6,390.7 1772.9,390.9 1773.1,391.1 1773.4,391.3 1773.6,391.5 1773.9,391.8 1774.1,392.1 1774.4,392.4 1774.6,392.8 1774.9,393.2 1775.1,393.6 1775.4,394 1775.6,394.4 1775.9,394.9 1776.1,395.4 1776.4,395.9 1776.6,396.4 1776.9,397 1777.1,397.5 1777.4,398.1 1777.6,398.7 1777.9,399.3 1778.1,400 1778.4,400.6 1778.6,401.3 1778.9,402 1779.1,402.7 1779.4,403.4 1779.6,404.1 1779.9,404.9 1780.1,405.6 1780.4,406.4 1780.6,407.2 1780.9,407.9 1781.1,408.7 1781.4,409.5 1781.6,410.3 1781.9,411.2 1782.1,412 1782.4,412.8 1782.6,413.6 1782.9,414.5 1783.1,415.3 1783.4,416.1 1783.6,417 1783.9,417.8 1784.1,418.7 1784.4,419.5 1784.6,420.4 1784.9,421.2 1785.1,422.1 1785.4,422.9 1785.6,423.8 1785.9,424.6 1786.1,425.4 1786.4,426.3 1786.6,427.1 1786.9,428 1787.1,428.8 1787.4,429.7 1787.6,430.5 1787.9,431.3 1788.1,432.2 1788.4,433 1788.6,433.9 1788.9,434.7 1789.1,435.6 1789.4,436.4 1789.6,437.3 1789.9,438.1 1790.1,439 1790.4,439.8 1790.6,440.7 1790.9,441.6 1791.1,442.4 1791.4,443.3 1791.6,444.1 1791.9,445 1792.1,445.9 1792.4,446.8 1792.6,447.6 1792.9,448.5 1793.1,449.4 1793.4,450.3 1793.6,451.1 1793.9,452 1794.1,452.9 1794.4,453.8 1794.6,454.7 1794.9,455.6 1795.1,456.4 1795.4,457.3 1795.6,458.2 1795.9,459.1 1796.1,460 1796.4,460.9 1796.6,461.8 1796.9,462.7 1797.1,463.6 1797.4,464.5 1797.6,465.4 1797.9,466.2 1798.1,467.1 1798.4,468 1798.6,468.9 1798.9,469.8 1799.1,470.7 1799.4,471.6 1799.6,472.5 1799.9,473.3 1800.1,474.2 1800.4,475.1 1800.6,476 1800.9,476.8 1801.1,477.7 1801.4,478.5 1801.6,479.3 1801.9,480.2 1802.1,481 1802.4,481.8 1802.6,482.6 1802.9,483.4 1803.1,484.2 1803.4,484.9 1803.6,485.7 1803.9,486.4 1804.1,487.2 1804.4,487.9 1804.6,488.6 1804.9,489.2 1805.1,489.9 1805.4,490.5 1805.6,491.2 1805.9,491.8 1806.1,492.4 1806.4,492.9 1806.6,493.5 1806.9,494 1807.1,494.5 1807.4,495 1807.6,495.5 1807.9,495.9 1808.1,496.3 1808.4,496.7 1808.6,497.1 1808.9,497.4 1809.1,497.7 1809.4,498 1809.6,498.3 1809.9,498.5 1810.1,498.8 1810.4,498.9 1810.6,499.1 1810.9,499.2 1811.1,499.4 1811.4,499.4 1811.6,499.5 1811.9,499.5 1812.1,499.5 1812.4,499.5 1812.6,499.4 1812.9,499.4 1813.1,499.2 1813.4,499.1 1813.6,499 1813.9,498.8 1814.1,498.6 1814.4,498.3 1814.6,498.1 1814.9,497.8 1815.1,497.5 1815.4,497.2 1815.6,496.9 1815.9,496.5 1816.1,496.2 1816.4,495.8 1816.6,495.4 1816.9,495 1817.1,494.5 1817.4,494.1 1817.6,493.6 1817.9,493.1 1818.1,492.6 1818.4,492.1 1818.6,491.6 1818.9,491.1 1819.1,490.6 1819.4,490 1819.6,489.4 1819.9,488.9 1820.1,488.3 1820.3,487.7 1820.6,487.1 1820.8,486.5 1821.1,485.9 1821.3,485.3 1821.6,484.7 1821.8,484 1822.1,483.4 1822.3,482.7 1822.6,482.1 1822.8,481.4 1823.1,480.7 1823.3,480.1 1823.6,479.4 1823.8,478.7 1824.1,478 1824.3,477.3 1824.6,476.6 1824.8,475.9 1825.1,475.2 1825.3,474.5 1825.6,473.7 1825.8,473 1826.1,472.3 1826.3,471.6 1826.6,470.8 1826.8,470.1 1827.1,469.3 1827.3,468.6 1827.6,467.8 1827.8,467.1 1828.1,466.3 1828.3,465.6 1828.6,464.8 1828.8,464 1829.1,463.3 1829.3,462.5 1829.6,461.7 1829.8,460.9 1830.1,460.1 1830.3,459.3 1830.6,458.6 1830.8,457.8 1831.1,457 1831.3,456.2 1831.6,455.4 1831.8,454.5 1832.1,453.7 1832.3,452.9 1832.6,452.1 1832.8,451.3 1833.1,450.4 1833.3,449.6 1833.6,448.8 1833.8,447.9 1834.1,447.1 1834.3,446.2 1834.6,445.4 1834.8,444.5 1835.1,443.7 1835.3,442.8 1835.6,441.9 1835.8,441.1 1836.1,440.2 1836.3,439.3 1836.6,438.4 1836.8,437.5 1837.1,436.7 1837.3,435.8 1837.6,434.9 1837.8,434 1838.1,433.1 1838.3,432.2 1838.6,431.2 1838.8,430.3 1839.1,429.4 1839.3,428.5 1839.6,427.6 1839.8,426.7 1840.1,425.8 1840.3,424.8 1840.6,423.9 1840.8,423 1841.1,422.1 1841.3,421.2 1841.6,420.2 1841.8,419.3 1842.1,418.4 1842.3,417.5 1842.6,416.6 1842.8,415.6 1843.1,414.7 1843.3,413.8 1843.6,412.9 1843.8,412 1844.1,411.1 1844.3,410.2 1844.6,409.3 1844.8,408.4 1845.1,407.5 1845.3,406.6 1845.6,405.7 1845.8,404.8 1846.1,403.9 1846.3,403 1846.6,402.1 1846.8,401.3 1847.1,400.4 1847.3,399.5 1847.6,398.7 1847.8,397.8 1848.1,397 1848.3,396.1 1848.6,395.3 1848.8,394.4 1849.1,393.6 1849.3,392.8 1849.6,392 1849.8,391.2 1850.1,390.4 1850.3,389.6 1850.6,388.8 1850.8,388 1851.1,387.2 1851.3,386.5 1851.6,385.7 1851.8,384.9 1852.1,384.2 1852.3,383.5 1852.6,382.7 1852.8,382 1853.1,381.3 1853.3,380.6 1853.6,379.9 1853.8,379.2 1854.1,378.6 1854.3,377.9 1854.6,377.2 1854.8,376.6 1855.1,375.9 1855.3,375.3 1855.6,374.7 1855.8,374.1 1856.1,373.5 1856.3,372.9 1856.6,372.3 1856.8,371.8 1857.1,371.2 1857.3,370.7 1857.6,370.1 1857.8,369.6 1858.1,369.1 1858.3,368.6 1858.6,368.1 1858.8,367.6 1859.1,367.1 1859.3,366.6 1859.6,366.1 1859.8,365.7 1860.1,365.2 1860.3,364.8 1860.6,364.4 1860.8,363.9 1861.1,363.5 1861.3,363.1 1861.6,362.7 1861.8,362.3 1862.1,361.9 1862.3,361.6 1862.6,361.2 1862.8,360.8 1863.1,360.5 1863.3,360.1 1863.6,359.8 1863.8,359.5 1864.1,359.1 1864.3,358.8 1864.6,358.5 1864.8,358.2 1865.1,357.9 1865.3,357.6 1865.6,357.3 1865.8,357 1866.1,356.8 1866.3,356.5 1866.6,356.2 1866.8,356 1867.1,355.7 1867.3,355.5 1867.6,355.3 1867.8,355 1868.1,354.8 1868.3,354.6 1868.6,354.4 1868.8,354.2 1869.1,354 1869.3,353.8 1869.6,353.6 1869.8,353.4 1870,353.2 1870.3,353.1 1870.5,352.9 1870.8,352.8 1871,352.6 1871.3,352.5 1871.5,352.4 1871.8,352.2 1872,352.1 1872.3,352 1872.5,351.9 1872.8,351.8 1873,351.7 1873.3,351.7 1873.5,351.6 1873.8,351.5 1874,351.5 1874.3,351.4 1874.5,351.4 1874.8,351.3 1875,351.3 1875.3,351.3 1875.5,351.3 1875.8,351.3 1876,351.3 1876.3,351.3 1876.5,351.3 1876.8,351.3 1877,351.3 1877.3,351.4 1877.5,351.4 1877.8,351.5 1878,351.5 1878.3,351.6 1878.5,351.7 1878.8,351.8 1879,351.8 1879.3,351.9 1879.5,352 1879.8,352.1 1880,352.3 1880.3,352.4 1880.5,352.5 1880.8,352.6 1881,352.8 1881.3,352.9 1881.5,353.1 1881.8,353.3 1882,353.4 1882.3,353.6 1882.5,353.8 1882.8,353.9 1883,354.1 1883.3,354.3 1883.5,354.5 1883.8,354.7 1884,354.9 1884.3,355.2 1884.5,355.4 1884.8,355.6 1885,355.8 1885.3,356.1 1885.5,356.3 1885.8,356.5 1886,356.8 1886.3,357 1886.5,357.3 1886.8,357.6 1887,357.8 1887.3,358.1 1887.5,358.4 1887.8,358.6 1888,358.9 1888.3,359.2 1888.5,359.5 1888.8,359.8 1889,360.1 1889.3,360.4 1889.5,360.7 1889.8,361 1890,361.3 1890.3,361.6 1890.5,361.9 1890.8,362.2 1891,362.6 1891.3,362.9 1891.5,363.2 1891.8,363.5 1892,363.9 1892.3,364.2 1892.5,364.6 1892.8,364.9 1893,365.2 1893.3,365.6 1893.5,365.9 1893.8,366.3 1894,366.7 1894.3,367 1894.5,367.4 1894.8,367.7 1895,368.1 1895.3,368.5 1895.5,368.9 1895.8,369.2 1896,369.6 1896.3,370 1896.5,370.4 1896.8,370.8 1897,371.2 1897.3,371.6 1897.5,372 1897.8,372.4 1898,372.8 1898.3,373.2 1898.5,373.6 1898.8,374 1899,374.4 1899.3,374.8 1899.5,375.2 1899.8,375.6 1900,376 1900.3,376.5 1900.5,376.9 1900.8,377.3 1901,377.7 1901.3,378.2 1901.5,378.6 1901.8,379 1902,379.5 1902.3,379.9 1902.5,380.4 1902.8,380.8 1903,381.2 1903.3,381.7 1903.5,382.1 1903.8,382.6 1904,383 1904.3,383.5 1904.5,383.9 1904.8,384.4 1905,384.8 1905.3,385.3 1905.5,385.7 1905.8,386.2 1906,386.6 1906.3,387.1 1906.5,387.5 1906.8,388 1907,388.4 1907.3,388.9 1907.5,389.3 1907.8,389.8 1908,390.2 1908.3,390.7 1908.5,391.1 1908.8,391.5 1909,392 1909.3,392.4 1909.5,392.9 1909.8,393.3 1910,393.7 1910.3,394.2 1910.5,394.6 1910.8,395 1911,395.4 1911.3,395.8 1911.5,396.3 1911.8,396.7 1912,397.1 1912.3,397.5 1912.5,397.9 1912.8,398.3 1913,398.7 1913.3,399.1 1913.5,399.5 1913.8,399.9 1914,400.3 1914.3,400.6 1914.5,401 1914.8,401.4 1915,401.8 1915.3,402.2 1915.5,402.5 1915.8,402.9 1916,403.3 1916.3,403.6 1916.5,404 1916.8,404.4 1917,404.7 1917.3,405.1 1917.5,405.5 1917.8,405.8 1918,406.2 1918.3,406.5 1918.5,406.8 1918.8,407.2 1919,407.4 1919.3,407.7 1919.5,408 1919.8,408.2 1920,408.4"/></defs>
<use href="#dIMF6" class="r"/><use href="#dIMF6" class="b"/>
</g>
<g>
<path d="M223.2 682.2V923.3M345.1 682.2V923.3M466.9 682.2V923.3M101.4 863.0H588.7M101.4 802.8H588.7M101.4 742.5H588.7" stroke="#e6e6e6" stroke-width="1.6" fill="none"/>
<path d="M101.4 682.2H588.7V923.3H101.4ZM223.2 923.3v-5 M223.2 682.2v5M345.1 923.3v-5 M345.1 682.2v5M466.9 923.3v-5 M466.9 682.2v5M101.4 863.0h5 M588.7 863.0h-5M101.4 802.8h5 M588.7 802.8h-5M101.4 742.5h5 M588.7 742.5h-5" stroke="#222222" stroke-width="1.25" fill="none"/>
<text class="t" x="101.7" y="958.0" text-anchor="middle">0</text>
<text class="t" x="223.5" y="958.0" text-anchor="middle">500</text>
<text class="t" x="345.4" y="958.0" text-anchor="middle">1000</text>
<text class="t" x="467.2" y="958.0" text-anchor="middle">1500</text>
<text class="t" x="589.0" y="958.0" text-anchor="middle">2000</text>
<text class="t" x="91.7" y="932.9" text-anchor="end">-2</text>
<text class="t" x="91.7" y="872.6" text-anchor="end">-1</text>
<text class="t" x="91.7" y="812.3" text-anchor="end">0</text>
<text class="t" x="91.7" y="752.0" text-anchor="end">1</text>
<text class="t" x="91.7" y="691.8" text-anchor="end">2</text>
<text class="l" transform="translate(55.6 802.2) rotate(-90) scale(.95 1.04)" text-anchor="middle">IMF7</text>
<text class="l" x="344.6" y="1001.6" text-anchor="middle">time (h)</text>
<defs><polyline id="dIMF7" points="101.6,732.7 101.9,732.4 102.1,732.1 102.4,731.8 102.6,731.6 102.9,731.3 103.1,731 103.3,730.8 103.6,730.5 103.8,730.3 104.1,730 104.3,729.8 104.6,729.5 104.8,729.3 105.1,729 105.3,728.8 105.5,728.5 105.8,728.3 106,728.1 106.3,727.8 106.5,727.6 106.8,727.4 107,727.2 107.2,727 107.5,726.8 107.7,726.5 108,726.3 108.2,726.1 108.5,725.9 108.7,725.7 109,725.5 109.2,725.3 109.4,725.2 109.7,725 109.9,724.8 110.2,724.6 110.4,724.4 110.7,724.3 110.9,724.1 111.1,723.9 111.4,723.7 111.6,723.6 111.9,723.4 112.1,723.3 112.4,723.1 112.6,723 112.9,722.8 113.1,722.7 113.3,722.5 113.6,722.4 113.8,722.3 114.1,722.1 114.3,722 114.6,721.9 114.8,721.7 115,721.6 115.3,721.5 115.5,721.4 115.8,721.3 116,721.2 116.3,721.1 116.5,721 116.7,720.9 117,720.8 117.2,720.7 117.5,720.6 117.7,720.5 118,720.4 118.2,720.3 118.5,720.2 118.7,720.2 118.9,720.1 119.2,720 119.4,720 119.7,719.9 119.9,719.8 120.2,719.8 120.4,719.7 120.6,719.7 120.9,719.6 121.1,719.6 121.4,719.5 121.6,719.5 121.9,719.4 122.1,719.4 122.4,719.4 122.6,719.4 122.8,719.3 123.1,719.3 123.3,719.3 123.6,719.3 123.8,719.2 124.1,719.2 124.3,719.2 124.5,719.2 124.8,719.2 125,719.2 125.3,719.2 125.5,719.2 125.8,719.2 126,719.2 126.3,719.3 126.5,719.3 126.7,719.3 127,719.3 127.2,719.3 127.5,719.4 127.7,719.4 128,719.4 128.2,719.5 128.4,719.5 128.7,719.6 128.9,719.6 129.2,719.7 129.4,719.7 129.7,719.8 129.9,719.8 130.2,719.9 130.4,719.9 130.6,720 130.9,720.1 131.1,720.2 131.4,720.2 131.6,720.3 131.9,720.4 132.1,720.5 132.3,720.6 132.6,720.6 132.8,720.7 133.1,720.8 133.3,720.9 133.6,721 133.8,721.1 134,721.2 134.3,721.3 134.5,721.4 134.8,721.6 135,721.7 135.3,721.8 135.5,721.9 135.8,722 136,722.2 136.2,722.3 136.5,722.4 136.7,722.6 137,722.7 137.2,722.8 137.5,723 137.7,723.1 137.9,723.3 138.2,723.4 138.4,723.6 138.7,723.7 138.9,723.9 139.2,724.1 139.4,724.2 139.7,724.4 139.9,724.6 140.1,724.7 140.4,724.9 140.6,725.1 140.9,725.3 141.1,725.5 141.4,725.6 141.6,725.8 141.8,726 142.1,726.2 142.3,726.4 142.6,726.6 142.8,726.8 143.1,727 143.3,727.2 143.6,727.4 143.8,727.6 144,727.8 144.3,728.1 144.5,728.3 144.8,728.5 145,728.7 145.3,729 145.5,729.2 145.7,729.4 146,729.6 146.2,729.9 146.5,730.1 146.7,730.4 147,730.6 147.2,730.9 147.4,731.1 147.7,731.3 147.9,731.6 148.2,731.9 148.4,732.1 148.7,732.4 148.9,732.6 149.2,732.9 149.4,733.2 149.6,733.4 149.9,733.7 150.1,734 150.4,734.3 150.6,734.5 150.9,734.8 151.1,735.1 151.3,735.4 151.6,735.7 151.8,736 152.1,736.3 152.3,736.6 152.6,736.9 152.8,737.2 153.1,737.5 153.3,737.8 153.5,738.1 153.8,738.4 154,738.7 154.3,739 154.5,739.3 154.8,739.6 155,740 155.2,740.3 155.5,740.6 155.7,740.9 156,741.3 156.2,741.6 156.5,741.9 156.7,742.3 157,742.6 157.2,742.9 157.4,743.3 157.7,743.6 157.9,744 158.2,744.3 158.4,744.7 158.7,745 158.9,745.4 159.1,745.7 159.4,746.1 159.6,746.4 159.9,746.8 160.1,747.2 160.4,747.5 160.6,747.9 160.9,748.3 161.1,748.6 161.3,749 161.6,749.4 161.8,749.7 162.1,750.1 162.3,750.5 162.6,750.9 162.8,751.3 163,751.7 163.3,752 163.5,752.4 163.8,752.8 164,753.2 164.3,753.6 164.5,754 164.7,754.4 165,754.8 165.2,755.2 165.5,755.6 165.7,756 166,756.4 166.2,756.8 166.5,757.2 166.7,757.7 166.9,758.1 167.2,758.5 167.4,758.9 167.7,759.3 167.9,759.7 168.2,760.2 168.4,760.6 168.6,761 168.9,761.4 169.1,761.9 169.4,762.3 169.6,762.7 169.9,763.2 170.1,763.6 170.4,764 170.6,764.5 170.8,764.9 171.1,765.4 171.3,765.8 171.6,766.2 171.8,766.7 172.1,767.1 172.3,767.6 172.5,768 172.8,768.5 173,768.9 173.3,769.4 173.5,769.8 173.8,770.3 174,770.8 174.3,771.2 174.5,771.7 174.7,772.1 175,772.6 175.2,773.1 175.5,773.5 175.7,774 176,774.5 176.2,774.9 176.4,775.4 176.7,775.9 176.9,776.3 177.2,776.8 177.4,777.3 177.7,777.8 177.9,778.2 178.1,778.7 178.4,779.2 178.6,779.7 178.9,780.1 179.1,780.6 179.4,781.1 179.6,781.6 179.9,782.1 180.1,782.6 180.3,783.1 180.6,783.5 180.8,784 181.1,784.5 181.3,785 181.6,785.5 181.8,786 182,786.5 182.3,787 182.5,787.5 182.8,788 183,788.5 183.3,789 183.5,789.5 183.8,790 184,790.5 184.2,791 184.5,791.5 184.7,792 185,792.5 185.2,793 185.5,793.5 185.7,794 185.9,794.5 186.2,795 186.4,795.5 186.7,796 186.9,796.5 187.2,797 187.4,797.5 187.7,798 187.9,798.5 188.1,799 188.4,799.5 188.6,800.1 188.9,800.6 189.1,801.1 189.4,801.6 189.6,802.1 189.8,802.6 190.1,803.1 190.3,803.6 190.6,804.2 190.8,804.7 191.1,805.2 191.3,805.7 191.6,806.2 191.8,806.7 192,807.2 192.3,807.8 192.5,808.3 192.8,808.8 193,809.3 193.3,809.8 193.5,810.3 193.7,810.8 194,811.4 194.2,811.9 194.5,812.4 194.7,812.9 195,813.4 195.2,813.9 195.4,814.5 195.7,815 195.9,815.5 196.2,816 196.4,816.5 196.7,817 196.9,817.5 197.2,818.1 197.4,818.6 197.6,819.1 197.9,819.6 198.1,820.1 198.4,820.6 198.6,821.2 198.9,821.7 199.1,822.2 199.3,822.7 199.6,823.2 199.8,823.7 200.1,824.2 200.3,824.7 200.6,825.3 200.8,825.8 201.1,826.3 201.3,826.8 201.5,827.3 201.8,827.8 202,828.3 202.3,828.8 202.5,829.3 202.8,829.8 203,830.3 203.2,830.8 203.5,831.3 203.7,831.9 204,832.4 204.2,832.9 204.5,833.4 204.7,833.9 205,834.4 205.2,834.9 205.4,835.4 205.7,835.9 205.9,836.4 206.2,836.9 206.4,837.3 206.7,837.8 206.9,838.3 207.1,838.8 207.4,839.3 207.6,839.8 207.9,840.3 208.1,840.8 208.4,841.3 208.6,841.8 208.8,842.3 209.1,842.7 209.3,843.2 209.6,843.7 209.8,844.2 210.1,844.7 210.3,845.1 210.6,845.6 210.8,846.1 211,846.6 211.3,847.1 211.5,847.5 211.8,848 212,848.5 212.3,848.9 212.5,849.4 212.7,849.9 213,850.3 213.2,850.8 213.5,851.3 213.7,851.7 214,852.2 214.2,852.6 214.5,853.1 214.7,853.5 214.9,854 215.2,854.5 215.4,854.9 215.7,855.3 215.9,855.8 216.2,856.2 216.4,856.7 216.6,857.1 216.9,857.6 217.1,858 217.4,858.4 217.6,858.9 217.9,859.3 218.1,859.7 218.4,860.2 218.6,860.6 218.8,861 219.1,861.4 219.3,861.9 219.6,862.3 219.8,862.7 220.1,863.1 220.3,863.5 220.5,863.9 220.8,864.3 221,864.7 221.3,865.1 221.5,865.5 221.8,865.9 222,866.3 222.3,866.7 222.5,867.1 222.7,867.5 223,867.9 223.2,868.3 223.5,868.7 223.7,869.1 224,869.4 224.2,869.8 224.4,870.2 224.7,870.6 224.9,870.9 225.2,871.3 225.4,871.7 225.7,872 225.9,872.4 226.1,872.7 226.4,873.1 226.6,873.4 226.9,873.8 227.1,874.1 227.4,874.5 227.6,874.8 227.9,875.1 228.1,875.5 228.3,875.8 228.6,876.1 228.8,876.5 229.1,876.8 229.3,877.1 229.6,877.4 229.8,877.7 230,878 230.3,878.4 230.5,878.7 230.8,879 231,879.3 231.3,879.6 231.5,879.8 231.8,880.1 232,880.4 232.2,880.7 232.5,881 232.7,881.3 233,881.5 233.2,881.8 233.5,882.1 233.7,882.3 233.9,882.6 234.2,882.9 234.4,883.1 234.7,883.4 234.9,883.6 235.2,883.8 235.4,884.1 235.7,884.3 235.9,884.6 236.1,884.8 236.4,885 236.6,885.2 236.9,885.5 237.1,885.7 237.4,885.9 237.6,886.1 237.8,886.3 238.1,886.5 238.3,886.7 238.6,886.9 238.8,887.1 239.1,887.3 239.3,887.4 239.5,887.6 239.8,887.8 240,888 240.3,888.1 240.5,888.3 240.8,888.5 241,888.6 241.3,888.8 241.5,888.9 241.7,889.1 242,889.2 242.2,889.3 242.5,889.5 242.7,889.6 243,889.7 243.2,889.9 243.4,890 243.7,890.1 243.9,890.2 244.2,890.3 244.4,890.4 244.7,890.5 244.9,890.6 245.2,890.7 245.4,890.8 245.6,890.9 245.9,891 246.1,891 246.4,891.1 246.6,891.2 246.9,891.2 247.1,891.3 247.3,891.4 247.6,891.4 247.8,891.5 248.1,891.5 248.3,891.5 248.6,891.6 248.8,891.6 249.1,891.6 249.3,891.7 249.5,891.7 249.8,891.7 250,891.7 250.3,891.7 250.5,891.7 250.8,891.7 251,891.7 251.2,891.7 251.5,891.7 251.7,891.7 252,891.6 252.2,891.6 252.5,891.6 252.7,891.6 253,891.5 253.2,891.5 253.4,891.4 253.7,891.4 253.9,891.3 254.2,891.3 254.4,891.2 254.7,891.1 254.9,891.1 255.1,891 255.4,890.9 255.6,890.8 255.9,890.7 256.1,890.6 256.4,890.5 256.6,890.4 256.8,890.3 257.1,890.2 257.3,890.1 257.6,890 257.8,889.9 258.1,889.8 258.3,889.6 258.6,889.5 258.8,889.4 259,889.2 259.3,889.1 259.5,888.9 259.8,888.8 260,888.6 260.3,888.4 260.5,888.3 260.7,888.1 261,887.9 261.2,887.8 261.5,887.6 261.7,887.4 262,887.2 262.2,887 262.5,886.8 262.7,886.6 262.9,886.4 263.2,886.2 263.4,886 263.7,885.7 263.9,885.5 264.2,885.3 264.4,885.1 264.6,884.8 264.9,884.6 265.1,884.3 265.4,884.1 265.6,883.8 265.9,883.6 266.1,883.3 266.4,883 266.6,882.8 266.8,882.5 267.1,882.2 267.3,882 267.6,881.7 267.8,881.4 268.1,881.1 268.3,880.8 268.5,880.5 268.8,880.2 269,879.9 269.3,879.6 269.5,879.3 269.8,878.9 270,878.6 270.2,878.3 270.5,878 270.7,877.6 271,877.3 271.2,876.9 271.5,876.6 271.7,876.2 272,875.9 272.2,875.5 272.4,875.2 272.7,874.8 272.9,874.4 273.2,874.1 273.4,873.7 273.7,873.3 273.9,872.9 274.1,872.5 274.4,872.1 274.6,871.8 274.9,871.4 275.1,871 275.4,870.5 275.6,870.1 275.9,869.7 276.1,869.3 276.3,868.9 276.6,868.5 276.8,868 277.1,867.6 277.3,867.2 277.6,866.7 277.8,866.3 278,865.9 278.3,865.4 278.5,865 278.8,864.5 279,864.1 279.3,863.6 279.5,863.1 279.8,862.7 280,862.2 280.2,861.7 280.5,861.2 280.7,860.8 281,860.3 281.2,859.8 281.5,859.3 281.7,858.8 281.9,858.3 282.2,857.8 282.4,857.3 282.7,856.8 282.9,856.3 283.2,855.8 283.4,855.3 283.7,854.8 283.9,854.2 284.1,853.7 284.4,853.2 284.6,852.7 284.9,852.1 285.1,851.6 285.4,851.1 285.6,850.5 285.8,850 286.1,849.4 286.3,848.9 286.6,848.3 286.8,847.8 287.1,847.2 287.3,846.7 287.5,846.1 287.8,845.5 288,845 288.3,844.4 288.5,843.8 288.8,843.3 289,842.7 289.3,842.1 289.5,841.5 289.7,840.9 290,840.4 290.2,839.8 290.5,839.2 290.7,838.6 291,838 291.2,837.4 291.4,836.8 291.7,836.2 291.9,835.6 292.2,835 292.4,834.4 292.7,833.8 292.9,833.2 293.2,832.5 293.4,831.9 293.6,831.3 293.9,830.7 294.1,830.1 294.4,829.4 294.6,828.8 294.9,828.2 295.1,827.6 295.3,826.9 295.6,826.3 295.8,825.7 296.1,825 296.3,824.4 296.6,823.8 296.8,823.1 297.1,822.5 297.3,821.8 297.5,821.2 297.8,820.5 298,819.9 298.3,819.3 298.5,818.6 298.8,817.9 299,817.3 299.2,816.6 299.5,816 299.7,815.3 300,814.7 300.2,814 300.5,813.4 300.7,812.7 300.9,812 301.2,811.4 301.4,810.7 301.7,810 301.9,809.4 302.2,808.7 302.4,808 302.7,807.4 302.9,806.7 303.1,806 303.4,805.4 303.6,804.7 303.9,804 304.1,803.4 304.4,802.7 304.6,802 304.8,801.3 305.1,800.7 305.3,800 305.6,799.3 305.8,798.6 306.1,798 306.3,797.3 306.6,796.6 306.8,795.9 307,795.2 307.3,794.6 307.5,793.9 307.8,793.2 308,792.5 308.3,791.9 308.5,791.2 308.7,790.5 309,789.8 309.2,789.1 309.5,788.5 309.7,787.8 310,787.1 310.2,786.4 310.5,785.8 310.7,785.1 310.9,784.4 311.2,783.7 311.4,783 311.7,782.4 311.9,781.7 312.2,781 312.4,780.3 312.6,779.7 312.9,779 313.1,778.3 313.4,777.6 313.6,777 313.9,776.3 314.1,775.6 314.4,775 314.6,774.3 314.8,773.6 315.1,773 315.3,772.3 315.6,771.6 315.8,771 316.1,770.3 316.3,769.6 316.5,769 316.8,768.3 317,767.7 317.3,767 317.5,766.3 317.8,765.7 318,765 318.2,764.4 318.5,763.7 318.7,763.1 319,762.4 319.2,761.8 319.5,761.1 319.7,760.5 320,759.8 320.2,759.2 320.4,758.6 320.7,757.9 320.9,757.3 321.2,756.6 321.4,756 321.7,755.4 321.9,754.7 322.1,754.1 322.4,753.5 322.6,752.9 322.9,752.2 323.1,751.6 323.4,751 323.6,750.4 323.9,749.8 324.1,749.2 324.3,748.5 324.6,747.9 324.8,747.3 325.1,746.7 325.3,746.1 325.6,745.5 325.8,744.9 326,744.3 326.3,743.7 326.5,743.2 326.8,742.6 327,742 327.3,741.4 327.5,740.8 327.8,740.3 328,739.7 328.2,739.1 328.5,738.5 328.7,738 329,737.4 329.2,736.9 329.5,736.3 329.7,735.7 329.9,735.2 330.2,734.6 330.4,734.1 330.7,733.6 330.9,733 331.2,732.5 331.4,732 331.6,731.4 331.9,730.9 332.1,730.4 332.4,729.9 332.6,729.4 332.9,728.8 333.1,728.3 333.4,727.8 333.6,727.3 333.8,726.8 334.1,726.3 334.3,725.9 334.6,725.4 334.8,724.9 335.1,724.4 335.3,723.9 335.5,723.5 335.8,723 336,722.5 336.3,722.1 336.5,721.6 336.8,721.2 337,720.7 337.3,720.3 337.5,719.8 337.7,719.4 338,719 338.2,718.5 338.5,718.1 338.7,717.7 339,717.3 339.2,716.9 339.4,716.5 339.7,716.1 339.9,715.7 340.2,715.3 340.4,714.9 340.7,714.5 340.9,714.1 341.2,713.8 341.4,713.4 341.6,713 341.9,712.7 342.1,712.3 342.4,712 342.6,711.6 342.9,711.3 343.1,710.9 343.3,710.6 343.6,710.3 343.8,709.9 344.1,709.6 344.3,709.3 344.6,709 344.8,708.7 345.1,708.4 345.3,708.1 345.5,707.8 345.8,707.5 346,707.2 346.3,706.9 346.5,706.7 346.8,706.4 347,706.1 347.2,705.9 347.5,705.6 347.7,705.4 348,705.1 348.2,704.9 348.5,704.6 348.7,704.4 348.9,704.2 349.2,704 349.4,703.7 349.7,703.5 349.9,703.3 350.2,703.1 350.4,702.9 350.7,702.7 350.9,702.5 351.1,702.4 351.4,702.2 351.6,702 351.9,701.8 352.1,701.7 352.4,701.5 352.6,701.4 352.8,701.2 353.1,701.1 353.3,700.9 353.6,700.8 353.8,700.7 354.1,700.5 354.3,700.4 354.6,700.3 354.8,700.2 355,700.1 355.3,700 355.5,699.9 355.8,699.8 356,699.7 356.3,699.6 356.5,699.5 356.7,699.4 357,699.4 357.2,699.3 357.5,699.2 357.7,699.2 358,699.1 358.2,699.1 358.5,699 358.7,699 358.9,699 359.2,698.9 359.4,698.9 359.7,698.9 359.9,698.9 360.2,698.9 360.4,698.9 360.6,698.9 360.9,698.9 361.1,698.9 361.4,698.9 361.6,698.9 361.9,698.9 362.1,698.9 362.3,699 362.6,699 362.8,699 363.1,699.1 363.3,699.1 363.6,699.2 363.8,699.2 364.1,699.3 364.3,699.3 364.5,699.4 364.8,699.5 365,699.6 365.3,699.6 365.5,699.7 365.8,699.8 366,699.9 366.2,700 366.5,700.1 366.7,700.2 367,700.3 367.2,700.4 367.5,700.6 367.7,700.7 368,700.8 368.2,700.9 368.4,701.1 368.7,701.2 368.9,701.4 369.2,701.5 369.4,701.7 369.7,701.8 369.9,702 370.1,702.1 370.4,702.3 370.6,702.5 370.9,702.6 371.1,702.8 371.4,703 371.6,703.2 371.9,703.4 372.1,703.6 372.3,703.8 372.6,704 372.8,704.2 373.1,704.4 373.3,704.6 373.6,704.8 373.8,705.1 374,705.3 374.3,705.5 374.5,705.7 374.8,706 375,706.2 375.3,706.5 375.5,706.7 375.7,707 376,707.2 376.2,707.5 376.5,707.7 376.7,708 377,708.3 377.2,708.6 377.5,708.8 377.7,709.1 377.9,709.4 378.2,709.7 378.4,710 378.7,710.3 378.9,710.6 379.2,710.9 379.4,711.2 379.6,711.5 379.9,711.8 380.1,712.1 380.4,712.5 380.6,712.8 380.9,713.1 381.1,713.4 381.4,713.8 381.6,714.1 381.8,714.4 382.1,714.8 382.3,715.1 382.6,715.5 382.8,715.8 383.1,716.2 383.3,716.6 383.5,716.9 383.8,717.3 384,717.7 384.3,718 384.5,718.4 384.8,718.8 385,719.2 385.3,719.6 385.5,720 385.7,720.4 386,720.7 386.2,721.1 386.5,721.6 386.7,722 387,722.4 387.2,722.8 387.4,723.2 387.7,723.6 387.9,724 388.2,724.5 388.4,724.9 388.7,725.3 388.9,725.7 389.2,726.2 389.4,726.6 389.6,727.1 389.9,727.5 390.1,728 390.4,728.4 390.6,728.9 390.9,729.3 391.1,729.8 391.3,730.2 391.6,730.7 391.8,731.2 392.1,731.6 392.3,732.1 392.6,732.6 392.8,733.1 393,733.5 393.3,734 393.5,734.5 393.8,735 394,735.5 394.3,736 394.5,736.5 394.8,737 395,737.5 395.2,738 395.5,738.5 395.7,739 396,739.5 396.2,740 396.5,740.5 396.7,741.1 396.9,741.6 397.2,742.1 397.4,742.6 397.7,743.2 397.9,743.7 398.2,744.2 398.4,744.7 398.7,745.3 398.9,745.8 399.1,746.4 399.4,746.9 399.6,747.5 399.9,748 400.1,748.6 400.4,749.1 400.6,749.7 400.8,750.2 401.1,750.8 401.3,751.3 401.6,751.9 401.8,752.5 402.1,753 402.3,753.6 402.6,754.2 402.8,754.7 403,755.3 403.3,755.9 403.5,756.5 403.8,757.1 404,757.6 404.3,758.2 404.5,758.8 404.7,759.4 405,760 405.2,760.6 405.5,761.2 405.7,761.8 406,762.4 406.2,763 406.4,763.6 406.7,764.2 406.9,764.8 407.2,765.4 407.4,766 407.7,766.6 407.9,767.2 408.2,767.8 408.4,768.4 408.6,769 408.9,769.7 409.1,770.3 409.4,770.9 409.6,771.5 409.9,772.1 410.1,772.8 410.3,773.4 410.6,774 410.8,774.6 411.1,775.3 411.3,775.9 411.6,776.5 411.8,777.2 412.1,777.8 412.3,778.4 412.5,779.1 412.8,779.7 413,780.3 413.3,781 413.5,781.6 413.8,782.2 414,782.9 414.2,783.5 414.5,784.2 414.7,784.8 415,785.5 415.2,786.1 415.5,786.8 415.7,787.4 416,788.1 416.2,788.7 416.4,789.4 416.7,790 416.9,790.7 417.2,791.3 417.4,792 417.7,792.6 417.9,793.3 418.1,794 418.4,794.6 418.6,795.3 418.9,795.9 419.1,796.6 419.4,797.3 419.6,797.9 419.9,798.6 420.1,799.2 420.3,799.9 420.6,800.6 420.8,801.2 421.1,801.9 421.3,802.6 421.6,803.2 421.8,803.9 422,804.5 422.3,805.2 422.5,805.9 422.8,806.5 423,807.2 423.3,807.9 423.5,808.5 423.7,809.2 424,809.9 424.2,810.5 424.5,811.2 424.7,811.9 425,812.6 425.2,813.2 425.5,813.9 425.7,814.6 425.9,815.2 426.2,815.9 426.4,816.6 426.7,817.2 426.9,817.9 427.2,818.6 427.4,819.2 427.6,819.9 427.9,820.6 428.1,821.2 428.4,821.9 428.6,822.6 428.9,823.2 429.1,823.9 429.4,824.6 429.6,825.2 429.8,825.9 430.1,826.6 430.3,827.2 430.6,827.9 430.8,828.5 431.1,829.2 431.3,829.9 431.5,830.5 431.8,831.2 432,831.9 432.3,832.5 432.5,833.2 432.8,833.8 433,834.5 433.3,835.1 433.5,835.8 433.7,836.5 434,837.1 434.2,837.8 434.5,838.4 434.7,839.1 435,839.7 435.2,840.4 435.4,841 435.7,841.7 435.9,842.3 436.2,843 436.4,843.6 436.7,844.2 436.9,844.9 437.1,845.5 437.4,846.2 437.6,846.8 437.9,847.4 438.1,848.1 438.4,848.7 438.6,849.4 438.9,850 439.1,850.6 439.3,851.3 439.6,851.9 439.8,852.5 440.1,853.1 440.3,853.8 440.6,854.4 440.8,855 441,855.6 441.3,856.2 441.5,856.9 441.8,857.5 442,858.1 442.3,858.7 442.5,859.3 442.8,859.9 443,860.5 443.2,861.1 443.5,861.7 443.7,862.3 444,862.9 444.2,863.5 444.5,864.1 444.7,864.7 444.9,865.3 445.2,865.9 445.4,866.5 445.7,867.1 445.9,867.7 446.2,868.3 446.4,868.8 446.7,869.4 446.9,870 447.1,870.6 447.4,871.1 447.6,871.7 447.9,872.3 448.1,872.8 448.4,873.4 448.6,874 448.8,874.5 449.1,875.1 449.3,875.6 449.6,876.2 449.8,876.7 450.1,877.3 450.3,877.8 450.6,878.3 450.8,878.9 451,879.4 451.3,879.9 451.5,880.5 451.8,881 452,881.5 452.3,882.1 452.5,882.6 452.7,883.1 453,883.6 453.2,884.1 453.5,884.6 453.7,885.1 454,885.6 454.2,886.1 454.4,886.6 454.7,887.1 454.9,887.6 455.2,888.1 455.4,888.6 455.7,889 455.9,889.5 456.2,890 456.4,890.5 456.6,890.9 456.9,891.4 457.1,891.8 457.4,892.3 457.6,892.8 457.9,893.2 458.1,893.7 458.3,894.1 458.6,894.5 458.8,895 459.1,895.4 459.3,895.8 459.6,896.3 459.8,896.7 460.1,897.1 460.3,897.5 460.5,897.9 460.8,898.3 461,898.7 461.3,899.1 461.5,899.5 461.8,899.9 462,900.3 462.2,900.7 462.5,901.1 462.7,901.4 463,901.8 463.2,902.2 463.5,902.5 463.7,902.9 464,903.2 464.2,903.6 464.4,903.9 464.7,904.3 464.9,904.6 465.2,904.9 465.4,905.3 465.7,905.6 465.9,905.9 466.1,906.2 466.4,906.5 466.6,906.8 466.9,907.2 467.1,907.4 467.4,907.7 467.6,908 467.8,908.3 468.1,908.6 468.3,908.9 468.6,909.1 468.8,909.4 469.1,909.7 469.3,909.9 469.6,910.2 469.8,910.4 470,910.6 470.3,910.9 470.5,911.1 470.8,911.3 471,911.6 471.3,911.8 471.5,912 471.7,912.2 472,912.4 472.2,912.6 472.5,912.8 472.7,912.9 473,913.1 473.2,913.3 473.5,913.5 473.7,913.6 473.9,913.8 474.2,913.9 474.4,914.1 474.7,914.2 474.9,914.4 475.2,914.5 475.4,914.6 475.6,914.7 475.9,914.9 476.1,915 476.4,915.1 476.6,915.2 476.9,915.3 477.1,915.4 477.4,915.4 477.6,915.5 477.8,915.6 478.1,915.7 478.3,915.7 478.6,915.8 478.8,915.8 479.1,915.9 479.3,915.9 479.5,915.9 479.8,916 480,916 480.3,916 480.5,916 480.8,916 481,916 481.3,916 481.5,916 481.7,916 482,916 482.2,915.9 482.5,915.9 482.7,915.9 483,915.8 483.2,915.8 483.4,915.7 483.7,915.6 483.9,915.6 484.2,915.5 484.4,915.4 484.7,915.3 484.9,915.3 485.1,915.2 485.4,915.1 485.6,915 485.9,914.8 486.1,914.7 486.4,914.6 486.6,914.5 486.9,914.3 487.1,914.2 487.3,914.1 487.6,913.9 487.8,913.8 488.1,913.6 488.3,913.4 488.6,913.3 488.8,913.1 489,912.9 489.3,912.7 489.5,912.5 489.8,912.3 490,912.1 490.3,911.9 490.5,911.7 490.8,911.5 491,911.3 491.2,911 491.5,910.8 491.7,910.6 492,910.3 492.2,910.1 492.5,909.8 492.7,909.6 492.9,909.3 493.2,909 493.4,908.8 493.7,908.5 493.9,908.2 494.2,907.9 494.4,907.6 494.7,907.3 494.9,907 495.1,906.7 495.4,906.4 495.6,906.1 495.9,905.7 496.1,905.4 496.4,905.1 496.6,904.8 496.8,904.4 497.1,904.1 497.3,903.7 497.6,903.4 497.8,903 498.1,902.6 498.3,902.3 498.5,901.9 498.8,901.5 499,901.1 499.3,900.8 499.5,900.4 499.8,900 500,899.6 500.3,899.2 500.5,898.8 500.7,898.4 501,898 501.2,897.5 501.5,897.1 501.7,896.7 502,896.3 502.2,895.8 502.4,895.4 502.7,895 502.9,894.5 503.2,894.1 503.4,893.6 503.7,893.2 503.9,892.7 504.2,892.2 504.4,891.8 504.6,891.3 504.9,890.8 505.1,890.4 505.4,889.9 505.6,889.4 505.9,888.9 506.1,888.5 506.3,888 506.6,887.5 506.8,887 507.1,886.5 507.3,886 507.6,885.5 507.8,885 508.1,884.5 508.3,884 508.5,883.4 508.8,882.9 509,882.4 509.3,881.9 509.5,881.4 509.8,880.9 510,880.3 510.2,879.8 510.5,879.3 510.7,878.7 511,878.2 511.2,877.7 511.5,877.1 511.7,876.6 512,876.1 512.2,875.5 512.4,875 512.7,874.4 512.9,873.9 513.2,873.3 513.4,872.8 513.7,872.2 513.9,871.7 514.1,871.1 514.4,870.6 514.6,870 514.9,869.5 515.1,868.9 515.4,868.4 515.6,867.8 515.8,867.3 516.1,866.7 516.3,866.2 516.6,865.6 516.8,865 517.1,864.5 517.3,863.9 517.6,863.4 517.8,862.8 518,862.2 518.3,861.7 518.5,861.1 518.8,860.6 519,860 519.3,859.4 519.5,858.9 519.7,858.3 520,857.8 520.2,857.2 520.5,856.6 520.7,856.1 521,855.5 521.2,855 521.5,854.4 521.7,853.8 521.9,853.3 522.2,852.7 522.4,852.2 522.7,851.6 522.9,851.1 523.2,850.5 523.4,850 523.6,849.4 523.9,848.9 524.1,848.3 524.4,847.8 524.6,847.2 524.9,846.7 525.1,846.1 525.4,845.6 525.6,845 525.8,844.5 526.1,843.9 526.3,843.4 526.6,842.9 526.8,842.3 527.1,841.8 527.3,841.3 527.5,840.7 527.8,840.2 528,839.7 528.3,839.1 528.5,838.6 528.8,838.1 529,837.6 529.2,837 529.5,836.5 529.7,836 530,835.5 530.2,835 530.5,834.4 530.7,833.9 531,833.4 531.2,832.9 531.4,832.4 531.7,831.9 531.9,831.4 532.2,830.9 532.4,830.4 532.7,829.9 532.9,829.4 533.1,828.9 533.4,828.4 533.6,827.9 533.9,827.4 534.1,826.9 534.4,826.4 534.6,826 534.9,825.5 535.1,825 535.3,824.5 535.6,824.1 535.8,823.6 536.1,823.1 536.3,822.6 536.6,822.2 536.8,821.7 537,821.3 537.3,820.8 537.5,820.3 537.8,819.9 538,819.4 538.3,819 538.5,818.5 538.8,818.1 539,817.6 539.2,817.2 539.5,816.8 539.7,816.3 540,815.9 540.2,815.5 540.5,815 540.7,814.6 540.9,814.2 541.2,813.8 541.4,813.3 541.7,812.9 541.9,812.5 542.2,812.1 542.4,811.7 542.7,811.3 542.9,810.9 543.1,810.5 543.4,810.1 543.6,809.7 543.9,809.3 544.1,808.9 544.4,808.5 544.6,808.1 544.8,807.7 545.1,807.4 545.3,807 545.6,806.6 545.8,806.2 546.1,805.9 546.3,805.5 546.5,805.1 546.8,804.8 547,804.4 547.3,804 547.5,803.7 547.8,803.3 548,803 548.3,802.6 548.5,802.3 548.7,801.9 549,801.6 549.2,801.3 549.5,800.9 549.7,800.6 550,800.3 550.2,799.9 550.4,799.6 550.7,799.3 550.9,799 551.2,798.7 551.4,798.3 551.7,798 551.9,797.7 552.2,797.4 552.4,797.1 552.6,796.8 552.9,796.5 553.1,796.2 553.4,795.9 553.6,795.6 553.9,795.3 554.1,795.1 554.3,794.8 554.6,794.5 554.8,794.2 555.1,793.9 555.3,793.7 555.6,793.4 555.8,793.1 556.1,792.9 556.3,792.6 556.5,792.4 556.8,792.1 557,791.8 557.3,791.6 557.5,791.3 557.8,791.1 558,790.8 558.2,790.6 558.5,790.4 558.7,790.1 559,789.9 559.2,789.7 559.5,789.4 559.7,789.2 559.9,789 560.2,788.8 560.4,788.5 560.7,788.3 560.9,788.1 561.2,787.9 561.4,787.7 561.7,787.5 561.9,787.3 562.1,787.1 562.4,786.9 562.6,786.7 562.9,786.5 563.1,786.3 563.4,786.1 563.6,785.9 563.8,785.7 564.1,785.6 564.3,785.4 564.6,785.2 564.8,785 565.1,784.8 565.3,784.7 565.6,784.5 565.8,784.3 566,784.2 566.3,784 566.5,783.9 566.8,783.7 567,783.5 567.3,783.4 567.5,783.2 567.7,783.1 568,782.9 568.2,782.8 568.5,782.7 568.7,782.5 569,782.4 569.2,782.2 569.5,782.1 569.7,782 569.9,781.8 570.2,781.7 570.4,781.6 570.7,781.5 570.9,781.3 571.2,781.2 571.4,781.1 571.6,781 571.9,780.9 572.1,780.8 572.4,780.7 572.6,780.5 572.9,780.4 573.1,780.3 573.4,780.2 573.6,780.1 573.8,780 574.1,779.9 574.3,779.8 574.6,779.7 574.8,779.6 575.1,779.6 575.3,779.5 575.5,779.4 575.8,779.3 576,779.2 576.3,779.1 576.5,779 576.8,779 577,778.9 577.2,778.8 577.5,778.7 577.7,778.6 578,778.6 578.2,778.5 578.5,778.4 578.7,778.4 579,778.3 579.2,778.2 579.4,778.2 579.7,778.1 579.9,778 580.2,778 580.4,777.9 580.7,777.8 580.9,777.8 581.1,777.7 581.4,777.7 581.6,777.6 581.9,777.6 582.1,777.5 582.4,777.5 582.6,777.4 582.9,777.4 583.1,777.3 583.3,777.3 583.6,777.2 583.8,777.2 584.1,777.1 584.3,777.1 584.6,777 584.8,777 585,776.9 585.3,776.9 585.5,776.8 585.8,776.8 586,776.8 586.3,776.7 586.5,776.7 586.8,776.6 587,776.6 587.2,776.6 587.5,776.5 587.7,776.5 588,776.4 588.2,776.4 588.5,776.4 588.7,776.3"/></defs>
<use href="#dIMF7" class="r"/><use href="#dIMF7" class="b"/>
</g>
<g>
<path d="M884.3 682.2V923.3M1009.1 682.2V923.3M1134.0 682.2V923.3M759.5 863.0H1258.8M759.5 802.8H1258.8M759.5 742.5H1258.8" stroke="#e6e6e6" stroke-width="1.6" fill="none"/>
<path d="M759.5 682.2H1258.8V923.3H759.5ZM884.3 923.3v-5 M884.3 682.2v5M1009.1 923.3v-5 M1009.1 682.2v5M1134.0 923.3v-5 M1134.0 682.2v5M759.5 863.0h5 M1258.8 863.0h-5M759.5 802.8h5 M1258.8 802.8h-5M759.5 742.5h5 M1258.8 742.5h-5" stroke="#222222" stroke-width="1.25" fill="none"/>
<text class="t" x="759.8" y="958.0" text-anchor="middle">0</text>
<text class="t" x="884.6" y="958.0" text-anchor="middle">500</text>
<text class="t" x="1009.4" y="958.0" text-anchor="middle">1000</text>
<text class="t" x="1134.3" y="958.0" text-anchor="middle">1500</text>
<text class="t" x="1259.1" y="958.0" text-anchor="middle">2000</text>
<text class="t" x="749.8" y="932.9" text-anchor="end">-4</text>
<text class="t" x="749.8" y="872.6" text-anchor="end">-2</text>
<text class="t" x="749.8" y="812.3" text-anchor="end">0</text>
<text class="t" x="749.8" y="752.0" text-anchor="end">2</text>
<text class="t" x="749.8" y="691.8" text-anchor="end">4</text>
<text class="l" transform="translate(714.1 802.2) rotate(-90) scale(.95 1.04)" text-anchor="middle">IMF8</text>
<text class="l" x="1008.6" y="1001.6" text-anchor="middle">time (h)</text>
<defs><polyline id="dIMF8" points="759.7,709.3 760,709.5 760.2,709.6 760.5,709.8 760.7,709.9 761,710.1 761.2,710.2 761.5,710.4 761.7,710.5 762,710.7 762.2,710.8 762.5,711 762.7,711.1 763,711.3 763.2,711.4 763.5,711.6 763.7,711.8 764,711.9 764.2,712.1 764.5,712.2 764.7,712.4 765,712.5 765.2,712.7 765.5,712.8 765.7,713 766,713.2 766.2,713.3 766.5,713.5 766.7,713.6 767,713.8 767.2,714 767.5,714.1 767.7,714.3 768,714.4 768.2,714.6 768.5,714.8 768.7,714.9 769,715.1 769.2,715.2 769.5,715.4 769.7,715.6 770,715.7 770.2,715.9 770.5,716.1 770.7,716.2 771,716.4 771.2,716.5 771.5,716.7 771.7,716.9 772,717 772.2,717.2 772.5,717.4 772.7,717.5 773,717.7 773.2,717.9 773.5,718 773.7,718.2 774,718.4 774.2,718.5 774.5,718.7 774.7,718.9 775,719 775.2,719.2 775.5,719.4 775.7,719.5 776,719.7 776.2,719.9 776.5,720.1 776.7,720.2 777,720.4 777.2,720.6 777.5,720.7 777.7,720.9 778,721.1 778.2,721.2 778.5,721.4 778.7,721.6 779,721.8 779.2,721.9 779.5,722.1 779.7,722.3 780,722.5 780.2,722.6 780.5,722.8 780.7,723 781,723.2 781.2,723.3 781.5,723.5 781.7,723.7 782,723.9 782.2,724 782.5,724.2 782.7,724.4 783,724.6 783.2,724.7 783.5,724.9 783.7,725.1 784,725.3 784.2,725.4 784.5,725.6 784.7,725.8 785,726 785.2,726.1 785.5,726.3 785.7,726.5 786,726.7 786.2,726.9 786.5,727 786.7,727.2 787,727.4 787.2,727.6 787.5,727.8 787.7,727.9 788,728.1 788.2,728.3 788.5,728.5 788.7,728.7 789,728.8 789.2,729 789.5,729.2 789.7,729.4 790,729.6 790.2,729.8 790.5,729.9 790.7,730.1 791,730.3 791.2,730.5 791.5,730.7 791.7,730.8 792,731 792.2,731.2 792.5,731.4 792.7,731.6 793,731.8 793.2,731.9 793.5,732.1 793.7,732.3 794,732.5 794.2,732.7 794.5,732.9 794.7,733.1 795,733.2 795.2,733.4 795.4,733.6 795.7,733.8 795.9,734 796.2,734.2 796.4,734.4 796.7,734.5 796.9,734.7 797.2,734.9 797.4,735.1 797.7,735.3 797.9,735.5 798.2,735.7 798.4,735.9 798.7,736 798.9,736.2 799.2,736.4 799.4,736.6 799.7,736.8 799.9,737 800.2,737.2 800.4,737.4 800.7,737.5 800.9,737.7 801.2,737.9 801.4,738.1 801.7,738.3 801.9,738.5 802.2,738.7 802.4,738.9 802.7,739.1 802.9,739.2 803.2,739.4 803.4,739.6 803.7,739.8 803.9,740 804.2,740.2 804.4,740.4 804.7,740.6 804.9,740.8 805.2,741 805.4,741.2 805.7,741.3 805.9,741.5 806.2,741.7 806.4,741.9 806.7,742.1 806.9,742.3 807.2,742.5 807.4,742.7 807.7,742.9 807.9,743.1 808.2,743.3 808.4,743.5 808.7,743.6 808.9,743.8 809.2,744 809.4,744.2 809.7,744.4 809.9,744.6 810.2,744.8 810.4,745 810.7,745.2 810.9,745.4 811.2,745.6 811.4,745.8 811.7,746 811.9,746.2 812.2,746.4 812.4,746.6 812.7,746.7 812.9,746.9 813.2,747.1 813.4,747.3 813.7,747.5 813.9,747.7 814.2,747.9 814.4,748.1 814.7,748.3 814.9,748.5 815.2,748.7 815.4,748.9 815.7,749.1 815.9,749.3 816.2,749.5 816.4,749.7 816.7,749.9 816.9,750.1 817.2,750.3 817.4,750.5 817.7,750.6 817.9,750.8 818.2,751 818.4,751.2 818.7,751.4 818.9,751.6 819.2,751.8 819.4,752 819.7,752.2 819.9,752.4 820.2,752.6 820.4,752.8 820.7,753 820.9,753.2 821.2,753.4 821.4,753.6 821.7,753.8 821.9,754 822.2,754.2 822.4,754.4 822.7,754.6 822.9,754.8 823.2,755 823.4,755.2 823.7,755.4 823.9,755.6 824.2,755.8 824.4,756 824.7,756.2 824.9,756.4 825.2,756.6 825.4,756.8 825.7,757 825.9,757.2 826.2,757.4 826.4,757.6 826.7,757.8 826.9,757.9 827.2,758.1 827.4,758.3 827.7,758.5 827.9,758.7 828.2,758.9 828.4,759.1 828.7,759.3 828.9,759.5 829.2,759.7 829.4,759.9 829.7,760.1 829.9,760.3 830.2,760.5 830.4,760.7 830.7,760.9 830.9,761.1 831.1,761.3 831.4,761.5 831.6,761.7 831.9,761.9 832.1,762.1 832.4,762.3 832.6,762.5 832.9,762.7 833.1,762.9 833.4,763.1 833.6,763.3 833.9,763.5 834.1,763.7 834.4,763.9 834.6,764.1 834.9,764.3 835.1,764.5 835.4,764.7 835.6,764.9 835.9,765.1 836.1,765.3 836.4,765.5 836.6,765.7 836.9,765.9 837.1,766.1 837.4,766.3 837.6,766.5 837.9,766.7 838.1,766.9 838.4,767.1 838.6,767.3 838.9,767.5 839.1,767.7 839.4,767.9 839.6,768.1 839.9,768.3 840.1,768.5 840.4,768.7 840.6,768.9 840.9,769.1 841.1,769.3 841.4,769.5 841.6,769.7 841.9,769.9 842.1,770.1 842.4,770.3 842.6,770.5 842.9,770.7 843.1,770.9 843.4,771.1 843.6,771.3 843.9,771.5 844.1,771.7 844.4,771.9 844.6,772.1 844.9,772.3 845.1,772.5 845.4,772.7 845.6,772.9 845.9,773.1 846.1,773.3 846.4,773.5 846.6,773.7 846.9,773.9 847.1,774.1 847.4,774.4 847.6,774.6 847.9,774.8 848.1,775 848.4,775.2 848.6,775.4 848.9,775.6 849.1,775.8 849.4,776 849.6,776.2 849.9,776.4 850.1,776.6 850.4,776.8 850.6,777 850.9,777.2 851.1,777.4 851.4,777.6 851.6,777.8 851.9,778 852.1,778.2 852.4,778.4 852.6,778.6 852.9,778.8 853.1,779 853.4,779.2 853.6,779.4 853.9,779.6 854.1,779.8 854.4,780 854.6,780.2 854.9,780.4 855.1,780.6 855.4,780.8 855.6,781 855.9,781.2 856.1,781.4 856.4,781.6 856.6,781.8 856.9,782 857.1,782.2 857.4,782.4 857.6,782.6 857.9,782.8 858.1,783 858.4,783.2 858.6,783.4 858.9,783.6 859.1,783.8 859.4,784 859.6,784.2 859.9,784.4 860.1,784.6 860.4,784.8 860.6,785 860.9,785.2 861.1,785.4 861.4,785.6 861.6,785.8 861.9,786 862.1,786.2 862.4,786.4 862.6,786.6 862.9,786.8 863.1,787 863.4,787.2 863.6,787.4 863.9,787.6 864.1,787.8 864.4,788 864.6,788.2 864.9,788.4 865.1,788.6 865.4,788.8 865.6,789 865.9,789.2 866.1,789.4 866.4,789.6 866.6,789.8 866.8,790 867.1,790.2 867.3,790.4 867.6,790.6 867.8,790.8 868.1,791 868.3,791.2 868.6,791.4 868.8,791.6 869.1,791.8 869.3,792 869.6,792.2 869.8,792.4 870.1,792.6 870.3,792.8 870.6,793 870.8,793.2 871.1,793.4 871.3,793.6 871.6,793.8 871.8,794 872.1,794.2 872.3,794.4 872.6,794.6 872.8,794.8 873.1,795 873.3,795.2 873.6,795.4 873.8,795.6 874.1,795.8 874.3,796 874.6,796.2 874.8,796.4 875.1,796.6 875.3,796.8 875.6,797 875.8,797.2 876.1,797.4 876.3,797.6 876.6,797.8 876.8,798 877.1,798.2 877.3,798.4 877.6,798.6 877.8,798.8 878.1,799 878.3,799.2 878.6,799.4 878.8,799.6 879.1,799.8 879.3,800 879.6,800.2 879.8,800.4 880.1,800.6 880.3,800.8 880.6,801 880.8,801.2 881.1,801.4 881.3,801.6 881.6,801.8 881.8,802 882.1,802.2 882.3,802.4 882.6,802.6 882.8,802.8 883.1,803 883.3,803.2 883.6,803.4 883.8,803.6 884.1,803.8 884.3,803.9 884.6,804.1 884.8,804.3 885.1,804.5 885.3,804.7 885.6,804.9 885.8,805.1 886.1,805.3 886.3,805.5 886.6,805.7 886.8,805.9 887.1,806.1 887.3,806.3 887.6,806.5 887.8,806.7 888.1,806.9 888.3,807.1 888.6,807.3 888.8,807.5 889.1,807.7 889.3,807.9 889.6,808.1 889.8,808.3 890.1,808.5 890.3,808.7 890.6,808.9 890.8,809.1 891.1,809.3 891.3,809.5 891.6,809.7 891.8,809.8 892.1,810 892.3,810.2 892.6,810.4 892.8,810.6 893.1,810.8 893.3,811 893.6,811.2 893.8,811.4 894.1,811.6 894.3,811.8 894.6,812 894.8,812.2 895.1,812.4 895.3,812.6 895.6,812.8 895.8,813 896.1,813.2 896.3,813.4 896.6,813.6 896.8,813.7 897.1,813.9 897.3,814.1 897.6,814.3 897.8,814.5 898.1,814.7 898.3,814.9 898.6,815.1 898.8,815.3 899.1,815.5 899.3,815.7 899.6,815.9 899.8,816.1 900.1,816.3 900.3,816.5 900.6,816.7 900.8,816.8 901.1,817 901.3,817.2 901.6,817.4 901.8,817.6 902.1,817.8 902.3,818 902.5,818.2 902.8,818.4 903,818.6 903.3,818.8 903.5,819 903.8,819.2 904,819.4 904.3,819.5 904.5,819.7 904.8,819.9 905,820.1 905.3,820.3 905.5,820.5 905.8,820.7 906,820.9 906.3,821.1 906.5,821.3 906.8,821.5 907,821.7 907.3,821.8 907.5,822 907.8,822.2 908,822.4 908.3,822.6 908.5,822.8 908.8,823 909,823.2 909.3,823.4 909.5,823.6 909.8,823.7 910,823.9 910.3,824.1 910.5,824.3 910.8,824.5 911,824.7 911.3,824.9 911.5,825.1 911.8,825.3 912,825.5 912.3,825.6 912.5,825.8 912.8,826 913,826.2 913.3,826.4 913.5,826.6 913.8,826.8 914,827 914.3,827.2 914.5,827.3 914.8,827.5 915,827.7 915.3,827.9 915.5,828.1 915.8,828.3 916,828.5 916.3,828.7 916.5,828.8 916.8,829 917,829.2 917.3,829.4 917.5,829.6 917.8,829.8 918,830 918.3,830.1 918.5,830.3 918.8,830.5 919,830.7 919.3,830.9 919.5,831.1 919.8,831.3 920,831.5 920.3,831.6 920.5,831.8 920.8,832 921,832.2 921.3,832.4 921.5,832.6 921.8,832.7 922,832.9 922.3,833.1 922.5,833.3 922.8,833.5 923,833.7 923.3,833.9 923.5,834 923.8,834.2 924,834.4 924.3,834.6 924.5,834.8 924.8,835 925,835.1 925.3,835.3 925.5,835.5 925.8,835.7 926,835.9 926.3,836.1 926.5,836.2 926.8,836.4 927,836.6 927.3,836.8 927.5,837 927.8,837.2 928,837.3 928.3,837.5 928.5,837.7 928.8,837.9 929,838.1 929.3,838.2 929.5,838.4 929.8,838.6 930,838.8 930.3,839 930.5,839.1 930.8,839.3 931,839.5 931.3,839.7 931.5,839.9 931.8,840 932,840.2 932.3,840.4 932.5,840.6 932.8,840.8 933,840.9 933.3,841.1 933.5,841.3 933.8,841.5 934,841.7 934.3,841.8 934.5,842 934.8,842.2 935,842.4 935.3,842.6 935.5,842.7 935.8,842.9 936,843.1 936.3,843.3 936.5,843.4 936.8,843.6 937,843.8 937.3,844 937.5,844.1 937.8,844.3 938,844.5 938.2,844.7 938.5,844.8 938.7,845 939,845.2 939.2,845.4 939.5,845.6 939.7,845.7 940,845.9 940.2,846.1 940.5,846.3 940.7,846.4 941,846.6 941.2,846.8 941.5,846.9 941.7,847.1 942,847.3 942.2,847.5 942.5,847.6 942.7,847.8 943,848 943.2,848.2 943.5,848.3 943.7,848.5 944,848.7 944.2,848.9 944.5,849 944.7,849.2 945,849.4 945.2,849.5 945.5,849.7 945.7,849.9 946,850.1 946.2,850.2 946.5,850.4 946.7,850.6 947,850.7 947.2,850.9 947.5,851.1 947.7,851.2 948,851.4 948.2,851.6 948.5,851.8 948.7,851.9 949,852.1 949.2,852.3 949.5,852.4 949.7,852.6 950,852.8 950.2,852.9 950.5,853.1 950.7,853.3 951,853.4 951.2,853.6 951.5,853.8 951.7,853.9 952,854.1 952.2,854.3 952.5,854.4 952.7,854.6 953,854.8 953.2,854.9 953.5,855.1 953.7,855.3 954,855.4 954.2,855.6 954.5,855.8 954.7,855.9 955,856.1 955.2,856.3 955.5,856.4 955.7,856.6 956,856.8 956.2,856.9 956.5,857.1 956.7,857.2 957,857.4 957.2,857.6 957.5,857.7 957.7,857.9 958,858.1 958.2,858.2 958.5,858.4 958.7,858.5 959,858.7 959.2,858.9 959.5,859 959.7,859.2 960,859.3 960.2,859.5 960.5,859.7 960.7,859.8 961,860 961.2,860.1 961.5,860.3 961.7,860.5 962,860.6 962.2,860.8 962.5,860.9 962.7,861.1 963,861.3 963.2,861.4 963.5,861.6 963.7,861.7 964,861.9 964.2,862 964.5,862.2 964.7,862.4 965,862.5 965.2,862.7 965.5,862.8 965.7,863 966,863.1 966.2,863.3 966.5,863.5 966.7,863.6 967,863.8 967.2,863.9 967.5,864.1 967.7,864.2 968,864.4 968.2,864.5 968.5,864.7 968.7,864.8 969,865 969.2,865.1 969.5,865.3 969.7,865.4 970,865.6 970.2,865.7 970.5,865.9 970.7,866.1 971,866.2 971.2,866.4 971.5,866.5 971.7,866.7 972,866.8 972.2,867 972.5,867.1 972.7,867.3 973,867.4 973.2,867.6 973.5,867.7 973.7,867.8 973.9,868 974.2,868.1 974.4,868.3 974.7,868.4 974.9,868.6 975.2,868.7 975.4,868.9 975.7,869 975.9,869.2 976.2,869.3 976.4,869.5 976.7,869.6 976.9,869.8 977.2,869.9 977.4,870 977.7,870.2 977.9,870.3 978.2,870.5 978.4,870.6 978.7,870.8 978.9,870.9 979.2,871 979.4,871.2 979.7,871.3 979.9,871.5 980.2,871.6 980.4,871.8 980.7,871.9 980.9,872 981.2,872.2 981.4,872.3 981.7,872.5 981.9,872.6 982.2,872.7 982.4,872.9 982.7,873 982.9,873.2 983.2,873.3 983.4,873.4 983.7,873.6 983.9,873.7 984.2,873.8 984.4,874 984.7,874.1 984.9,874.3 985.2,874.4 985.4,874.5 985.7,874.7 985.9,874.8 986.2,874.9 986.4,875.1 986.7,875.2 986.9,875.3 987.2,875.5 987.4,875.6 987.7,875.7 987.9,875.9 988.2,876 988.4,876.1 988.7,876.3 988.9,876.4 989.2,876.5 989.4,876.7 989.7,876.8 989.9,876.9 990.2,877.1 990.4,877.2 990.7,877.3 990.9,877.5 991.2,877.6 991.4,877.7 991.7,877.8 991.9,878 992.2,878.1 992.4,878.2 992.7,878.4 992.9,878.5 993.2,878.6 993.4,878.7 993.7,878.9 993.9,879 994.2,879.1 994.4,879.2 994.7,879.4 994.9,879.5 995.2,879.6 995.4,879.7 995.7,879.9 995.9,880 996.2,880.1 996.4,880.2 996.7,880.4 996.9,880.5 997.2,880.6 997.4,880.7 997.7,880.8 997.9,881 998.2,881.1 998.4,881.2 998.7,881.3 998.9,881.4 999.2,881.6 999.4,881.7 999.7,881.8 999.9,881.9 1000.2,882 1000.4,882.2 1000.7,882.3 1000.9,882.4 1001.2,882.5 1001.4,882.6 1001.7,882.7 1001.9,882.9 1002.2,883 1002.4,883.1 1002.7,883.2 1002.9,883.3 1003.2,883.4 1003.4,883.5 1003.7,883.7 1003.9,883.8 1004.2,883.9 1004.4,884 1004.7,884.1 1004.9,884.2 1005.2,884.3 1005.4,884.4 1005.7,884.6 1005.9,884.7 1006.2,884.8 1006.4,884.9 1006.7,885 1006.9,885.1 1007.2,885.2 1007.4,885.3 1007.7,885.4 1007.9,885.5 1008.2,885.6 1008.4,885.8 1008.7,885.9 1008.9,886 1009.1,886.1 1009.4,886.2 1009.6,886.3 1009.9,886.4 1010.1,886.5 1010.4,886.6 1010.6,886.7 1010.9,886.8 1011.1,886.9 1011.4,887 1011.6,887.1 1011.9,887.2 1012.1,887.3 1012.4,887.4 1012.6,887.5 1012.9,887.6 1013.1,887.7 1013.4,887.8 1013.6,887.9 1013.9,888 1014.1,888.1 1014.4,888.2 1014.6,888.3 1014.9,888.4 1015.1,888.5 1015.4,888.6 1015.6,888.7 1015.9,888.8 1016.1,888.9 1016.4,889 1016.6,889.1 1016.9,889.2 1017.1,889.3 1017.4,889.4 1017.6,889.5 1017.9,889.5 1018.1,889.6 1018.4,889.7 1018.6,889.8 1018.9,889.9 1019.1,890 1019.4,890.1 1019.6,890.2 1019.9,890.3 1020.1,890.4 1020.4,890.5 1020.6,890.5 1020.9,890.6 1021.1,890.7 1021.4,890.8 1021.6,890.9 1021.9,891 1022.1,891.1 1022.4,891.2 1022.6,891.2 1022.9,891.3 1023.1,891.4 1023.4,891.5 1023.6,891.6 1023.9,891.7 1024.1,891.7 1024.4,891.8 1024.6,891.9 1024.9,892 1025.1,892.1 1025.4,892.2 1025.6,892.2 1025.9,892.3 1026.1,892.4 1026.4,892.5 1026.6,892.6 1026.9,892.6 1027.1,892.7 1027.4,892.8 1027.6,892.9 1027.9,892.9 1028.1,893 1028.4,893.1 1028.6,893.2 1028.9,893.2 1029.1,893.3 1029.4,893.4 1029.6,893.5 1029.9,893.5 1030.1,893.6 1030.4,893.7 1030.6,893.8 1030.9,893.8 1031.1,893.9 1031.4,894 1031.6,894 1031.9,894.1 1032.1,894.2 1032.4,894.3 1032.6,894.3 1032.9,894.4 1033.1,894.5 1033.4,894.5 1033.6,894.6 1033.9,894.7 1034.1,894.7 1034.4,894.8 1034.6,894.9 1034.9,894.9 1035.1,895 1035.4,895.1 1035.6,895.1 1035.9,895.2 1036.1,895.2 1036.4,895.3 1036.6,895.4 1036.9,895.4 1037.1,895.5 1037.4,895.5 1037.6,895.6 1037.9,895.7 1038.1,895.7 1038.4,895.8 1038.6,895.8 1038.9,895.9 1039.1,896 1039.4,896 1039.6,896.1 1039.9,896.1 1040.1,896.2 1040.4,896.2 1040.6,896.3 1040.9,896.3 1041.1,896.4 1041.4,896.5 1041.6,896.5 1041.9,896.6 1042.1,896.6 1042.4,896.7 1042.6,896.7 1042.9,896.8 1043.1,896.8 1043.4,896.9 1043.6,896.9 1043.9,897 1044.1,897 1044.4,897.1 1044.6,897.1 1044.8,897.1 1045.1,897.2 1045.3,897.2 1045.6,897.3 1045.8,897.3 1046.1,897.4 1046.3,897.4 1046.6,897.5 1046.8,897.5 1047.1,897.5 1047.3,897.6 1047.6,897.6 1047.8,897.7 1048.1,897.7 1048.3,897.8 1048.6,897.8 1048.8,897.8 1049.1,897.9 1049.3,897.9 1049.6,897.9 1049.8,898 1050.1,898 1050.3,898.1 1050.6,898.1 1050.8,898.1 1051.1,898.2 1051.3,898.2 1051.6,898.2 1051.8,898.3 1052.1,898.3 1052.3,898.3 1052.6,898.4 1052.8,898.4 1053.1,898.4 1053.3,898.4 1053.6,898.5 1053.8,898.5 1054.1,898.5 1054.3,898.6 1054.6,898.6 1054.8,898.6 1055.1,898.6 1055.3,898.7 1055.6,898.7 1055.8,898.7 1056.1,898.7 1056.3,898.8 1056.6,898.8 1056.8,898.8 1057.1,898.8 1057.3,898.9 1057.6,898.9 1057.8,898.9 1058.1,898.9 1058.3,898.9 1058.6,899 1058.8,899 1059.1,899 1059.3,899 1059.6,899 1059.8,899 1060.1,899.1 1060.3,899.1 1060.6,899.1 1060.8,899.1 1061.1,899.1 1061.3,899.1 1061.6,899.1 1061.8,899.2 1062.1,899.2 1062.3,899.2 1062.6,899.2 1062.8,899.2 1063.1,899.2 1063.3,899.2 1063.6,899.2 1063.8,899.2 1064.1,899.2 1064.3,899.3 1064.6,899.3 1064.8,899.3 1065.1,899.3 1065.3,899.3 1065.6,899.3 1065.8,899.3 1066.1,899.3 1066.3,899.3 1066.6,899.3 1066.8,899.3 1067.1,899.3 1067.3,899.3 1067.6,899.3 1067.8,899.3 1068.1,899.3 1068.3,899.3 1068.6,899.3 1068.8,899.3 1069.1,899.3 1069.3,899.3 1069.6,899.3 1069.8,899.3 1070.1,899.3 1070.3,899.3 1070.6,899.3 1070.8,899.3 1071.1,899.2 1071.3,899.2 1071.6,899.2 1071.8,899.2 1072.1,899.2 1072.3,899.2 1072.6,899.2 1072.8,899.2 1073.1,899.2 1073.3,899.2 1073.6,899.1 1073.8,899.1 1074.1,899.1 1074.3,899.1 1074.6,899.1 1074.8,899.1 1075.1,899.1 1075.3,899 1075.6,899 1075.8,899 1076.1,899 1076.3,899 1076.6,898.9 1076.8,898.9 1077.1,898.9 1077.3,898.9 1077.6,898.9 1077.8,898.8 1078.1,898.8 1078.3,898.8 1078.6,898.8 1078.8,898.7 1079.1,898.7 1079.3,898.7 1079.6,898.7 1079.8,898.6 1080.1,898.6 1080.3,898.6 1080.5,898.6 1080.8,898.5 1081,898.5 1081.3,898.5 1081.5,898.4 1081.8,898.4 1082,898.4 1082.3,898.3 1082.5,898.3 1082.8,898.3 1083,898.2 1083.3,898.2 1083.5,898.2 1083.8,898.1 1084,898.1 1084.3,898.1 1084.5,898 1084.8,898 1085,897.9 1085.3,897.9 1085.5,897.9 1085.8,897.8 1086,897.8 1086.3,897.7 1086.5,897.7 1086.8,897.6 1087,897.6 1087.3,897.6 1087.5,897.5 1087.8,897.5 1088,897.4 1088.3,897.4 1088.5,897.3 1088.8,897.3 1089,897.2 1089.3,897.2 1089.5,897.1 1089.8,897.1 1090,897 1090.3,897 1090.5,896.9 1090.8,896.9 1091,896.8 1091.3,896.8 1091.5,896.7 1091.8,896.7 1092,896.6 1092.3,896.6 1092.5,896.5 1092.8,896.4 1093,896.4 1093.3,896.3 1093.5,896.3 1093.8,896.2 1094,896.1 1094.3,896.1 1094.5,896 1094.8,896 1095,895.9 1095.3,895.8 1095.5,895.8 1095.8,895.7 1096,895.6 1096.3,895.6 1096.5,895.5 1096.8,895.4 1097,895.4 1097.3,895.3 1097.5,895.2 1097.8,895.2 1098,895.1 1098.3,895 1098.5,895 1098.8,894.9 1099,894.8 1099.3,894.7 1099.5,894.7 1099.8,894.6 1100,894.5 1100.3,894.4 1100.5,894.4 1100.8,894.3 1101,894.2 1101.3,894.1 1101.5,894.1 1101.8,894 1102,893.9 1102.3,893.8 1102.5,893.7 1102.8,893.7 1103,893.6 1103.3,893.5 1103.5,893.4 1103.8,893.3 1104,893.2 1104.3,893.2 1104.5,893.1 1104.8,893 1105,892.9 1105.3,892.8 1105.5,892.7 1105.8,892.6 1106,892.5 1106.3,892.5 1106.5,892.4 1106.8,892.3 1107,892.2 1107.3,892.1 1107.5,892 1107.8,891.9 1108,891.8 1108.3,891.7 1108.5,891.6 1108.8,891.5 1109,891.4 1109.3,891.3 1109.5,891.2 1109.8,891.1 1110,891 1110.3,890.9 1110.5,890.8 1110.8,890.7 1111,890.6 1111.3,890.5 1111.5,890.4 1111.8,890.3 1112,890.2 1112.3,890.1 1112.5,890 1112.8,889.9 1113,889.8 1113.3,889.7 1113.5,889.6 1113.8,889.5 1114,889.4 1114.3,889.3 1114.5,889.2 1114.8,889 1115,888.9 1115.3,888.8 1115.5,888.7 1115.8,888.6 1116,888.5 1116.2,888.4 1116.5,888.3 1116.7,888.1 1117,888 1117.2,887.9 1117.5,887.8 1117.7,887.7 1118,887.6 1118.2,887.4 1118.5,887.3 1118.7,887.2 1119,887.1 1119.2,887 1119.5,886.8 1119.7,886.7 1120,886.6 1120.2,886.5 1120.5,886.3 1120.7,886.2 1121,886.1 1121.2,886 1121.5,885.8 1121.7,885.7 1122,885.6 1122.2,885.4 1122.5,885.3 1122.7,885.2 1123,885.1 1123.2,884.9 1123.5,884.8 1123.7,884.7 1124,884.5 1124.2,884.4 1124.5,884.3 1124.7,884.1 1125,884 1125.2,883.9 1125.5,883.7 1125.7,883.6 1126,883.4 1126.2,883.3 1126.5,883.2 1126.7,883 1127,882.9 1127.2,882.8 1127.5,882.6 1127.7,882.5 1128,882.3 1128.2,882.2 1128.5,882 1128.7,881.9 1129,881.8 1129.2,881.6 1129.5,881.5 1129.7,881.3 1130,881.2 1130.2,881 1130.5,880.9 1130.7,880.7 1131,880.6 1131.2,880.4 1131.5,880.3 1131.7,880.1 1132,880 1132.2,879.8 1132.5,879.7 1132.7,879.5 1133,879.4 1133.2,879.2 1133.5,879 1133.7,878.9 1134,878.7 1134.2,878.6 1134.5,878.4 1134.7,878.3 1135,878.1 1135.2,877.9 1135.5,877.8 1135.7,877.6 1136,877.5 1136.2,877.3 1136.5,877.1 1136.7,877 1137,876.8 1137.2,876.6 1137.5,876.5 1137.7,876.3 1138,876.1 1138.2,876 1138.5,875.8 1138.7,875.6 1139,875.5 1139.2,875.3 1139.5,875.1 1139.7,875 1140,874.8 1140.2,874.6 1140.5,874.5 1140.7,874.3 1141,874.1 1141.2,873.9 1141.5,873.8 1141.7,873.6 1142,873.4 1142.2,873.2 1142.5,873.1 1142.7,872.9 1143,872.7 1143.2,872.5 1143.5,872.4 1143.7,872.2 1144,872 1144.2,871.8 1144.5,871.6 1144.7,871.5 1145,871.3 1145.2,871.1 1145.5,870.9 1145.7,870.7 1146,870.5 1146.2,870.4 1146.5,870.2 1146.7,870 1147,869.8 1147.2,869.6 1147.5,869.4 1147.7,869.2 1148,869.1 1148.2,868.9 1148.5,868.7 1148.7,868.5 1149,868.3 1149.2,868.1 1149.5,867.9 1149.7,867.7 1150,867.5 1150.2,867.3 1150.5,867.1 1150.7,866.9 1151,866.7 1151.2,866.6 1151.5,866.4 1151.7,866.2 1151.9,866 1152.2,865.8 1152.4,865.6 1152.7,865.4 1152.9,865.2 1153.2,865 1153.4,864.8 1153.7,864.6 1153.9,864.4 1154.2,864.2 1154.4,864 1154.7,863.8 1154.9,863.6 1155.2,863.4 1155.4,863.2 1155.7,862.9 1155.9,862.7 1156.2,862.5 1156.4,862.3 1156.7,862.1 1156.9,861.9 1157.2,861.7 1157.4,861.5 1157.7,861.3 1157.9,861.1 1158.2,860.9 1158.4,860.7 1158.7,860.5 1158.9,860.2 1159.2,860 1159.4,859.8 1159.7,859.6 1159.9,859.4 1160.2,859.2 1160.4,859 1160.7,858.8 1160.9,858.5 1161.2,858.3 1161.4,858.1 1161.7,857.9 1161.9,857.7 1162.2,857.5 1162.4,857.2 1162.7,857 1162.9,856.8 1163.2,856.6 1163.4,856.4 1163.7,856.1 1163.9,855.9 1164.2,855.7 1164.4,855.5 1164.7,855.3 1164.9,855 1165.2,854.8 1165.4,854.6 1165.7,854.4 1165.9,854.1 1166.2,853.9 1166.4,853.7 1166.7,853.5 1166.9,853.2 1167.2,853 1167.4,852.8 1167.7,852.6 1167.9,852.3 1168.2,852.1 1168.4,851.9 1168.7,851.6 1168.9,851.4 1169.2,851.2 1169.4,850.9 1169.7,850.7 1169.9,850.5 1170.2,850.3 1170.4,850 1170.7,849.8 1170.9,849.6 1171.2,849.3 1171.4,849.1 1171.7,848.9 1171.9,848.6 1172.2,848.4 1172.4,848.1 1172.7,847.9 1172.9,847.7 1173.2,847.4 1173.4,847.2 1173.7,847 1173.9,846.7 1174.2,846.5 1174.4,846.3 1174.7,846 1174.9,845.8 1175.2,845.5 1175.4,845.3 1175.7,845.1 1175.9,844.8 1176.2,844.6 1176.4,844.3 1176.7,844.1 1176.9,843.8 1177.2,843.6 1177.4,843.4 1177.7,843.1 1177.9,842.9 1178.2,842.6 1178.4,842.4 1178.7,842.1 1178.9,841.9 1179.2,841.6 1179.4,841.4 1179.7,841.2 1179.9,840.9 1180.2,840.7 1180.4,840.4 1180.7,840.2 1180.9,839.9 1181.2,839.7 1181.4,839.4 1181.7,839.2 1181.9,838.9 1182.2,838.7 1182.4,838.4 1182.7,838.2 1182.9,837.9 1183.2,837.7 1183.4,837.4 1183.7,837.2 1183.9,836.9 1184.2,836.7 1184.4,836.4 1184.7,836.2 1184.9,835.9 1185.2,835.6 1185.4,835.4 1185.7,835.1 1185.9,834.9 1186.2,834.6 1186.4,834.4 1186.7,834.1 1186.9,833.9 1187.2,833.6 1187.4,833.4 1187.6,833.1 1187.9,832.8 1188.1,832.6 1188.4,832.3 1188.6,832.1 1188.9,831.8 1189.1,831.6 1189.4,831.3 1189.6,831 1189.9,830.8 1190.1,830.5 1190.4,830.3 1190.6,830 1190.9,829.7 1191.1,829.5 1191.4,829.2 1191.6,829 1191.9,828.7 1192.1,828.4 1192.4,828.2 1192.6,827.9 1192.9,827.7 1193.1,827.4 1193.4,827.1 1193.6,826.9 1193.9,826.6 1194.1,826.4 1194.4,826.1 1194.6,825.8 1194.9,825.6 1195.1,825.3 1195.4,825 1195.6,824.8 1195.9,824.5 1196.1,824.3 1196.4,824 1196.6,823.7 1196.9,823.5 1197.1,823.2 1197.4,822.9 1197.6,822.7 1197.9,822.4 1198.1,822.1 1198.4,821.9 1198.6,821.6 1198.9,821.3 1199.1,821.1 1199.4,820.8 1199.6,820.5 1199.9,820.3 1200.1,820 1200.4,819.7 1200.6,819.5 1200.9,819.2 1201.1,818.9 1201.4,818.7 1201.6,818.4 1201.9,818.1 1202.1,817.9 1202.4,817.6 1202.6,817.3 1202.9,817.1 1203.1,816.8 1203.4,816.5 1203.6,816.3 1203.9,816 1204.1,815.7 1204.4,815.5 1204.6,815.2 1204.9,814.9 1205.1,814.7 1205.4,814.4 1205.6,814.1 1205.9,813.9 1206.1,813.6 1206.4,813.3 1206.6,813.1 1206.9,812.8 1207.1,812.5 1207.4,812.3 1207.6,812 1207.9,811.7 1208.1,811.5 1208.4,811.2 1208.6,810.9 1208.9,810.7 1209.1,810.4 1209.4,810.1 1209.6,809.9 1209.9,809.6 1210.1,809.3 1210.4,809.1 1210.6,808.8 1210.9,808.5 1211.1,808.2 1211.4,808 1211.6,807.7 1211.9,807.4 1212.1,807.2 1212.4,806.9 1212.6,806.6 1212.9,806.4 1213.1,806.1 1213.4,805.8 1213.6,805.6 1213.9,805.3 1214.1,805 1214.4,804.8 1214.6,804.5 1214.9,804.2 1215.1,804 1215.4,803.7 1215.6,803.4 1215.9,803.2 1216.1,802.9 1216.4,802.6 1216.6,802.4 1216.9,802.1 1217.1,801.8 1217.4,801.6 1217.6,801.3 1217.9,801.1 1218.1,800.8 1218.4,800.5 1218.6,800.3 1218.9,800 1219.1,799.7 1219.4,799.5 1219.6,799.2 1219.9,798.9 1220.1,798.7 1220.4,798.4 1220.6,798.1 1220.9,797.9 1221.1,797.6 1221.4,797.4 1221.6,797.1 1221.9,796.8 1222.1,796.6 1222.4,796.3 1222.6,796.1 1222.9,795.8 1223.1,795.5 1223.3,795.3 1223.6,795 1223.8,794.7 1224.1,794.5 1224.3,794.2 1224.6,794 1224.8,793.7 1225.1,793.5 1225.3,793.2 1225.6,792.9 1225.8,792.7 1226.1,792.4 1226.3,792.2 1226.6,791.9 1226.8,791.7 1227.1,791.4 1227.3,791.1 1227.6,790.9 1227.8,790.6 1228.1,790.4 1228.3,790.1 1228.6,789.9 1228.8,789.6 1229.1,789.4 1229.3,789.1 1229.6,788.9 1229.8,788.6 1230.1,788.3 1230.3,788.1 1230.6,787.8 1230.8,787.6 1231.1,787.3 1231.3,787.1 1231.6,786.8 1231.8,786.6 1232.1,786.3 1232.3,786.1 1232.6,785.9 1232.8,785.6 1233.1,785.4 1233.3,785.1 1233.6,784.9 1233.8,784.6 1234.1,784.4 1234.3,784.1 1234.6,783.9 1234.8,783.6 1235.1,783.4 1235.3,783.2 1235.6,782.9 1235.8,782.7 1236.1,782.4 1236.3,782.2 1236.6,782 1236.8,781.7 1237.1,781.5 1237.3,781.2 1237.6,781 1237.8,780.8 1238.1,780.5 1238.3,780.3 1238.6,780.1 1238.8,779.8 1239.1,779.6 1239.3,779.4 1239.6,779.1 1239.8,778.9 1240.1,778.7 1240.3,778.4 1240.6,778.2 1240.8,778 1241.1,777.7 1241.3,777.5 1241.6,777.3 1241.8,777.1 1242.1,776.8 1242.3,776.6 1242.6,776.4 1242.8,776.1 1243.1,775.9 1243.3,775.7 1243.6,775.5 1243.8,775.3 1244.1,775 1244.3,774.8 1244.6,774.6 1244.8,774.4 1245.1,774.2 1245.3,773.9 1245.6,773.7 1245.8,773.5 1246.1,773.3 1246.3,773.1 1246.6,772.9 1246.8,772.7 1247.1,772.4 1247.3,772.2 1247.6,772 1247.8,771.8 1248.1,771.6 1248.3,771.4 1248.6,771.2 1248.8,771 1249.1,770.8 1249.3,770.6 1249.6,770.4 1249.8,770.2 1250.1,770 1250.3,769.8 1250.6,769.6 1250.8,769.4 1251.1,769.2 1251.3,769 1251.6,768.8 1251.8,768.6 1252.1,768.4 1252.3,768.2 1252.6,768 1252.8,767.8 1253.1,767.6 1253.3,767.4 1253.6,767.2 1253.8,767 1254.1,766.8 1254.3,766.7 1254.6,766.5 1254.8,766.3 1255.1,766.1 1255.3,765.9 1255.6,765.7 1255.8,765.6 1256.1,765.4 1256.3,765.2 1256.6,765 1256.8,764.9 1257.1,764.7 1257.3,764.5 1257.6,764.3 1257.8,764.2 1258.1,764 1258.3,763.8 1258.6,763.6 1258.8,763.5"/></defs>
<use href="#dIMF8" class="r"/><use href="#dIMF8" class="b"/>
</g>
<g>
<path d="M1545.4 682.2V923.3M1670.2 682.2V923.3M1795.1 682.2V923.3M1420.5 842.9H1920.0M1420.5 762.6H1920.0" stroke="#e6e6e6" stroke-width="1.6" fill="none"/>
<path d="M1420.5 682.2H1920.0V923.3H1420.5ZM1545.4 923.3v-5 M1545.4 682.2v5M1670.2 923.3v-5 M1670.2 682.2v5M1795.1 923.3v-5 M1795.1 682.2v5M1420.5 842.9h5 M1920.0 842.9h-5M1420.5 762.6h5 M1920.0 762.6h-5" stroke="#222222" stroke-width="1.25" fill="none"/>
<text class="t" x="1420.8" y="958.0" text-anchor="middle">0</text>
<text class="t" x="1545.7" y="958.0" text-anchor="middle">500</text>
<text class="t" x="1670.5" y="958.0" text-anchor="middle">1000</text>
<text class="t" x="1795.4" y="958.0" text-anchor="middle">1500</text>
<text class="t" x="1920.3" y="958.0" text-anchor="middle">2000</text>
<text class="t" x="1410.8" y="932.9" text-anchor="end">2.15</text>
<text class="t" x="1410.8" y="852.5" text-anchor="end">2.2</text>
<text class="t" x="1410.8" y="772.1" text-anchor="end">2.25</text>
<text class="t" x="1410.8" y="691.8" text-anchor="end">2.3</text>
<text class="l" transform="translate(1347.1 802.2) rotate(-90) scale(.95 1.04)" text-anchor="middle">R</text>
<text class="l" x="1669.8" y="1001.6" text-anchor="middle">time (h)</text>
<defs><polyline id="dR" points="1420.7,906.2 1421,906.1 1421.2,906 1421.5,905.9 1421.7,905.9 1422,905.8 1422.2,905.7 1422.5,905.7 1422.7,905.6 1423,905.5 1423.2,905.4 1423.5,905.4 1423.7,905.3 1424,905.2 1424.2,905.2 1424.5,905.1 1424.7,905 1425,904.9 1425.2,904.9 1425.5,904.8 1425.7,904.7 1426,904.6 1426.2,904.6 1426.5,904.5 1426.7,904.4 1427,904.4 1427.2,904.3 1427.5,904.2 1427.7,904.1 1428,904.1 1428.2,904 1428.5,903.9 1428.7,903.8 1429,903.8 1429.2,903.7 1429.5,903.6 1429.7,903.5 1430,903.5 1430.2,903.4 1430.5,903.3 1430.7,903.2 1431,903.2 1431.2,903.1 1431.5,903 1431.7,902.9 1432,902.9 1432.2,902.8 1432.5,902.7 1432.7,902.6 1433,902.6 1433.2,902.5 1433.5,902.4 1433.7,902.3 1434,902.3 1434.2,902.2 1434.5,902.1 1434.7,902 1435,902 1435.2,901.9 1435.5,901.8 1435.7,901.7 1436,901.7 1436.2,901.6 1436.5,901.5 1436.7,901.4 1437,901.3 1437.2,901.3 1437.5,901.2 1437.7,901.1 1438,901 1438.2,901 1438.5,900.9 1438.7,900.8 1439,900.7 1439.2,900.7 1439.5,900.6 1439.7,900.5 1440,900.4 1440.2,900.3 1440.5,900.3 1440.7,900.2 1441,900.1 1441.2,900 1441.5,899.9 1441.7,899.9 1442,899.8 1442.2,899.7 1442.5,899.6 1442.7,899.6 1443,899.5 1443.2,899.4 1443.5,899.3 1443.7,899.2 1444,899.2 1444.2,899.1 1444.5,899 1444.7,898.9 1445,898.8 1445.2,898.8 1445.5,898.7 1445.7,898.6 1446,898.5 1446.2,898.4 1446.5,898.4 1446.7,898.3 1447,898.2 1447.2,898.1 1447.5,898 1447.7,898 1448,897.9 1448.2,897.8 1448.5,897.7 1448.7,897.6 1449,897.6 1449.2,897.5 1449.5,897.4 1449.7,897.3 1450,897.2 1450.2,897.2 1450.5,897.1 1450.7,897 1451,896.9 1451.2,896.8 1451.5,896.7 1451.7,896.7 1452,896.6 1452.2,896.5 1452.5,896.4 1452.7,896.3 1453,896.3 1453.2,896.2 1453.5,896.1 1453.7,896 1454,895.9 1454.2,895.8 1454.5,895.8 1454.7,895.7 1455,895.6 1455.2,895.5 1455.5,895.4 1455.7,895.3 1456,895.3 1456.2,895.2 1456.5,895.1 1456.7,895 1457,894.9 1457.2,894.9 1457.5,894.8 1457.7,894.7 1458,894.6 1458.2,894.5 1458.5,894.4 1458.7,894.3 1459,894.3 1459.2,894.2 1459.5,894.1 1459.7,894 1460,893.9 1460.2,893.8 1460.5,893.8 1460.7,893.7 1461,893.6 1461.2,893.5 1461.5,893.4 1461.7,893.3 1462,893.2 1462.2,893.2 1462.5,893.1 1462.7,893 1463,892.9 1463.2,892.8 1463.5,892.7 1463.7,892.7 1464,892.6 1464.2,892.5 1464.5,892.4 1464.7,892.3 1465,892.2 1465.2,892.1 1465.5,892.1 1465.7,892 1466,891.9 1466.2,891.8 1466.5,891.7 1466.7,891.6 1467,891.5 1467.2,891.4 1467.5,891.4 1467.7,891.3 1468,891.2 1468.2,891.1 1468.5,891 1468.7,890.9 1469,890.8 1469.2,890.8 1469.5,890.7 1469.7,890.6 1470,890.5 1470.2,890.4 1470.5,890.3 1470.7,890.2 1470.9,890.1 1471.2,890.1 1471.4,890 1471.7,889.9 1471.9,889.8 1472.2,889.7 1472.4,889.6 1472.7,889.5 1472.9,889.4 1473.2,889.3 1473.4,889.3 1473.7,889.2 1473.9,889.1 1474.2,889 1474.4,888.9 1474.7,888.8 1474.9,888.7 1475.2,888.6 1475.4,888.6 1475.7,888.5 1475.9,888.4 1476.2,888.3 1476.4,888.2 1476.7,888.1 1476.9,888 1477.2,887.9 1477.4,887.8 1477.7,887.7 1477.9,887.7 1478.2,887.6 1478.4,887.5 1478.7,887.4 1478.9,887.3 1479.2,887.2 1479.4,887.1 1479.7,887 1479.9,886.9 1480.2,886.8 1480.4,886.8 1480.7,886.7 1480.9,886.6 1481.2,886.5 1481.4,886.4 1481.7,886.3 1481.9,886.2 1482.2,886.1 1482.4,886 1482.7,885.9 1482.9,885.8 1483.2,885.8 1483.4,885.7 1483.7,885.6 1483.9,885.5 1484.2,885.4 1484.4,885.3 1484.7,885.2 1484.9,885.1 1485.2,885 1485.4,884.9 1485.7,884.8 1485.9,884.7 1486.2,884.7 1486.4,884.6 1486.7,884.5 1486.9,884.4 1487.2,884.3 1487.4,884.2 1487.7,884.1 1487.9,884 1488.2,883.9 1488.4,883.8 1488.7,883.7 1488.9,883.6 1489.2,883.5 1489.4,883.5 1489.7,883.4 1489.9,883.3 1490.2,883.2 1490.4,883.1 1490.7,883 1490.9,882.9 1491.2,882.8 1491.4,882.7 1491.7,882.6 1491.9,882.5 1492.2,882.4 1492.4,882.3 1492.7,882.2 1492.9,882.1 1493.2,882 1493.4,882 1493.7,881.9 1493.9,881.8 1494.2,881.7 1494.4,881.6 1494.7,881.5 1494.9,881.4 1495.2,881.3 1495.4,881.2 1495.7,881.1 1495.9,881 1496.2,880.9 1496.4,880.8 1496.7,880.7 1496.9,880.6 1497.2,880.5 1497.4,880.4 1497.7,880.3 1497.9,880.2 1498.2,880.2 1498.4,880.1 1498.7,880 1498.9,879.9 1499.2,879.8 1499.4,879.7 1499.7,879.6 1499.9,879.5 1500.2,879.4 1500.4,879.3 1500.7,879.2 1500.9,879.1 1501.2,879 1501.4,878.9 1501.7,878.8 1501.9,878.7 1502.2,878.6 1502.4,878.5 1502.7,878.4 1502.9,878.3 1503.2,878.2 1503.4,878.1 1503.7,878 1503.9,877.9 1504.2,877.8 1504.4,877.7 1504.7,877.7 1504.9,877.6 1505.2,877.5 1505.4,877.4 1505.7,877.3 1505.9,877.2 1506.2,877.1 1506.4,877 1506.7,876.9 1506.9,876.8 1507.2,876.7 1507.4,876.6 1507.7,876.5 1507.9,876.4 1508.2,876.3 1508.4,876.2 1508.7,876.1 1508.9,876 1509.2,875.9 1509.4,875.8 1509.7,875.7 1509.9,875.6 1510.2,875.5 1510.4,875.4 1510.7,875.3 1510.9,875.2 1511.2,875.1 1511.4,875 1511.7,874.9 1511.9,874.8 1512.2,874.7 1512.4,874.6 1512.7,874.5 1512.9,874.4 1513.2,874.3 1513.4,874.2 1513.7,874.1 1513.9,874 1514.2,873.9 1514.4,873.8 1514.7,873.7 1514.9,873.6 1515.2,873.5 1515.4,873.4 1515.7,873.3 1515.9,873.2 1516.2,873.1 1516.4,873 1516.7,872.9 1516.9,872.8 1517.2,872.7 1517.4,872.6 1517.7,872.5 1517.9,872.4 1518.2,872.3 1518.4,872.2 1518.7,872.1 1518.9,872 1519.2,871.9 1519.4,871.8 1519.7,871.7 1519.9,871.6 1520.2,871.5 1520.4,871.4 1520.6,871.3 1520.9,871.2 1521.1,871.1 1521.4,871 1521.6,870.9 1521.9,870.8 1522.1,870.7 1522.4,870.6 1522.6,870.5 1522.9,870.4 1523.1,870.3 1523.4,870.2 1523.6,870.1 1523.9,870 1524.1,869.9 1524.4,869.8 1524.6,869.7 1524.9,869.6 1525.1,869.5 1525.4,869.4 1525.6,869.3 1525.9,869.2 1526.1,869.1 1526.4,869 1526.6,868.9 1526.9,868.8 1527.1,868.7 1527.4,868.6 1527.6,868.5 1527.9,868.4 1528.1,868.3 1528.4,868.2 1528.6,868 1528.9,867.9 1529.1,867.8 1529.4,867.7 1529.6,867.6 1529.9,867.5 1530.1,867.4 1530.4,867.3 1530.6,867.2 1530.9,867.1 1531.1,867 1531.4,866.9 1531.6,866.8 1531.9,866.7 1532.1,866.6 1532.4,866.5 1532.6,866.4 1532.9,866.3 1533.1,866.2 1533.4,866.1 1533.6,866 1533.9,865.9 1534.1,865.8 1534.4,865.7 1534.6,865.6 1534.9,865.5 1535.1,865.4 1535.4,865.3 1535.6,865.1 1535.9,865 1536.1,864.9 1536.4,864.8 1536.6,864.7 1536.9,864.6 1537.1,864.5 1537.4,864.4 1537.6,864.3 1537.9,864.2 1538.1,864.1 1538.4,864 1538.6,863.9 1538.9,863.8 1539.1,863.7 1539.4,863.6 1539.6,863.5 1539.9,863.4 1540.1,863.3 1540.4,863.2 1540.6,863.1 1540.9,862.9 1541.1,862.8 1541.4,862.7 1541.6,862.6 1541.9,862.5 1542.1,862.4 1542.4,862.3 1542.6,862.2 1542.9,862.1 1543.1,862 1543.4,861.9 1543.6,861.8 1543.9,861.7 1544.1,861.6 1544.4,861.5 1544.6,861.4 1544.9,861.3 1545.1,861.1 1545.4,861 1545.6,860.9 1545.9,860.8 1546.1,860.7 1546.4,860.6 1546.6,860.5 1546.9,860.4 1547.1,860.3 1547.4,860.2 1547.6,860.1 1547.9,860 1548.1,859.9 1548.4,859.8 1548.6,859.7 1548.9,859.5 1549.1,859.4 1549.4,859.3 1549.6,859.2 1549.9,859.1 1550.1,859 1550.4,858.9 1550.6,858.8 1550.9,858.7 1551.1,858.6 1551.4,858.5 1551.6,858.4 1551.9,858.3 1552.1,858.1 1552.4,858 1552.6,857.9 1552.9,857.8 1553.1,857.7 1553.4,857.6 1553.6,857.5 1553.9,857.4 1554.1,857.3 1554.4,857.2 1554.6,857.1 1554.9,857 1555.1,856.9 1555.4,856.7 1555.6,856.6 1555.9,856.5 1556.1,856.4 1556.4,856.3 1556.6,856.2 1556.9,856.1 1557.1,856 1557.4,855.9 1557.6,855.8 1557.9,855.7 1558.1,855.5 1558.4,855.4 1558.6,855.3 1558.9,855.2 1559.1,855.1 1559.4,855 1559.6,854.9 1559.9,854.8 1560.1,854.7 1560.4,854.6 1560.6,854.5 1560.9,854.3 1561.1,854.2 1561.4,854.1 1561.6,854 1561.9,853.9 1562.1,853.8 1562.4,853.7 1562.6,853.6 1562.9,853.5 1563.1,853.4 1563.4,853.3 1563.6,853.1 1563.9,853 1564.1,852.9 1564.4,852.8 1564.6,852.7 1564.9,852.6 1565.1,852.5 1565.4,852.4 1565.6,852.3 1565.9,852.2 1566.1,852 1566.4,851.9 1566.6,851.8 1566.9,851.7 1567.1,851.6 1567.4,851.5 1567.6,851.4 1567.9,851.3 1568.1,851.2 1568.4,851 1568.6,850.9 1568.9,850.8 1569.1,850.7 1569.4,850.6 1569.6,850.5 1569.9,850.4 1570.1,850.3 1570.3,850.2 1570.6,850.1 1570.8,849.9 1571.1,849.8 1571.3,849.7 1571.6,849.6 1571.8,849.5 1572.1,849.4 1572.3,849.3 1572.6,849.2 1572.8,849 1573.1,848.9 1573.3,848.8 1573.6,848.7 1573.8,848.6 1574.1,848.5 1574.3,848.4 1574.6,848.3 1574.8,848.2 1575.1,848 1575.3,847.9 1575.6,847.8 1575.8,847.7 1576.1,847.6 1576.3,847.5 1576.6,847.4 1576.8,847.3 1577.1,847.1 1577.3,847 1577.6,846.9 1577.8,846.8 1578.1,846.7 1578.3,846.6 1578.6,846.5 1578.8,846.4 1579.1,846.3 1579.3,846.1 1579.6,846 1579.8,845.9 1580.1,845.8 1580.3,845.7 1580.6,845.6 1580.8,845.5 1581.1,845.4 1581.3,845.2 1581.6,845.1 1581.8,845 1582.1,844.9 1582.3,844.8 1582.6,844.7 1582.8,844.6 1583.1,844.4 1583.3,844.3 1583.6,844.2 1583.8,844.1 1584.1,844 1584.3,843.9 1584.6,843.8 1584.8,843.7 1585.1,843.5 1585.3,843.4 1585.6,843.3 1585.8,843.2 1586.1,843.1 1586.3,843 1586.6,842.9 1586.8,842.7 1587.1,842.6 1587.3,842.5 1587.6,842.4 1587.8,842.3 1588.1,842.2 1588.3,842.1 1588.6,842 1588.8,841.8 1589.1,841.7 1589.3,841.6 1589.6,841.5 1589.8,841.4 1590.1,841.3 1590.3,841.2 1590.6,841 1590.8,840.9 1591.1,840.8 1591.3,840.7 1591.6,840.6 1591.8,840.5 1592.1,840.4 1592.3,840.2 1592.6,840.1 1592.8,840 1593.1,839.9 1593.3,839.8 1593.6,839.7 1593.8,839.6 1594.1,839.4 1594.3,839.3 1594.6,839.2 1594.8,839.1 1595.1,839 1595.3,838.9 1595.6,838.8 1595.8,838.6 1596.1,838.5 1596.3,838.4 1596.6,838.3 1596.8,838.2 1597.1,838.1 1597.3,838 1597.6,837.8 1597.8,837.7 1598.1,837.6 1598.3,837.5 1598.6,837.4 1598.8,837.3 1599.1,837.1 1599.3,837 1599.6,836.9 1599.8,836.8 1600.1,836.7 1600.3,836.6 1600.6,836.5 1600.8,836.3 1601.1,836.2 1601.3,836.1 1601.6,836 1601.8,835.9 1602.1,835.8 1602.3,835.6 1602.6,835.5 1602.8,835.4 1603.1,835.3 1603.3,835.2 1603.6,835.1 1603.8,835 1604.1,834.8 1604.3,834.7 1604.6,834.6 1604.8,834.5 1605.1,834.4 1605.3,834.3 1605.6,834.1 1605.8,834 1606.1,833.9 1606.3,833.8 1606.6,833.7 1606.8,833.6 1607.1,833.4 1607.3,833.3 1607.6,833.2 1607.8,833.1 1608.1,833 1608.3,832.9 1608.6,832.7 1608.8,832.6 1609.1,832.5 1609.3,832.4 1609.6,832.3 1609.8,832.2 1610.1,832 1610.3,831.9 1610.6,831.8 1610.8,831.7 1611.1,831.6 1611.3,831.5 1611.6,831.3 1611.8,831.2 1612.1,831.1 1612.3,831 1612.6,830.9 1612.8,830.8 1613.1,830.6 1613.3,830.5 1613.6,830.4 1613.8,830.3 1614.1,830.2 1614.3,830.1 1614.6,829.9 1614.8,829.8 1615.1,829.7 1615.3,829.6 1615.6,829.5 1615.8,829.4 1616.1,829.2 1616.3,829.1 1616.6,829 1616.8,828.9 1617.1,828.8 1617.3,828.7 1617.6,828.5 1617.8,828.4 1618.1,828.3 1618.3,828.2 1618.6,828.1 1618.8,828 1619.1,827.8 1619.3,827.7 1619.6,827.6 1619.8,827.5 1620.1,827.4 1620.3,827.3 1620.5,827.1 1620.8,827 1621,826.9 1621.3,826.8 1621.5,826.7 1621.8,826.5 1622,826.4 1622.3,826.3 1622.5,826.2 1622.8,826.1 1623,826 1623.3,825.8 1623.5,825.7 1623.8,825.6 1624,825.5 1624.3,825.4 1624.5,825.2 1624.8,825.1 1625,825 1625.3,824.9 1625.5,824.8 1625.8,824.7 1626,824.5 1626.3,824.4 1626.5,824.3 1626.8,824.2 1627,824.1 1627.3,824 1627.5,823.8 1627.8,823.7 1628,823.6 1628.3,823.5 1628.5,823.4 1628.8,823.2 1629,823.1 1629.3,823 1629.5,822.9 1629.8,822.8 1630,822.7 1630.3,822.5 1630.5,822.4 1630.8,822.3 1631,822.2 1631.3,822.1 1631.5,821.9 1631.8,821.8 1632,821.7 1632.3,821.6 1632.5,821.5 1632.8,821.3 1633,821.2 1633.3,821.1 1633.5,821 1633.8,820.9 1634,820.8 1634.3,820.6 1634.5,820.5 1634.8,820.4 1635,820.3 1635.3,820.2 1635.5,820 1635.8,819.9 1636,819.8 1636.3,819.7 1636.5,819.6 1636.8,819.4 1637,819.3 1637.3,819.2 1637.5,819.1 1637.8,819 1638,818.9 1638.3,818.7 1638.5,818.6 1638.8,818.5 1639,818.4 1639.3,818.3 1639.5,818.1 1639.8,818 1640,817.9 1640.3,817.8 1640.5,817.7 1640.8,817.5 1641,817.4 1641.3,817.3 1641.5,817.2 1641.8,817.1 1642,816.9 1642.3,816.8 1642.5,816.7 1642.8,816.6 1643,816.5 1643.3,816.4 1643.5,816.2 1643.8,816.1 1644,816 1644.3,815.9 1644.5,815.8 1644.8,815.6 1645,815.5 1645.3,815.4 1645.5,815.3 1645.8,815.2 1646,815 1646.3,814.9 1646.5,814.8 1646.8,814.7 1647,814.6 1647.3,814.4 1647.5,814.3 1647.8,814.2 1648,814.1 1648.3,814 1648.5,813.8 1648.8,813.7 1649,813.6 1649.3,813.5 1649.5,813.4 1649.8,813.2 1650,813.1 1650.3,813 1650.5,812.9 1650.8,812.8 1651,812.6 1651.3,812.5 1651.5,812.4 1651.8,812.3 1652,812.2 1652.3,812 1652.5,811.9 1652.8,811.8 1653,811.7 1653.3,811.6 1653.5,811.4 1653.8,811.3 1654,811.2 1654.3,811.1 1654.5,811 1654.8,810.9 1655,810.7 1655.3,810.6 1655.5,810.5 1655.8,810.4 1656,810.3 1656.3,810.1 1656.5,810 1656.8,809.9 1657,809.8 1657.3,809.7 1657.5,809.5 1657.8,809.4 1658,809.3 1658.3,809.2 1658.5,809.1 1658.8,808.9 1659,808.8 1659.3,808.7 1659.5,808.6 1659.8,808.5 1660,808.3 1660.3,808.2 1660.5,808.1 1660.8,808 1661,807.9 1661.3,807.7 1661.5,807.6 1661.8,807.5 1662,807.4 1662.3,807.3 1662.5,807.1 1662.8,807 1663,806.9 1663.3,806.8 1663.5,806.6 1663.8,806.5 1664,806.4 1664.3,806.3 1664.5,806.2 1664.8,806 1665,805.9 1665.3,805.8 1665.5,805.7 1665.8,805.6 1666,805.4 1666.3,805.3 1666.5,805.2 1666.8,805.1 1667,805 1667.3,804.8 1667.5,804.7 1667.8,804.6 1668,804.5 1668.3,804.4 1668.5,804.2 1668.8,804.1 1669,804 1669.3,803.9 1669.5,803.8 1669.8,803.6 1670,803.5 1670.2,803.4 1670.5,803.3 1670.7,803.2 1671,803 1671.2,802.9 1671.5,802.8 1671.7,802.7 1672,802.6 1672.2,802.4 1672.5,802.3 1672.7,802.2 1673,802.1 1673.2,802 1673.5,801.8 1673.7,801.7 1674,801.6 1674.2,801.5 1674.5,801.4 1674.7,801.2 1675,801.1 1675.2,801 1675.5,800.9 1675.7,800.8 1676,800.6 1676.2,800.5 1676.5,800.4 1676.7,800.3 1677,800.2 1677.2,800 1677.5,799.9 1677.7,799.8 1678,799.7 1678.2,799.6 1678.5,799.4 1678.7,799.3 1679,799.2 1679.2,799.1 1679.5,798.9 1679.7,798.8 1680,798.7 1680.2,798.6 1680.5,798.5 1680.7,798.3 1681,798.2 1681.2,798.1 1681.5,798 1681.7,797.9 1682,797.7 1682.2,797.6 1682.5,797.5 1682.7,797.4 1683,797.3 1683.2,797.1 1683.5,797 1683.7,796.9 1684,796.8 1684.2,796.7 1684.5,796.5 1684.7,796.4 1685,796.3 1685.2,796.2 1685.5,796.1 1685.7,795.9 1686,795.8 1686.2,795.7 1686.5,795.6 1686.7,795.5 1687,795.3 1687.2,795.2 1687.5,795.1 1687.7,795 1688,794.9 1688.2,794.7 1688.5,794.6 1688.7,794.5 1689,794.4 1689.2,794.3 1689.5,794.1 1689.7,794 1690,793.9 1690.2,793.8 1690.5,793.7 1690.7,793.5 1691,793.4 1691.2,793.3 1691.5,793.2 1691.7,793 1692,792.9 1692.2,792.8 1692.5,792.7 1692.7,792.6 1693,792.4 1693.2,792.3 1693.5,792.2 1693.7,792.1 1694,792 1694.2,791.8 1694.5,791.7 1694.7,791.6 1695,791.5 1695.2,791.4 1695.5,791.2 1695.7,791.1 1696,791 1696.2,790.9 1696.5,790.8 1696.7,790.6 1697,790.5 1697.2,790.4 1697.5,790.3 1697.7,790.2 1698,790 1698.2,789.9 1698.5,789.8 1698.7,789.7 1699,789.6 1699.2,789.4 1699.5,789.3 1699.7,789.2 1700,789.1 1700.2,789 1700.5,788.8 1700.7,788.7 1701,788.6 1701.2,788.5 1701.5,788.4 1701.7,788.2 1702,788.1 1702.2,788 1702.5,787.9 1702.7,787.8 1703,787.6 1703.2,787.5 1703.5,787.4 1703.7,787.3 1704,787.2 1704.2,787 1704.5,786.9 1704.7,786.8 1705,786.7 1705.2,786.6 1705.5,786.4 1705.7,786.3 1706,786.2 1706.2,786.1 1706.5,786 1706.7,785.8 1707,785.7 1707.2,785.6 1707.5,785.5 1707.7,785.4 1708,785.2 1708.2,785.1 1708.5,785 1708.7,784.9 1709,784.8 1709.2,784.6 1709.5,784.5 1709.7,784.4 1710,784.3 1710.2,784.2 1710.5,784 1710.7,783.9 1711,783.8 1711.2,783.7 1711.5,783.6 1711.7,783.4 1712,783.3 1712.2,783.2 1712.5,783.1 1712.7,783 1713,782.8 1713.2,782.7 1713.5,782.6 1713.7,782.5 1714,782.4 1714.2,782.2 1714.5,782.1 1714.7,782 1715,781.9 1715.2,781.8 1715.5,781.7 1715.7,781.5 1716,781.4 1716.2,781.3 1716.5,781.2 1716.7,781.1 1717,780.9 1717.2,780.8 1717.5,780.7 1717.7,780.6 1718,780.5 1718.2,780.3 1718.5,780.2 1718.7,780.1 1719,780 1719.2,779.9 1719.5,779.7 1719.7,779.6 1720,779.5 1720.2,779.4 1720.4,779.3 1720.7,779.1 1720.9,779 1721.2,778.9 1721.4,778.8 1721.7,778.7 1721.9,778.5 1722.2,778.4 1722.4,778.3 1722.7,778.2 1722.9,778.1 1723.2,778 1723.4,777.8 1723.7,777.7 1723.9,777.6 1724.2,777.5 1724.4,777.4 1724.7,777.2 1724.9,777.1 1725.2,777 1725.4,776.9 1725.7,776.8 1725.9,776.6 1726.2,776.5 1726.4,776.4 1726.7,776.3 1726.9,776.2 1727.2,776.1 1727.4,775.9 1727.7,775.8 1727.9,775.7 1728.2,775.6 1728.4,775.5 1728.7,775.3 1728.9,775.2 1729.2,775.1 1729.4,775 1729.7,774.9 1729.9,774.7 1730.2,774.6 1730.4,774.5 1730.7,774.4 1730.9,774.3 1731.2,774.2 1731.4,774 1731.7,773.9 1731.9,773.8 1732.2,773.7 1732.4,773.6 1732.7,773.4 1732.9,773.3 1733.2,773.2 1733.4,773.1 1733.7,773 1733.9,772.9 1734.2,772.7 1734.4,772.6 1734.7,772.5 1734.9,772.4 1735.2,772.3 1735.4,772.1 1735.7,772 1735.9,771.9 1736.2,771.8 1736.4,771.7 1736.7,771.6 1736.9,771.4 1737.2,771.3 1737.4,771.2 1737.7,771.1 1737.9,771 1738.2,770.8 1738.4,770.7 1738.7,770.6 1738.9,770.5 1739.2,770.4 1739.4,770.3 1739.7,770.1 1739.9,770 1740.2,769.9 1740.4,769.8 1740.7,769.7 1740.9,769.6 1741.2,769.4 1741.4,769.3 1741.7,769.2 1741.9,769.1 1742.2,769 1742.4,768.8 1742.7,768.7 1742.9,768.6 1743.2,768.5 1743.4,768.4 1743.7,768.3 1743.9,768.1 1744.2,768 1744.4,767.9 1744.7,767.8 1744.9,767.7 1745.2,767.6 1745.4,767.4 1745.7,767.3 1745.9,767.2 1746.2,767.1 1746.4,767 1746.7,766.9 1746.9,766.7 1747.2,766.6 1747.4,766.5 1747.7,766.4 1747.9,766.3 1748.2,766.2 1748.4,766 1748.7,765.9 1748.9,765.8 1749.2,765.7 1749.4,765.6 1749.7,765.5 1749.9,765.3 1750.2,765.2 1750.4,765.1 1750.7,765 1750.9,764.9 1751.2,764.8 1751.4,764.6 1751.7,764.5 1751.9,764.4 1752.2,764.3 1752.4,764.2 1752.7,764.1 1752.9,763.9 1753.2,763.8 1753.4,763.7 1753.7,763.6 1753.9,763.5 1754.2,763.4 1754.4,763.2 1754.7,763.1 1754.9,763 1755.2,762.9 1755.4,762.8 1755.7,762.7 1755.9,762.5 1756.2,762.4 1756.4,762.3 1756.7,762.2 1756.9,762.1 1757.2,762 1757.4,761.9 1757.7,761.7 1757.9,761.6 1758.2,761.5 1758.4,761.4 1758.7,761.3 1758.9,761.2 1759.2,761 1759.4,760.9 1759.7,760.8 1759.9,760.7 1760.2,760.6 1760.4,760.5 1760.7,760.4 1760.9,760.2 1761.2,760.1 1761.4,760 1761.7,759.9 1761.9,759.8 1762.2,759.7 1762.4,759.5 1762.7,759.4 1762.9,759.3 1763.2,759.2 1763.4,759.1 1763.7,759 1763.9,758.9 1764.2,758.7 1764.4,758.6 1764.7,758.5 1764.9,758.4 1765.2,758.3 1765.4,758.2 1765.7,758.1 1765.9,757.9 1766.2,757.8 1766.4,757.7 1766.7,757.6 1766.9,757.5 1767.2,757.4 1767.4,757.3 1767.7,757.1 1767.9,757 1768.2,756.9 1768.4,756.8 1768.7,756.7 1768.9,756.6 1769.2,756.5 1769.4,756.3 1769.7,756.2 1769.9,756.1 1770.2,756 1770.4,755.9 1770.6,755.8 1770.9,755.7 1771.1,755.5 1771.4,755.4 1771.6,755.3 1771.9,755.2 1772.1,755.1 1772.4,755 1772.6,754.9 1772.9,754.7 1773.1,754.6 1773.4,754.5 1773.6,754.4 1773.9,754.3 1774.1,754.2 1774.4,754.1 1774.6,754 1774.9,753.8 1775.1,753.7 1775.4,753.6 1775.6,753.5 1775.9,753.4 1776.1,753.3 1776.4,753.2 1776.6,753 1776.9,752.9 1777.1,752.8 1777.4,752.7 1777.6,752.6 1777.9,752.5 1778.1,752.4 1778.4,752.3 1778.6,752.1 1778.9,752 1779.1,751.9 1779.4,751.8 1779.6,751.7 1779.9,751.6 1780.1,751.5 1780.4,751.4 1780.6,751.2 1780.9,751.1 1781.1,751 1781.4,750.9 1781.6,750.8 1781.9,750.7 1782.1,750.6 1782.4,750.5 1782.6,750.3 1782.9,750.2 1783.1,750.1 1783.4,750 1783.6,749.9 1783.9,749.8 1784.1,749.7 1784.4,749.6 1784.6,749.5 1784.9,749.3 1785.1,749.2 1785.4,749.1 1785.6,749 1785.9,748.9 1786.1,748.8 1786.4,748.7 1786.6,748.6 1786.9,748.4 1787.1,748.3 1787.4,748.2 1787.6,748.1 1787.9,748 1788.1,747.9 1788.4,747.8 1788.6,747.7 1788.9,747.6 1789.1,747.4 1789.4,747.3 1789.6,747.2 1789.9,747.1 1790.1,747 1790.4,746.9 1790.6,746.8 1790.9,746.7 1791.1,746.6 1791.4,746.5 1791.6,746.3 1791.9,746.2 1792.1,746.1 1792.4,746 1792.6,745.9 1792.9,745.8 1793.1,745.7 1793.4,745.6 1793.6,745.5 1793.9,745.3 1794.1,745.2 1794.4,745.1 1794.6,745 1794.9,744.9 1795.1,744.8 1795.4,744.7 1795.6,744.6 1795.9,744.5 1796.1,744.4 1796.4,744.3 1796.6,744.1 1796.9,744 1797.1,743.9 1797.4,743.8 1797.6,743.7 1797.9,743.6 1798.1,743.5 1798.4,743.4 1798.6,743.3 1798.9,743.2 1799.1,743.1 1799.4,742.9 1799.6,742.8 1799.9,742.7 1800.1,742.6 1800.4,742.5 1800.6,742.4 1800.9,742.3 1801.1,742.2 1801.4,742.1 1801.6,742 1801.9,741.9 1802.1,741.7 1802.4,741.6 1802.6,741.5 1802.9,741.4 1803.1,741.3 1803.4,741.2 1803.6,741.1 1803.9,741 1804.1,740.9 1804.4,740.8 1804.6,740.7 1804.9,740.6 1805.1,740.4 1805.4,740.3 1805.6,740.2 1805.9,740.1 1806.1,740 1806.4,739.9 1806.6,739.8 1806.9,739.7 1807.1,739.6 1807.4,739.5 1807.6,739.4 1807.9,739.3 1808.1,739.2 1808.4,739.1 1808.6,738.9 1808.9,738.8 1809.1,738.7 1809.4,738.6 1809.6,738.5 1809.9,738.4 1810.1,738.3 1810.4,738.2 1810.6,738.1 1810.9,738 1811.1,737.9 1811.4,737.8 1811.6,737.7 1811.9,737.6 1812.1,737.5 1812.4,737.3 1812.6,737.2 1812.9,737.1 1813.1,737 1813.4,736.9 1813.6,736.8 1813.9,736.7 1814.1,736.6 1814.4,736.5 1814.6,736.4 1814.9,736.3 1815.1,736.2 1815.4,736.1 1815.6,736 1815.9,735.9 1816.1,735.8 1816.4,735.7 1816.6,735.5 1816.9,735.4 1817.1,735.3 1817.4,735.2 1817.6,735.1 1817.9,735 1818.1,734.9 1818.4,734.8 1818.6,734.7 1818.9,734.6 1819.1,734.5 1819.4,734.4 1819.6,734.3 1819.9,734.2 1820.1,734.1 1820.3,734 1820.6,733.9 1820.8,733.8 1821.1,733.7 1821.3,733.6 1821.6,733.5 1821.8,733.4 1822.1,733.2 1822.3,733.1 1822.6,733 1822.8,732.9 1823.1,732.8 1823.3,732.7 1823.6,732.6 1823.8,732.5 1824.1,732.4 1824.3,732.3 1824.6,732.2 1824.8,732.1 1825.1,732 1825.3,731.9 1825.6,731.8 1825.8,731.7 1826.1,731.6 1826.3,731.5 1826.6,731.4 1826.8,731.3 1827.1,731.2 1827.3,731.1 1827.6,731 1827.8,730.9 1828.1,730.8 1828.3,730.7 1828.6,730.6 1828.8,730.5 1829.1,730.4 1829.3,730.3 1829.6,730.2 1829.8,730.1 1830.1,730 1830.3,729.8 1830.6,729.7 1830.8,729.6 1831.1,729.5 1831.3,729.4 1831.6,729.3 1831.8,729.2 1832.1,729.1 1832.3,729 1832.6,728.9 1832.8,728.8 1833.1,728.7 1833.3,728.6 1833.6,728.5 1833.8,728.4 1834.1,728.3 1834.3,728.2 1834.6,728.1 1834.8,728 1835.1,727.9 1835.3,727.8 1835.6,727.7 1835.8,727.6 1836.1,727.5 1836.3,727.4 1836.6,727.3 1836.8,727.2 1837.1,727.1 1837.3,727 1837.6,726.9 1837.8,726.8 1838.1,726.7 1838.3,726.6 1838.6,726.5 1838.8,726.4 1839.1,726.3 1839.3,726.2 1839.6,726.1 1839.8,726 1840.1,725.9 1840.3,725.8 1840.6,725.7 1840.8,725.6 1841.1,725.5 1841.3,725.4 1841.6,725.3 1841.8,725.2 1842.1,725.1 1842.3,725 1842.6,724.9 1842.8,724.8 1843.1,724.7 1843.3,724.6 1843.6,724.5 1843.8,724.4 1844.1,724.3 1844.3,724.2 1844.6,724.1 1844.8,724 1845.1,724 1845.3,723.9 1845.6,723.8 1845.8,723.7 1846.1,723.6 1846.3,723.5 1846.6,723.4 1846.8,723.3 1847.1,723.2 1847.3,723.1 1847.6,723 1847.8,722.9 1848.1,722.8 1848.3,722.7 1848.6,722.6 1848.8,722.5 1849.1,722.4 1849.3,722.3 1849.6,722.2 1849.8,722.1 1850.1,722 1850.3,721.9 1850.6,721.8 1850.8,721.7 1851.1,721.6 1851.3,721.5 1851.6,721.4 1851.8,721.3 1852.1,721.2 1852.3,721.1 1852.6,721 1852.8,720.9 1853.1,720.9 1853.3,720.8 1853.6,720.7 1853.8,720.6 1854.1,720.5 1854.3,720.4 1854.6,720.3 1854.8,720.2 1855.1,720.1 1855.3,720 1855.6,719.9 1855.8,719.8 1856.1,719.7 1856.3,719.6 1856.6,719.5 1856.8,719.4 1857.1,719.3 1857.3,719.2 1857.6,719.1 1857.8,719 1858.1,719 1858.3,718.9 1858.6,718.8 1858.8,718.7 1859.1,718.6 1859.3,718.5 1859.6,718.4 1859.8,718.3 1860.1,718.2 1860.3,718.1 1860.6,718 1860.8,717.9 1861.1,717.8 1861.3,717.7 1861.6,717.6 1861.8,717.5 1862.1,717.5 1862.3,717.4 1862.6,717.3 1862.8,717.2 1863.1,717.1 1863.3,717 1863.6,716.9 1863.8,716.8 1864.1,716.7 1864.3,716.6 1864.6,716.5 1864.8,716.4 1865.1,716.3 1865.3,716.3 1865.6,716.2 1865.8,716.1 1866.1,716 1866.3,715.9 1866.6,715.8 1866.8,715.7 1867.1,715.6 1867.3,715.5 1867.6,715.4 1867.8,715.3 1868.1,715.2 1868.3,715.2 1868.6,715.1 1868.8,715 1869.1,714.9 1869.3,714.8 1869.6,714.7 1869.8,714.6 1870,714.5 1870.3,714.4 1870.5,714.3 1870.8,714.3 1871,714.2 1871.3,714.1 1871.5,714 1871.8,713.9 1872,713.8 1872.3,713.7 1872.5,713.6 1872.8,713.5 1873,713.4 1873.3,713.4 1873.5,713.3 1873.8,713.2 1874,713.1 1874.3,713 1874.5,712.9 1874.8,712.8 1875,712.7 1875.3,712.6 1875.5,712.6 1875.8,712.5 1876,712.4 1876.3,712.3 1876.5,712.2 1876.8,712.1 1877,712 1877.3,711.9 1877.5,711.8 1877.8,711.8 1878,711.7 1878.3,711.6 1878.5,711.5 1878.8,711.4 1879,711.3 1879.3,711.2 1879.5,711.1 1879.8,711.1 1880,711 1880.3,710.9 1880.5,710.8 1880.8,710.7 1881,710.6 1881.3,710.5 1881.5,710.5 1881.8,710.4 1882,710.3 1882.3,710.2 1882.5,710.1 1882.8,710 1883,709.9 1883.3,709.8 1883.5,709.8 1883.8,709.7 1884,709.6 1884.3,709.5 1884.5,709.4 1884.8,709.3 1885,709.2 1885.3,709.2 1885.5,709.1 1885.8,709 1886,708.9 1886.3,708.8 1886.5,708.7 1886.8,708.7 1887,708.6 1887.3,708.5 1887.5,708.4 1887.8,708.3 1888,708.2 1888.3,708.1 1888.5,708.1 1888.8,708 1889,707.9 1889.3,707.8 1889.5,707.7 1889.8,707.6 1890,707.6 1890.3,707.5 1890.5,707.4 1890.8,707.3 1891,707.2 1891.3,707.1 1891.5,707.1 1891.8,707 1892,706.9 1892.3,706.8 1892.5,706.7 1892.8,706.6 1893,706.6 1893.3,706.5 1893.5,706.4 1893.8,706.3 1894,706.2 1894.3,706.2 1894.5,706.1 1894.8,706 1895,705.9 1895.3,705.8 1895.5,705.7 1895.8,705.7 1896,705.6 1896.3,705.5 1896.5,705.4 1896.8,705.3 1897,705.3 1897.3,705.2 1897.5,705.1 1897.8,705 1898,704.9 1898.3,704.9 1898.5,704.8 1898.8,704.7 1899,704.6 1899.3,704.5 1899.5,704.5 1899.8,704.4 1900,704.3 1900.3,704.2 1900.5,704.1 1900.8,704.1 1901,704 1901.3,703.9 1901.5,703.8 1901.8,703.7 1902,703.7 1902.3,703.6 1902.5,703.5 1902.8,703.4 1903,703.3 1903.3,703.3 1903.5,703.2 1903.8,703.1 1904,703 1904.3,703 1904.5,702.9 1904.8,702.8 1905,702.7 1905.3,702.6 1905.5,702.6 1905.8,702.5 1906,702.4 1906.3,702.3 1906.5,702.3 1906.8,702.2 1907,702.1 1907.3,702 1907.5,701.9 1907.8,701.9 1908,701.8 1908.3,701.7 1908.5,701.6 1908.8,701.6 1909,701.5 1909.3,701.4 1909.5,701.3 1909.8,701.3 1910,701.2 1910.3,701.1 1910.5,701 1910.8,701 1911,700.9 1911.3,700.8 1911.5,700.7 1911.8,700.7 1912,700.6 1912.3,700.5 1912.5,700.4 1912.8,700.4 1913,700.3 1913.3,700.2 1913.5,700.1 1913.8,700.1 1914,700 1914.3,699.9 1914.5,699.8 1914.8,699.8 1915,699.7 1915.3,699.6 1915.5,699.5 1915.8,699.5 1916,699.4 1916.3,699.3 1916.5,699.2 1916.8,699.2 1917,699.1 1917.3,699 1917.5,699 1917.8,698.9 1918,698.8 1918.3,698.7 1918.5,698.7 1918.8,698.6 1919,698.5 1919.3,698.5 1919.5,698.4 1919.8,698.3 1920,698.2"/></defs>
<use href="#dR" class="r"/><use href="#dR" class="b"/>
</g>
<g><rect x="1449.9" y="692.9" width="168.5" height="66.5" fill="#fff" stroke="#2e2e2e" stroke-width="1.4"/><path d="M1474 710.7h11M1479.5 705.2v11" stroke="#f00" stroke-width="1.1" fill="none"/><path d="M1454.8 741.7H1504.4" stroke="#00f" stroke-width="1.1" fill="none"/><text class="g" x="1507.4" y="718.8">predicted</text><text class="g" x="1507.4" y="750.6">measured</text></g>
</svg>
</body></html>
